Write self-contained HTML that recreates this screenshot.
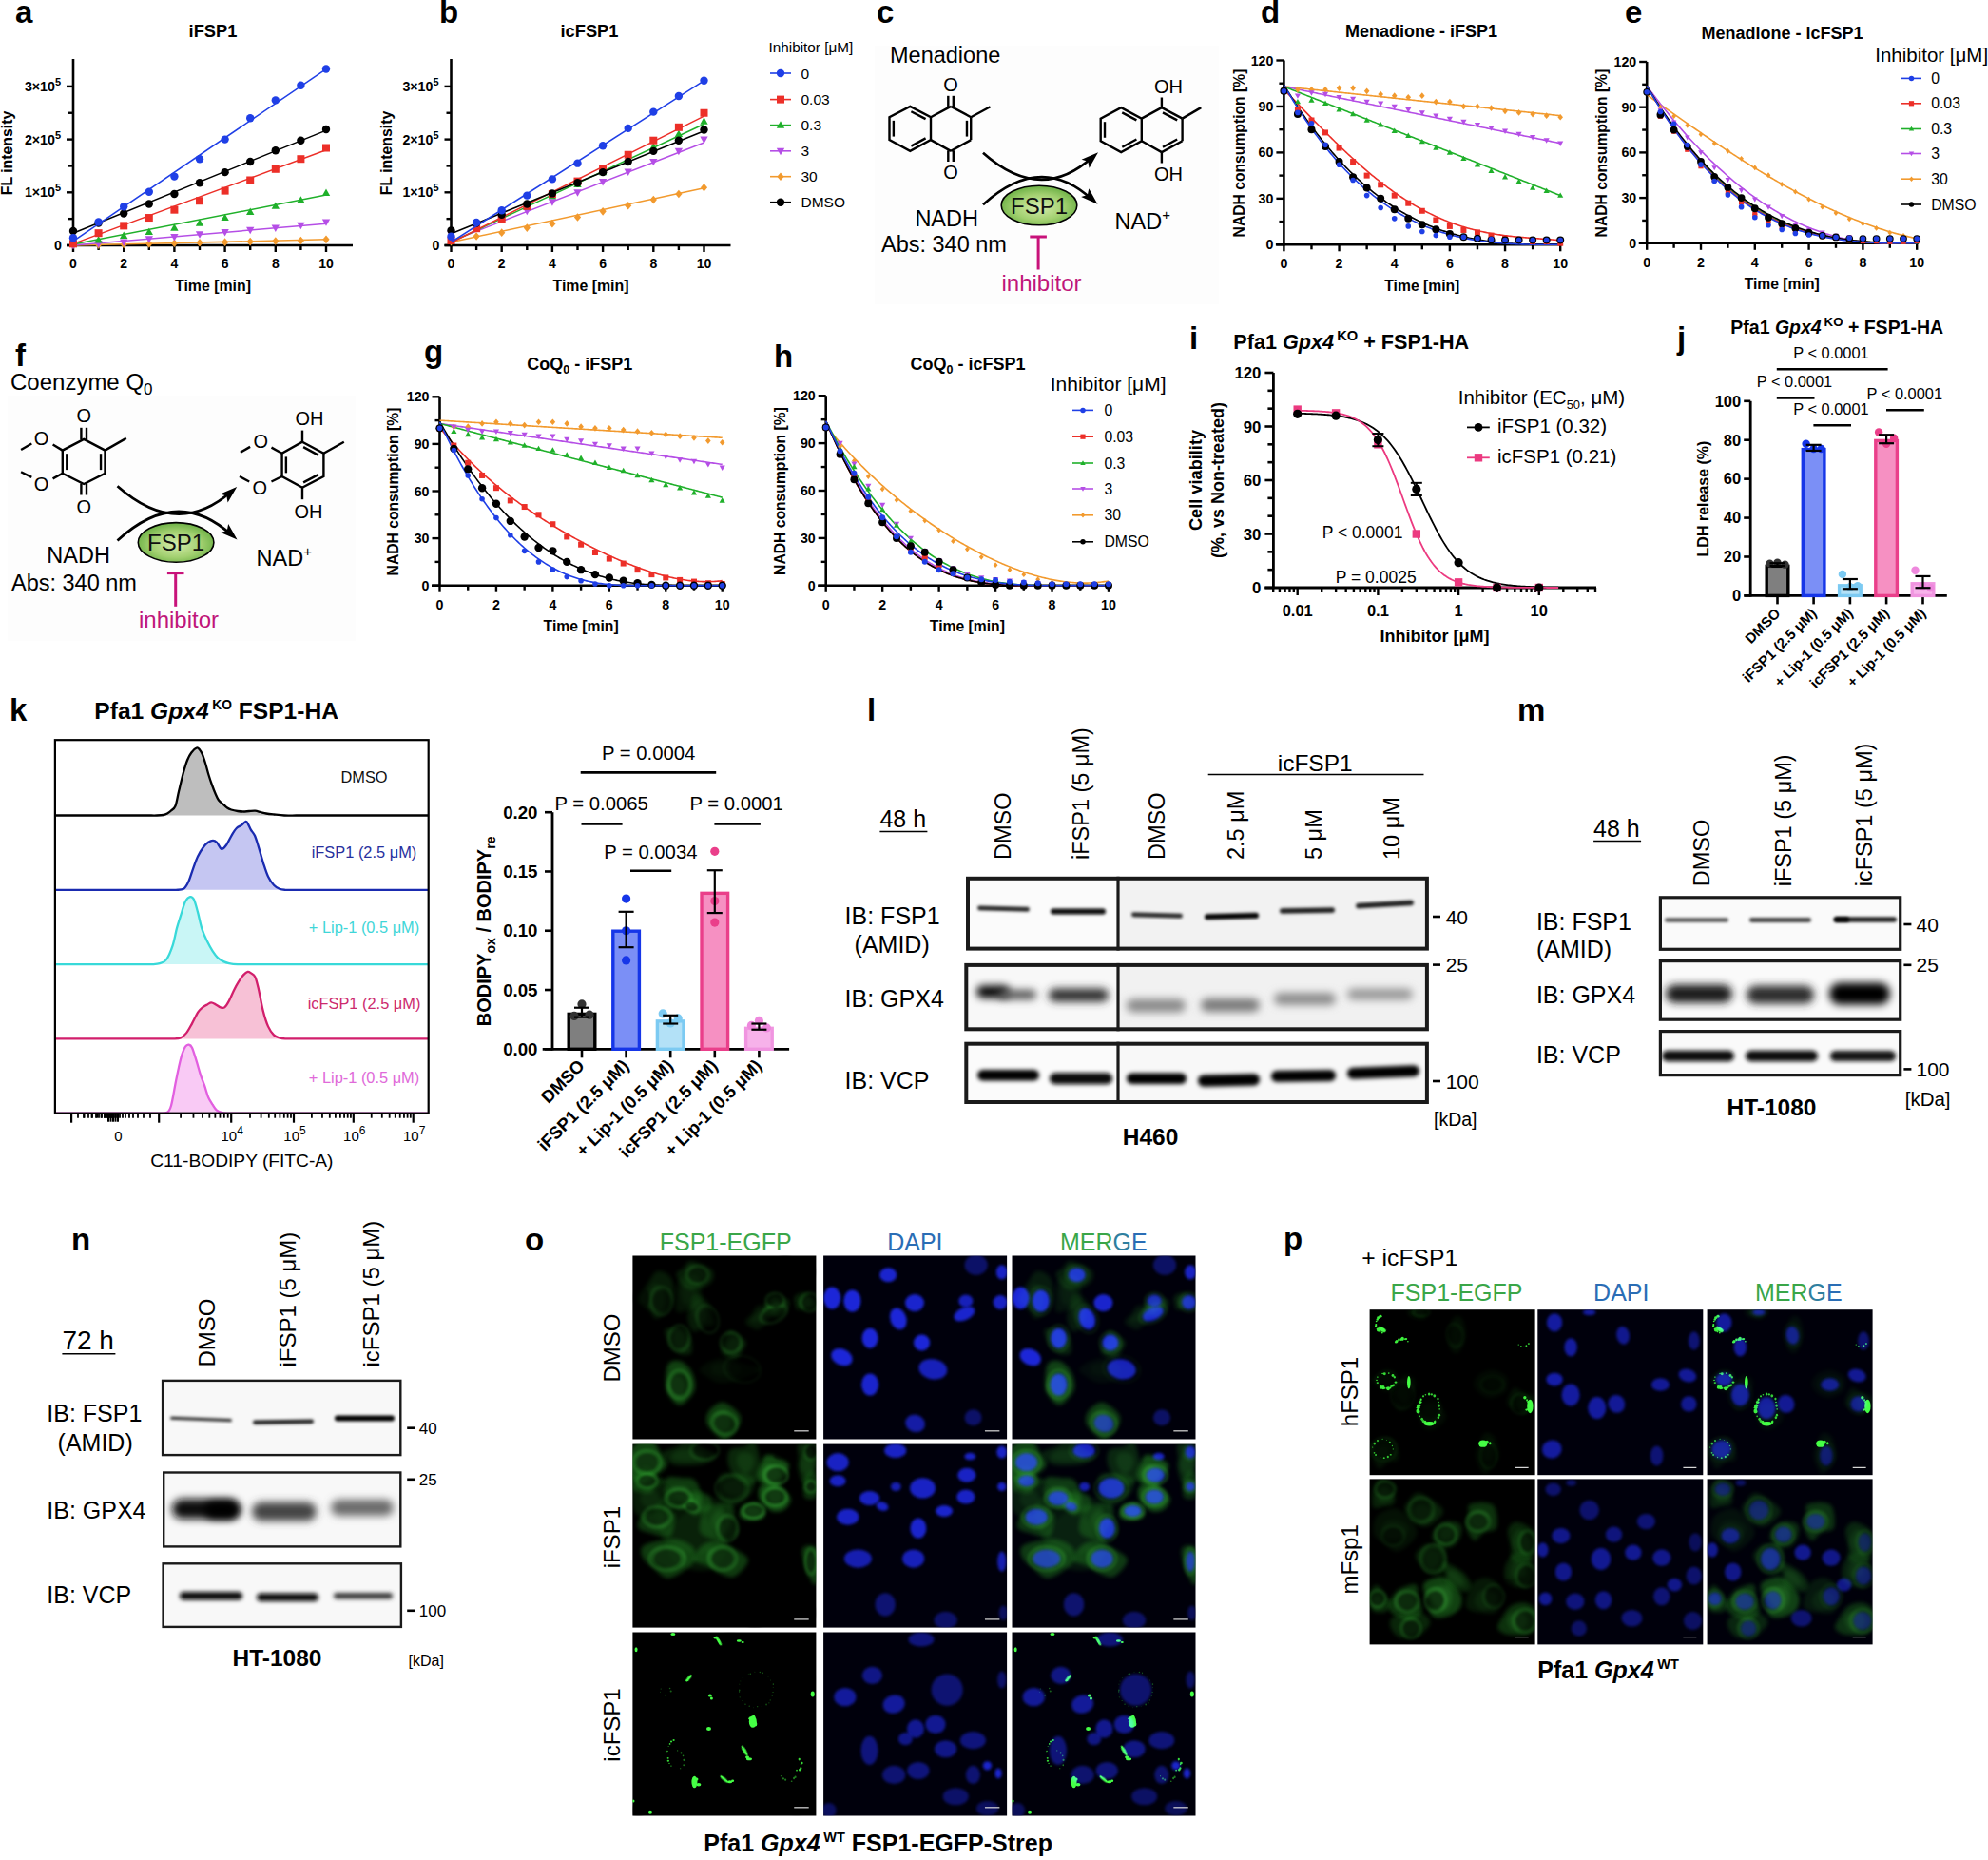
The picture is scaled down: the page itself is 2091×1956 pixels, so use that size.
<!DOCTYPE html>
<html lang="en"><head><meta charset="utf-8"><title>FSP1 inhibitor figure</title>
<style>
html,body{margin:0;padding:0;background:#fff;width:2091px;height:1956px;overflow:hidden;}
svg{display:block;}
svg text{font-family:"Liberation Sans", Arial, Helvetica, sans-serif;}
</style></head><body>
<svg width="2091" height="1956" viewBox="0 0 2091 1956">
<defs>
<radialGradient id="fspgrad" cx="0.5" cy="0.55" r="0.6"><stop offset="0" stop-color="#d6ecac"/><stop offset="0.55" stop-color="#a2d070"/><stop offset="1" stop-color="#5ea83a"/></radialGradient>
<filter id="b1" x="-20%" y="-200%" width="140%" height="500%"><feGaussianBlur stdDeviation="1.5"/></filter>
<filter id="b2" x="-20%" y="-100%" width="140%" height="300%"><feGaussianBlur stdDeviation="2.3"/></filter>
<filter id="b3" x="-30%" y="-100%" width="160%" height="300%"><feGaussianBlur stdDeviation="4.2"/></filter>
<filter id="gb4" x="-50%" y="-50%" width="200%" height="200%"><feGaussianBlur stdDeviation="4"/></filter>
<filter id="gb2" x="-50%" y="-50%" width="200%" height="200%"><feGaussianBlur stdDeviation="2.2"/></filter>
<filter id="gb1" x="-50%" y="-50%" width="200%" height="200%"><feGaussianBlur stdDeviation="1.2"/></filter>
<filter id="gb15" x="-50%" y="-50%" width="200%" height="200%"><feGaussianBlur stdDeviation="1.6"/></filter>
<filter id="gb3" x="-50%" y="-50%" width="200%" height="200%"><feGaussianBlur stdDeviation="3"/></filter>
<filter id="gb06" x="-100%" y="-100%" width="300%" height="300%"><feGaussianBlur stdDeviation="0.6"/></filter>
<clipPath id="clipL"><rect x="1016" y="921.8" width="487" height="78"/><rect x="1014.3" y="1012.9" width="488.6" height="71.4"/><rect x="1014.3" y="1095.7" width="488.6" height="65.3"/></clipPath>
<clipPath id="clipM"><rect x="1744.8" y="942.2" width="255.5" height="57.7"/><rect x="1744.8" y="1009" width="255.5" height="64.8"/><rect x="1744.8" y="1083" width="255.5" height="49.2"/></clipPath>
<clipPath id="clipN"><rect x="169.9" y="1450.7" width="252.6" height="80.6"/><rect x="171" y="1547.3" width="251.5" height="80.3"/><rect x="170.4" y="1643.1" width="252.7" height="69"/></clipPath>
<clipPath id="ct665_1320"><rect x="665.4" y="1320.5" width="193" height="193"/></clipPath><clipPath id="ct866_1320"><rect x="866.1" y="1320.5" width="193" height="193"/></clipPath><clipPath id="ct1064_1320"><rect x="1064.5" y="1320.5" width="193" height="193"/></clipPath><clipPath id="ct665_1518"><rect x="665.4" y="1518.6" width="193" height="193"/></clipPath><clipPath id="ct866_1518"><rect x="866.1" y="1518.6" width="193" height="193"/></clipPath><clipPath id="ct1064_1518"><rect x="1064.5" y="1518.6" width="193" height="193"/></clipPath><clipPath id="ct665_1716"><rect x="665.4" y="1716.5" width="193" height="193"/></clipPath><clipPath id="ct866_1716"><rect x="866.1" y="1716.5" width="193" height="193"/></clipPath><clipPath id="ct1064_1716"><rect x="1064.5" y="1716.5" width="193" height="193"/></clipPath><clipPath id="ct1440_1377"><rect x="1440.6" y="1377.2" width="174" height="174"/></clipPath><clipPath id="ct1617_1377"><rect x="1617.3" y="1377.2" width="174" height="174"/></clipPath><clipPath id="ct1795_1377"><rect x="1795.6" y="1377.2" width="174" height="174"/></clipPath><clipPath id="ct1440_1555"><rect x="1440.6" y="1555.4" width="174" height="174"/></clipPath><clipPath id="ct1617_1555"><rect x="1617.3" y="1555.4" width="174" height="174"/></clipPath><clipPath id="ct1795_1555"><rect x="1795.6" y="1555.4" width="174" height="174"/></clipPath>
</defs>
<rect width="2091" height="1956" fill="#fff"/>
<text x="16" y="24" font-size="33" text-anchor="start" fill="#000" font-weight="bold" >a</text>
<line x1="77" y1="62" x2="77" y2="259.2" stroke="#000" stroke-width="2.6" />
<line x1="70" y1="258" x2="371" y2="258" stroke="#000" stroke-width="2.6" />
<line x1="77" y1="258" x2="77" y2="265" stroke="#000" stroke-width="2.4" />
<line x1="103.6" y1="258" x2="103.6" y2="263" stroke="#000" stroke-width="2.4" />
<line x1="130.2" y1="258" x2="130.2" y2="265" stroke="#000" stroke-width="2.4" />
<line x1="156.8" y1="258" x2="156.8" y2="263" stroke="#000" stroke-width="2.4" />
<line x1="183.4" y1="258" x2="183.4" y2="265" stroke="#000" stroke-width="2.4" />
<line x1="210" y1="258" x2="210" y2="263" stroke="#000" stroke-width="2.4" />
<line x1="236.6" y1="258" x2="236.6" y2="265" stroke="#000" stroke-width="2.4" />
<line x1="263.2" y1="258" x2="263.2" y2="263" stroke="#000" stroke-width="2.4" />
<line x1="289.8" y1="258" x2="289.8" y2="265" stroke="#000" stroke-width="2.4" />
<line x1="316.4" y1="258" x2="316.4" y2="263" stroke="#000" stroke-width="2.4" />
<line x1="343" y1="258" x2="343" y2="265" stroke="#000" stroke-width="2.4" />
<text x="77" y="281.5" font-size="14" text-anchor="middle" fill="#000" font-weight="bold" >0</text>
<text x="130.2" y="281.5" font-size="14" text-anchor="middle" fill="#000" font-weight="bold" >2</text>
<text x="183.4" y="281.5" font-size="14" text-anchor="middle" fill="#000" font-weight="bold" >4</text>
<text x="236.6" y="281.5" font-size="14" text-anchor="middle" fill="#000" font-weight="bold" >6</text>
<text x="289.8" y="281.5" font-size="14" text-anchor="middle" fill="#000" font-weight="bold" >8</text>
<text x="343" y="281.5" font-size="14" text-anchor="middle" fill="#000" font-weight="bold" >10</text>
<line x1="70" y1="258" x2="77" y2="258" stroke="#000" stroke-width="2.4" />
<line x1="70" y1="202.3" x2="77" y2="202.3" stroke="#000" stroke-width="2.4" />
<line x1="70" y1="146.6" x2="77" y2="146.6" stroke="#000" stroke-width="2.4" />
<line x1="70" y1="90.9" x2="77" y2="90.9" stroke="#000" stroke-width="2.4" />
<line x1="72" y1="230.15" x2="77" y2="230.15" stroke="#000" stroke-width="2.4" />
<line x1="72" y1="174.45" x2="77" y2="174.45" stroke="#000" stroke-width="2.4" />
<line x1="72" y1="118.75" x2="77" y2="118.75" stroke="#000" stroke-width="2.4" />
<text x="65" y="263" font-size="14.2" text-anchor="end" font-weight="bold">0</text>
<text x="64" y="207.3" font-size="14.2" text-anchor="end" font-weight="bold">1×10<tspan dy="-6" font-size="11">5</tspan></text>
<text x="64" y="151.6" font-size="14.2" text-anchor="end" font-weight="bold">2×10<tspan dy="-6" font-size="11">5</tspan></text>
<text x="64" y="95.9" font-size="14.2" text-anchor="end" font-weight="bold">3×10<tspan dy="-6" font-size="11">5</tspan></text>
<polyline points="77,258 343,251.87" fill="none" stroke="#f29a2e" stroke-width="1.5" />
<polygon points="77,253.12 80.6,257.44 77,261.76 73.4,257.44" fill="#f29a2e"/>
<polygon points="103.6,253.12 107.2,257.44 103.6,261.76 100,257.44" fill="#f29a2e"/>
<polygon points="130.2,252.57 133.8,256.89 130.2,261.21 126.6,256.89" fill="#f29a2e"/>
<polygon points="156.8,252.01 160.4,256.33 156.8,260.65 153.2,256.33" fill="#f29a2e"/>
<polygon points="183.4,251.45 187,255.77 183.4,260.09 179.8,255.77" fill="#f29a2e"/>
<polygon points="210,250.9 213.6,255.22 210,259.54 206.4,255.22" fill="#f29a2e"/>
<polygon points="236.6,250.34 240.2,254.66 236.6,258.98 233,254.66" fill="#f29a2e"/>
<polygon points="263.2,249.78 266.8,254.1 263.2,258.42 259.6,254.1" fill="#f29a2e"/>
<polygon points="289.8,249.22 293.4,253.54 289.8,257.86 286.2,253.54" fill="#f29a2e"/>
<polygon points="316.4,248.67 320,252.99 316.4,257.31 312.8,252.99" fill="#f29a2e"/>
<polygon points="343,247.55 346.6,251.87 343,256.19 339.4,251.87" fill="#f29a2e"/>
<polyline points="77,258 343,235.16" fill="none" stroke="#b54ee6" stroke-width="1.5" />
<polygon points="77,262.37 81.18,254.96 72.82,254.96" fill="#b54ee6"/>
<polygon points="103.6,260.7 107.78,253.29 99.42,253.29" fill="#b54ee6"/>
<polygon points="130.2,259.03 134.38,251.62 126.02,251.62" fill="#b54ee6"/>
<polygon points="156.8,255.69 160.98,248.28 152.62,248.28" fill="#b54ee6"/>
<polygon points="183.4,253.46 187.58,246.05 179.22,246.05" fill="#b54ee6"/>
<polygon points="210,250.67 214.18,243.26 205.82,243.26" fill="#b54ee6"/>
<polygon points="236.6,248.44 240.78,241.03 232.42,241.03" fill="#b54ee6"/>
<polygon points="263.2,246.22 267.38,238.81 259.02,238.81" fill="#b54ee6"/>
<polygon points="289.8,243.99 293.98,236.58 285.62,236.58" fill="#b54ee6"/>
<polygon points="316.4,241.2 320.58,233.79 312.22,233.79" fill="#b54ee6"/>
<polygon points="343,237.86 347.18,230.45 338.82,230.45" fill="#b54ee6"/>
<polyline points="77,256.89 343,205.09" fill="none" stroke="#1fb02a" stroke-width="1.5" />
<polygon points="77,252.52 81.18,259.93 72.82,259.93" fill="#1fb02a"/>
<polygon points="103.6,248.06 107.78,255.47 99.42,255.47" fill="#1fb02a"/>
<polygon points="130.2,243.6 134.38,251.01 126.02,251.01" fill="#1fb02a"/>
<polygon points="156.8,239.7 160.98,247.11 152.62,247.11" fill="#1fb02a"/>
<polygon points="183.4,235.25 187.58,242.66 179.22,242.66" fill="#1fb02a"/>
<polygon points="210,230.24 214.18,237.65 205.82,237.65" fill="#1fb02a"/>
<polygon points="236.6,224.67 240.78,232.08 232.42,232.08" fill="#1fb02a"/>
<polygon points="263.2,218.54 267.38,225.95 259.02,225.95" fill="#1fb02a"/>
<polygon points="289.8,212.41 293.98,219.82 285.62,219.82" fill="#1fb02a"/>
<polygon points="316.4,206.28 320.58,213.69 312.22,213.69" fill="#1fb02a"/>
<polygon points="343,198.49 347.18,205.9 338.82,205.9" fill="#1fb02a"/>
<polyline points="77,256.33 343,157.74" fill="none" stroke="#ec2f28" stroke-width="1.5" />
<rect x="73" y="252.33" width="8" height="8" fill="#ec2f28"/>
<rect x="99.6" y="241.19" width="8" height="8" fill="#ec2f28"/>
<rect x="126.2" y="233.39" width="8" height="8" fill="#ec2f28"/>
<rect x="152.8" y="225.04" width="8" height="8" fill="#ec2f28"/>
<rect x="179.4" y="216.68" width="8" height="8" fill="#ec2f28"/>
<rect x="206" y="207.21" width="8" height="8" fill="#ec2f28"/>
<rect x="232.6" y="196.63" width="8" height="8" fill="#ec2f28"/>
<rect x="259.2" y="185.49" width="8" height="8" fill="#ec2f28"/>
<rect x="285.8" y="173.79" width="8" height="8" fill="#ec2f28"/>
<rect x="312.4" y="163.21" width="8" height="8" fill="#ec2f28"/>
<rect x="339" y="151.51" width="8" height="8" fill="#ec2f28"/>
<polyline points="77,245.19 343,137.13" fill="none" stroke="#000" stroke-width="1.5" />
<circle cx="77" cy="242.96" r="4.2" fill="#000"/>
<circle cx="103.6" cy="234.61" r="4.2" fill="#000"/>
<circle cx="130.2" cy="224.58" r="4.2" fill="#000"/>
<circle cx="156.8" cy="214.55" r="4.2" fill="#000"/>
<circle cx="183.4" cy="203.97" r="4.2" fill="#000"/>
<circle cx="210" cy="192.27" r="4.2" fill="#000"/>
<circle cx="236.6" cy="181.13" r="4.2" fill="#000"/>
<circle cx="263.2" cy="169.99" r="4.2" fill="#000"/>
<circle cx="289.8" cy="158.3" r="4.2" fill="#000"/>
<circle cx="316.4" cy="147.71" r="4.2" fill="#000"/>
<circle cx="343" cy="136.02" r="4.2" fill="#000"/>
<polyline points="77,253.54 343,72.52" fill="none" stroke="#1f3fe6" stroke-width="1.5" />
<circle cx="77" cy="250.2" r="4.2" fill="#1f3fe6"/>
<circle cx="103.6" cy="233.49" r="4.2" fill="#1f3fe6"/>
<circle cx="130.2" cy="217.34" r="4.2" fill="#1f3fe6"/>
<circle cx="156.8" cy="201.74" r="4.2" fill="#1f3fe6"/>
<circle cx="183.4" cy="185.59" r="4.2" fill="#1f3fe6"/>
<circle cx="210" cy="167.21" r="4.2" fill="#1f3fe6"/>
<circle cx="236.6" cy="146.6" r="4.2" fill="#1f3fe6"/>
<circle cx="263.2" cy="124.32" r="4.2" fill="#1f3fe6"/>
<circle cx="289.8" cy="105.38" r="4.2" fill="#1f3fe6"/>
<circle cx="316.4" cy="89.79" r="4.2" fill="#1f3fe6"/>
<circle cx="343" cy="72.52" r="4.2" fill="#1f3fe6"/>
<text x="224" y="38.5" font-size="18.3" text-anchor="middle" fill="#000" font-weight="bold" >iFSP1</text>
<text x="224" y="306" font-size="15.9" text-anchor="middle" fill="#000" font-weight="bold" >Time [min]</text>
<text transform="translate(13,161) rotate(-90)" font-size="15.8" text-anchor="middle" fill="#000" font-weight="bold">FL intensity</text>
<text x="462" y="24" font-size="33" text-anchor="start" fill="#000" font-weight="bold" >b</text>
<line x1="474.5" y1="62" x2="474.5" y2="259.2" stroke="#000" stroke-width="2.6" />
<line x1="467.5" y1="258" x2="768.5" y2="258" stroke="#000" stroke-width="2.6" />
<line x1="474.5" y1="258" x2="474.5" y2="265" stroke="#000" stroke-width="2.4" />
<line x1="501.1" y1="258" x2="501.1" y2="263" stroke="#000" stroke-width="2.4" />
<line x1="527.7" y1="258" x2="527.7" y2="265" stroke="#000" stroke-width="2.4" />
<line x1="554.3" y1="258" x2="554.3" y2="263" stroke="#000" stroke-width="2.4" />
<line x1="580.9" y1="258" x2="580.9" y2="265" stroke="#000" stroke-width="2.4" />
<line x1="607.5" y1="258" x2="607.5" y2="263" stroke="#000" stroke-width="2.4" />
<line x1="634.1" y1="258" x2="634.1" y2="265" stroke="#000" stroke-width="2.4" />
<line x1="660.7" y1="258" x2="660.7" y2="263" stroke="#000" stroke-width="2.4" />
<line x1="687.3" y1="258" x2="687.3" y2="265" stroke="#000" stroke-width="2.4" />
<line x1="713.9" y1="258" x2="713.9" y2="263" stroke="#000" stroke-width="2.4" />
<line x1="740.5" y1="258" x2="740.5" y2="265" stroke="#000" stroke-width="2.4" />
<text x="474.5" y="281.5" font-size="14" text-anchor="middle" fill="#000" font-weight="bold" >0</text>
<text x="527.7" y="281.5" font-size="14" text-anchor="middle" fill="#000" font-weight="bold" >2</text>
<text x="580.9" y="281.5" font-size="14" text-anchor="middle" fill="#000" font-weight="bold" >4</text>
<text x="634.1" y="281.5" font-size="14" text-anchor="middle" fill="#000" font-weight="bold" >6</text>
<text x="687.3" y="281.5" font-size="14" text-anchor="middle" fill="#000" font-weight="bold" >8</text>
<text x="740.5" y="281.5" font-size="14" text-anchor="middle" fill="#000" font-weight="bold" >10</text>
<line x1="467.5" y1="258" x2="474.5" y2="258" stroke="#000" stroke-width="2.4" />
<line x1="467.5" y1="202.3" x2="474.5" y2="202.3" stroke="#000" stroke-width="2.4" />
<line x1="467.5" y1="146.6" x2="474.5" y2="146.6" stroke="#000" stroke-width="2.4" />
<line x1="467.5" y1="90.9" x2="474.5" y2="90.9" stroke="#000" stroke-width="2.4" />
<line x1="469.5" y1="230.15" x2="474.5" y2="230.15" stroke="#000" stroke-width="2.4" />
<line x1="469.5" y1="174.45" x2="474.5" y2="174.45" stroke="#000" stroke-width="2.4" />
<line x1="469.5" y1="118.75" x2="474.5" y2="118.75" stroke="#000" stroke-width="2.4" />
<text x="462.5" y="263" font-size="14.2" text-anchor="end" font-weight="bold">0</text>
<text x="461.5" y="207.3" font-size="14.2" text-anchor="end" font-weight="bold">1×10<tspan dy="-6" font-size="11">5</tspan></text>
<text x="461.5" y="151.6" font-size="14.2" text-anchor="end" font-weight="bold">2×10<tspan dy="-6" font-size="11">5</tspan></text>
<text x="461.5" y="95.9" font-size="14.2" text-anchor="end" font-weight="bold">3×10<tspan dy="-6" font-size="11">5</tspan></text>
<polyline points="474.5,254.66 740.5,197.84" fill="none" stroke="#f29a2e" stroke-width="1.5" />
<polygon points="474.5,249.78 478.1,254.1 474.5,258.42 470.9,254.1" fill="#f29a2e"/>
<polygon points="501.1,244.21 504.7,248.53 501.1,252.85 497.5,248.53" fill="#f29a2e"/>
<polygon points="527.7,240.31 531.3,244.63 527.7,248.95 524.1,244.63" fill="#f29a2e"/>
<polygon points="554.3,235.3 557.9,239.62 554.3,243.94 550.7,239.62" fill="#f29a2e"/>
<polygon points="580.9,230.84 584.5,235.16 580.9,239.48 577.3,235.16" fill="#f29a2e"/>
<polygon points="607.5,224.16 611.1,228.48 607.5,232.8 603.9,228.48" fill="#f29a2e"/>
<polygon points="634.1,218.03 637.7,222.35 634.1,226.67 630.5,222.35" fill="#f29a2e"/>
<polygon points="660.7,211.91 664.3,216.22 660.7,220.54 657.1,216.22" fill="#f29a2e"/>
<polygon points="687.3,205.78 690.9,210.1 687.3,214.42 683.7,210.1" fill="#f29a2e"/>
<polygon points="713.9,199.65 717.5,203.97 713.9,208.29 710.3,203.97" fill="#f29a2e"/>
<polygon points="740.5,192.97 744.1,197.29 740.5,201.61 736.9,197.29" fill="#f29a2e"/>
<polyline points="474.5,253.54 740.5,149.94" fill="none" stroke="#b54ee6" stroke-width="1.5" />
<polygon points="474.5,250.67 478.68,243.26 470.32,243.26" fill="#b54ee6"/>
<polygon points="501.1,242.32 505.28,234.91 496.92,234.91" fill="#b54ee6"/>
<polygon points="527.7,235.08 531.88,227.67 523.52,227.67" fill="#b54ee6"/>
<polygon points="554.3,226.16 558.48,218.75 550.12,218.75" fill="#b54ee6"/>
<polygon points="580.9,216.7 585.08,209.29 576.72,209.29" fill="#b54ee6"/>
<polygon points="607.5,206.67 611.68,199.26 603.32,199.26" fill="#b54ee6"/>
<polygon points="634.1,195.53 638.28,188.12 629.92,188.12" fill="#b54ee6"/>
<polygon points="660.7,184.95 664.88,177.54 656.52,177.54" fill="#b54ee6"/>
<polygon points="687.3,174.36 691.48,166.95 683.12,166.95" fill="#b54ee6"/>
<polygon points="713.9,163.22 718.08,155.81 709.72,155.81" fill="#b54ee6"/>
<polygon points="740.5,150.97 744.68,143.56 736.32,143.56" fill="#b54ee6"/>
<polyline points="474.5,254.66 740.5,130.45" fill="none" stroke="#1fb02a" stroke-width="1.5" />
<polygon points="474.5,249.17 478.68,256.58 470.32,256.58" fill="#1fb02a"/>
<polygon points="501.1,235.25 505.28,242.66 496.92,242.66" fill="#1fb02a"/>
<polygon points="527.7,224.67 531.88,232.08 523.52,232.08" fill="#1fb02a"/>
<polygon points="554.3,212.97 558.48,220.38 550.12,220.38" fill="#1fb02a"/>
<polygon points="580.9,201.83 585.08,209.24 576.72,209.24" fill="#1fb02a"/>
<polygon points="607.5,189.57 611.68,196.98 603.32,196.98" fill="#1fb02a"/>
<polygon points="634.1,176.76 638.28,184.17 629.92,184.17" fill="#1fb02a"/>
<polygon points="660.7,162.84 664.88,170.25 656.52,170.25" fill="#1fb02a"/>
<polygon points="687.3,150.03 691.48,157.44 683.12,157.44" fill="#1fb02a"/>
<polygon points="713.9,136.66 718.08,144.07 709.72,144.07" fill="#1fb02a"/>
<polygon points="740.5,123.29 744.68,130.7 736.32,130.7" fill="#1fb02a"/>
<polyline points="474.5,255.22 740.5,122.09" fill="none" stroke="#ec2f28" stroke-width="1.5" />
<rect x="470.5" y="248.99" width="8" height="8" fill="#ec2f28"/>
<rect x="497.1" y="236.18" width="8" height="8" fill="#ec2f28"/>
<rect x="523.7" y="226.15" width="8" height="8" fill="#ec2f28"/>
<rect x="550.3" y="212.78" width="8" height="8" fill="#ec2f28"/>
<rect x="576.9" y="199.97" width="8" height="8" fill="#ec2f28"/>
<rect x="603.5" y="186.6" width="8" height="8" fill="#ec2f28"/>
<rect x="630.1" y="173.79" width="8" height="8" fill="#ec2f28"/>
<rect x="656.7" y="158.75" width="8" height="8" fill="#ec2f28"/>
<rect x="683.3" y="143.71" width="8" height="8" fill="#ec2f28"/>
<rect x="709.9" y="129.79" width="8" height="8" fill="#ec2f28"/>
<rect x="736.5" y="114.75" width="8" height="8" fill="#ec2f28"/>
<polyline points="474.5,245.75 740.5,137.69" fill="none" stroke="#000" stroke-width="1.5" />
<circle cx="474.5" cy="242.4" r="4.2" fill="#000"/>
<circle cx="501.1" cy="234.61" r="4.2" fill="#000"/>
<circle cx="527.7" cy="225.69" r="4.2" fill="#000"/>
<circle cx="554.3" cy="214.55" r="4.2" fill="#000"/>
<circle cx="580.9" cy="203.41" r="4.2" fill="#000"/>
<circle cx="607.5" cy="192.27" r="4.2" fill="#000"/>
<circle cx="634.1" cy="181.13" r="4.2" fill="#000"/>
<circle cx="660.7" cy="169.99" r="4.2" fill="#000"/>
<circle cx="687.3" cy="158.85" r="4.2" fill="#000"/>
<circle cx="713.9" cy="147.71" r="4.2" fill="#000"/>
<circle cx="740.5" cy="136.57" r="4.2" fill="#000"/>
<polyline points="474.5,254.66 740.5,84.77" fill="none" stroke="#1f3fe6" stroke-width="1.5" />
<circle cx="474.5" cy="248.81" r="4.2" fill="#1f3fe6"/>
<circle cx="501.1" cy="234.05" r="4.2" fill="#1f3fe6"/>
<circle cx="527.7" cy="221.24" r="4.2" fill="#1f3fe6"/>
<circle cx="554.3" cy="205.64" r="4.2" fill="#1f3fe6"/>
<circle cx="580.9" cy="188.38" r="4.2" fill="#1f3fe6"/>
<circle cx="607.5" cy="171.66" r="4.2" fill="#1f3fe6"/>
<circle cx="634.1" cy="153.28" r="4.2" fill="#1f3fe6"/>
<circle cx="660.7" cy="134.9" r="4.2" fill="#1f3fe6"/>
<circle cx="687.3" cy="117.64" r="4.2" fill="#1f3fe6"/>
<circle cx="713.9" cy="100.93" r="4.2" fill="#1f3fe6"/>
<circle cx="740.5" cy="84.77" r="4.2" fill="#1f3fe6"/>
<text x="620" y="38.5" font-size="18.3" text-anchor="middle" fill="#000" font-weight="bold" >icFSP1</text>
<text x="621.5" y="306" font-size="15.9" text-anchor="middle" fill="#000" font-weight="bold" >Time [min]</text>
<text transform="translate(412,161) rotate(-90)" font-size="15.8" text-anchor="middle" fill="#000" font-weight="bold">FL intensity</text>
<text x="808.5" y="55" font-size="15.3" text-anchor="start" fill="#000" >Inhibitor [μM]</text>
<line x1="810" y1="77" x2="832" y2="77" stroke="#1f3fe6" stroke-width="1.6" />
<circle cx="821" cy="77" r="4.2" fill="#1f3fe6"/>
<text x="842.5" y="82.58" font-size="15.5" text-anchor="start" fill="#000" >0</text>
<line x1="810" y1="104.6" x2="832" y2="104.6" stroke="#ec2f28" stroke-width="1.6" />
<rect x="817" y="100.6" width="8" height="8" fill="#ec2f28"/>
<text x="842.5" y="110.18" font-size="15.5" text-anchor="start" fill="#000" >0.03</text>
<line x1="810" y1="131.6" x2="832" y2="131.6" stroke="#1fb02a" stroke-width="1.6" />
<polygon points="821,127.23 825.18,134.64 816.82,134.64" fill="#1fb02a"/>
<text x="842.5" y="137.18" font-size="15.5" text-anchor="start" fill="#000" >0.3</text>
<line x1="810" y1="158.8" x2="832" y2="158.8" stroke="#b54ee6" stroke-width="1.6" />
<polygon points="821,163.17 825.18,155.76 816.82,155.76" fill="#b54ee6"/>
<text x="842.5" y="164.38" font-size="15.5" text-anchor="start" fill="#000" >3</text>
<line x1="810" y1="185.7" x2="832" y2="185.7" stroke="#f29a2e" stroke-width="1.6" />
<polygon points="821,181.38 824.6,185.7 821,190.02 817.4,185.7" fill="#f29a2e"/>
<text x="842.5" y="191.28" font-size="15.5" text-anchor="start" fill="#000" >30</text>
<line x1="810" y1="212.7" x2="832" y2="212.7" stroke="#000" stroke-width="1.6" />
<circle cx="821" cy="212.7" r="4.2" fill="#000"/>
<text x="842.5" y="218.28" font-size="15.5" text-anchor="start" fill="#000" >DMSO</text>
<rect x="920" y="48" width="362" height="272" fill="#fdfdfd"/>
<text x="922" y="24" font-size="33" text-anchor="start" fill="#000" font-weight="bold" >c</text>
<text x="936" y="66" font-size="23.5" text-anchor="start" fill="#000" >Menadione</text>
<path d="M957.3,111.9 L979,123.2 L979,147.1 L957.3,158.9 L935.5,147.1 L935.5,123.2 Z" fill="none" stroke="#000" stroke-width="2.4" stroke-linejoin="miter"/>
<line x1="939.86" y1="126.85" x2="939.86" y2="143.58" stroke="#000" stroke-width="2.4" stroke-linecap="butt"/>
<line x1="958.38" y1="117.19" x2="973.58" y2="125.1" stroke="#000" stroke-width="2.4" stroke-linecap="butt"/>
<line x1="958.38" y1="153.63" x2="973.58" y2="145.37" stroke="#000" stroke-width="2.4" stroke-linecap="butt"/>
<line x1="979" y1="123.2" x2="1000.1" y2="111.9" stroke="#000" stroke-width="2.4" stroke-linecap="butt"/>
<line x1="1000.1" y1="111.9" x2="1021.2" y2="123.2" stroke="#000" stroke-width="2.4" stroke-linecap="butt"/>
<line x1="1021.2" y1="123.2" x2="1021.2" y2="147.1" stroke="#000" stroke-width="2.4" stroke-linecap="butt"/>
<line x1="1021.2" y1="147.1" x2="1000.1" y2="158.9" stroke="#000" stroke-width="2.4" stroke-linecap="butt"/>
<line x1="1000.1" y1="158.9" x2="979" y2="147.1" stroke="#000" stroke-width="2.4" stroke-linecap="butt"/>
<line x1="1016.98" y1="126.85" x2="1016.98" y2="143.58" stroke="#000" stroke-width="2.4" stroke-linecap="butt"/>
<line x1="997.3" y1="100.8" x2="997.3" y2="112.5" stroke="#000" stroke-width="2.4" stroke-linecap="butt"/>
<line x1="1002.8" y1="100.8" x2="1002.8" y2="112.5" stroke="#000" stroke-width="2.4" stroke-linecap="butt"/>
<line x1="997.3" y1="158.3" x2="997.3" y2="170" stroke="#000" stroke-width="2.4" stroke-linecap="butt"/>
<line x1="1002.8" y1="158.3" x2="1002.8" y2="170" stroke="#000" stroke-width="2.4" stroke-linecap="butt"/>
<text x="1000" y="95.5" font-size="20" text-anchor="middle" fill="#000" >O</text>
<text x="1000" y="188.3" font-size="20" text-anchor="middle" fill="#000" >O</text>
<line x1="1021.2" y1="123.2" x2="1041.5" y2="112.3" stroke="#000" stroke-width="2.4" stroke-linecap="butt"/>
<path d="M1179.2,113.1 L1200.8,124.6 L1200.8,148.3 L1179.2,160.1 L1157.7,148.3 L1157.7,124.6 Z" fill="none" stroke="#000" stroke-width="2.4" stroke-linejoin="miter"/>
<line x1="1162" y1="128.19" x2="1162" y2="144.78" stroke="#000" stroke-width="2.4" stroke-linecap="butt"/>
<line x1="1180.28" y1="118.38" x2="1195.4" y2="126.42" stroke="#000" stroke-width="2.4" stroke-linecap="butt"/>
<line x1="1180.28" y1="154.81" x2="1195.4" y2="146.55" stroke="#000" stroke-width="2.4" stroke-linecap="butt"/>
<line x1="1200.8" y1="124.6" x2="1221.9" y2="113.1" stroke="#000" stroke-width="2.4" stroke-linecap="butt"/>
<line x1="1221.9" y1="113.1" x2="1243.6" y2="124.6" stroke="#000" stroke-width="2.4" stroke-linecap="butt"/>
<line x1="1243.6" y1="124.6" x2="1243.6" y2="148.3" stroke="#000" stroke-width="2.4" stroke-linecap="butt"/>
<line x1="1243.6" y1="148.3" x2="1221.9" y2="160.1" stroke="#000" stroke-width="2.4" stroke-linecap="butt"/>
<line x1="1221.9" y1="160.1" x2="1200.8" y2="148.3" stroke="#000" stroke-width="2.4" stroke-linecap="butt"/>
<line x1="1222.98" y1="118.38" x2="1238.17" y2="126.42" stroke="#000" stroke-width="2.4" stroke-linecap="butt"/>
<line x1="1222.98" y1="154.81" x2="1238.17" y2="146.55" stroke="#000" stroke-width="2.4" stroke-linecap="butt"/>
<line x1="1221.9" y1="113.1" x2="1221.9" y2="102.5" stroke="#000" stroke-width="2.4" stroke-linecap="butt"/>
<line x1="1221.9" y1="160.1" x2="1221.9" y2="171.5" stroke="#000" stroke-width="2.4" stroke-linecap="butt"/>
<text x="1229" y="97.5" font-size="20" text-anchor="middle" fill="#000" >OH</text>
<text x="1229" y="190" font-size="20" text-anchor="middle" fill="#000" >OH</text>
<line x1="1243.6" y1="124.6" x2="1263.3" y2="113.1" stroke="#000" stroke-width="2.4" stroke-linecap="butt"/>
<path d="M1034,160.7 Q1094.5,214.55 1149,165.2" fill="none" stroke="#000" stroke-width="2.7"/>
<polygon points="1155,160.2 1145.62,176.69 1144.29,169.82 1137.6,167.77" fill="#000"/>
<path d="M1034,215.3 Q1094.5,159.95 1148.5,209.8" fill="none" stroke="#000" stroke-width="2.7"/>
<polygon points="1154.5,214.8 1137.17,207.08 1143.87,205.08 1145.26,198.23" fill="#000"/>
<ellipse cx="1093" cy="216" rx="39.8" ry="20.8" fill="url(#fspgrad)" stroke="#000" stroke-width="1.6"/>
<text x="1093" y="224.6" font-size="24" text-anchor="middle" fill="#111" >FSP1</text>
<text x="962.4" y="237.6" font-size="23.5" text-anchor="start" fill="#000" >NADH</text>
<text x="927" y="264.8" font-size="23.5" text-anchor="start" fill="#000" >Abs: 340 nm</text>
<text x="1172.6" y="240.6" font-size="23.5">NAD<tspan dy="-10" font-size="15">+</tspan></text>
<line x1="1083.3" y1="249" x2="1100.9" y2="249" stroke="#c8127a" stroke-width="3" />
<line x1="1092.1" y1="249" x2="1092.1" y2="283.5" stroke="#c8127a" stroke-width="3" />
<text x="1095.5" y="305.7" font-size="24" text-anchor="middle" fill="#c0157a" >inhibitor</text>
<text x="1326" y="24" font-size="33" text-anchor="start" fill="#000" font-weight="bold" >d</text>
<line x1="1350.4" y1="63.5" x2="1350.4" y2="258.5" stroke="#000" stroke-width="2.6" />
<line x1="1341.9" y1="257.3" x2="1642.7" y2="257.3" stroke="#000" stroke-width="2.6" />
<line x1="1350.4" y1="257.3" x2="1350.4" y2="264.3" stroke="#000" stroke-width="2.4" />
<line x1="1379.48" y1="257.3" x2="1379.48" y2="262.3" stroke="#000" stroke-width="2.4" />
<line x1="1408.56" y1="257.3" x2="1408.56" y2="264.3" stroke="#000" stroke-width="2.4" />
<line x1="1437.64" y1="257.3" x2="1437.64" y2="262.3" stroke="#000" stroke-width="2.4" />
<line x1="1466.72" y1="257.3" x2="1466.72" y2="264.3" stroke="#000" stroke-width="2.4" />
<line x1="1495.8" y1="257.3" x2="1495.8" y2="262.3" stroke="#000" stroke-width="2.4" />
<line x1="1524.88" y1="257.3" x2="1524.88" y2="264.3" stroke="#000" stroke-width="2.4" />
<line x1="1553.96" y1="257.3" x2="1553.96" y2="262.3" stroke="#000" stroke-width="2.4" />
<line x1="1583.04" y1="257.3" x2="1583.04" y2="264.3" stroke="#000" stroke-width="2.4" />
<line x1="1612.12" y1="257.3" x2="1612.12" y2="262.3" stroke="#000" stroke-width="2.4" />
<line x1="1641.2" y1="257.3" x2="1641.2" y2="264.3" stroke="#000" stroke-width="2.4" />
<text x="1350.4" y="282.1" font-size="14.2" text-anchor="middle" fill="#000" font-weight="bold" >0</text>
<text x="1408.56" y="282.1" font-size="14.2" text-anchor="middle" fill="#000" font-weight="bold" >2</text>
<text x="1466.72" y="282.1" font-size="14.2" text-anchor="middle" fill="#000" font-weight="bold" >4</text>
<text x="1524.88" y="282.1" font-size="14.2" text-anchor="middle" fill="#000" font-weight="bold" >6</text>
<text x="1583.04" y="282.1" font-size="14.2" text-anchor="middle" fill="#000" font-weight="bold" >8</text>
<text x="1641.2" y="282.1" font-size="14.2" text-anchor="middle" fill="#000" font-weight="bold" >10</text>
<line x1="1342.4" y1="257.3" x2="1350.4" y2="257.3" stroke="#000" stroke-width="2.4" />
<text x="1339.4" y="262.3" font-size="14.2" text-anchor="end" fill="#000" font-weight="bold" >0</text>
<line x1="1342.4" y1="208.85" x2="1350.4" y2="208.85" stroke="#000" stroke-width="2.4" />
<text x="1339.4" y="213.85" font-size="14.2" text-anchor="end" fill="#000" font-weight="bold" >30</text>
<line x1="1342.4" y1="160.4" x2="1350.4" y2="160.4" stroke="#000" stroke-width="2.4" />
<text x="1339.4" y="165.4" font-size="14.2" text-anchor="end" fill="#000" font-weight="bold" >60</text>
<line x1="1342.4" y1="111.95" x2="1350.4" y2="111.95" stroke="#000" stroke-width="2.4" />
<text x="1339.4" y="116.95" font-size="14.2" text-anchor="end" fill="#000" font-weight="bold" >90</text>
<line x1="1342.4" y1="63.5" x2="1350.4" y2="63.5" stroke="#000" stroke-width="2.4" />
<text x="1339.4" y="68.5" font-size="14.2" text-anchor="end" fill="#000" font-weight="bold" >120</text>
<line x1="1345.4" y1="233.08" x2="1350.4" y2="233.08" stroke="#000" stroke-width="2.4" />
<line x1="1345.4" y1="184.62" x2="1350.4" y2="184.62" stroke="#000" stroke-width="2.4" />
<line x1="1345.4" y1="136.18" x2="1350.4" y2="136.18" stroke="#000" stroke-width="2.4" />
<line x1="1345.4" y1="87.73" x2="1350.4" y2="87.73" stroke="#000" stroke-width="2.4" />
<polyline points="1350.4,90.96 1351.85,91.11 1353.31,91.26 1354.76,91.42 1356.22,91.57 1357.67,91.72 1359.12,91.88 1360.58,92.03 1362.03,92.18 1363.49,92.34 1364.94,92.49 1366.39,92.64 1367.85,92.8 1369.3,92.95 1370.76,93.1 1372.21,93.26 1373.66,93.41 1375.12,93.56 1376.57,93.72 1378.03,93.87 1379.48,94.02 1380.93,94.18 1382.39,94.33 1383.84,94.48 1385.3,94.64 1386.75,94.79 1388.2,94.94 1389.66,95.1 1391.11,95.25 1392.57,95.4 1394.02,95.56 1395.47,95.71 1396.93,95.86 1398.38,96.02 1399.84,96.17 1401.29,96.32 1402.74,96.48 1404.2,96.63 1405.65,96.79 1407.11,96.94 1408.56,97.09 1410.01,97.25 1411.47,97.4 1412.92,97.55 1414.38,97.71 1415.83,97.86 1417.28,98.01 1418.74,98.17 1420.19,98.32 1421.65,98.47 1423.1,98.63 1424.55,98.78 1426.01,98.93 1427.46,99.09 1428.92,99.24 1430.37,99.39 1431.82,99.55 1433.28,99.7 1434.73,99.85 1436.19,100.01 1437.64,100.16 1439.09,100.31 1440.55,100.47 1442,100.62 1443.46,100.77 1444.91,100.93 1446.36,101.08 1447.82,101.23 1449.27,101.39 1450.73,101.54 1452.18,101.69 1453.63,101.85 1455.09,102 1456.54,102.16 1458,102.31 1459.45,102.46 1460.9,102.62 1462.36,102.77 1463.81,102.92 1465.27,103.08 1466.72,103.23 1468.17,103.38 1469.63,103.54 1471.08,103.69 1472.54,103.84 1473.99,104 1475.44,104.15 1476.9,104.3 1478.35,104.46 1479.81,104.61 1481.26,104.76 1482.71,104.92 1484.17,105.07 1485.62,105.22 1487.08,105.38 1488.53,105.53 1489.98,105.68 1491.44,105.84 1492.89,105.99 1494.35,106.14 1495.8,106.3 1497.25,106.45 1498.71,106.6 1500.16,106.76 1501.62,106.91 1503.07,107.06 1504.52,107.22 1505.98,107.37 1507.43,107.52 1508.89,107.68 1510.34,107.83 1511.79,107.99 1513.25,108.14 1514.7,108.29 1516.16,108.45 1517.61,108.6 1519.06,108.75 1520.52,108.91 1521.97,109.06 1523.43,109.21 1524.88,109.37 1526.33,109.52 1527.79,109.67 1529.24,109.83 1530.7,109.98 1532.15,110.13 1533.6,110.29 1535.06,110.44 1536.51,110.59 1537.97,110.75 1539.42,110.9 1540.87,111.05 1542.33,111.21 1543.78,111.36 1545.24,111.51 1546.69,111.67 1548.14,111.82 1549.6,111.97 1551.05,112.13 1552.51,112.28 1553.96,112.43 1555.41,112.59 1556.87,112.74 1558.32,112.89 1559.78,113.05 1561.23,113.2 1562.68,113.36 1564.14,113.51 1565.59,113.66 1567.05,113.82 1568.5,113.97 1569.95,114.12 1571.41,114.28 1572.86,114.43 1574.32,114.58 1575.77,114.74 1577.22,114.89 1578.68,115.04 1580.13,115.2 1581.59,115.35 1583.04,115.5 1584.49,115.66 1585.95,115.81 1587.4,115.96 1588.86,116.12 1590.31,116.27 1591.76,116.42 1593.22,116.58 1594.67,116.73 1596.13,116.88 1597.58,117.04 1599.03,117.19 1600.49,117.34 1601.94,117.5 1603.4,117.65 1604.85,117.8 1606.3,117.96 1607.76,118.11 1609.21,118.26 1610.67,118.42 1612.12,118.57 1613.57,118.72 1615.03,118.88 1616.48,119.03 1617.94,119.19 1619.39,119.34 1620.84,119.49 1622.3,119.65 1623.75,119.8 1625.21,119.95 1626.66,120.11 1628.11,120.26 1629.57,120.41 1631.02,120.57 1632.48,120.72 1633.93,120.87 1635.38,121.03 1636.84,121.18 1638.29,121.33 1639.75,121.49 1641.2,121.64" fill="none" stroke="#f29a2e" stroke-width="1.6" />
<polyline points="1350.4,90.96 1351.85,91.25 1353.31,91.55 1354.76,91.85 1356.22,92.15 1357.67,92.45 1359.12,92.75 1360.58,93.05 1362.03,93.35 1363.49,93.64 1364.94,93.94 1366.39,94.24 1367.85,94.54 1369.3,94.84 1370.76,95.14 1372.21,95.44 1373.66,95.74 1375.12,96.03 1376.57,96.33 1378.03,96.63 1379.48,96.93 1380.93,97.23 1382.39,97.53 1383.84,97.83 1385.3,98.13 1386.75,98.42 1388.2,98.72 1389.66,99.02 1391.11,99.32 1392.57,99.62 1394.02,99.92 1395.47,100.22 1396.93,100.52 1398.38,100.81 1399.84,101.11 1401.29,101.41 1402.74,101.71 1404.2,102.01 1405.65,102.31 1407.11,102.61 1408.56,102.91 1410.01,103.2 1411.47,103.5 1412.92,103.8 1414.38,104.1 1415.83,104.4 1417.28,104.7 1418.74,105 1420.19,105.3 1421.65,105.59 1423.1,105.89 1424.55,106.19 1426.01,106.49 1427.46,106.79 1428.92,107.09 1430.37,107.39 1431.82,107.69 1433.28,107.99 1434.73,108.28 1436.19,108.58 1437.64,108.88 1439.09,109.18 1440.55,109.48 1442,109.78 1443.46,110.08 1444.91,110.38 1446.36,110.67 1447.82,110.97 1449.27,111.27 1450.73,111.57 1452.18,111.87 1453.63,112.17 1455.09,112.47 1456.54,112.77 1458,113.06 1459.45,113.36 1460.9,113.66 1462.36,113.96 1463.81,114.26 1465.27,114.56 1466.72,114.86 1468.17,115.16 1469.63,115.45 1471.08,115.75 1472.54,116.05 1473.99,116.35 1475.44,116.65 1476.9,116.95 1478.35,117.25 1479.81,117.55 1481.26,117.84 1482.71,118.14 1484.17,118.44 1485.62,118.74 1487.08,119.04 1488.53,119.34 1489.98,119.64 1491.44,119.94 1492.89,120.23 1494.35,120.53 1495.8,120.83 1497.25,121.13 1498.71,121.43 1500.16,121.73 1501.62,122.03 1503.07,122.33 1504.52,122.63 1505.98,122.92 1507.43,123.22 1508.89,123.52 1510.34,123.82 1511.79,124.12 1513.25,124.42 1514.7,124.72 1516.16,125.02 1517.61,125.31 1519.06,125.61 1520.52,125.91 1521.97,126.21 1523.43,126.51 1524.88,126.81 1526.33,127.11 1527.79,127.41 1529.24,127.7 1530.7,128 1532.15,128.3 1533.6,128.6 1535.06,128.9 1536.51,129.2 1537.97,129.5 1539.42,129.8 1540.87,130.09 1542.33,130.39 1543.78,130.69 1545.24,130.99 1546.69,131.29 1548.14,131.59 1549.6,131.89 1551.05,132.19 1552.51,132.48 1553.96,132.78 1555.41,133.08 1556.87,133.38 1558.32,133.68 1559.78,133.98 1561.23,134.28 1562.68,134.58 1564.14,134.87 1565.59,135.17 1567.05,135.47 1568.5,135.77 1569.95,136.07 1571.41,136.37 1572.86,136.67 1574.32,136.97 1575.77,137.27 1577.22,137.56 1578.68,137.86 1580.13,138.16 1581.59,138.46 1583.04,138.76 1584.49,139.06 1585.95,139.36 1587.4,139.66 1588.86,139.95 1590.31,140.25 1591.76,140.55 1593.22,140.85 1594.67,141.15 1596.13,141.45 1597.58,141.75 1599.03,142.05 1600.49,142.34 1601.94,142.64 1603.4,142.94 1604.85,143.24 1606.3,143.54 1607.76,143.84 1609.21,144.14 1610.67,144.44 1612.12,144.73 1613.57,145.03 1615.03,145.33 1616.48,145.63 1617.94,145.93 1619.39,146.23 1620.84,146.53 1622.3,146.83 1623.75,147.12 1625.21,147.42 1626.66,147.72 1628.11,148.02 1629.57,148.32 1631.02,148.62 1632.48,148.92 1633.93,149.22 1635.38,149.51 1636.84,149.81 1638.29,150.11 1639.75,150.41 1641.2,150.71" fill="none" stroke="#b54ee6" stroke-width="1.6" />
<polyline points="1350.4,90.96 1351.85,91.53 1353.31,92.1 1354.76,92.67 1356.22,93.25 1357.67,93.82 1359.12,94.39 1360.58,94.97 1362.03,95.54 1363.49,96.11 1364.94,96.69 1366.39,97.26 1367.85,97.83 1369.3,98.41 1370.76,98.98 1372.21,99.55 1373.66,100.13 1375.12,100.7 1376.57,101.27 1378.03,101.85 1379.48,102.42 1380.93,102.99 1382.39,103.57 1383.84,104.14 1385.3,104.71 1386.75,105.29 1388.2,105.86 1389.66,106.43 1391.11,107.01 1392.57,107.58 1394.02,108.15 1395.47,108.73 1396.93,109.3 1398.38,109.87 1399.84,110.45 1401.29,111.02 1402.74,111.59 1404.2,112.17 1405.65,112.74 1407.11,113.31 1408.56,113.89 1410.01,114.46 1411.47,115.03 1412.92,115.61 1414.38,116.18 1415.83,116.75 1417.28,117.33 1418.74,117.9 1420.19,118.47 1421.65,119.05 1423.1,119.62 1424.55,120.19 1426.01,120.77 1427.46,121.34 1428.92,121.91 1430.37,122.49 1431.82,123.06 1433.28,123.63 1434.73,124.21 1436.19,124.78 1437.64,125.35 1439.09,125.93 1440.55,126.5 1442,127.07 1443.46,127.65 1444.91,128.22 1446.36,128.79 1447.82,129.37 1449.27,129.94 1450.73,130.51 1452.18,131.09 1453.63,131.66 1455.09,132.23 1456.54,132.81 1458,133.38 1459.45,133.95 1460.9,134.53 1462.36,135.1 1463.81,135.67 1465.27,136.25 1466.72,136.82 1468.17,137.39 1469.63,137.97 1471.08,138.54 1472.54,139.11 1473.99,139.69 1475.44,140.26 1476.9,140.83 1478.35,141.41 1479.81,141.98 1481.26,142.55 1482.71,143.13 1484.17,143.7 1485.62,144.27 1487.08,144.85 1488.53,145.42 1489.98,145.99 1491.44,146.57 1492.89,147.14 1494.35,147.71 1495.8,148.29 1497.25,148.86 1498.71,149.43 1500.16,150.01 1501.62,150.58 1503.07,151.15 1504.52,151.73 1505.98,152.3 1507.43,152.87 1508.89,153.45 1510.34,154.02 1511.79,154.59 1513.25,155.17 1514.7,155.74 1516.16,156.31 1517.61,156.89 1519.06,157.46 1520.52,158.03 1521.97,158.61 1523.43,159.18 1524.88,159.75 1526.33,160.33 1527.79,160.9 1529.24,161.47 1530.7,162.05 1532.15,162.62 1533.6,163.19 1535.06,163.77 1536.51,164.34 1537.97,164.91 1539.42,165.49 1540.87,166.06 1542.33,166.63 1543.78,167.21 1545.24,167.78 1546.69,168.35 1548.14,168.93 1549.6,169.5 1551.05,170.07 1552.51,170.65 1553.96,171.22 1555.41,171.79 1556.87,172.37 1558.32,172.94 1559.78,173.51 1561.23,174.09 1562.68,174.66 1564.14,175.23 1565.59,175.81 1567.05,176.38 1568.5,176.95 1569.95,177.53 1571.41,178.1 1572.86,178.67 1574.32,179.25 1575.77,179.82 1577.22,180.39 1578.68,180.97 1580.13,181.54 1581.59,182.11 1583.04,182.69 1584.49,183.26 1585.95,183.83 1587.4,184.41 1588.86,184.98 1590.31,185.55 1591.76,186.13 1593.22,186.7 1594.67,187.27 1596.13,187.85 1597.58,188.42 1599.03,188.99 1600.49,189.57 1601.94,190.14 1603.4,190.71 1604.85,191.29 1606.3,191.86 1607.76,192.43 1609.21,193.01 1610.67,193.58 1612.12,194.15 1613.57,194.73 1615.03,195.3 1616.48,195.87 1617.94,196.45 1619.39,197.02 1620.84,197.59 1622.3,198.17 1623.75,198.74 1625.21,199.31 1626.66,199.89 1628.11,200.46 1629.57,201.03 1631.02,201.61 1632.48,202.18 1633.93,202.75 1635.38,203.33 1636.84,203.9 1638.29,204.47 1639.75,205.05 1641.2,205.62" fill="none" stroke="#1fb02a" stroke-width="1.6" />
<polyline points="1350.4,94.19 1351.85,95.67 1353.31,97.15 1354.76,98.64 1356.22,100.14 1357.67,101.63 1359.12,103.13 1360.58,104.62 1362.03,106.12 1363.49,107.62 1364.94,109.12 1366.39,110.62 1367.85,112.12 1369.3,113.62 1370.76,115.13 1372.21,116.63 1373.66,118.12 1375.12,119.62 1376.57,121.12 1378.03,122.61 1379.48,124.11 1380.93,125.6 1382.39,127.08 1383.84,128.57 1385.3,130.05 1386.75,131.53 1388.2,133.01 1389.66,134.48 1391.11,135.95 1392.57,137.41 1394.02,138.87 1395.47,140.33 1396.93,141.78 1398.38,143.22 1399.84,144.66 1401.29,146.1 1402.74,147.53 1404.2,148.95 1405.65,150.37 1407.11,151.78 1408.56,153.18 1410.01,154.58 1411.47,155.97 1412.92,157.36 1414.38,158.73 1415.83,160.1 1417.28,161.46 1418.74,162.82 1420.19,164.17 1421.65,165.51 1423.1,166.84 1424.55,168.16 1426.01,169.47 1427.46,170.78 1428.92,172.07 1430.37,173.36 1431.82,174.64 1433.28,175.91 1434.73,177.17 1436.19,178.42 1437.64,179.66 1439.09,180.89 1440.55,182.11 1442,183.33 1443.46,184.53 1444.91,185.72 1446.36,186.9 1447.82,188.07 1449.27,189.23 1450.73,190.38 1452.18,191.52 1453.63,192.65 1455.09,193.77 1456.54,194.87 1458,195.97 1459.45,197.05 1460.9,198.13 1462.36,199.19 1463.81,200.24 1465.27,201.28 1466.72,202.31 1468.17,203.32 1469.63,204.33 1471.08,205.32 1472.54,206.3 1473.99,207.27 1475.44,208.23 1476.9,209.18 1478.35,210.11 1479.81,211.03 1481.26,211.94 1482.71,212.84 1484.17,213.73 1485.62,214.6 1487.08,215.47 1488.53,216.32 1489.98,217.16 1491.44,217.98 1492.89,218.8 1494.35,219.6 1495.8,220.39 1497.25,221.17 1498.71,221.94 1500.16,222.69 1501.62,223.43 1503.07,224.16 1504.52,224.88 1505.98,225.59 1507.43,226.28 1508.89,226.96 1510.34,227.63 1511.79,228.29 1513.25,228.94 1514.7,229.58 1516.16,230.2 1517.61,230.81 1519.06,231.41 1520.52,232 1521.97,232.58 1523.43,233.14 1524.88,233.7 1526.33,234.24 1527.79,234.77 1529.24,235.29 1530.7,235.8 1532.15,236.3 1533.6,236.79 1535.06,237.26 1536.51,237.73 1537.97,238.19 1539.42,238.63 1540.87,239.07 1542.33,239.49 1543.78,239.9 1545.24,240.31 1546.69,240.7 1548.14,241.08 1549.6,241.46 1551.05,241.82 1552.51,242.18 1553.96,242.52 1555.41,242.86 1556.87,243.18 1558.32,243.5 1559.78,243.81 1561.23,244.11 1562.68,244.4 1564.14,244.69 1565.59,244.96 1567.05,245.23 1568.5,245.49 1569.95,245.74 1571.41,245.98 1572.86,246.22 1574.32,246.44 1575.77,246.67 1577.22,246.88 1578.68,247.09 1580.13,247.29 1581.59,247.48 1583.04,247.67 1584.49,247.85 1585.95,248.03 1587.4,248.2 1588.86,248.37 1590.31,248.53 1591.76,248.69 1593.22,248.84 1594.67,248.98 1596.13,249.12 1597.58,249.26 1599.03,249.4 1600.49,249.53 1601.94,249.65 1603.4,249.78 1604.85,249.9 1606.3,250.02 1607.76,250.13 1609.21,250.25 1610.67,250.36 1612.12,250.47 1613.57,250.58 1615.03,250.69 1616.48,250.79 1617.94,250.9 1619.39,251 1620.84,251.11 1622.3,251.21 1623.75,251.32 1625.21,251.43 1626.66,251.54 1628.11,251.65 1629.57,251.76 1631.02,251.87 1632.48,251.99 1633.93,252.1 1635.38,252.22 1636.84,252.35 1638.29,252.48 1639.75,252.61 1641.2,252.74" fill="none" stroke="#ec2f28" stroke-width="1.6" />
<polyline points="1350.4,89.34 1351.85,91.72 1353.31,94.08 1354.76,96.42 1356.22,98.74 1357.67,101.03 1359.12,103.31 1360.58,105.56 1362.03,107.79 1363.49,110 1364.94,112.18 1366.39,114.35 1367.85,116.49 1369.3,118.62 1370.76,120.72 1372.21,122.8 1373.66,124.87 1375.12,126.91 1376.57,128.93 1378.03,130.93 1379.48,132.91 1380.93,134.87 1382.39,136.81 1383.84,138.72 1385.3,140.62 1386.75,142.5 1388.2,144.36 1389.66,146.2 1391.11,148.02 1392.57,149.82 1394.02,151.61 1395.47,153.37 1396.93,155.11 1398.38,156.84 1399.84,158.54 1401.29,160.23 1402.74,161.89 1404.2,163.54 1405.65,165.17 1407.11,166.78 1408.56,168.38 1410.01,169.95 1411.47,171.51 1412.92,173.05 1414.38,174.57 1415.83,176.07 1417.28,177.55 1418.74,179.02 1420.19,180.47 1421.65,181.9 1423.1,183.32 1424.55,184.71 1426.01,186.09 1427.46,187.46 1428.92,188.8 1430.37,190.13 1431.82,191.44 1433.28,192.74 1434.73,194.02 1436.19,195.28 1437.64,196.52 1439.09,197.75 1440.55,198.97 1442,200.16 1443.46,201.34 1444.91,202.51 1446.36,203.66 1447.82,204.79 1449.27,205.91 1450.73,207.01 1452.18,208.1 1453.63,209.17 1455.09,210.22 1456.54,211.26 1458,212.29 1459.45,213.3 1460.9,214.29 1462.36,215.28 1463.81,216.24 1465.27,217.19 1466.72,218.13 1468.17,219.05 1469.63,219.96 1471.08,220.86 1472.54,221.74 1473.99,222.61 1475.44,223.46 1476.9,224.3 1478.35,225.12 1479.81,225.94 1481.26,226.73 1482.71,227.52 1484.17,228.29 1485.62,229.05 1487.08,229.8 1488.53,230.53 1489.98,231.25 1491.44,231.96 1492.89,232.65 1494.35,233.33 1495.8,234 1497.25,234.66 1498.71,235.31 1500.16,235.94 1501.62,236.56 1503.07,237.17 1504.52,237.77 1505.98,238.36 1507.43,238.93 1508.89,239.5 1510.34,240.05 1511.79,240.59 1513.25,241.12 1514.7,241.64 1516.16,242.14 1517.61,242.64 1519.06,243.13 1520.52,243.6 1521.97,244.07 1523.43,244.52 1524.88,244.97 1526.33,245.4 1527.79,245.83 1529.24,246.24 1530.7,246.64 1532.15,247.04 1533.6,247.42 1535.06,247.8 1536.51,248.17 1537.97,248.52 1539.42,248.87 1540.87,249.21 1542.33,249.54 1543.78,249.86 1545.24,250.17 1546.69,250.48 1548.14,250.77 1549.6,251.06 1551.05,251.34 1552.51,251.61 1553.96,251.87 1555.41,252.12 1556.87,252.37 1558.32,252.61 1559.78,252.84 1561.23,253.06 1562.68,253.28 1564.14,253.49 1565.59,253.69 1567.05,253.88 1568.5,254.07 1569.95,254.25 1571.41,254.42 1572.86,254.59 1574.32,254.75 1575.77,254.91 1577.22,255.06 1578.68,255.2 1580.13,255.33 1581.59,255.46 1583.04,255.59 1584.49,255.71 1585.95,255.82 1587.4,255.93 1588.86,256.03 1590.31,256.13 1591.76,256.22 1593.22,256.31 1594.67,256.39 1596.13,256.47 1597.58,256.55 1599.03,256.62 1600.49,256.68 1601.94,256.74 1603.4,256.8 1604.85,256.85 1606.3,256.9 1607.76,256.95 1609.21,256.99 1610.67,257.03 1612.12,257.06 1613.57,257.1 1615.03,257.12 1616.48,257.15 1617.94,257.17 1619.39,257.2 1620.84,257.21 1622.3,257.23 1623.75,257.24 1625.21,257.26 1626.66,257.27 1628.11,257.28 1629.57,257.28 1631.02,257.29 1632.48,257.29 1633.93,257.3 1635.38,257.3 1636.84,257.3 1638.29,257.3 1639.75,257.3 1641.2,257.3" fill="none" stroke="#000" stroke-width="1.6" />
<polyline points="1350.4,89.34 1351.85,91.86 1353.31,94.36 1354.76,96.83 1356.22,99.28 1357.67,101.7 1359.12,104.1 1360.58,106.47 1362.03,108.82 1363.49,111.14 1364.94,113.44 1366.39,115.72 1367.85,117.97 1369.3,120.19 1370.76,122.4 1372.21,124.57 1373.66,126.73 1375.12,128.86 1376.57,130.97 1378.03,133.05 1379.48,135.11 1380.93,137.15 1382.39,139.17 1383.84,141.16 1385.3,143.13 1386.75,145.08 1388.2,147.01 1389.66,148.91 1391.11,150.79 1392.57,152.65 1394.02,154.49 1395.47,156.3 1396.93,158.1 1398.38,159.87 1399.84,161.62 1401.29,163.35 1402.74,165.06 1404.2,166.75 1405.65,168.41 1407.11,170.06 1408.56,171.69 1410.01,173.29 1411.47,174.88 1412.92,176.44 1414.38,177.99 1415.83,179.51 1417.28,181.02 1418.74,182.51 1420.19,183.97 1421.65,185.42 1423.1,186.85 1424.55,188.26 1426.01,189.65 1427.46,191.02 1428.92,192.37 1430.37,193.7 1431.82,195.02 1433.28,196.32 1434.73,197.6 1436.19,198.86 1437.64,200.1 1439.09,201.32 1440.55,202.53 1442,203.72 1443.46,204.89 1444.91,206.05 1446.36,207.19 1447.82,208.31 1449.27,209.41 1450.73,210.5 1452.18,211.57 1453.63,212.62 1455.09,213.66 1456.54,214.68 1458,215.69 1459.45,216.68 1460.9,217.65 1462.36,218.61 1463.81,219.55 1465.27,220.48 1466.72,221.39 1468.17,222.29 1469.63,223.17 1471.08,224.03 1472.54,224.88 1473.99,225.72 1475.44,226.54 1476.9,227.35 1478.35,228.14 1479.81,228.92 1481.26,229.69 1482.71,230.44 1484.17,231.18 1485.62,231.9 1487.08,232.61 1488.53,233.31 1489.98,233.99 1491.44,234.66 1492.89,235.32 1494.35,235.96 1495.8,236.59 1497.25,237.21 1498.71,237.82 1500.16,238.41 1501.62,239 1503.07,239.57 1504.52,240.12 1505.98,240.67 1507.43,241.2 1508.89,241.73 1510.34,242.24 1511.79,242.74 1513.25,243.23 1514.7,243.7 1516.16,244.17 1517.61,244.63 1519.06,245.07 1520.52,245.5 1521.97,245.93 1523.43,246.34 1524.88,246.75 1526.33,247.14 1527.79,247.52 1529.24,247.9 1530.7,248.26 1532.15,248.61 1533.6,248.96 1535.06,249.3 1536.51,249.62 1537.97,249.94 1539.42,250.25 1540.87,250.55 1542.33,250.84 1543.78,251.12 1545.24,251.4 1546.69,251.66 1548.14,251.92 1549.6,252.17 1551.05,252.41 1552.51,252.65 1553.96,252.87 1555.41,253.09 1556.87,253.3 1558.32,253.51 1559.78,253.71 1561.23,253.9 1562.68,254.08 1564.14,254.26 1565.59,254.43 1567.05,254.59 1568.5,254.75 1569.95,254.9 1571.41,255.04 1572.86,255.18 1574.32,255.32 1575.77,255.44 1577.22,255.56 1578.68,255.68 1580.13,255.79 1581.59,255.9 1583.04,256 1584.49,256.09 1585.95,256.19 1587.4,256.27 1588.86,256.35 1590.31,256.43 1591.76,256.5 1593.22,256.57 1594.67,256.64 1596.13,256.7 1597.58,256.75 1599.03,256.81 1600.49,256.86 1601.94,256.9 1603.4,256.95 1604.85,256.99 1606.3,257.02 1607.76,257.06 1609.21,257.09 1610.67,257.11 1612.12,257.14 1613.57,257.16 1615.03,257.18 1616.48,257.2 1617.94,257.22 1619.39,257.23 1620.84,257.25 1622.3,257.26 1623.75,257.27 1625.21,257.27 1626.66,257.28 1628.11,257.29 1629.57,257.29 1631.02,257.29 1632.48,257.3 1633.93,257.3 1635.38,257.3 1636.84,257.3 1638.29,257.3 1639.75,257.3 1641.2,257.3" fill="none" stroke="#1f3fe6" stroke-width="1.6" />
<polygon points="1350.4,92.44 1353.2,95.8 1350.4,99.16 1347.6,95.8" fill="#f29a2e"/>
<polygon points="1364.94,90.83 1367.74,94.19 1364.94,97.55 1362.14,94.19" fill="#f29a2e"/>
<polygon points="1379.48,90.83 1382.28,94.19 1379.48,97.55 1376.68,94.19" fill="#f29a2e"/>
<polygon points="1394.02,90.83 1396.82,94.19 1394.02,97.55 1391.22,94.19" fill="#f29a2e"/>
<polygon points="1408.56,89.21 1411.36,92.57 1408.56,95.93 1405.76,92.57" fill="#f29a2e"/>
<polygon points="1423.1,89.21 1425.9,92.57 1423.1,95.93 1420.3,92.57" fill="#f29a2e"/>
<polygon points="1437.64,92.44 1440.44,95.8 1437.64,99.16 1434.84,95.8" fill="#f29a2e"/>
<polygon points="1452.18,95.67 1454.98,99.03 1452.18,102.39 1449.38,99.03" fill="#f29a2e"/>
<polygon points="1466.72,97.29 1469.52,100.65 1466.72,104.01 1463.92,100.65" fill="#f29a2e"/>
<polygon points="1481.26,98.9 1484.06,102.26 1481.26,105.62 1478.46,102.26" fill="#f29a2e"/>
<polygon points="1495.8,97.29 1498.6,100.65 1495.8,104.01 1493,100.65" fill="#f29a2e"/>
<polygon points="1510.34,103.75 1513.14,107.11 1510.34,110.47 1507.54,107.11" fill="#f29a2e"/>
<polygon points="1524.88,103.75 1527.68,107.11 1524.88,110.47 1522.08,107.11" fill="#f29a2e"/>
<polygon points="1539.42,108.59 1542.22,111.95 1539.42,115.31 1536.62,111.95" fill="#f29a2e"/>
<polygon points="1553.96,108.59 1556.76,111.95 1553.96,115.31 1551.16,111.95" fill="#f29a2e"/>
<polygon points="1568.5,110.21 1571.3,113.57 1568.5,116.93 1565.7,113.57" fill="#f29a2e"/>
<polygon points="1583.04,113.44 1585.84,116.8 1583.04,120.16 1580.24,116.8" fill="#f29a2e"/>
<polygon points="1597.58,115.05 1600.38,118.41 1597.58,121.77 1594.78,118.41" fill="#f29a2e"/>
<polygon points="1612.12,116.67 1614.92,120.03 1612.12,123.39 1609.32,120.03" fill="#f29a2e"/>
<polygon points="1626.66,118.28 1629.46,121.64 1626.66,125 1623.86,121.64" fill="#f29a2e"/>
<polygon points="1641.2,119.9 1644,123.26 1641.2,126.62 1638.4,123.26" fill="#f29a2e"/>
<polygon points="1350.4,99.02 1353.48,93.56 1347.32,93.56" fill="#b54ee6"/>
<polygon points="1364.94,103.87 1368.02,98.41 1361.86,98.41" fill="#b54ee6"/>
<polygon points="1379.48,100.64 1382.56,95.18 1376.4,95.18" fill="#b54ee6"/>
<polygon points="1394.02,102.25 1397.1,96.79 1390.94,96.79" fill="#b54ee6"/>
<polygon points="1408.56,105.48 1411.64,100.02 1405.48,100.02" fill="#b54ee6"/>
<polygon points="1423.1,107.09 1426.18,101.64 1420.02,101.64" fill="#b54ee6"/>
<polygon points="1437.64,110.33 1440.72,104.87 1434.56,104.87" fill="#b54ee6"/>
<polygon points="1452.18,111.94 1455.26,106.48 1449.1,106.48" fill="#b54ee6"/>
<polygon points="1466.72,115.17 1469.8,109.71 1463.64,109.71" fill="#b54ee6"/>
<polygon points="1481.26,118.4 1484.34,112.94 1478.18,112.94" fill="#b54ee6"/>
<polygon points="1495.8,121.63 1498.88,116.17 1492.72,116.17" fill="#b54ee6"/>
<polygon points="1510.34,124.86 1513.42,119.4 1507.26,119.4" fill="#b54ee6"/>
<polygon points="1524.88,128.09 1527.96,122.63 1521.8,122.63" fill="#b54ee6"/>
<polygon points="1539.42,131.32 1542.5,125.86 1536.34,125.86" fill="#b54ee6"/>
<polygon points="1553.96,134.55 1557.04,129.09 1550.88,129.09" fill="#b54ee6"/>
<polygon points="1568.5,137.78 1571.58,132.32 1565.42,132.32" fill="#b54ee6"/>
<polygon points="1583.04,141.01 1586.12,135.55 1579.96,135.55" fill="#b54ee6"/>
<polygon points="1597.58,144.24 1600.66,138.78 1594.5,138.78" fill="#b54ee6"/>
<polygon points="1612.12,147.47 1615.2,142.01 1609.04,142.01" fill="#b54ee6"/>
<polygon points="1626.66,150.7 1629.74,145.24 1623.58,145.24" fill="#b54ee6"/>
<polygon points="1641.2,153.93 1644.28,148.47 1638.12,148.47" fill="#b54ee6"/>
<polygon points="1350.4,92.58 1353.48,98.04 1347.32,98.04" fill="#1fb02a"/>
<polygon points="1364.94,103.89 1368.02,109.35 1361.86,109.35" fill="#1fb02a"/>
<polygon points="1379.48,102.27 1382.56,107.73 1376.4,107.73" fill="#1fb02a"/>
<polygon points="1394.02,105.5 1397.1,110.96 1390.94,110.96" fill="#1fb02a"/>
<polygon points="1408.56,111.96 1411.64,117.42 1405.48,117.42" fill="#1fb02a"/>
<polygon points="1423.1,116.81 1426.18,122.27 1420.02,122.27" fill="#1fb02a"/>
<polygon points="1437.64,123.27 1440.72,128.73 1434.56,128.73" fill="#1fb02a"/>
<polygon points="1452.18,128.11 1455.26,133.57 1449.1,133.57" fill="#1fb02a"/>
<polygon points="1466.72,134.57 1469.8,140.03 1463.64,140.03" fill="#1fb02a"/>
<polygon points="1481.26,139.41 1484.34,144.88 1478.18,144.88" fill="#1fb02a"/>
<polygon points="1495.8,145.88 1498.88,151.34 1492.72,151.34" fill="#1fb02a"/>
<polygon points="1510.34,152.34 1513.42,157.8 1507.26,157.8" fill="#1fb02a"/>
<polygon points="1524.88,157.18 1527.96,162.64 1521.8,162.64" fill="#1fb02a"/>
<polygon points="1539.42,163.64 1542.5,169.1 1536.34,169.1" fill="#1fb02a"/>
<polygon points="1553.96,170.1 1557.04,175.56 1550.88,175.56" fill="#1fb02a"/>
<polygon points="1568.5,176.56 1571.58,182.02 1565.42,182.02" fill="#1fb02a"/>
<polygon points="1583.04,183.02 1586.12,188.48 1579.96,188.48" fill="#1fb02a"/>
<polygon points="1597.58,187.87 1600.66,193.33 1594.5,193.33" fill="#1fb02a"/>
<polygon points="1612.12,194.33 1615.2,199.79 1609.04,199.79" fill="#1fb02a"/>
<polygon points="1626.66,197.56 1629.74,203.02 1623.58,203.02" fill="#1fb02a"/>
<polygon points="1641.2,202.4 1644.28,207.86 1638.12,207.86" fill="#1fb02a"/>
<rect x="1347.4" y="92.8" width="6" height="6" fill="#ec2f28"/>
<rect x="1361.94" y="112.18" width="6" height="6" fill="#ec2f28"/>
<rect x="1376.48" y="123.49" width="6" height="6" fill="#ec2f28"/>
<rect x="1391.02" y="136.41" width="6" height="6" fill="#ec2f28"/>
<rect x="1405.56" y="152.56" width="6" height="6" fill="#ec2f28"/>
<rect x="1420.1" y="167.09" width="6" height="6" fill="#ec2f28"/>
<rect x="1434.64" y="181.62" width="6" height="6" fill="#ec2f28"/>
<rect x="1449.18" y="191.31" width="6" height="6" fill="#ec2f28"/>
<rect x="1463.72" y="202.62" width="6" height="6" fill="#ec2f28"/>
<rect x="1478.26" y="210.7" width="6" height="6" fill="#ec2f28"/>
<rect x="1492.8" y="218.77" width="6" height="6" fill="#ec2f28"/>
<rect x="1507.34" y="228.46" width="6" height="6" fill="#ec2f28"/>
<rect x="1521.88" y="234.92" width="6" height="6" fill="#ec2f28"/>
<rect x="1536.42" y="238.96" width="6" height="6" fill="#ec2f28"/>
<rect x="1550.96" y="241.38" width="6" height="6" fill="#ec2f28"/>
<rect x="1565.5" y="244.61" width="6" height="6" fill="#ec2f28"/>
<rect x="1580.04" y="247.84" width="6" height="6" fill="#ec2f28"/>
<rect x="1594.58" y="249.46" width="6" height="6" fill="#ec2f28"/>
<rect x="1609.12" y="251.07" width="6" height="6" fill="#ec2f28"/>
<rect x="1623.66" y="251.07" width="6" height="6" fill="#ec2f28"/>
<rect x="1638.2" y="252.69" width="6" height="6" fill="#ec2f28"/>
<circle cx="1350.4" cy="95.8" r="4" fill="#000"/>
<circle cx="1364.94" cy="120.03" r="4" fill="#000"/>
<circle cx="1379.48" cy="136.18" r="4" fill="#000"/>
<circle cx="1394.02" cy="153.94" r="4" fill="#000"/>
<circle cx="1408.56" cy="170.09" r="4" fill="#000"/>
<circle cx="1423.1" cy="186.24" r="4" fill="#000"/>
<circle cx="1437.64" cy="197.55" r="4" fill="#000"/>
<circle cx="1452.18" cy="208.85" r="4" fill="#000"/>
<circle cx="1466.72" cy="220.16" r="4" fill="#000"/>
<circle cx="1481.26" cy="229.85" r="4" fill="#000"/>
<circle cx="1495.8" cy="236.31" r="4" fill="#000"/>
<circle cx="1510.34" cy="241.15" r="4" fill="#000"/>
<circle cx="1524.88" cy="246" r="4" fill="#000"/>
<circle cx="1539.42" cy="249.23" r="4" fill="#000"/>
<circle cx="1553.96" cy="250.84" r="4" fill="#000"/>
<circle cx="1568.5" cy="252.46" r="4" fill="#000"/>
<circle cx="1583.04" cy="252.46" r="4" fill="#000"/>
<circle cx="1597.58" cy="252.46" r="4" fill="#000"/>
<circle cx="1612.12" cy="252.46" r="4" fill="#000"/>
<circle cx="1626.66" cy="252.46" r="4" fill="#000"/>
<circle cx="1641.2" cy="252.46" r="4" fill="#000"/>
<circle cx="1350.4" cy="95.8" r="2.8" fill="#1f3fe6"/>
<circle cx="1364.94" cy="118.41" r="2.8" fill="#1f3fe6"/>
<circle cx="1379.48" cy="129.72" r="2.8" fill="#1f3fe6"/>
<circle cx="1394.02" cy="152.33" r="2.8" fill="#1f3fe6"/>
<circle cx="1408.56" cy="173.32" r="2.8" fill="#1f3fe6"/>
<circle cx="1423.1" cy="189.47" r="2.8" fill="#1f3fe6"/>
<circle cx="1437.64" cy="205.62" r="2.8" fill="#1f3fe6"/>
<circle cx="1452.18" cy="218.54" r="2.8" fill="#1f3fe6"/>
<circle cx="1466.72" cy="229.85" r="2.8" fill="#1f3fe6"/>
<circle cx="1481.26" cy="237.92" r="2.8" fill="#1f3fe6"/>
<circle cx="1495.8" cy="243.57" r="2.8" fill="#1f3fe6"/>
<circle cx="1510.34" cy="247.61" r="2.8" fill="#1f3fe6"/>
<circle cx="1524.88" cy="249.23" r="2.8" fill="#1f3fe6"/>
<circle cx="1539.42" cy="249.23" r="2.8" fill="#1f3fe6"/>
<circle cx="1553.96" cy="250.84" r="2.8" fill="#1f3fe6"/>
<circle cx="1568.5" cy="251.65" r="2.8" fill="#1f3fe6"/>
<circle cx="1583.04" cy="252.46" r="2.8" fill="#1f3fe6"/>
<circle cx="1597.58" cy="252.46" r="2.8" fill="#1f3fe6"/>
<circle cx="1612.12" cy="252.46" r="2.8" fill="#1f3fe6"/>
<circle cx="1626.66" cy="252.46" r="2.8" fill="#1f3fe6"/>
<circle cx="1641.2" cy="252.46" r="2.8" fill="#1f3fe6"/>
<text x="1495" y="39" font-size="18" text-anchor="middle" fill="#000" font-weight="bold" >Menadione - iFSP1</text>
<text x="1495.8" y="305.8" font-size="15.7" text-anchor="middle" fill="#000" font-weight="bold" >Time [min]</text>
<text transform="translate(1309,161) rotate(-90)" font-size="15.7" text-anchor="middle" fill="#000" font-weight="bold">NADH consumption [%]</text>
<text x="1709" y="24" font-size="33" text-anchor="start" fill="#000" font-weight="bold" >e</text>
<line x1="1732.2" y1="65" x2="1732.2" y2="257" stroke="#000" stroke-width="2.6" />
<line x1="1723.7" y1="255.8" x2="2017.7" y2="255.8" stroke="#000" stroke-width="2.6" />
<line x1="1732.2" y1="255.8" x2="1732.2" y2="262.8" stroke="#000" stroke-width="2.4" />
<line x1="1760.6" y1="255.8" x2="1760.6" y2="260.8" stroke="#000" stroke-width="2.4" />
<line x1="1789" y1="255.8" x2="1789" y2="262.8" stroke="#000" stroke-width="2.4" />
<line x1="1817.4" y1="255.8" x2="1817.4" y2="260.8" stroke="#000" stroke-width="2.4" />
<line x1="1845.8" y1="255.8" x2="1845.8" y2="262.8" stroke="#000" stroke-width="2.4" />
<line x1="1874.2" y1="255.8" x2="1874.2" y2="260.8" stroke="#000" stroke-width="2.4" />
<line x1="1902.6" y1="255.8" x2="1902.6" y2="262.8" stroke="#000" stroke-width="2.4" />
<line x1="1931" y1="255.8" x2="1931" y2="260.8" stroke="#000" stroke-width="2.4" />
<line x1="1959.4" y1="255.8" x2="1959.4" y2="262.8" stroke="#000" stroke-width="2.4" />
<line x1="1987.8" y1="255.8" x2="1987.8" y2="260.8" stroke="#000" stroke-width="2.4" />
<line x1="2016.2" y1="255.8" x2="2016.2" y2="262.8" stroke="#000" stroke-width="2.4" />
<text x="1732.2" y="280.6" font-size="14.2" text-anchor="middle" fill="#000" font-weight="bold" >0</text>
<text x="1789" y="280.6" font-size="14.2" text-anchor="middle" fill="#000" font-weight="bold" >2</text>
<text x="1845.8" y="280.6" font-size="14.2" text-anchor="middle" fill="#000" font-weight="bold" >4</text>
<text x="1902.6" y="280.6" font-size="14.2" text-anchor="middle" fill="#000" font-weight="bold" >6</text>
<text x="1959.4" y="280.6" font-size="14.2" text-anchor="middle" fill="#000" font-weight="bold" >8</text>
<text x="2016.2" y="280.6" font-size="14.2" text-anchor="middle" fill="#000" font-weight="bold" >10</text>
<line x1="1724.2" y1="255.8" x2="1732.2" y2="255.8" stroke="#000" stroke-width="2.4" />
<text x="1721.2" y="260.8" font-size="14.2" text-anchor="end" fill="#000" font-weight="bold" >0</text>
<line x1="1724.2" y1="208.1" x2="1732.2" y2="208.1" stroke="#000" stroke-width="2.4" />
<text x="1721.2" y="213.1" font-size="14.2" text-anchor="end" fill="#000" font-weight="bold" >30</text>
<line x1="1724.2" y1="160.4" x2="1732.2" y2="160.4" stroke="#000" stroke-width="2.4" />
<text x="1721.2" y="165.4" font-size="14.2" text-anchor="end" fill="#000" font-weight="bold" >60</text>
<line x1="1724.2" y1="112.7" x2="1732.2" y2="112.7" stroke="#000" stroke-width="2.4" />
<text x="1721.2" y="117.7" font-size="14.2" text-anchor="end" fill="#000" font-weight="bold" >90</text>
<line x1="1724.2" y1="65" x2="1732.2" y2="65" stroke="#000" stroke-width="2.4" />
<text x="1721.2" y="70" font-size="14.2" text-anchor="end" fill="#000" font-weight="bold" >120</text>
<line x1="1727.2" y1="231.95" x2="1732.2" y2="231.95" stroke="#000" stroke-width="2.4" />
<line x1="1727.2" y1="184.25" x2="1732.2" y2="184.25" stroke="#000" stroke-width="2.4" />
<line x1="1727.2" y1="136.55" x2="1732.2" y2="136.55" stroke="#000" stroke-width="2.4" />
<line x1="1727.2" y1="88.85" x2="1732.2" y2="88.85" stroke="#000" stroke-width="2.4" />
<polyline points="1732.2,99.66 1733.62,100.68 1735.04,101.7 1736.46,102.72 1737.88,103.74 1739.3,104.75 1740.72,105.77 1742.14,106.79 1743.56,107.8 1744.98,108.82 1746.4,109.83 1747.82,110.84 1749.24,111.85 1750.66,112.86 1752.08,113.87 1753.5,114.88 1754.92,115.89 1756.34,116.89 1757.76,117.9 1759.18,118.9 1760.6,119.9 1762.02,120.9 1763.44,121.9 1764.86,122.9 1766.28,123.9 1767.7,124.89 1769.12,125.89 1770.54,126.88 1771.96,127.87 1773.38,128.86 1774.8,129.85 1776.22,130.84 1777.64,131.83 1779.06,132.81 1780.48,133.79 1781.9,134.77 1783.32,135.75 1784.74,136.73 1786.16,137.7 1787.58,138.68 1789,139.65 1790.42,140.62 1791.84,141.59 1793.26,142.55 1794.68,143.52 1796.1,144.48 1797.52,145.44 1798.94,146.4 1800.36,147.36 1801.78,148.31 1803.2,149.26 1804.62,150.21 1806.04,151.16 1807.46,152.11 1808.88,153.05 1810.3,153.99 1811.72,154.93 1813.14,155.87 1814.56,156.8 1815.98,157.73 1817.4,158.66 1818.82,159.59 1820.24,160.52 1821.66,161.44 1823.08,162.36 1824.5,163.27 1825.92,164.19 1827.34,165.1 1828.76,166.01 1830.18,166.92 1831.6,167.82 1833.02,168.72 1834.44,169.62 1835.86,170.52 1837.28,171.41 1838.7,172.3 1840.12,173.18 1841.54,174.07 1842.96,174.95 1844.38,175.83 1845.8,176.7 1847.22,177.57 1848.64,178.44 1850.06,179.31 1851.48,180.17 1852.9,181.03 1854.32,181.89 1855.74,182.74 1857.16,183.59 1858.58,184.44 1860,185.28 1861.42,186.12 1862.84,186.95 1864.26,187.79 1865.68,188.62 1867.1,189.44 1868.52,190.27 1869.94,191.08 1871.36,191.9 1872.78,192.71 1874.2,193.52 1875.62,194.32 1877.04,195.13 1878.46,195.92 1879.88,196.72 1881.3,197.51 1882.72,198.29 1884.14,199.07 1885.56,199.85 1886.98,200.63 1888.4,201.4 1889.82,202.16 1891.24,202.92 1892.66,203.68 1894.08,204.44 1895.5,205.19 1896.92,205.93 1898.34,206.68 1899.76,207.41 1901.18,208.15 1902.6,208.88 1904.02,209.6 1905.44,210.32 1906.86,211.04 1908.28,211.75 1909.7,212.46 1911.12,213.16 1912.54,213.86 1913.96,214.55 1915.38,215.24 1916.8,215.93 1918.22,216.61 1919.64,217.29 1921.06,217.96 1922.48,218.63 1923.9,219.29 1925.32,219.95 1926.74,220.6 1928.16,221.25 1929.58,221.89 1931,222.53 1932.42,223.16 1933.84,223.79 1935.26,224.41 1936.68,225.03 1938.1,225.65 1939.52,226.25 1940.94,226.86 1942.36,227.46 1943.78,228.05 1945.2,228.64 1946.62,229.22 1948.04,229.8 1949.46,230.37 1950.88,230.94 1952.3,231.5 1953.72,232.06 1955.14,232.61 1956.56,233.16 1957.98,233.7 1959.4,234.23 1960.82,234.76 1962.24,235.28 1963.66,235.8 1965.08,236.32 1966.5,236.82 1967.92,237.33 1969.34,237.82 1970.76,238.31 1972.18,238.8 1973.6,239.28 1975.02,239.75 1976.44,240.22 1977.86,240.68 1979.28,241.13 1980.7,241.58 1982.12,242.03 1983.54,242.47 1984.96,242.9 1986.38,243.32 1987.8,243.74 1989.22,244.16 1990.64,244.57 1992.06,244.97 1993.48,245.36 1994.9,245.75 1996.32,246.14 1997.74,246.51 1999.16,246.88 2000.58,247.25 2002,247.6 2003.42,247.96 2004.84,248.3 2006.26,248.64 2007.68,248.97 2009.1,249.3 2010.52,249.62 2011.94,249.93 2013.36,250.23 2014.78,250.53 2016.2,250.82" fill="none" stroke="#f29a2e" stroke-width="1.6" />
<polyline points="1732.2,90.44 1733.62,92.36 1735.04,94.27 1736.46,96.17 1737.88,98.06 1739.3,99.94 1740.72,101.8 1742.14,103.66 1743.56,105.5 1744.98,107.33 1746.4,109.14 1747.82,110.95 1749.24,112.74 1750.66,114.53 1752.08,116.3 1753.5,118.06 1754.92,119.8 1756.34,121.54 1757.76,123.26 1759.18,124.97 1760.6,126.68 1762.02,128.36 1763.44,130.04 1764.86,131.71 1766.28,133.36 1767.7,135 1769.12,136.63 1770.54,138.25 1771.96,139.86 1773.38,141.46 1774.8,143.04 1776.22,144.61 1777.64,146.18 1779.06,147.73 1780.48,149.26 1781.9,150.79 1783.32,152.3 1784.74,153.81 1786.16,155.3 1787.58,156.78 1789,158.25 1790.42,159.71 1791.84,161.15 1793.26,162.59 1794.68,164.01 1796.1,165.42 1797.52,166.82 1798.94,168.21 1800.36,169.59 1801.78,170.95 1803.2,172.31 1804.62,173.65 1806.04,174.98 1807.46,176.3 1808.88,177.61 1810.3,178.91 1811.72,180.2 1813.14,181.47 1814.56,182.73 1815.98,183.99 1817.4,185.23 1818.82,186.46 1820.24,187.67 1821.66,188.88 1823.08,190.08 1824.5,191.26 1825.92,192.43 1827.34,193.6 1828.76,194.75 1830.18,195.88 1831.6,197.01 1833.02,198.13 1834.44,199.23 1835.86,200.33 1837.28,201.41 1838.7,202.48 1840.12,203.54 1841.54,204.59 1842.96,205.63 1844.38,206.66 1845.8,207.68 1847.22,208.68 1848.64,209.68 1850.06,210.66 1851.48,211.63 1852.9,212.59 1854.32,213.54 1855.74,214.48 1857.16,215.41 1858.58,216.32 1860,217.23 1861.42,218.12 1862.84,219.01 1864.26,219.88 1865.68,220.74 1867.1,221.59 1868.52,222.43 1869.94,223.26 1871.36,224.08 1872.78,224.88 1874.2,225.68 1875.62,226.47 1877.04,227.24 1878.46,228 1879.88,228.76 1881.3,229.5 1882.72,230.23 1884.14,230.95 1885.56,231.66 1886.98,232.36 1888.4,233.05 1889.82,233.72 1891.24,234.39 1892.66,235.05 1894.08,235.69 1895.5,236.33 1896.92,236.95 1898.34,237.56 1899.76,238.16 1901.18,238.76 1902.6,239.34 1904.02,239.91 1905.44,240.47 1906.86,241.02 1908.28,241.56 1909.7,242.09 1911.12,242.61 1912.54,243.11 1913.96,243.61 1915.38,244.1 1916.8,244.57 1918.22,245.04 1919.64,245.5 1921.06,245.94 1922.48,246.38 1923.9,246.8 1925.32,247.22 1926.74,247.62 1928.16,248.02 1929.58,248.4 1931,248.77 1932.42,249.14 1933.84,249.49 1935.26,249.84 1936.68,250.17 1938.1,250.49 1939.52,250.81 1940.94,251.11 1942.36,251.4 1943.78,251.69 1945.2,251.96 1946.62,252.22 1948.04,252.48 1949.46,252.72 1950.88,252.96 1952.3,253.18 1953.72,253.4 1955.14,253.6 1956.56,253.8 1957.98,253.98 1959.4,254.16 1960.82,254.33 1962.24,254.49 1963.66,254.64 1965.08,254.77 1966.5,254.9 1967.92,255.03 1969.34,255.14 1970.76,255.24 1972.18,255.33 1973.6,255.42 1975.02,255.49 1976.44,255.56 1977.86,255.62 1979.28,255.67 1980.7,255.71 1982.12,255.74 1983.54,255.77 1984.96,255.79 1986.38,255.8 1987.8,255.8 1989.22,255.8 1990.64,255.8 1992.06,255.8 1993.48,255.8 1994.9,255.8 1996.32,255.8 1997.74,255.8 1999.16,255.8 2000.58,255.8 2002,255.8 2003.42,255.8 2004.84,255.8 2006.26,255.8 2007.68,255.8 2009.1,255.8 2010.52,255.8 2011.94,255.8 2013.36,255.8 2014.78,255.8 2016.2,255.8" fill="none" stroke="#b54ee6" stroke-width="1.6" />
<polyline points="1732.2,90.44 1733.62,92.86 1735.04,95.26 1736.46,97.63 1737.88,99.98 1739.3,102.3 1740.72,104.61 1742.14,106.88 1743.56,109.14 1744.98,111.37 1746.4,113.59 1747.82,115.77 1749.24,117.94 1750.66,120.08 1752.08,122.2 1753.5,124.3 1754.92,126.38 1756.34,128.43 1757.76,130.46 1759.18,132.47 1760.6,134.46 1762.02,136.43 1763.44,138.38 1764.86,140.3 1766.28,142.21 1767.7,144.09 1769.12,145.95 1770.54,147.79 1771.96,149.61 1773.38,151.41 1774.8,153.19 1776.22,154.95 1777.64,156.69 1779.06,158.41 1780.48,160.11 1781.9,161.78 1783.32,163.44 1784.74,165.08 1786.16,166.7 1787.58,168.3 1789,169.88 1790.42,171.45 1791.84,172.99 1793.26,174.51 1794.68,176.02 1796.1,177.51 1797.52,178.97 1798.94,180.42 1800.36,181.85 1801.78,183.27 1803.2,184.66 1804.62,186.04 1806.04,187.4 1807.46,188.74 1808.88,190.06 1810.3,191.37 1811.72,192.66 1813.14,193.93 1814.56,195.18 1815.98,196.42 1817.4,197.64 1818.82,198.84 1820.24,200.03 1821.66,201.2 1823.08,202.35 1824.5,203.49 1825.92,204.61 1827.34,205.72 1828.76,206.8 1830.18,207.88 1831.6,208.93 1833.02,209.98 1834.44,211 1835.86,212.01 1837.28,213.01 1838.7,213.99 1840.12,214.95 1841.54,215.9 1842.96,216.84 1844.38,217.76 1845.8,218.66 1847.22,219.55 1848.64,220.43 1850.06,221.29 1851.48,222.14 1852.9,222.98 1854.32,223.8 1855.74,224.6 1857.16,225.4 1858.58,226.18 1860,226.94 1861.42,227.7 1862.84,228.44 1864.26,229.16 1865.68,229.88 1867.1,230.58 1868.52,231.26 1869.94,231.94 1871.36,232.6 1872.78,233.25 1874.2,233.89 1875.62,234.52 1877.04,235.13 1878.46,235.73 1879.88,236.32 1881.3,236.9 1882.72,237.47 1884.14,238.02 1885.56,238.57 1886.98,239.1 1888.4,239.62 1889.82,240.13 1891.24,240.63 1892.66,241.12 1894.08,241.6 1895.5,242.07 1896.92,242.53 1898.34,242.97 1899.76,243.41 1901.18,243.84 1902.6,244.26 1904.02,244.66 1905.44,245.06 1906.86,245.45 1908.28,245.83 1909.7,246.2 1911.12,246.56 1912.54,246.91 1913.96,247.25 1915.38,247.58 1916.8,247.91 1918.22,248.22 1919.64,248.53 1921.06,248.83 1922.48,249.12 1923.9,249.4 1925.32,249.68 1926.74,249.94 1928.16,250.2 1929.58,250.45 1931,250.69 1932.42,250.93 1933.84,251.16 1935.26,251.38 1936.68,251.59 1938.1,251.8 1939.52,252 1940.94,252.19 1942.36,252.38 1943.78,252.56 1945.2,252.73 1946.62,252.9 1948.04,253.06 1949.46,253.22 1950.88,253.37 1952.3,253.51 1953.72,253.65 1955.14,253.78 1956.56,253.9 1957.98,254.03 1959.4,254.14 1960.82,254.25 1962.24,254.36 1963.66,254.46 1965.08,254.55 1966.5,254.64 1967.92,254.73 1969.34,254.81 1970.76,254.89 1972.18,254.96 1973.6,255.03 1975.02,255.1 1976.44,255.16 1977.86,255.22 1979.28,255.27 1980.7,255.32 1982.12,255.37 1983.54,255.42 1984.96,255.46 1986.38,255.5 1987.8,255.53 1989.22,255.56 1990.64,255.59 1992.06,255.62 1993.48,255.64 1994.9,255.67 1996.32,255.69 1997.74,255.7 1999.16,255.72 2000.58,255.73 2002,255.75 2003.42,255.76 2004.84,255.77 2006.26,255.77 2007.68,255.78 2009.1,255.79 2010.52,255.79 2011.94,255.79 2013.36,255.8 2014.78,255.8 2016.2,255.8" fill="none" stroke="#1fb02a" stroke-width="1.6" />
<polyline points="1732.2,90.44 1733.62,92.9 1735.04,95.34 1736.46,97.75 1737.88,100.13 1739.3,102.49 1740.72,104.83 1742.14,107.14 1743.56,109.43 1744.98,111.7 1746.4,113.94 1747.82,116.16 1749.24,118.36 1750.66,120.53 1752.08,122.68 1753.5,124.8 1754.92,126.9 1756.34,128.98 1757.76,131.04 1759.18,133.08 1760.6,135.09 1762.02,137.08 1763.44,139.04 1764.86,140.99 1766.28,142.91 1767.7,144.82 1769.12,146.7 1770.54,148.56 1771.96,150.39 1773.38,152.21 1774.8,154 1776.22,155.78 1777.64,157.53 1779.06,159.26 1780.48,160.97 1781.9,162.67 1783.32,164.34 1784.74,165.99 1786.16,167.62 1787.58,169.23 1789,170.82 1790.42,172.39 1791.84,173.94 1793.26,175.47 1794.68,176.98 1796.1,178.48 1797.52,179.95 1798.94,181.4 1800.36,182.84 1801.78,184.26 1803.2,185.66 1804.62,187.04 1806.04,188.4 1807.46,189.74 1808.88,191.07 1810.3,192.37 1811.72,193.66 1813.14,194.93 1814.56,196.19 1815.98,197.42 1817.4,198.64 1818.82,199.85 1820.24,201.03 1821.66,202.2 1823.08,203.35 1824.5,204.48 1825.92,205.6 1827.34,206.7 1828.76,207.79 1830.18,208.86 1831.6,209.91 1833.02,210.95 1834.44,211.97 1835.86,212.97 1837.28,213.96 1838.7,214.93 1840.12,215.89 1841.54,216.84 1842.96,217.76 1844.38,218.68 1845.8,219.58 1847.22,220.46 1848.64,221.33 1850.06,222.18 1851.48,223.02 1852.9,223.85 1854.32,224.66 1855.74,225.46 1857.16,226.24 1858.58,227.01 1860,227.77 1861.42,228.51 1862.84,229.24 1864.26,229.96 1865.68,230.66 1867.1,231.35 1868.52,232.03 1869.94,232.7 1871.36,233.35 1872.78,233.99 1874.2,234.62 1875.62,235.23 1877.04,235.83 1878.46,236.43 1879.88,237 1881.3,237.57 1882.72,238.13 1884.14,238.67 1885.56,239.2 1886.98,239.73 1888.4,240.24 1889.82,240.74 1891.24,241.22 1892.66,241.7 1894.08,242.17 1895.5,242.63 1896.92,243.07 1898.34,243.51 1899.76,243.93 1901.18,244.35 1902.6,244.76 1904.02,245.15 1905.44,245.54 1906.86,245.92 1908.28,246.28 1909.7,246.64 1911.12,246.99 1912.54,247.33 1913.96,247.66 1915.38,247.98 1916.8,248.3 1918.22,248.6 1919.64,248.9 1921.06,249.19 1922.48,249.47 1923.9,249.74 1925.32,250 1926.74,250.26 1928.16,250.51 1929.58,250.75 1931,250.98 1932.42,251.21 1933.84,251.43 1935.26,251.64 1936.68,251.84 1938.1,252.04 1939.52,252.23 1940.94,252.42 1942.36,252.59 1943.78,252.76 1945.2,252.93 1946.62,253.09 1948.04,253.24 1949.46,253.39 1950.88,253.53 1952.3,253.67 1953.72,253.8 1955.14,253.92 1956.56,254.04 1957.98,254.15 1959.4,254.26 1960.82,254.37 1962.24,254.47 1963.66,254.56 1965.08,254.65 1966.5,254.74 1967.92,254.82 1969.34,254.89 1970.76,254.97 1972.18,255.04 1973.6,255.1 1975.02,255.16 1976.44,255.22 1977.86,255.27 1979.28,255.32 1980.7,255.37 1982.12,255.41 1983.54,255.45 1984.96,255.49 1986.38,255.53 1987.8,255.56 1989.22,255.59 1990.64,255.61 1992.06,255.64 1993.48,255.66 1994.9,255.68 1996.32,255.7 1997.74,255.72 1999.16,255.73 2000.58,255.74 2002,255.75 2003.42,255.76 2004.84,255.77 2006.26,255.78 2007.68,255.78 2009.1,255.79 2010.52,255.79 2011.94,255.79 2013.36,255.8 2014.78,255.8 2016.2,255.8" fill="none" stroke="#ec2f28" stroke-width="1.6" />
<polyline points="1732.2,90.44 1733.62,92.8 1735.04,95.13 1736.46,97.44 1737.88,99.73 1739.3,102 1740.72,104.25 1742.14,106.47 1743.56,108.68 1744.98,110.86 1746.4,113.02 1747.82,115.16 1749.24,117.27 1750.66,119.37 1752.08,121.44 1753.5,123.5 1754.92,125.53 1756.34,127.54 1757.76,129.53 1759.18,131.5 1760.6,133.46 1762.02,135.39 1763.44,137.3 1764.86,139.19 1766.28,141.06 1767.7,142.91 1769.12,144.74 1770.54,146.55 1771.96,148.34 1773.38,150.11 1774.8,151.86 1776.22,153.59 1777.64,155.31 1779.06,157 1780.48,158.67 1781.9,160.33 1783.32,161.97 1784.74,163.59 1786.16,165.19 1787.58,166.77 1789,168.33 1790.42,169.88 1791.84,171.41 1793.26,172.92 1794.68,174.41 1796.1,175.88 1797.52,177.33 1798.94,178.77 1800.36,180.19 1801.78,181.6 1803.2,182.98 1804.62,184.35 1806.04,185.7 1807.46,187.04 1808.88,188.35 1810.3,189.65 1811.72,190.94 1813.14,192.21 1814.56,193.46 1815.98,194.69 1817.4,195.91 1818.82,197.11 1820.24,198.3 1821.66,199.47 1823.08,200.62 1824.5,201.76 1825.92,202.88 1827.34,203.99 1828.76,205.08 1830.18,206.16 1831.6,207.22 1833.02,208.27 1834.44,209.3 1835.86,210.31 1837.28,211.31 1838.7,212.3 1840.12,213.27 1841.54,214.23 1842.96,215.18 1844.38,216.1 1845.8,217.02 1847.22,217.92 1848.64,218.81 1850.06,219.68 1851.48,220.54 1852.9,221.39 1854.32,222.22 1855.74,223.04 1857.16,223.84 1858.58,224.63 1860,225.41 1861.42,226.18 1862.84,226.93 1864.26,227.67 1865.68,228.4 1867.1,229.12 1868.52,229.82 1869.94,230.51 1871.36,231.19 1872.78,231.86 1874.2,232.51 1875.62,233.15 1877.04,233.78 1878.46,234.4 1879.88,235.01 1881.3,235.6 1882.72,236.19 1884.14,236.76 1885.56,237.32 1886.98,237.87 1888.4,238.41 1889.82,238.94 1891.24,239.46 1892.66,239.97 1894.08,240.46 1895.5,240.95 1896.92,241.43 1898.34,241.89 1899.76,242.35 1901.18,242.8 1902.6,243.23 1904.02,243.66 1905.44,244.07 1906.86,244.48 1908.28,244.88 1909.7,245.27 1911.12,245.65 1912.54,246.02 1913.96,246.38 1915.38,246.73 1916.8,247.07 1918.22,247.41 1919.64,247.73 1921.06,248.05 1922.48,248.36 1923.9,248.66 1925.32,248.95 1926.74,249.24 1928.16,249.51 1929.58,249.78 1931,250.04 1932.42,250.3 1933.84,250.54 1935.26,250.78 1936.68,251.01 1938.1,251.24 1939.52,251.45 1940.94,251.66 1942.36,251.87 1943.78,252.06 1945.2,252.25 1946.62,252.44 1948.04,252.62 1949.46,252.79 1950.88,252.95 1952.3,253.11 1953.72,253.26 1955.14,253.41 1956.56,253.55 1957.98,253.69 1959.4,253.82 1960.82,253.94 1962.24,254.06 1963.66,254.17 1965.08,254.28 1966.5,254.39 1967.92,254.49 1969.34,254.58 1970.76,254.67 1972.18,254.76 1973.6,254.84 1975.02,254.91 1976.44,254.99 1977.86,255.06 1979.28,255.12 1980.7,255.18 1982.12,255.24 1983.54,255.29 1984.96,255.34 1986.38,255.39 1987.8,255.43 1989.22,255.47 1990.64,255.51 1992.06,255.54 1993.48,255.57 1994.9,255.6 1996.32,255.63 1997.74,255.65 1999.16,255.68 2000.58,255.69 2002,255.71 2003.42,255.73 2004.84,255.74 2006.26,255.75 2007.68,255.76 2009.1,255.77 2010.52,255.78 2011.94,255.78 2013.36,255.79 2014.78,255.79 2016.2,255.8" fill="none" stroke="#000" stroke-width="1.6" />
<polyline points="1732.2,90.44 1733.62,92.92 1735.04,95.38 1736.46,97.82 1737.88,100.23 1739.3,102.61 1740.72,104.97 1742.14,107.31 1743.56,109.62 1744.98,111.91 1746.4,114.17 1747.82,116.41 1749.24,118.62 1750.66,120.82 1752.08,122.98 1753.5,125.13 1754.92,127.25 1756.34,129.35 1757.76,131.42 1759.18,133.48 1760.6,135.51 1762.02,137.51 1763.44,139.5 1764.86,141.46 1766.28,143.4 1767.7,145.32 1769.12,147.21 1770.54,149.09 1771.96,150.94 1773.38,152.77 1774.8,154.58 1776.22,156.37 1777.64,158.13 1779.06,159.88 1780.48,161.6 1781.9,163.3 1783.32,164.99 1784.74,166.65 1786.16,168.29 1787.58,169.91 1789,171.51 1790.42,173.09 1791.84,174.65 1793.26,176.2 1794.68,177.72 1796.1,179.22 1797.52,180.7 1798.94,182.16 1800.36,183.61 1801.78,185.03 1803.2,186.44 1804.62,187.83 1806.04,189.19 1807.46,190.54 1808.88,191.88 1810.3,193.19 1811.72,194.48 1813.14,195.76 1814.56,197.02 1815.98,198.26 1817.4,199.48 1818.82,200.69 1820.24,201.88 1821.66,203.05 1823.08,204.21 1824.5,205.34 1825.92,206.46 1827.34,207.57 1828.76,208.65 1830.18,209.72 1831.6,210.78 1833.02,211.82 1834.44,212.84 1835.86,213.84 1837.28,214.83 1838.7,215.81 1840.12,216.77 1841.54,217.71 1842.96,218.64 1844.38,219.55 1845.8,220.45 1847.22,221.33 1848.64,222.2 1850.06,223.05 1851.48,223.89 1852.9,224.71 1854.32,225.52 1855.74,226.31 1857.16,227.09 1858.58,227.86 1860,228.62 1861.42,229.35 1862.84,230.08 1864.26,230.79 1865.68,231.49 1867.1,232.18 1868.52,232.85 1869.94,233.51 1871.36,234.16 1872.78,234.79 1874.2,235.41 1875.62,236.02 1877.04,236.62 1878.46,237.21 1879.88,237.78 1881.3,238.34 1882.72,238.89 1884.14,239.43 1885.56,239.95 1886.98,240.47 1888.4,240.97 1889.82,241.46 1891.24,241.94 1892.66,242.41 1894.08,242.87 1895.5,243.32 1896.92,243.76 1898.34,244.19 1899.76,244.6 1901.18,245.01 1902.6,245.41 1904.02,245.8 1905.44,246.17 1906.86,246.54 1908.28,246.9 1909.7,247.25 1911.12,247.59 1912.54,247.92 1913.96,248.24 1915.38,248.55 1916.8,248.86 1918.22,249.15 1919.64,249.44 1921.06,249.72 1922.48,249.99 1923.9,250.25 1925.32,250.5 1926.74,250.75 1928.16,250.99 1929.58,251.22 1931,251.44 1932.42,251.66 1933.84,251.87 1935.26,252.07 1936.68,252.26 1938.1,252.45 1939.52,252.63 1940.94,252.8 1942.36,252.97 1943.78,253.13 1945.2,253.29 1946.62,253.44 1948.04,253.58 1949.46,253.72 1950.88,253.85 1952.3,253.97 1953.72,254.09 1955.14,254.21 1956.56,254.32 1957.98,254.42 1959.4,254.52 1960.82,254.61 1962.24,254.7 1963.66,254.79 1965.08,254.87 1966.5,254.94 1967.92,255.02 1969.34,255.08 1970.76,255.15 1972.18,255.21 1973.6,255.26 1975.02,255.31 1976.44,255.36 1977.86,255.41 1979.28,255.45 1980.7,255.49 1982.12,255.53 1983.54,255.56 1984.96,255.59 1986.38,255.62 1987.8,255.64 1989.22,255.66 1990.64,255.69 1992.06,255.7 1993.48,255.72 1994.9,255.73 1996.32,255.75 1997.74,255.76 1999.16,255.77 2000.58,255.77 2002,255.78 2003.42,255.79 2004.84,255.79 2006.26,255.79 2007.68,255.8 2009.1,255.8 2010.52,255.8 2011.94,255.8 2013.36,255.8 2014.78,255.8 2016.2,255.8" fill="none" stroke="#1f3fe6" stroke-width="1.6" />
<polygon points="1732.2,93.92 1734.6,96.8 1732.2,99.68 1729.8,96.8" fill="#f29a2e"/>
<polygon points="1746.4,109.82 1748.8,112.7 1746.4,115.58 1744,112.7" fill="#f29a2e"/>
<polygon points="1760.6,119.36 1763,122.24 1760.6,125.12 1758.2,122.24" fill="#f29a2e"/>
<polygon points="1774.8,128.9 1777.2,131.78 1774.8,134.66 1772.4,131.78" fill="#f29a2e"/>
<polygon points="1789,138.44 1791.4,141.32 1789,144.2 1786.6,141.32" fill="#f29a2e"/>
<polygon points="1803.2,147.98 1805.6,150.86 1803.2,153.74 1800.8,150.86" fill="#f29a2e"/>
<polygon points="1817.4,155.93 1819.8,158.81 1817.4,161.69 1815,158.81" fill="#f29a2e"/>
<polygon points="1831.6,163.88 1834,166.76 1831.6,169.64 1829.2,166.76" fill="#f29a2e"/>
<polygon points="1845.8,173.42 1848.2,176.3 1845.8,179.18 1843.4,176.3" fill="#f29a2e"/>
<polygon points="1860,181.37 1862.4,184.25 1860,187.13 1857.6,184.25" fill="#f29a2e"/>
<polygon points="1874.2,190.91 1876.6,193.79 1874.2,196.67 1871.8,193.79" fill="#f29a2e"/>
<polygon points="1888.4,198.86 1890.8,201.74 1888.4,204.62 1886,201.74" fill="#f29a2e"/>
<polygon points="1902.6,206.81 1905,209.69 1902.6,212.57 1900.2,209.69" fill="#f29a2e"/>
<polygon points="1916.8,214.76 1919.2,217.64 1916.8,220.52 1914.4,217.64" fill="#f29a2e"/>
<polygon points="1931,221.12 1933.4,224 1931,226.88 1928.6,224" fill="#f29a2e"/>
<polygon points="1945.2,227.48 1947.6,230.36 1945.2,233.24 1942.8,230.36" fill="#f29a2e"/>
<polygon points="1959.4,232.25 1961.8,235.13 1959.4,238.01 1957,235.13" fill="#f29a2e"/>
<polygon points="1973.6,237.02 1976,239.9 1973.6,242.78 1971.2,239.9" fill="#f29a2e"/>
<polygon points="1987.8,241.79 1990.2,244.67 1987.8,247.55 1985.4,244.67" fill="#f29a2e"/>
<polygon points="2002,244.97 2004.4,247.85 2002,250.73 1999.6,247.85" fill="#f29a2e"/>
<polygon points="2016.2,248.15 2018.6,251.03 2016.2,253.91 2013.8,251.03" fill="#f29a2e"/>
<polygon points="1732.2,99.79 1735.06,94.72 1729.34,94.72" fill="#b54ee6"/>
<polygon points="1746.4,118.87 1749.26,113.8 1743.54,113.8" fill="#b54ee6"/>
<polygon points="1760.6,131.59 1763.46,126.52 1757.74,126.52" fill="#b54ee6"/>
<polygon points="1774.8,147.49 1777.66,142.42 1771.94,142.42" fill="#b54ee6"/>
<polygon points="1789,163.39 1791.86,158.32 1786.14,158.32" fill="#b54ee6"/>
<polygon points="1803.2,179.29 1806.06,174.22 1800.34,174.22" fill="#b54ee6"/>
<polygon points="1817.4,192.01 1820.26,186.94 1814.54,186.94" fill="#b54ee6"/>
<polygon points="1831.6,203.14 1834.46,198.07 1828.74,198.07" fill="#b54ee6"/>
<polygon points="1845.8,212.68 1848.66,207.61 1842.94,207.61" fill="#b54ee6"/>
<polygon points="1860,220.63 1862.86,215.56 1857.14,215.56" fill="#b54ee6"/>
<polygon points="1874.2,230.17 1877.06,225.1 1871.34,225.1" fill="#b54ee6"/>
<polygon points="1888.4,239.71 1891.26,234.64 1885.54,234.64" fill="#b54ee6"/>
<polygon points="1902.6,244.48 1905.46,239.41 1899.74,239.41" fill="#b54ee6"/>
<polygon points="1916.8,247.66 1919.66,242.59 1913.94,242.59" fill="#b54ee6"/>
<polygon points="1931,250.84 1933.86,245.77 1928.14,245.77" fill="#b54ee6"/>
<polygon points="1945.2,252.43 1948.06,247.36 1942.34,247.36" fill="#b54ee6"/>
<polygon points="1959.4,254.02 1962.26,248.95 1956.54,248.95" fill="#b54ee6"/>
<polygon points="1973.6,254.02 1976.46,248.95 1970.74,248.95" fill="#b54ee6"/>
<polygon points="1987.8,254.02 1990.66,248.95 1984.94,248.95" fill="#b54ee6"/>
<polygon points="2002,254.82 2004.86,249.75 1999.14,249.75" fill="#b54ee6"/>
<polygon points="2016.2,255.61 2019.06,250.54 2013.34,250.54" fill="#b54ee6"/>
<polygon points="1732.2,94.04 1734.84,98.72 1729.56,98.72" fill="#1fb02a"/>
<polygon points="1746.4,116.3 1749.04,120.98 1743.76,120.98" fill="#1fb02a"/>
<polygon points="1760.6,133.79 1763.24,138.47 1757.96,138.47" fill="#1fb02a"/>
<polygon points="1774.8,152.87 1777.44,157.55 1772.16,157.55" fill="#1fb02a"/>
<polygon points="1789,170.36 1791.64,175.04 1786.36,175.04" fill="#1fb02a"/>
<polygon points="1803.2,186.26 1805.84,190.94 1800.56,190.94" fill="#1fb02a"/>
<polygon points="1817.4,198.98 1820.04,203.66 1814.76,203.66" fill="#1fb02a"/>
<polygon points="1831.6,210.11 1834.24,214.79 1828.96,214.79" fill="#1fb02a"/>
<polygon points="1845.8,221.24 1848.44,225.92 1843.16,225.92" fill="#1fb02a"/>
<polygon points="1860,229.19 1862.64,233.87 1857.36,233.87" fill="#1fb02a"/>
<polygon points="1874.2,235.55 1876.84,240.23 1871.56,240.23" fill="#1fb02a"/>
<polygon points="1888.4,240.32 1891.04,245 1885.76,245" fill="#1fb02a"/>
<polygon points="1902.6,243.5 1905.24,248.18 1899.96,248.18" fill="#1fb02a"/>
<polygon points="1916.8,245.89 1919.44,250.56 1914.16,250.56" fill="#1fb02a"/>
<polygon points="1931,247.48 1933.64,252.16 1928.36,252.16" fill="#1fb02a"/>
<polygon points="1945.2,248.27 1947.84,252.95 1942.56,252.95" fill="#1fb02a"/>
<polygon points="1959.4,249.86 1962.04,254.54 1956.76,254.54" fill="#1fb02a"/>
<polygon points="1973.6,249.86 1976.24,254.54 1970.96,254.54" fill="#1fb02a"/>
<polygon points="1987.8,250.66 1990.44,255.34 1985.16,255.34" fill="#1fb02a"/>
<polygon points="2002,251.45 2004.64,256.13 1999.36,256.13" fill="#1fb02a"/>
<polygon points="2016.2,251.45 2018.84,256.13 2013.56,256.13" fill="#1fb02a"/>
<rect x="1729.6" y="94.2" width="5.2" height="5.2" fill="#ec2f28"/>
<rect x="1743.8" y="119.64" width="5.2" height="5.2" fill="#ec2f28"/>
<rect x="1758" y="135.54" width="5.2" height="5.2" fill="#ec2f28"/>
<rect x="1772.2" y="154.62" width="5.2" height="5.2" fill="#ec2f28"/>
<rect x="1786.4" y="172.11" width="5.2" height="5.2" fill="#ec2f28"/>
<rect x="1800.6" y="186.42" width="5.2" height="5.2" fill="#ec2f28"/>
<rect x="1814.8" y="199.14" width="5.2" height="5.2" fill="#ec2f28"/>
<rect x="1829" y="210.27" width="5.2" height="5.2" fill="#ec2f28"/>
<rect x="1843.2" y="222.99" width="5.2" height="5.2" fill="#ec2f28"/>
<rect x="1857.4" y="229.35" width="5.2" height="5.2" fill="#ec2f28"/>
<rect x="1871.6" y="235.71" width="5.2" height="5.2" fill="#ec2f28"/>
<rect x="1885.8" y="240.48" width="5.2" height="5.2" fill="#ec2f28"/>
<rect x="1900" y="243.66" width="5.2" height="5.2" fill="#ec2f28"/>
<rect x="1914.2" y="246.05" width="5.2" height="5.2" fill="#ec2f28"/>
<rect x="1928.4" y="247.64" width="5.2" height="5.2" fill="#ec2f28"/>
<rect x="1942.6" y="250.02" width="5.2" height="5.2" fill="#ec2f28"/>
<rect x="1956.8" y="250.82" width="5.2" height="5.2" fill="#ec2f28"/>
<rect x="1971" y="250.82" width="5.2" height="5.2" fill="#ec2f28"/>
<rect x="1985.2" y="251.61" width="5.2" height="5.2" fill="#ec2f28"/>
<rect x="1999.4" y="251.61" width="5.2" height="5.2" fill="#ec2f28"/>
<rect x="2013.6" y="250.82" width="5.2" height="5.2" fill="#ec2f28"/>
<circle cx="1732.2" cy="96.8" r="3.9" fill="#000"/>
<circle cx="1746.4" cy="120.65" r="3.9" fill="#000"/>
<circle cx="1760.6" cy="136.55" r="3.9" fill="#000"/>
<circle cx="1774.8" cy="154.04" r="3.9" fill="#000"/>
<circle cx="1789" cy="169.94" r="3.9" fill="#000"/>
<circle cx="1803.2" cy="185.84" r="3.9" fill="#000"/>
<circle cx="1817.4" cy="196.97" r="3.9" fill="#000"/>
<circle cx="1831.6" cy="208.1" r="3.9" fill="#000"/>
<circle cx="1845.8" cy="219.23" r="3.9" fill="#000"/>
<circle cx="1860" cy="228.77" r="3.9" fill="#000"/>
<circle cx="1874.2" cy="235.13" r="3.9" fill="#000"/>
<circle cx="1888.4" cy="239.9" r="3.9" fill="#000"/>
<circle cx="1902.6" cy="244.67" r="3.9" fill="#000"/>
<circle cx="1916.8" cy="247.85" r="3.9" fill="#000"/>
<circle cx="1931" cy="249.44" r="3.9" fill="#000"/>
<circle cx="1945.2" cy="251.03" r="3.9" fill="#000"/>
<circle cx="1959.4" cy="251.03" r="3.9" fill="#000"/>
<circle cx="1973.6" cy="251.03" r="3.9" fill="#000"/>
<circle cx="1987.8" cy="251.03" r="3.9" fill="#000"/>
<circle cx="2002" cy="251.03" r="3.9" fill="#000"/>
<circle cx="2016.2" cy="251.03" r="3.9" fill="#000"/>
<circle cx="1732.2" cy="96.8" r="2.8" fill="#1f3fe6"/>
<circle cx="1746.4" cy="117.47" r="2.8" fill="#1f3fe6"/>
<circle cx="1760.6" cy="130.19" r="2.8" fill="#1f3fe6"/>
<circle cx="1774.8" cy="152.45" r="2.8" fill="#1f3fe6"/>
<circle cx="1789" cy="173.12" r="2.8" fill="#1f3fe6"/>
<circle cx="1803.2" cy="190.61" r="2.8" fill="#1f3fe6"/>
<circle cx="1817.4" cy="204.92" r="2.8" fill="#1f3fe6"/>
<circle cx="1831.6" cy="217.64" r="2.8" fill="#1f3fe6"/>
<circle cx="1845.8" cy="228.77" r="2.8" fill="#1f3fe6"/>
<circle cx="1860" cy="236.72" r="2.8" fill="#1f3fe6"/>
<circle cx="1874.2" cy="241.49" r="2.8" fill="#1f3fe6"/>
<circle cx="1888.4" cy="245.47" r="2.8" fill="#1f3fe6"/>
<circle cx="1902.6" cy="247.06" r="2.8" fill="#1f3fe6"/>
<circle cx="1916.8" cy="247.85" r="2.8" fill="#1f3fe6"/>
<circle cx="1931" cy="249.44" r="2.8" fill="#1f3fe6"/>
<circle cx="1945.2" cy="250.24" r="2.8" fill="#1f3fe6"/>
<circle cx="1959.4" cy="251.03" r="2.8" fill="#1f3fe6"/>
<circle cx="1973.6" cy="251.03" r="2.8" fill="#1f3fe6"/>
<circle cx="1987.8" cy="251.03" r="2.8" fill="#1f3fe6"/>
<circle cx="2002" cy="251.03" r="2.8" fill="#1f3fe6"/>
<circle cx="2016.2" cy="251.03" r="2.8" fill="#1f3fe6"/>
<text x="1874.6" y="41" font-size="18" text-anchor="middle" fill="#000" font-weight="bold" >Menadione - icFSP1</text>
<text x="1874.2" y="304.3" font-size="15.7" text-anchor="middle" fill="#000" font-weight="bold" >Time [min]</text>
<text transform="translate(1690,161) rotate(-90)" font-size="15.7" text-anchor="middle" fill="#000" font-weight="bold">NADH consumption [%]</text>
<text x="1972.2" y="65" font-size="20.5" text-anchor="start" fill="#000" >Inhibitor [μM]</text>
<line x1="2000" y1="82.4" x2="2021" y2="82.4" stroke="#1f3fe6" stroke-width="1.6" />
<circle cx="2010.5" cy="82.4" r="2.73" fill="#1f3fe6"/>
<text x="2031.2" y="88.09" font-size="15.8" text-anchor="start" fill="#000" >0</text>
<line x1="2000" y1="108.8" x2="2021" y2="108.8" stroke="#ec2f28" stroke-width="1.6" />
<rect x="2007.9" y="106.2" width="5.2" height="5.2" fill="#ec2f28"/>
<text x="2031.2" y="114.49" font-size="15.8" text-anchor="start" fill="#000" >0.03</text>
<line x1="2000" y1="135.5" x2="2021" y2="135.5" stroke="#1fb02a" stroke-width="1.6" />
<polygon points="2010.5,132.66 2013.22,137.48 2007.78,137.48" fill="#1fb02a"/>
<text x="2031.2" y="141.19" font-size="15.8" text-anchor="start" fill="#000" >0.3</text>
<line x1="2000" y1="161.5" x2="2021" y2="161.5" stroke="#b54ee6" stroke-width="1.6" />
<polygon points="2010.5,164.34 2013.22,159.52 2007.78,159.52" fill="#b54ee6"/>
<text x="2031.2" y="167.19" font-size="15.8" text-anchor="start" fill="#000" >3</text>
<line x1="2000" y1="188.2" x2="2021" y2="188.2" stroke="#f29a2e" stroke-width="1.6" />
<polygon points="2010.5,185.39 2012.84,188.2 2010.5,191.01 2008.16,188.2" fill="#f29a2e"/>
<text x="2031.2" y="193.89" font-size="15.8" text-anchor="start" fill="#000" >30</text>
<line x1="2000" y1="215" x2="2021" y2="215" stroke="#000" stroke-width="1.6" />
<circle cx="2010.5" cy="215" r="2.73" fill="#000"/>
<text x="2031.2" y="220.69" font-size="15.8" text-anchor="start" fill="#000" >DMSO</text>
<text x="446" y="381" font-size="33" text-anchor="start" fill="#000" font-weight="bold" >g</text>
<line x1="462.5" y1="417.3" x2="462.5" y2="616.9" stroke="#000" stroke-width="2.6" />
<line x1="454" y1="615.7" x2="761.2" y2="615.7" stroke="#000" stroke-width="2.6" />
<line x1="462.5" y1="615.7" x2="462.5" y2="622.7" stroke="#000" stroke-width="2.4" />
<line x1="492.22" y1="615.7" x2="492.22" y2="620.7" stroke="#000" stroke-width="2.4" />
<line x1="521.94" y1="615.7" x2="521.94" y2="622.7" stroke="#000" stroke-width="2.4" />
<line x1="551.66" y1="615.7" x2="551.66" y2="620.7" stroke="#000" stroke-width="2.4" />
<line x1="581.38" y1="615.7" x2="581.38" y2="622.7" stroke="#000" stroke-width="2.4" />
<line x1="611.1" y1="615.7" x2="611.1" y2="620.7" stroke="#000" stroke-width="2.4" />
<line x1="640.82" y1="615.7" x2="640.82" y2="622.7" stroke="#000" stroke-width="2.4" />
<line x1="670.54" y1="615.7" x2="670.54" y2="620.7" stroke="#000" stroke-width="2.4" />
<line x1="700.26" y1="615.7" x2="700.26" y2="622.7" stroke="#000" stroke-width="2.4" />
<line x1="729.98" y1="615.7" x2="729.98" y2="620.7" stroke="#000" stroke-width="2.4" />
<line x1="759.7" y1="615.7" x2="759.7" y2="622.7" stroke="#000" stroke-width="2.4" />
<text x="462.5" y="640.5" font-size="14.2" text-anchor="middle" fill="#000" font-weight="bold" >0</text>
<text x="521.94" y="640.5" font-size="14.2" text-anchor="middle" fill="#000" font-weight="bold" >2</text>
<text x="581.38" y="640.5" font-size="14.2" text-anchor="middle" fill="#000" font-weight="bold" >4</text>
<text x="640.82" y="640.5" font-size="14.2" text-anchor="middle" fill="#000" font-weight="bold" >6</text>
<text x="700.26" y="640.5" font-size="14.2" text-anchor="middle" fill="#000" font-weight="bold" >8</text>
<text x="759.7" y="640.5" font-size="14.2" text-anchor="middle" fill="#000" font-weight="bold" >10</text>
<line x1="454.5" y1="615.7" x2="462.5" y2="615.7" stroke="#000" stroke-width="2.4" />
<text x="451.5" y="620.7" font-size="14.2" text-anchor="end" fill="#000" font-weight="bold" >0</text>
<line x1="454.5" y1="566.1" x2="462.5" y2="566.1" stroke="#000" stroke-width="2.4" />
<text x="451.5" y="571.1" font-size="14.2" text-anchor="end" fill="#000" font-weight="bold" >30</text>
<line x1="454.5" y1="516.5" x2="462.5" y2="516.5" stroke="#000" stroke-width="2.4" />
<text x="451.5" y="521.5" font-size="14.2" text-anchor="end" fill="#000" font-weight="bold" >60</text>
<line x1="454.5" y1="466.9" x2="462.5" y2="466.9" stroke="#000" stroke-width="2.4" />
<text x="451.5" y="471.9" font-size="14.2" text-anchor="end" fill="#000" font-weight="bold" >90</text>
<line x1="454.5" y1="417.3" x2="462.5" y2="417.3" stroke="#000" stroke-width="2.4" />
<text x="451.5" y="422.3" font-size="14.2" text-anchor="end" fill="#000" font-weight="bold" >120</text>
<line x1="457.5" y1="590.9" x2="462.5" y2="590.9" stroke="#000" stroke-width="2.4" />
<line x1="457.5" y1="541.3" x2="462.5" y2="541.3" stroke="#000" stroke-width="2.4" />
<line x1="457.5" y1="491.7" x2="462.5" y2="491.7" stroke="#000" stroke-width="2.4" />
<line x1="457.5" y1="442.1" x2="462.5" y2="442.1" stroke="#000" stroke-width="2.4" />
<polyline points="462.5,442.1 463.99,442.19 465.47,442.28 466.96,442.37 468.44,442.46 469.93,442.55 471.42,442.65 472.9,442.74 474.39,442.83 475.87,442.92 477.36,443.01 478.85,443.1 480.33,443.19 481.82,443.28 483.3,443.37 484.79,443.46 486.28,443.55 487.76,443.65 489.25,443.74 490.73,443.83 492.22,443.92 493.71,444.01 495.19,444.1 496.68,444.19 498.16,444.28 499.65,444.37 501.14,444.46 502.62,444.56 504.11,444.65 505.59,444.74 507.08,444.83 508.57,444.92 510.05,445.01 511.54,445.1 513.02,445.19 514.51,445.28 516,445.37 517.48,445.46 518.97,445.56 520.45,445.65 521.94,445.74 523.43,445.83 524.91,445.92 526.4,446.01 527.88,446.1 529.37,446.19 530.86,446.28 532.34,446.37 533.83,446.46 535.31,446.56 536.8,446.65 538.29,446.74 539.77,446.83 541.26,446.92 542.74,447.01 544.23,447.1 545.72,447.19 547.2,447.28 548.69,447.37 550.17,447.47 551.66,447.56 553.15,447.65 554.63,447.74 556.12,447.83 557.6,447.92 559.09,448.01 560.58,448.1 562.06,448.19 563.55,448.28 565.03,448.37 566.52,448.47 568.01,448.56 569.49,448.65 570.98,448.74 572.46,448.83 573.95,448.92 575.44,449.01 576.92,449.1 578.41,449.19 579.89,449.28 581.38,449.37 582.87,449.47 584.35,449.56 585.84,449.65 587.32,449.74 588.81,449.83 590.3,449.92 591.78,450.01 593.27,450.1 594.75,450.19 596.24,450.28 597.73,450.37 599.21,450.47 600.7,450.56 602.18,450.65 603.67,450.74 605.16,450.83 606.64,450.92 608.13,451.01 609.61,451.1 611.1,451.19 612.59,451.28 614.07,451.38 615.56,451.47 617.04,451.56 618.53,451.65 620.02,451.74 621.5,451.83 622.99,451.92 624.47,452.01 625.96,452.1 627.45,452.19 628.93,452.28 630.42,452.38 631.9,452.47 633.39,452.56 634.88,452.65 636.36,452.74 637.85,452.83 639.33,452.92 640.82,453.01 642.31,453.1 643.79,453.19 645.28,453.28 646.76,453.38 648.25,453.47 649.74,453.56 651.22,453.65 652.71,453.74 654.19,453.83 655.68,453.92 657.17,454.01 658.65,454.1 660.14,454.19 661.62,454.29 663.11,454.38 664.6,454.47 666.08,454.56 667.57,454.65 669.05,454.74 670.54,454.83 672.03,454.92 673.51,455.01 675,455.1 676.48,455.19 677.97,455.29 679.46,455.38 680.94,455.47 682.43,455.56 683.91,455.65 685.4,455.74 686.89,455.83 688.37,455.92 689.86,456.01 691.34,456.1 692.83,456.19 694.32,456.29 695.8,456.38 697.29,456.47 698.77,456.56 700.26,456.65 701.75,456.74 703.23,456.83 704.72,456.92 706.2,457.01 707.69,457.1 709.18,457.19 710.66,457.29 712.15,457.38 713.63,457.47 715.12,457.56 716.61,457.65 718.09,457.74 719.58,457.83 721.06,457.92 722.55,458.01 724.04,458.1 725.52,458.2 727.01,458.29 728.49,458.38 729.98,458.47 731.47,458.56 732.95,458.65 734.44,458.74 735.92,458.83 737.41,458.92 738.9,459.01 740.38,459.1 741.87,459.2 743.35,459.29 744.84,459.38 746.33,459.47 747.81,459.56 749.3,459.65 750.78,459.74 752.27,459.83 753.76,459.92 755.24,460.01 756.73,460.1 758.21,460.2 759.7,460.29" fill="none" stroke="#f29a2e" stroke-width="1.6" />
<polyline points="462.5,445.41 463.99,445.62 465.47,445.84 466.96,446.05 468.44,446.27 469.93,446.48 471.42,446.7 472.9,446.91 474.39,447.13 475.87,447.34 477.36,447.56 478.85,447.77 480.33,447.99 481.82,448.2 483.3,448.42 484.79,448.63 486.28,448.85 487.76,449.06 489.25,449.28 490.73,449.49 492.22,449.71 493.71,449.92 495.19,450.14 496.68,450.35 498.16,450.57 499.65,450.78 501.14,450.99 502.62,451.21 504.11,451.42 505.59,451.64 507.08,451.85 508.57,452.07 510.05,452.28 511.54,452.5 513.02,452.71 514.51,452.93 516,453.14 517.48,453.36 518.97,453.57 520.45,453.79 521.94,454 523.43,454.22 524.91,454.43 526.4,454.65 527.88,454.86 529.37,455.08 530.86,455.29 532.34,455.51 533.83,455.72 535.31,455.94 536.8,456.15 538.29,456.37 539.77,456.58 541.26,456.8 542.74,457.01 544.23,457.23 545.72,457.44 547.2,457.66 548.69,457.87 550.17,458.09 551.66,458.3 553.15,458.52 554.63,458.73 556.12,458.95 557.6,459.16 559.09,459.38 560.58,459.59 562.06,459.81 563.55,460.02 565.03,460.24 566.52,460.45 568.01,460.67 569.49,460.88 570.98,461.1 572.46,461.31 573.95,461.53 575.44,461.74 576.92,461.96 578.41,462.17 579.89,462.39 581.38,462.6 582.87,462.82 584.35,463.03 585.84,463.25 587.32,463.46 588.81,463.68 590.3,463.89 591.78,464.11 593.27,464.32 594.75,464.54 596.24,464.75 597.73,464.97 599.21,465.18 600.7,465.4 602.18,465.61 603.67,465.83 605.16,466.04 606.64,466.26 608.13,466.47 609.61,466.69 611.1,466.9 612.59,467.11 614.07,467.33 615.56,467.54 617.04,467.76 618.53,467.97 620.02,468.19 621.5,468.4 622.99,468.62 624.47,468.83 625.96,469.05 627.45,469.26 628.93,469.48 630.42,469.69 631.9,469.91 633.39,470.12 634.88,470.34 636.36,470.55 637.85,470.77 639.33,470.98 640.82,471.2 642.31,471.41 643.79,471.63 645.28,471.84 646.76,472.06 648.25,472.27 649.74,472.49 651.22,472.7 652.71,472.92 654.19,473.13 655.68,473.35 657.17,473.56 658.65,473.78 660.14,473.99 661.62,474.21 663.11,474.42 664.6,474.64 666.08,474.85 667.57,475.07 669.05,475.28 670.54,475.5 672.03,475.71 673.51,475.93 675,476.14 676.48,476.36 677.97,476.57 679.46,476.79 680.94,477 682.43,477.22 683.91,477.43 685.4,477.65 686.89,477.86 688.37,478.08 689.86,478.29 691.34,478.51 692.83,478.72 694.32,478.94 695.8,479.15 697.29,479.37 698.77,479.58 700.26,479.8 701.75,480.01 703.23,480.23 704.72,480.44 706.2,480.66 707.69,480.87 709.18,481.09 710.66,481.3 712.15,481.52 713.63,481.73 715.12,481.95 716.61,482.16 718.09,482.38 719.58,482.59 721.06,482.81 722.55,483.02 724.04,483.23 725.52,483.45 727.01,483.66 728.49,483.88 729.98,484.09 731.47,484.31 732.95,484.52 734.44,484.74 735.92,484.95 737.41,485.17 738.9,485.38 740.38,485.6 741.87,485.81 743.35,486.03 744.84,486.24 746.33,486.46 747.81,486.67 749.3,486.89 750.78,487.1 752.27,487.32 753.76,487.53 755.24,487.75 756.73,487.96 758.21,488.18 759.7,488.39" fill="none" stroke="#b54ee6" stroke-width="1.6" />
<polyline points="462.5,445.41 463.99,445.8 465.47,446.18 466.96,446.57 468.44,446.96 469.93,447.35 471.42,447.74 472.9,448.13 474.39,448.51 475.87,448.9 477.36,449.29 478.85,449.68 480.33,450.07 481.82,450.46 483.3,450.85 484.79,451.23 486.28,451.62 487.76,452.01 489.25,452.4 490.73,452.79 492.22,453.18 493.71,453.57 495.19,453.95 496.68,454.34 498.16,454.73 499.65,455.12 501.14,455.51 502.62,455.9 504.11,456.29 505.59,456.67 507.08,457.06 508.57,457.45 510.05,457.84 511.54,458.23 513.02,458.62 514.51,459.01 516,459.39 517.48,459.78 518.97,460.17 520.45,460.56 521.94,460.95 523.43,461.34 524.91,461.73 526.4,462.11 527.88,462.5 529.37,462.89 530.86,463.28 532.34,463.67 533.83,464.06 535.31,464.44 536.8,464.83 538.29,465.22 539.77,465.61 541.26,466 542.74,466.39 544.23,466.78 545.72,467.16 547.2,467.55 548.69,467.94 550.17,468.33 551.66,468.72 553.15,469.11 554.63,469.5 556.12,469.88 557.6,470.27 559.09,470.66 560.58,471.05 562.06,471.44 563.55,471.83 565.03,472.22 566.52,472.6 568.01,472.99 569.49,473.38 570.98,473.77 572.46,474.16 573.95,474.55 575.44,474.94 576.92,475.32 578.41,475.71 579.89,476.1 581.38,476.49 582.87,476.88 584.35,477.27 585.84,477.65 587.32,478.04 588.81,478.43 590.3,478.82 591.78,479.21 593.27,479.6 594.75,479.99 596.24,480.37 597.73,480.76 599.21,481.15 600.7,481.54 602.18,481.93 603.67,482.32 605.16,482.71 606.64,483.09 608.13,483.48 609.61,483.87 611.1,484.26 612.59,484.65 614.07,485.04 615.56,485.43 617.04,485.81 618.53,486.2 620.02,486.59 621.5,486.98 622.99,487.37 624.47,487.76 625.96,488.15 627.45,488.53 628.93,488.92 630.42,489.31 631.9,489.7 633.39,490.09 634.88,490.48 636.36,490.87 637.85,491.25 639.33,491.64 640.82,492.03 642.31,492.42 643.79,492.81 645.28,493.2 646.76,493.58 648.25,493.97 649.74,494.36 651.22,494.75 652.71,495.14 654.19,495.53 655.68,495.92 657.17,496.3 658.65,496.69 660.14,497.08 661.62,497.47 663.11,497.86 664.6,498.25 666.08,498.64 667.57,499.02 669.05,499.41 670.54,499.8 672.03,500.19 673.51,500.58 675,500.97 676.48,501.36 677.97,501.74 679.46,502.13 680.94,502.52 682.43,502.91 683.91,503.3 685.4,503.69 686.89,504.08 688.37,504.46 689.86,504.85 691.34,505.24 692.83,505.63 694.32,506.02 695.8,506.41 697.29,506.79 698.77,507.18 700.26,507.57 701.75,507.96 703.23,508.35 704.72,508.74 706.2,509.13 707.69,509.51 709.18,509.9 710.66,510.29 712.15,510.68 713.63,511.07 715.12,511.46 716.61,511.85 718.09,512.23 719.58,512.62 721.06,513.01 722.55,513.4 724.04,513.79 725.52,514.18 727.01,514.57 728.49,514.95 729.98,515.34 731.47,515.73 732.95,516.12 734.44,516.51 735.92,516.9 737.41,517.29 738.9,517.67 740.38,518.06 741.87,518.45 743.35,518.84 744.84,519.23 746.33,519.62 747.81,520.01 749.3,520.39 750.78,520.78 752.27,521.17 753.76,521.56 755.24,521.95 756.73,522.34 758.21,522.72 759.7,523.11" fill="none" stroke="#1fb02a" stroke-width="1.6" />
<polyline points="462.5,449.54 463.99,451.39 465.47,453.22 466.96,455.02 468.44,456.81 469.93,458.58 471.42,460.33 472.9,462.06 474.39,463.78 475.87,465.47 477.36,467.15 478.85,468.81 480.33,470.45 481.82,472.07 483.3,473.68 484.79,475.27 486.28,476.84 487.76,478.4 489.25,479.94 490.73,481.47 492.22,482.98 493.71,484.47 495.19,485.95 496.68,487.42 498.16,488.87 499.65,490.3 501.14,491.73 502.62,493.14 504.11,494.53 505.59,495.91 507.08,497.28 508.57,498.63 510.05,499.98 511.54,501.31 513.02,502.62 514.51,503.93 516,505.22 517.48,506.5 518.97,507.77 520.45,509.03 521.94,510.27 523.43,511.51 524.91,512.73 526.4,513.95 527.88,515.15 529.37,516.34 530.86,517.52 532.34,518.7 533.83,519.86 535.31,521.01 536.8,522.15 538.29,523.29 539.77,524.41 541.26,525.52 542.74,526.63 544.23,527.73 545.72,528.81 547.2,529.89 548.69,530.96 550.17,532.03 551.66,533.08 553.15,534.13 554.63,535.17 556.12,536.2 557.6,537.22 559.09,538.23 560.58,539.24 562.06,540.24 563.55,541.23 565.03,542.22 566.52,543.19 568.01,544.16 569.49,545.13 570.98,546.09 572.46,547.04 573.95,547.98 575.44,548.92 576.92,549.85 578.41,550.77 579.89,551.69 581.38,552.6 582.87,553.5 584.35,554.4 585.84,555.3 587.32,556.18 588.81,557.06 590.3,557.94 591.78,558.8 593.27,559.67 594.75,560.52 596.24,561.38 597.73,562.22 599.21,563.06 600.7,563.89 602.18,564.72 603.67,565.54 605.16,566.36 606.64,567.17 608.13,567.98 609.61,568.78 611.1,569.57 612.59,570.36 614.07,571.15 615.56,571.92 617.04,572.7 618.53,573.46 620.02,574.22 621.5,574.98 622.99,575.73 624.47,576.48 625.96,577.21 627.45,577.95 628.93,578.68 630.42,579.4 631.9,580.12 633.39,580.83 634.88,581.53 636.36,582.23 637.85,582.93 639.33,583.61 640.82,584.3 642.31,584.97 643.79,585.64 645.28,586.31 646.76,586.96 648.25,587.61 649.74,588.26 651.22,588.9 652.71,589.53 654.19,590.16 655.68,590.78 657.17,591.39 658.65,592 660.14,592.6 661.62,593.19 663.11,593.78 664.6,594.36 666.08,594.93 667.57,595.5 669.05,596.05 670.54,596.61 672.03,597.15 673.51,597.68 675,598.21 676.48,598.73 677.97,599.24 679.46,599.75 680.94,600.24 682.43,600.73 683.91,601.21 685.4,601.68 686.89,602.14 688.37,602.6 689.86,603.04 691.34,603.48 692.83,603.9 694.32,604.32 695.8,604.73 697.29,605.12 698.77,605.51 700.26,605.89 701.75,606.26 703.23,606.61 704.72,606.96 706.2,607.3 707.69,607.62 709.18,607.94 710.66,608.24 712.15,608.53 713.63,608.81 715.12,609.08 716.61,609.34 718.09,609.58 719.58,609.81 721.06,610.03 722.55,610.24 724.04,610.44 725.52,610.62 727.01,610.79 728.49,610.94 729.98,611.08 731.47,611.21 732.95,611.32 734.44,611.42 735.92,611.5 737.41,611.57 738.9,611.62 740.38,611.66 741.87,611.69 743.35,611.69 744.84,611.68 746.33,611.66 747.81,611.62 749.3,611.56 750.78,611.48 752.27,611.39 753.76,611.28 755.24,611.15 756.73,611.01 758.21,610.84 759.7,610.66" fill="none" stroke="#ec2f28" stroke-width="1.6" />
<polyline points="462.5,443.75 463.99,446.35 465.47,448.92 466.96,451.47 468.44,454 469.93,456.5 471.42,458.98 472.9,461.43 474.39,463.86 475.87,466.27 477.36,468.65 478.85,471.01 480.33,473.35 481.82,475.66 483.3,477.95 484.79,480.21 486.28,482.46 487.76,484.68 489.25,486.88 490.73,489.05 492.22,491.21 493.71,493.34 495.19,495.44 496.68,497.53 498.16,499.59 499.65,501.63 501.14,503.65 502.62,505.65 504.11,507.62 505.59,509.57 507.08,511.51 508.57,513.41 510.05,515.3 511.54,517.17 513.02,519.01 514.51,520.84 516,522.64 517.48,524.42 518.97,526.18 520.45,527.92 521.94,529.64 523.43,531.34 524.91,533.01 526.4,534.67 527.88,536.31 529.37,537.92 530.86,539.52 532.34,541.09 533.83,542.65 535.31,544.18 536.8,545.7 538.29,547.19 539.77,548.67 541.26,550.12 542.74,551.56 544.23,552.98 545.72,554.37 547.2,555.75 548.69,557.11 550.17,558.45 551.66,559.77 553.15,561.07 554.63,562.36 556.12,563.62 557.6,564.87 559.09,566.1 560.58,567.31 562.06,568.5 563.55,569.67 565.03,570.83 566.52,571.96 568.01,573.08 569.49,574.19 570.98,575.27 572.46,576.34 573.95,577.39 575.44,578.42 576.92,579.43 578.41,580.43 579.89,581.41 581.38,582.37 582.87,583.32 584.35,584.25 585.84,585.17 587.32,586.06 588.81,586.94 590.3,587.81 591.78,588.66 593.27,589.49 594.75,590.31 596.24,591.11 597.73,591.89 599.21,592.66 600.7,593.42 602.18,594.16 603.67,594.88 605.16,595.59 606.64,596.28 608.13,596.96 609.61,597.62 611.1,598.27 612.59,598.91 614.07,599.53 615.56,600.14 617.04,600.73 618.53,601.31 620.02,601.87 621.5,602.42 622.99,602.96 624.47,603.48 625.96,603.99 627.45,604.49 628.93,604.97 630.42,605.44 631.9,605.9 633.39,606.35 634.88,606.78 636.36,607.2 637.85,607.61 639.33,608 640.82,608.39 642.31,608.76 643.79,609.12 645.28,609.46 646.76,609.8 648.25,610.13 649.74,610.44 651.22,610.74 652.71,611.04 654.19,611.32 655.68,611.59 657.17,611.85 658.65,612.1 660.14,612.34 661.62,612.57 663.11,612.79 664.6,613 666.08,613.2 667.57,613.39 669.05,613.57 670.54,613.74 672.03,613.91 673.51,614.06 675,614.21 676.48,614.35 677.97,614.48 679.46,614.6 680.94,614.71 682.43,614.82 683.91,614.92 685.4,615.01 686.89,615.1 688.37,615.18 689.86,615.25 691.34,615.31 692.83,615.37 694.32,615.43 695.8,615.47 697.29,615.52 698.77,615.55 700.26,615.58 701.75,615.61 703.23,615.64 704.72,615.65 706.2,615.67 707.69,615.68 709.18,615.69 710.66,615.69 712.15,615.7 713.63,615.7 715.12,615.7 716.61,615.7 718.09,615.7 719.58,615.7 721.06,615.7 722.55,615.7 724.04,615.7 725.52,615.7 727.01,615.7 728.49,615.7 729.98,615.7 731.47,615.7 732.95,615.7 734.44,615.7 735.92,615.7 737.41,615.7 738.9,615.7 740.38,615.7 741.87,615.7 743.35,615.7 744.84,615.7 746.33,615.7 747.81,615.7 749.3,615.7 750.78,615.7 752.27,615.7 753.76,615.7 755.24,615.7 756.73,615.7 758.21,615.7 759.7,615.7" fill="none" stroke="#000" stroke-width="1.6" />
<polyline points="462.5,443.75 463.99,446.96 465.47,450.14 466.96,453.28 468.44,456.37 469.93,459.44 471.42,462.46 472.9,465.45 474.39,468.41 475.87,471.32 477.36,474.2 478.85,477.05 480.33,479.86 481.82,482.63 483.3,485.37 484.79,488.07 486.28,490.74 487.76,493.37 489.25,495.97 490.73,498.53 492.22,501.06 493.71,503.56 495.19,506.02 496.68,508.45 498.16,510.84 499.65,513.2 501.14,515.53 502.62,517.82 504.11,520.09 505.59,522.32 507.08,524.51 508.57,526.68 510.05,528.81 511.54,530.91 513.02,532.98 514.51,535.01 516,537.02 517.48,538.99 518.97,540.94 520.45,542.85 521.94,544.73 523.43,546.58 524.91,548.4 526.4,550.19 527.88,551.95 529.37,553.69 530.86,555.39 532.34,557.06 533.83,558.7 535.31,560.32 536.8,561.91 538.29,563.46 539.77,564.99 541.26,566.49 542.74,567.97 544.23,569.41 545.72,570.83 547.2,572.22 548.69,573.59 550.17,574.93 551.66,576.24 553.15,577.52 554.63,578.78 556.12,580.01 557.6,581.22 559.09,582.4 560.58,583.55 562.06,584.68 563.55,585.79 565.03,586.87 566.52,587.92 568.01,588.95 569.49,589.96 570.98,590.95 572.46,591.91 573.95,592.84 575.44,593.76 576.92,594.65 578.41,595.51 579.89,596.36 581.38,597.18 582.87,597.98 584.35,598.76 585.84,599.52 587.32,600.25 588.81,600.97 590.3,601.66 591.78,602.34 593.27,602.99 594.75,603.62 596.24,604.24 597.73,604.83 599.21,605.4 600.7,605.96 602.18,606.49 603.67,607.01 605.16,607.51 606.64,607.99 608.13,608.45 609.61,608.9 611.1,609.32 612.59,609.74 614.07,610.13 615.56,610.51 617.04,610.87 618.53,611.21 620.02,611.54 621.5,611.86 622.99,612.15 624.47,612.44 625.96,612.71 627.45,612.96 628.93,613.2 630.42,613.43 631.9,613.65 633.39,613.85 634.88,614.04 636.36,614.21 637.85,614.38 639.33,614.53 640.82,614.67 642.31,614.8 643.79,614.92 645.28,615.03 646.76,615.13 648.25,615.22 649.74,615.3 651.22,615.37 652.71,615.43 654.19,615.49 655.68,615.53 657.17,615.57 658.65,615.61 660.14,615.63 661.62,615.66 663.11,615.67 664.6,615.69 666.08,615.69 667.57,615.7 669.05,615.7 670.54,615.7 672.03,615.7 673.51,615.7 675,615.7 676.48,615.7 677.97,615.7 679.46,615.7 680.94,615.7 682.43,615.7 683.91,615.7 685.4,615.7 686.89,615.7 688.37,615.7 689.86,615.7 691.34,615.7 692.83,615.7 694.32,615.7 695.8,615.7 697.29,615.7 698.77,615.7 700.26,615.7 701.75,615.7 703.23,615.7 704.72,615.7 706.2,615.7 707.69,615.7 709.18,615.7 710.66,615.7 712.15,615.7 713.63,615.7 715.12,615.7 716.61,615.7 718.09,615.7 719.58,615.7 721.06,615.7 722.55,615.7 724.04,615.7 725.52,615.7 727.01,615.7 728.49,615.7 729.98,615.7 731.47,615.7 732.95,615.7 734.44,615.7 735.92,615.7 737.41,615.7 738.9,615.7 740.38,615.7 741.87,615.7 743.35,615.7 744.84,615.7 746.33,615.7 747.81,615.7 749.3,615.7 750.78,615.7 752.27,615.7 753.76,615.7 755.24,615.7 756.73,615.7 758.21,615.7 759.7,615.7" fill="none" stroke="#1f3fe6" stroke-width="1.6" />
<polygon points="462.5,447.01 465.3,450.37 462.5,453.73 459.7,450.37" fill="#f29a2e"/>
<polygon points="477.36,445.35 480.16,448.71 477.36,452.07 474.56,448.71" fill="#f29a2e"/>
<polygon points="492.22,445.35 495.02,448.71 492.22,452.07 489.42,448.71" fill="#f29a2e"/>
<polygon points="507.08,442.05 509.88,445.41 507.08,448.77 504.28,445.41" fill="#f29a2e"/>
<polygon points="521.94,440.39 524.74,443.75 521.94,447.11 519.14,443.75" fill="#f29a2e"/>
<polygon points="536.8,442.05 539.6,445.41 536.8,448.77 534,445.41" fill="#f29a2e"/>
<polygon points="551.66,443.7 554.46,447.06 551.66,450.42 548.86,447.06" fill="#f29a2e"/>
<polygon points="566.52,440.39 569.32,443.75 566.52,447.11 563.72,443.75" fill="#f29a2e"/>
<polygon points="581.38,440.39 584.18,443.75 581.38,447.11 578.58,443.75" fill="#f29a2e"/>
<polygon points="596.24,442.05 599.04,445.41 596.24,448.77 593.44,445.41" fill="#f29a2e"/>
<polygon points="611.1,445.35 613.9,448.71 611.1,452.07 608.3,448.71" fill="#f29a2e"/>
<polygon points="625.96,447.01 628.76,450.37 625.96,453.73 623.16,450.37" fill="#f29a2e"/>
<polygon points="640.82,447.01 643.62,450.37 640.82,453.73 638.02,450.37" fill="#f29a2e"/>
<polygon points="655.68,448.66 658.48,452.02 655.68,455.38 652.88,452.02" fill="#f29a2e"/>
<polygon points="670.54,450.31 673.34,453.67 670.54,457.03 667.74,453.67" fill="#f29a2e"/>
<polygon points="685.4,451.97 688.2,455.33 685.4,458.69 682.6,455.33" fill="#f29a2e"/>
<polygon points="700.26,453.62 703.06,456.98 700.26,460.34 697.46,456.98" fill="#f29a2e"/>
<polygon points="715.12,455.27 717.92,458.63 715.12,461.99 712.32,458.63" fill="#f29a2e"/>
<polygon points="729.98,456.93 732.78,460.29 729.98,463.65 727.18,460.29" fill="#f29a2e"/>
<polygon points="744.84,460.23 747.64,463.59 744.84,466.95 742.04,463.59" fill="#f29a2e"/>
<polygon points="759.7,461.89 762.5,465.25 759.7,468.61 756.9,465.25" fill="#f29a2e"/>
<polygon points="462.5,453.59 465.58,448.13 459.42,448.13" fill="#b54ee6"/>
<polygon points="477.36,451.93 480.44,446.47 474.28,446.47" fill="#b54ee6"/>
<polygon points="492.22,455.24 495.3,449.78 489.14,449.78" fill="#b54ee6"/>
<polygon points="507.08,456.89 510.16,451.43 504,451.43" fill="#b54ee6"/>
<polygon points="521.94,456.89 525.02,451.43 518.86,451.43" fill="#b54ee6"/>
<polygon points="536.8,458.55 539.88,453.09 533.72,453.09" fill="#b54ee6"/>
<polygon points="551.66,460.2 554.74,454.74 548.58,454.74" fill="#b54ee6"/>
<polygon points="566.52,461.85 569.6,456.39 563.44,456.39" fill="#b54ee6"/>
<polygon points="581.38,461.85 584.46,456.39 578.3,456.39" fill="#b54ee6"/>
<polygon points="596.24,465.16 599.32,459.7 593.16,459.7" fill="#b54ee6"/>
<polygon points="611.1,466.81 614.18,461.35 608.02,461.35" fill="#b54ee6"/>
<polygon points="625.96,470.12 629.04,464.66 622.88,464.66" fill="#b54ee6"/>
<polygon points="640.82,471.77 643.9,466.31 637.74,466.31" fill="#b54ee6"/>
<polygon points="655.68,475.08 658.76,469.62 652.6,469.62" fill="#b54ee6"/>
<polygon points="670.54,475.08 673.62,469.62 667.46,469.62" fill="#b54ee6"/>
<polygon points="685.4,480.04 688.48,474.58 682.32,474.58" fill="#b54ee6"/>
<polygon points="700.26,483.35 703.34,477.89 697.18,477.89" fill="#b54ee6"/>
<polygon points="715.12,486.65 718.2,481.19 712.04,481.19" fill="#b54ee6"/>
<polygon points="729.98,488.31 733.06,482.85 726.9,482.85" fill="#b54ee6"/>
<polygon points="744.84,491.61 747.92,486.15 741.76,486.15" fill="#b54ee6"/>
<polygon points="759.7,494.92 762.78,489.46 756.62,489.46" fill="#b54ee6"/>
<polygon points="462.5,447.15 465.58,452.61 459.42,452.61" fill="#1fb02a"/>
<polygon points="477.36,450.45 480.44,455.91 474.28,455.91" fill="#1fb02a"/>
<polygon points="492.22,453.76 495.3,459.22 489.14,459.22" fill="#1fb02a"/>
<polygon points="507.08,457.07 510.16,462.53 504,462.53" fill="#1fb02a"/>
<polygon points="521.94,458.72 525.02,464.18 518.86,464.18" fill="#1fb02a"/>
<polygon points="536.8,462.03 539.88,467.49 533.72,467.49" fill="#1fb02a"/>
<polygon points="551.66,465.33 554.74,470.79 548.58,470.79" fill="#1fb02a"/>
<polygon points="566.52,468.64 569.6,474.1 563.44,474.1" fill="#1fb02a"/>
<polygon points="581.38,470.29 584.46,475.75 578.3,475.75" fill="#1fb02a"/>
<polygon points="596.24,475.25 599.32,480.71 593.16,480.71" fill="#1fb02a"/>
<polygon points="611.1,478.56 614.18,484.02 608.02,484.02" fill="#1fb02a"/>
<polygon points="625.96,483.52 629.04,488.98 622.88,488.98" fill="#1fb02a"/>
<polygon points="640.82,488.48 643.9,493.94 637.74,493.94" fill="#1fb02a"/>
<polygon points="655.68,491.79 658.76,497.25 652.6,497.25" fill="#1fb02a"/>
<polygon points="670.54,496.75 673.62,502.21 667.46,502.21" fill="#1fb02a"/>
<polygon points="685.4,501.71 688.48,507.17 682.32,507.17" fill="#1fb02a"/>
<polygon points="700.26,506.67 703.34,512.13 697.18,512.13" fill="#1fb02a"/>
<polygon points="715.12,509.97 718.2,515.43 712.04,515.43" fill="#1fb02a"/>
<polygon points="729.98,514.93 733.06,520.39 726.9,520.39" fill="#1fb02a"/>
<polygon points="744.84,518.24 747.92,523.7 741.76,523.7" fill="#1fb02a"/>
<polygon points="759.7,523.2 762.78,528.66 756.62,528.66" fill="#1fb02a"/>
<rect x="459.5" y="447.37" width="6" height="6" fill="#ec2f28"/>
<rect x="474.36" y="465.55" width="6" height="6" fill="#ec2f28"/>
<rect x="489.22" y="483.74" width="6" height="6" fill="#ec2f28"/>
<rect x="504.08" y="496.97" width="6" height="6" fill="#ec2f28"/>
<rect x="518.94" y="510.19" width="6" height="6" fill="#ec2f28"/>
<rect x="533.8" y="523.42" width="6" height="6" fill="#ec2f28"/>
<rect x="548.66" y="530.03" width="6" height="6" fill="#ec2f28"/>
<rect x="563.52" y="538.3" width="6" height="6" fill="#ec2f28"/>
<rect x="578.38" y="548.22" width="6" height="6" fill="#ec2f28"/>
<rect x="593.24" y="561.45" width="6" height="6" fill="#ec2f28"/>
<rect x="608.1" y="569.71" width="6" height="6" fill="#ec2f28"/>
<rect x="622.96" y="577.98" width="6" height="6" fill="#ec2f28"/>
<rect x="637.82" y="584.59" width="6" height="6" fill="#ec2f28"/>
<rect x="652.68" y="589.55" width="6" height="6" fill="#ec2f28"/>
<rect x="667.54" y="596.17" width="6" height="6" fill="#ec2f28"/>
<rect x="682.4" y="601.13" width="6" height="6" fill="#ec2f28"/>
<rect x="697.26" y="604.43" width="6" height="6" fill="#ec2f28"/>
<rect x="712.12" y="606.91" width="6" height="6" fill="#ec2f28"/>
<rect x="726.98" y="608.57" width="6" height="6" fill="#ec2f28"/>
<rect x="741.84" y="610.22" width="6" height="6" fill="#ec2f28"/>
<rect x="756.7" y="611.05" width="6" height="6" fill="#ec2f28"/>
<circle cx="462.5" cy="450.37" r="4.2" fill="#000"/>
<circle cx="477.36" cy="471.86" r="4.2" fill="#000"/>
<circle cx="492.22" cy="493.35" r="4.2" fill="#000"/>
<circle cx="507.08" cy="513.19" r="4.2" fill="#000"/>
<circle cx="521.94" cy="529.73" r="4.2" fill="#000"/>
<circle cx="536.8" cy="547.91" r="4.2" fill="#000"/>
<circle cx="551.66" cy="564.45" r="4.2" fill="#000"/>
<circle cx="566.52" cy="576.02" r="4.2" fill="#000"/>
<circle cx="581.38" cy="579.33" r="4.2" fill="#000"/>
<circle cx="596.24" cy="590.9" r="4.2" fill="#000"/>
<circle cx="611.1" cy="599.17" r="4.2" fill="#000"/>
<circle cx="625.96" cy="604.13" r="4.2" fill="#000"/>
<circle cx="640.82" cy="607.43" r="4.2" fill="#000"/>
<circle cx="655.68" cy="610.74" r="4.2" fill="#000"/>
<circle cx="670.54" cy="613.22" r="4.2" fill="#000"/>
<circle cx="685.4" cy="614.87" r="4.2" fill="#000"/>
<circle cx="700.26" cy="615.7" r="4.2" fill="#000"/>
<circle cx="715.12" cy="615.7" r="4.2" fill="#000"/>
<circle cx="729.98" cy="615.7" r="4.2" fill="#000"/>
<circle cx="744.84" cy="615.7" r="4.2" fill="#000"/>
<circle cx="759.7" cy="615.7" r="4.2" fill="#000"/>
<circle cx="462.5" cy="450.37" r="2.8" fill="#1f3fe6"/>
<circle cx="477.36" cy="473.51" r="2.8" fill="#1f3fe6"/>
<circle cx="492.22" cy="499.97" r="2.8" fill="#1f3fe6"/>
<circle cx="507.08" cy="524.77" r="2.8" fill="#1f3fe6"/>
<circle cx="521.94" cy="544.61" r="2.8" fill="#1f3fe6"/>
<circle cx="536.8" cy="562.79" r="2.8" fill="#1f3fe6"/>
<circle cx="551.66" cy="579.33" r="2.8" fill="#1f3fe6"/>
<circle cx="566.52" cy="590.9" r="2.8" fill="#1f3fe6"/>
<circle cx="581.38" cy="599.17" r="2.8" fill="#1f3fe6"/>
<circle cx="596.24" cy="606.61" r="2.8" fill="#1f3fe6"/>
<circle cx="611.1" cy="610.74" r="2.8" fill="#1f3fe6"/>
<circle cx="625.96" cy="614.05" r="2.8" fill="#1f3fe6"/>
<circle cx="640.82" cy="615.7" r="2.8" fill="#1f3fe6"/>
<circle cx="655.68" cy="615.7" r="2.8" fill="#1f3fe6"/>
<circle cx="670.54" cy="615.7" r="2.8" fill="#1f3fe6"/>
<circle cx="685.4" cy="615.7" r="2.8" fill="#1f3fe6"/>
<circle cx="700.26" cy="615.7" r="2.8" fill="#1f3fe6"/>
<circle cx="715.12" cy="615.7" r="2.8" fill="#1f3fe6"/>
<circle cx="729.98" cy="615.7" r="2.8" fill="#1f3fe6"/>
<circle cx="744.84" cy="615.7" r="2.8" fill="#1f3fe6"/>
<circle cx="759.7" cy="615.7" r="2.8" fill="#1f3fe6"/>
<text x="611.1" y="664.2" font-size="15.7" text-anchor="middle" fill="#000" font-weight="bold" >Time [min]</text>
<text transform="translate(419,517) rotate(-90)" font-size="15.7" text-anchor="middle" fill="#000" font-weight="bold">NADH consumption [%]</text>
<text x="609.7" y="388.6" font-size="18" text-anchor="middle" font-weight="bold">CoQ<tspan dy="4.5" font-size="12.5">0</tspan><tspan dy="-4.5"> - iFSP1</tspan></text>
<text x="814" y="386" font-size="33" text-anchor="start" fill="#000" font-weight="bold" >h</text>
<line x1="868.7" y1="416.2" x2="868.7" y2="617" stroke="#000" stroke-width="2.6" />
<line x1="860.2" y1="615.8" x2="1167.5" y2="615.8" stroke="#000" stroke-width="2.6" />
<line x1="868.7" y1="615.8" x2="868.7" y2="622.8" stroke="#000" stroke-width="2.4" />
<line x1="898.43" y1="615.8" x2="898.43" y2="620.8" stroke="#000" stroke-width="2.4" />
<line x1="928.16" y1="615.8" x2="928.16" y2="622.8" stroke="#000" stroke-width="2.4" />
<line x1="957.89" y1="615.8" x2="957.89" y2="620.8" stroke="#000" stroke-width="2.4" />
<line x1="987.62" y1="615.8" x2="987.62" y2="622.8" stroke="#000" stroke-width="2.4" />
<line x1="1017.35" y1="615.8" x2="1017.35" y2="620.8" stroke="#000" stroke-width="2.4" />
<line x1="1047.08" y1="615.8" x2="1047.08" y2="622.8" stroke="#000" stroke-width="2.4" />
<line x1="1076.81" y1="615.8" x2="1076.81" y2="620.8" stroke="#000" stroke-width="2.4" />
<line x1="1106.54" y1="615.8" x2="1106.54" y2="622.8" stroke="#000" stroke-width="2.4" />
<line x1="1136.27" y1="615.8" x2="1136.27" y2="620.8" stroke="#000" stroke-width="2.4" />
<line x1="1166" y1="615.8" x2="1166" y2="622.8" stroke="#000" stroke-width="2.4" />
<text x="868.7" y="640.6" font-size="14.2" text-anchor="middle" fill="#000" font-weight="bold" >0</text>
<text x="928.16" y="640.6" font-size="14.2" text-anchor="middle" fill="#000" font-weight="bold" >2</text>
<text x="987.62" y="640.6" font-size="14.2" text-anchor="middle" fill="#000" font-weight="bold" >4</text>
<text x="1047.08" y="640.6" font-size="14.2" text-anchor="middle" fill="#000" font-weight="bold" >6</text>
<text x="1106.54" y="640.6" font-size="14.2" text-anchor="middle" fill="#000" font-weight="bold" >8</text>
<text x="1166" y="640.6" font-size="14.2" text-anchor="middle" fill="#000" font-weight="bold" >10</text>
<line x1="860.7" y1="615.8" x2="868.7" y2="615.8" stroke="#000" stroke-width="2.4" />
<text x="857.7" y="620.8" font-size="14.2" text-anchor="end" fill="#000" font-weight="bold" >0</text>
<line x1="860.7" y1="565.9" x2="868.7" y2="565.9" stroke="#000" stroke-width="2.4" />
<text x="857.7" y="570.9" font-size="14.2" text-anchor="end" fill="#000" font-weight="bold" >30</text>
<line x1="860.7" y1="516" x2="868.7" y2="516" stroke="#000" stroke-width="2.4" />
<text x="857.7" y="521" font-size="14.2" text-anchor="end" fill="#000" font-weight="bold" >60</text>
<line x1="860.7" y1="466.1" x2="868.7" y2="466.1" stroke="#000" stroke-width="2.4" />
<text x="857.7" y="471.1" font-size="14.2" text-anchor="end" fill="#000" font-weight="bold" >90</text>
<line x1="860.7" y1="416.2" x2="868.7" y2="416.2" stroke="#000" stroke-width="2.4" />
<text x="857.7" y="421.2" font-size="14.2" text-anchor="end" fill="#000" font-weight="bold" >120</text>
<line x1="863.7" y1="590.85" x2="868.7" y2="590.85" stroke="#000" stroke-width="2.4" />
<line x1="863.7" y1="540.95" x2="868.7" y2="540.95" stroke="#000" stroke-width="2.4" />
<line x1="863.7" y1="491.05" x2="868.7" y2="491.05" stroke="#000" stroke-width="2.4" />
<line x1="863.7" y1="441.15" x2="868.7" y2="441.15" stroke="#000" stroke-width="2.4" />
<polyline points="868.7,447.8 870.19,449.64 871.67,451.47 873.16,453.28 874.65,455.07 876.13,456.85 877.62,458.61 879.11,460.36 880.59,462.09 882.08,463.81 883.57,465.51 885.05,467.2 886.54,468.88 888.02,470.54 889.51,472.18 891,473.82 892.48,475.44 893.97,477.05 895.46,478.64 896.94,480.22 898.43,481.79 899.92,483.34 901.4,484.88 902.89,486.41 904.38,487.93 905.86,489.44 907.35,490.93 908.84,492.41 910.32,493.88 911.81,495.34 913.3,496.78 914.78,498.22 916.27,499.64 917.75,501.05 919.24,502.45 920.73,503.84 922.21,505.22 923.7,506.59 925.19,507.95 926.67,509.29 928.16,510.63 929.65,511.96 931.13,513.27 932.62,514.58 934.11,515.87 935.59,517.16 937.08,518.43 938.57,519.7 940.05,520.95 941.54,522.2 943.03,523.44 944.51,524.67 946,525.88 947.48,527.09 948.97,528.29 950.46,529.48 951.94,530.67 953.43,531.84 954.92,533 956.4,534.16 957.89,535.3 959.38,536.44 960.86,537.57 962.35,538.69 963.84,539.8 965.32,540.91 966.81,542 968.3,543.09 969.78,544.17 971.27,545.24 972.76,546.3 974.24,547.36 975.73,548.4 977.21,549.44 978.7,550.47 980.19,551.49 981.67,552.51 983.16,553.52 984.65,554.52 986.13,555.51 987.62,556.49 989.11,557.47 990.59,558.43 992.08,559.39 993.57,560.35 995.05,561.29 996.54,562.23 998.03,563.16 999.51,564.08 1001,565 1002.49,565.91 1003.97,566.81 1005.46,567.7 1006.94,568.58 1008.43,569.46 1009.92,570.33 1011.4,571.19 1012.89,572.05 1014.38,572.9 1015.86,573.74 1017.35,574.57 1018.84,575.39 1020.32,576.21 1021.81,577.02 1023.3,577.82 1024.78,578.62 1026.27,579.41 1027.76,580.19 1029.24,580.96 1030.73,581.72 1032.22,582.48 1033.7,583.23 1035.19,583.97 1036.67,584.71 1038.16,585.43 1039.65,586.15 1041.13,586.86 1042.62,587.57 1044.11,588.26 1045.59,588.95 1047.08,589.63 1048.57,590.3 1050.05,590.96 1051.54,591.61 1053.03,592.26 1054.51,592.9 1056,593.53 1057.49,594.15 1058.97,594.77 1060.46,595.37 1061.95,595.97 1063.43,596.55 1064.92,597.13 1066.4,597.7 1067.89,598.27 1069.38,598.82 1070.86,599.36 1072.35,599.9 1073.84,600.42 1075.32,600.94 1076.81,601.45 1078.3,601.95 1079.78,602.44 1081.27,602.92 1082.76,603.39 1084.24,603.85 1085.73,604.3 1087.22,604.74 1088.7,605.17 1090.19,605.59 1091.67,606 1093.16,606.4 1094.65,606.79 1096.13,607.17 1097.62,607.54 1099.11,607.9 1100.59,608.25 1102.08,608.58 1103.57,608.91 1105.05,609.22 1106.54,609.53 1108.03,609.82 1109.51,610.1 1111,610.37 1112.49,610.63 1113.97,610.87 1115.46,611.11 1116.95,611.33 1118.43,611.54 1119.92,611.74 1121.4,611.92 1122.89,612.09 1124.38,612.25 1125.86,612.4 1127.35,612.54 1128.84,612.66 1130.32,612.76 1131.81,612.86 1133.3,612.94 1134.78,613 1136.27,613.06 1137.76,613.09 1139.24,613.12 1140.73,613.13 1142.22,613.12 1143.7,613.1 1145.19,613.07 1146.68,613.02 1148.16,612.96 1149.65,612.88 1151.13,612.78 1152.62,612.67 1154.11,612.54 1155.59,612.4 1157.08,612.24 1158.57,612.06 1160.05,611.87 1161.54,611.66 1163.03,611.43 1164.51,611.19 1166,610.93" fill="none" stroke="#f29a2e" stroke-width="1.6" />
<polyline points="868.7,442.81 870.19,446.21 871.67,449.55 873.16,452.86 874.65,456.11 876.13,459.33 877.62,462.5 879.11,465.63 880.59,468.71 882.08,471.76 883.57,474.76 885.05,477.72 886.54,480.63 888.02,483.51 889.51,486.34 891,489.14 892.48,491.89 893.97,494.61 895.46,497.28 896.94,499.91 898.43,502.51 899.92,505.06 901.4,507.58 902.89,510.06 904.38,512.5 905.86,514.9 907.35,517.26 908.84,519.59 910.32,521.88 911.81,524.14 913.3,526.35 914.78,528.54 916.27,530.68 917.75,532.79 919.24,534.87 920.73,536.91 922.21,538.91 923.7,540.88 925.19,542.82 926.67,544.72 928.16,546.6 929.65,548.43 931.13,550.24 932.62,552.01 934.11,553.75 935.59,555.46 937.08,557.13 938.57,558.78 940.05,560.39 941.54,561.97 943.03,563.53 944.51,565.05 946,566.54 947.48,568 948.97,569.44 950.46,570.84 951.94,572.22 953.43,573.57 954.92,574.89 956.4,576.18 957.89,577.44 959.38,578.68 960.86,579.89 962.35,581.07 963.84,582.23 965.32,583.36 966.81,584.47 968.3,585.55 969.78,586.6 971.27,587.63 972.76,588.64 974.24,589.62 975.73,590.58 977.21,591.51 978.7,592.42 980.19,593.31 981.67,594.18 983.16,595.02 984.65,595.84 986.13,596.64 987.62,597.41 989.11,598.17 990.59,598.9 992.08,599.62 993.57,600.31 995.05,600.98 996.54,601.64 998.03,602.27 999.51,602.89 1001,603.48 1002.49,604.06 1003.97,604.62 1005.46,605.16 1006.94,605.68 1008.43,606.19 1009.92,606.68 1011.4,607.15 1012.89,607.6 1014.38,608.04 1015.86,608.47 1017.35,608.87 1018.84,609.27 1020.32,609.64 1021.81,610 1023.3,610.35 1024.78,610.69 1026.27,611.01 1027.76,611.31 1029.24,611.6 1030.73,611.88 1032.22,612.15 1033.7,612.41 1035.19,612.65 1036.67,612.88 1038.16,613.1 1039.65,613.3 1041.13,613.5 1042.62,613.69 1044.11,613.86 1045.59,614.03 1047.08,614.19 1048.57,614.33 1050.05,614.47 1051.54,614.6 1053.03,614.72 1054.51,614.83 1056,614.93 1057.49,615.03 1058.97,615.12 1060.46,615.2 1061.95,615.28 1063.43,615.34 1064.92,615.41 1066.4,615.46 1067.89,615.51 1069.38,615.56 1070.86,615.6 1072.35,615.63 1073.84,615.66 1075.32,615.69 1076.81,615.71 1078.3,615.73 1079.78,615.75 1081.27,615.76 1082.76,615.77 1084.24,615.78 1085.73,615.79 1087.22,615.79 1088.7,615.8 1090.19,615.8 1091.67,615.8 1093.16,615.8 1094.65,615.8 1096.13,615.8 1097.62,615.8 1099.11,615.8 1100.59,615.8 1102.08,615.8 1103.57,615.8 1105.05,615.8 1106.54,615.8 1108.03,615.8 1109.51,615.8 1111,615.8 1112.49,615.8 1113.97,615.8 1115.46,615.8 1116.95,615.8 1118.43,615.8 1119.92,615.8 1121.4,615.8 1122.89,615.8 1124.38,615.8 1125.86,615.8 1127.35,615.8 1128.84,615.8 1130.32,615.8 1131.81,615.8 1133.3,615.8 1134.78,615.8 1136.27,615.8 1137.76,615.8 1139.24,615.8 1140.73,615.8 1142.22,615.8 1143.7,615.8 1145.19,615.8 1146.68,615.8 1148.16,615.8 1149.65,615.8 1151.13,615.8 1152.62,615.8 1154.11,615.8 1155.59,615.8 1157.08,615.8 1158.57,615.8 1160.05,615.8 1161.54,615.8 1163.03,615.8 1164.51,615.8 1166,615.8" fill="none" stroke="#b54ee6" stroke-width="1.6" />
<polyline points="868.7,442.81 870.19,445.71 871.67,448.57 873.16,451.4 874.65,454.2 876.13,456.97 877.62,459.72 879.11,462.43 880.59,465.11 882.08,467.76 883.57,470.38 885.05,472.98 886.54,475.54 888.02,478.07 889.51,480.58 891,483.06 892.48,485.51 893.97,487.93 895.46,490.32 896.94,492.68 898.43,495.01 899.92,497.32 901.4,499.6 902.89,501.85 904.38,504.08 905.86,506.27 907.35,508.44 908.84,510.58 910.32,512.7 911.81,514.78 913.3,516.85 914.78,518.88 916.27,520.89 917.75,522.87 919.24,524.82 920.73,526.75 922.21,528.66 923.7,530.53 925.19,532.39 926.67,534.21 928.16,536.01 929.65,537.79 931.13,539.54 932.62,541.27 934.11,542.97 935.59,544.64 937.08,546.3 938.57,547.92 940.05,549.53 941.54,551.11 943.03,552.66 944.51,554.2 946,555.7 947.48,557.19 948.97,558.65 950.46,560.09 951.94,561.51 953.43,562.9 954.92,564.27 956.4,565.62 957.89,566.94 959.38,568.25 960.86,569.53 962.35,570.79 963.84,572.02 965.32,573.24 966.81,574.43 968.3,575.61 969.78,576.76 971.27,577.89 972.76,579 974.24,580.09 975.73,581.16 977.21,582.21 978.7,583.24 980.19,584.25 981.67,585.23 983.16,586.2 984.65,587.15 986.13,588.08 987.62,588.99 989.11,589.89 990.59,590.76 992.08,591.61 993.57,592.45 995.05,593.27 996.54,594.06 998.03,594.85 999.51,595.61 1001,596.35 1002.49,597.08 1003.97,597.79 1005.46,598.49 1006.94,599.16 1008.43,599.82 1009.92,600.47 1011.4,601.09 1012.89,601.7 1014.38,602.3 1015.86,602.87 1017.35,603.44 1018.84,603.98 1020.32,604.51 1021.81,605.03 1023.3,605.53 1024.78,606.02 1026.27,606.49 1027.76,606.94 1029.24,607.39 1030.73,607.81 1032.22,608.23 1033.7,608.63 1035.19,609.02 1036.67,609.39 1038.16,609.75 1039.65,610.1 1041.13,610.43 1042.62,610.75 1044.11,611.06 1045.59,611.36 1047.08,611.65 1048.57,611.92 1050.05,612.18 1051.54,612.43 1053.03,612.67 1054.51,612.9 1056,613.12 1057.49,613.32 1058.97,613.52 1060.46,613.71 1061.95,613.88 1063.43,614.05 1064.92,614.21 1066.4,614.36 1067.89,614.5 1069.38,614.63 1070.86,614.75 1072.35,614.86 1073.84,614.97 1075.32,615.07 1076.81,615.16 1078.3,615.24 1079.78,615.32 1081.27,615.38 1082.76,615.45 1084.24,615.5 1085.73,615.55 1087.22,615.6 1088.7,615.64 1090.19,615.67 1091.67,615.7 1093.16,615.72 1094.65,615.75 1096.13,615.76 1097.62,615.77 1099.11,615.78 1100.59,615.79 1102.08,615.8 1103.57,615.8 1105.05,615.8 1106.54,615.8 1108.03,615.8 1109.51,615.8 1111,615.8 1112.49,615.8 1113.97,615.8 1115.46,615.8 1116.95,615.8 1118.43,615.8 1119.92,615.8 1121.4,615.8 1122.89,615.8 1124.38,615.8 1125.86,615.8 1127.35,615.8 1128.84,615.8 1130.32,615.8 1131.81,615.8 1133.3,615.8 1134.78,615.8 1136.27,615.8 1137.76,615.8 1139.24,615.8 1140.73,615.8 1142.22,615.8 1143.7,615.8 1145.19,615.8 1146.68,615.8 1148.16,615.8 1149.65,615.8 1151.13,615.8 1152.62,615.8 1154.11,615.8 1155.59,615.8 1157.08,615.8 1158.57,615.8 1160.05,615.8 1161.54,615.8 1163.03,615.8 1164.51,615.8 1166,615.8" fill="none" stroke="#1fb02a" stroke-width="1.6" />
<polyline points="868.7,442.81 870.19,446.33 871.67,449.8 873.16,453.22 874.65,456.59 876.13,459.91 877.62,463.19 879.11,466.42 880.59,469.6 882.08,472.74 883.57,475.83 885.05,478.88 886.54,481.88 888.02,484.84 889.51,487.75 891,490.62 892.48,493.44 893.97,496.23 895.46,498.96 896.94,501.66 898.43,504.31 899.92,506.93 901.4,509.5 902.89,512.03 904.38,514.51 905.86,516.96 907.35,519.37 908.84,521.74 910.32,524.06 911.81,526.35 913.3,528.6 914.78,530.82 916.27,532.99 917.75,535.12 919.24,537.22 920.73,539.28 922.21,541.31 923.7,543.3 925.19,545.25 926.67,547.16 928.16,549.04 929.65,550.89 931.13,552.7 932.62,554.48 934.11,556.22 935.59,557.93 937.08,559.6 938.57,561.25 940.05,562.86 941.54,564.43 943.03,565.98 944.51,567.49 946,568.98 947.48,570.43 948.97,571.85 950.46,573.24 951.94,574.6 953.43,575.93 954.92,577.23 956.4,578.5 957.89,579.75 959.38,580.96 960.86,582.15 962.35,583.31 963.84,584.44 965.32,585.55 966.81,586.63 968.3,587.68 969.78,588.71 971.27,589.71 972.76,590.69 974.24,591.64 975.73,592.56 977.21,593.47 978.7,594.35 980.19,595.2 981.67,596.03 983.16,596.84 984.65,597.63 986.13,598.39 987.62,599.13 989.11,599.85 990.59,600.55 992.08,601.23 993.57,601.89 995.05,602.52 996.54,603.14 998.03,603.74 999.51,604.32 1001,604.88 1002.49,605.42 1003.97,605.94 1005.46,606.44 1006.94,606.93 1008.43,607.4 1009.92,607.85 1011.4,608.29 1012.89,608.71 1014.38,609.11 1015.86,609.5 1017.35,609.87 1018.84,610.22 1020.32,610.57 1021.81,610.89 1023.3,611.21 1024.78,611.51 1026.27,611.79 1027.76,612.07 1029.24,612.33 1030.73,612.57 1032.22,612.81 1033.7,613.03 1035.19,613.25 1036.67,613.45 1038.16,613.64 1039.65,613.82 1041.13,613.98 1042.62,614.14 1044.11,614.29 1045.59,614.43 1047.08,614.56 1048.57,614.69 1050.05,614.8 1051.54,614.91 1053.03,615 1054.51,615.09 1056,615.18 1057.49,615.25 1058.97,615.32 1060.46,615.39 1061.95,615.44 1063.43,615.5 1064.92,615.54 1066.4,615.58 1067.89,615.62 1069.38,615.65 1070.86,615.68 1072.35,615.71 1073.84,615.73 1075.32,615.74 1076.81,615.76 1078.3,615.77 1079.78,615.78 1081.27,615.79 1082.76,615.79 1084.24,615.79 1085.73,615.8 1087.22,615.8 1088.7,615.8 1090.19,615.8 1091.67,615.8 1093.16,615.8 1094.65,615.8 1096.13,615.8 1097.62,615.8 1099.11,615.8 1100.59,615.8 1102.08,615.8 1103.57,615.8 1105.05,615.8 1106.54,615.8 1108.03,615.8 1109.51,615.8 1111,615.8 1112.49,615.8 1113.97,615.8 1115.46,615.8 1116.95,615.8 1118.43,615.8 1119.92,615.8 1121.4,615.8 1122.89,615.8 1124.38,615.8 1125.86,615.8 1127.35,615.8 1128.84,615.8 1130.32,615.8 1131.81,615.8 1133.3,615.8 1134.78,615.8 1136.27,615.8 1137.76,615.8 1139.24,615.8 1140.73,615.8 1142.22,615.8 1143.7,615.8 1145.19,615.8 1146.68,615.8 1148.16,615.8 1149.65,615.8 1151.13,615.8 1152.62,615.8 1154.11,615.8 1155.59,615.8 1157.08,615.8 1158.57,615.8 1160.05,615.8 1161.54,615.8 1163.03,615.8 1164.51,615.8 1166,615.8" fill="none" stroke="#ec2f28" stroke-width="1.6" />
<polyline points="868.7,442.81 870.19,446.33 871.67,449.8 873.16,453.22 874.65,456.59 876.13,459.91 877.62,463.19 879.11,466.42 880.59,469.6 882.08,472.74 883.57,475.83 885.05,478.88 886.54,481.88 888.02,484.84 889.51,487.75 891,490.62 892.48,493.44 893.97,496.23 895.46,498.96 896.94,501.66 898.43,504.31 899.92,506.93 901.4,509.5 902.89,512.03 904.38,514.51 905.86,516.96 907.35,519.37 908.84,521.74 910.32,524.06 911.81,526.35 913.3,528.6 914.78,530.82 916.27,532.99 917.75,535.12 919.24,537.22 920.73,539.28 922.21,541.31 923.7,543.3 925.19,545.25 926.67,547.16 928.16,549.04 929.65,550.89 931.13,552.7 932.62,554.48 934.11,556.22 935.59,557.93 937.08,559.6 938.57,561.25 940.05,562.86 941.54,564.43 943.03,565.98 944.51,567.49 946,568.98 947.48,570.43 948.97,571.85 950.46,573.24 951.94,574.6 953.43,575.93 954.92,577.23 956.4,578.5 957.89,579.75 959.38,580.96 960.86,582.15 962.35,583.31 963.84,584.44 965.32,585.55 966.81,586.63 968.3,587.68 969.78,588.71 971.27,589.71 972.76,590.69 974.24,591.64 975.73,592.56 977.21,593.47 978.7,594.35 980.19,595.2 981.67,596.03 983.16,596.84 984.65,597.63 986.13,598.39 987.62,599.13 989.11,599.85 990.59,600.55 992.08,601.23 993.57,601.89 995.05,602.52 996.54,603.14 998.03,603.74 999.51,604.32 1001,604.88 1002.49,605.42 1003.97,605.94 1005.46,606.44 1006.94,606.93 1008.43,607.4 1009.92,607.85 1011.4,608.29 1012.89,608.71 1014.38,609.11 1015.86,609.5 1017.35,609.87 1018.84,610.22 1020.32,610.57 1021.81,610.89 1023.3,611.21 1024.78,611.51 1026.27,611.79 1027.76,612.07 1029.24,612.33 1030.73,612.57 1032.22,612.81 1033.7,613.03 1035.19,613.25 1036.67,613.45 1038.16,613.64 1039.65,613.82 1041.13,613.98 1042.62,614.14 1044.11,614.29 1045.59,614.43 1047.08,614.56 1048.57,614.69 1050.05,614.8 1051.54,614.91 1053.03,615 1054.51,615.09 1056,615.18 1057.49,615.25 1058.97,615.32 1060.46,615.39 1061.95,615.44 1063.43,615.5 1064.92,615.54 1066.4,615.58 1067.89,615.62 1069.38,615.65 1070.86,615.68 1072.35,615.71 1073.84,615.73 1075.32,615.74 1076.81,615.76 1078.3,615.77 1079.78,615.78 1081.27,615.79 1082.76,615.79 1084.24,615.79 1085.73,615.8 1087.22,615.8 1088.7,615.8 1090.19,615.8 1091.67,615.8 1093.16,615.8 1094.65,615.8 1096.13,615.8 1097.62,615.8 1099.11,615.8 1100.59,615.8 1102.08,615.8 1103.57,615.8 1105.05,615.8 1106.54,615.8 1108.03,615.8 1109.51,615.8 1111,615.8 1112.49,615.8 1113.97,615.8 1115.46,615.8 1116.95,615.8 1118.43,615.8 1119.92,615.8 1121.4,615.8 1122.89,615.8 1124.38,615.8 1125.86,615.8 1127.35,615.8 1128.84,615.8 1130.32,615.8 1131.81,615.8 1133.3,615.8 1134.78,615.8 1136.27,615.8 1137.76,615.8 1139.24,615.8 1140.73,615.8 1142.22,615.8 1143.7,615.8 1145.19,615.8 1146.68,615.8 1148.16,615.8 1149.65,615.8 1151.13,615.8 1152.62,615.8 1154.11,615.8 1155.59,615.8 1157.08,615.8 1158.57,615.8 1160.05,615.8 1161.54,615.8 1163.03,615.8 1164.51,615.8 1166,615.8" fill="none" stroke="#000" stroke-width="1.6" />
<polyline points="868.7,442.81 870.19,446.05 871.67,449.24 873.16,452.39 874.65,455.5 876.13,458.57 877.62,461.6 879.11,464.59 880.59,467.54 882.08,470.45 883.57,473.32 885.05,476.15 886.54,478.94 888.02,481.69 889.51,484.41 891,487.08 892.48,489.72 893.97,492.32 895.46,494.89 896.94,497.41 898.43,499.9 899.92,502.36 901.4,504.78 902.89,507.16 904.38,509.51 905.86,511.82 907.35,514.1 908.84,516.34 910.32,518.55 911.81,520.72 913.3,522.86 914.78,524.97 916.27,527.05 917.75,529.09 919.24,531.1 920.73,533.07 922.21,535.02 923.7,536.93 925.19,538.81 926.67,540.66 928.16,542.48 929.65,544.27 931.13,546.03 932.62,547.76 934.11,549.46 935.59,551.13 937.08,552.77 938.57,554.39 940.05,555.97 941.54,557.52 943.03,559.05 944.51,560.55 946,562.02 947.48,563.47 948.97,564.89 950.46,566.28 951.94,567.64 953.43,568.98 954.92,570.29 956.4,571.58 957.89,572.84 959.38,574.08 960.86,575.29 962.35,576.48 963.84,577.64 965.32,578.78 966.81,579.9 968.3,580.99 969.78,582.06 971.27,583.11 972.76,584.14 974.24,585.14 975.73,586.12 977.21,587.08 978.7,588.01 980.19,588.93 981.67,589.82 983.16,590.7 984.65,591.55 986.13,592.38 987.62,593.2 989.11,593.99 990.59,594.77 992.08,595.52 993.57,596.26 995.05,596.98 996.54,597.68 998.03,598.36 999.51,599.02 1001,599.67 1002.49,600.3 1003.97,600.91 1005.46,601.5 1006.94,602.08 1008.43,602.64 1009.92,603.19 1011.4,603.72 1012.89,604.23 1014.38,604.73 1015.86,605.22 1017.35,605.69 1018.84,606.14 1020.32,606.58 1021.81,607.01 1023.3,607.42 1024.78,607.82 1026.27,608.21 1027.76,608.58 1029.24,608.94 1030.73,609.29 1032.22,609.62 1033.7,609.95 1035.19,610.26 1036.67,610.56 1038.16,610.85 1039.65,611.13 1041.13,611.39 1042.62,611.65 1044.11,611.89 1045.59,612.13 1047.08,612.35 1048.57,612.57 1050.05,612.78 1051.54,612.97 1053.03,613.16 1054.51,613.34 1056,613.51 1057.49,613.67 1058.97,613.83 1060.46,613.97 1061.95,614.11 1063.43,614.24 1064.92,614.37 1066.4,614.49 1067.89,614.6 1069.38,614.7 1070.86,614.8 1072.35,614.89 1073.84,614.97 1075.32,615.05 1076.81,615.13 1078.3,615.2 1079.78,615.26 1081.27,615.32 1082.76,615.37 1084.24,615.43 1085.73,615.47 1087.22,615.51 1088.7,615.55 1090.19,615.59 1091.67,615.62 1093.16,615.64 1094.65,615.67 1096.13,615.69 1097.62,615.71 1099.11,615.73 1100.59,615.74 1102.08,615.75 1103.57,615.76 1105.05,615.77 1106.54,615.78 1108.03,615.79 1109.51,615.79 1111,615.79 1112.49,615.8 1113.97,615.8 1115.46,615.8 1116.95,615.8 1118.43,615.8 1119.92,615.8 1121.4,615.8 1122.89,615.8 1124.38,615.8 1125.86,615.8 1127.35,615.8 1128.84,615.8 1130.32,615.8 1131.81,615.8 1133.3,615.8 1134.78,615.8 1136.27,615.8 1137.76,615.8 1139.24,615.8 1140.73,615.8 1142.22,615.8 1143.7,615.8 1145.19,615.8 1146.68,615.8 1148.16,615.8 1149.65,615.8 1151.13,615.8 1152.62,615.8 1154.11,615.8 1155.59,615.8 1157.08,615.8 1158.57,615.8 1160.05,615.8 1161.54,615.8 1163.03,615.8 1164.51,615.8 1166,615.8" fill="none" stroke="#1f3fe6" stroke-width="1.6" />
<polygon points="868.7,446.59 871.1,449.47 868.7,452.35 866.3,449.47" fill="#f29a2e"/>
<polygon points="883.57,466.55 885.97,469.43 883.57,472.31 881.17,469.43" fill="#f29a2e"/>
<polygon points="898.43,481.52 900.83,484.4 898.43,487.28 896.03,484.4" fill="#f29a2e"/>
<polygon points="913.3,498.15 915.7,501.03 913.3,503.91 910.9,501.03" fill="#f29a2e"/>
<polygon points="928.16,511.46 930.56,514.34 928.16,517.22 925.76,514.34" fill="#f29a2e"/>
<polygon points="943.03,523.1 945.43,525.98 943.03,528.86 940.63,525.98" fill="#f29a2e"/>
<polygon points="957.89,534.74 960.29,537.62 957.89,540.5 955.49,537.62" fill="#f29a2e"/>
<polygon points="972.76,544.72 975.16,547.6 972.76,550.48 970.36,547.6" fill="#f29a2e"/>
<polygon points="987.62,554.7 990.02,557.58 987.62,560.46 985.22,557.58" fill="#f29a2e"/>
<polygon points="1002.49,566.35 1004.88,569.23 1002.49,572.11 1000.09,569.23" fill="#f29a2e"/>
<polygon points="1017.35,574.66 1019.75,577.54 1017.35,580.42 1014.95,577.54" fill="#f29a2e"/>
<polygon points="1032.22,582.98 1034.62,585.86 1032.22,588.74 1029.82,585.86" fill="#f29a2e"/>
<polygon points="1047.08,591.3 1049.48,594.18 1047.08,597.06 1044.68,594.18" fill="#f29a2e"/>
<polygon points="1061.95,596.29 1064.35,599.17 1061.95,602.05 1059.55,599.17" fill="#f29a2e"/>
<polygon points="1076.81,601.28 1079.21,604.16 1076.81,607.04 1074.41,604.16" fill="#f29a2e"/>
<polygon points="1091.67,606.27 1094.08,609.15 1091.67,612.03 1089.27,609.15" fill="#f29a2e"/>
<polygon points="1106.54,609.59 1108.94,612.47 1106.54,615.35 1104.14,612.47" fill="#f29a2e"/>
<polygon points="1121.4,611.26 1123.81,614.14 1121.4,617.02 1119,614.14" fill="#f29a2e"/>
<polygon points="1136.27,612.09 1138.67,614.97 1136.27,617.85 1133.87,614.97" fill="#f29a2e"/>
<polygon points="1151.13,612.09 1153.54,614.97 1151.13,617.85 1148.73,614.97" fill="#f29a2e"/>
<polygon points="1166,612.09 1168.4,614.97 1166,617.85 1163.6,614.97" fill="#f29a2e"/>
<polygon points="868.7,452.69 871.78,447.23 865.62,447.23" fill="#b54ee6"/>
<polygon points="883.57,469.32 886.65,463.86 880.49,463.86" fill="#b54ee6"/>
<polygon points="898.43,490.94 901.51,485.48 895.35,485.48" fill="#b54ee6"/>
<polygon points="913.3,514.23 916.38,508.77 910.22,508.77" fill="#b54ee6"/>
<polygon points="928.16,534.19 931.24,528.73 925.08,528.73" fill="#b54ee6"/>
<polygon points="943.03,554.15 946.11,548.69 939.95,548.69" fill="#b54ee6"/>
<polygon points="957.89,569.12 960.97,563.66 954.81,563.66" fill="#b54ee6"/>
<polygon points="972.76,582.43 975.84,576.97 969.68,576.97" fill="#b54ee6"/>
<polygon points="987.62,592.41 990.7,586.95 984.54,586.95" fill="#b54ee6"/>
<polygon points="1002.49,600.72 1005.57,595.26 999.4,595.26" fill="#b54ee6"/>
<polygon points="1017.35,607.38 1020.43,601.92 1014.27,601.92" fill="#b54ee6"/>
<polygon points="1032.22,610.7 1035.3,605.24 1029.14,605.24" fill="#b54ee6"/>
<polygon points="1047.08,612.37 1050.16,606.91 1044,606.91" fill="#b54ee6"/>
<polygon points="1061.95,614.03 1065.03,608.57 1058.87,608.57" fill="#b54ee6"/>
<polygon points="1076.81,615.69 1079.89,610.23 1073.73,610.23" fill="#b54ee6"/>
<polygon points="1091.67,616.52 1094.75,611.06 1088.6,611.06" fill="#b54ee6"/>
<polygon points="1106.54,617.36 1109.62,611.9 1103.46,611.9" fill="#b54ee6"/>
<polygon points="1121.4,617.36 1124.48,611.9 1118.33,611.9" fill="#b54ee6"/>
<polygon points="1136.27,618.19 1139.35,612.73 1133.19,612.73" fill="#b54ee6"/>
<polygon points="1151.13,618.19 1154.21,612.73 1148.06,612.73" fill="#b54ee6"/>
<polygon points="1166,618.19 1169.08,612.73 1162.92,612.73" fill="#b54ee6"/>
<polygon points="868.7,446.25 871.78,451.71 865.62,451.71" fill="#1fb02a"/>
<polygon points="883.57,469.53 886.65,474.99 880.49,474.99" fill="#1fb02a"/>
<polygon points="898.43,487.83 901.51,493.29 895.35,493.29" fill="#1fb02a"/>
<polygon points="913.3,511.12 916.38,516.58 910.22,516.58" fill="#1fb02a"/>
<polygon points="928.16,532.74 931.24,538.2 925.08,538.2" fill="#1fb02a"/>
<polygon points="943.03,549.37 946.11,554.83 939.95,554.83" fill="#1fb02a"/>
<polygon points="957.89,566.01 960.97,571.47 954.81,571.47" fill="#1fb02a"/>
<polygon points="972.76,577.65 975.84,583.11 969.68,583.11" fill="#1fb02a"/>
<polygon points="987.62,587.63 990.7,593.09 984.54,593.09" fill="#1fb02a"/>
<polygon points="1002.49,595.95 1005.57,601.41 999.4,601.41" fill="#1fb02a"/>
<polygon points="1017.35,602.6 1020.43,608.06 1014.27,608.06" fill="#1fb02a"/>
<polygon points="1032.22,605.93 1035.3,611.39 1029.14,611.39" fill="#1fb02a"/>
<polygon points="1047.08,607.59 1050.16,613.05 1044,613.05" fill="#1fb02a"/>
<polygon points="1061.95,609.25 1065.03,614.71 1058.87,614.71" fill="#1fb02a"/>
<polygon points="1076.81,610.08 1079.89,615.54 1073.73,615.54" fill="#1fb02a"/>
<polygon points="1091.67,610.92 1094.75,616.38 1088.6,616.38" fill="#1fb02a"/>
<polygon points="1106.54,610.92 1109.62,616.38 1103.46,616.38" fill="#1fb02a"/>
<polygon points="1121.4,611.75 1124.48,617.21 1118.33,617.21" fill="#1fb02a"/>
<polygon points="1136.27,611.75 1139.35,617.21 1133.19,617.21" fill="#1fb02a"/>
<polygon points="1151.13,611.75 1154.21,617.21 1148.06,617.21" fill="#1fb02a"/>
<polygon points="1166,611.75 1169.08,617.21 1162.92,617.21" fill="#1fb02a"/>
<rect x="865.7" y="446.47" width="6" height="6" fill="#ec2f28"/>
<rect x="880.57" y="474.74" width="6" height="6" fill="#ec2f28"/>
<rect x="895.43" y="499.69" width="6" height="6" fill="#ec2f28"/>
<rect x="910.3" y="524.64" width="6" height="6" fill="#ec2f28"/>
<rect x="925.16" y="546.27" width="6" height="6" fill="#ec2f28"/>
<rect x="940.03" y="562.9" width="6" height="6" fill="#ec2f28"/>
<rect x="954.89" y="572.88" width="6" height="6" fill="#ec2f28"/>
<rect x="969.76" y="582.86" width="6" height="6" fill="#ec2f28"/>
<rect x="984.62" y="591.18" width="6" height="6" fill="#ec2f28"/>
<rect x="999.49" y="597.83" width="6" height="6" fill="#ec2f28"/>
<rect x="1014.35" y="604.48" width="6" height="6" fill="#ec2f28"/>
<rect x="1029.22" y="609.47" width="6" height="6" fill="#ec2f28"/>
<rect x="1044.08" y="611.97" width="6" height="6" fill="#ec2f28"/>
<rect x="1058.95" y="612.8" width="6" height="6" fill="#ec2f28"/>
<rect x="1073.81" y="612.8" width="6" height="6" fill="#ec2f28"/>
<rect x="1088.67" y="612.8" width="6" height="6" fill="#ec2f28"/>
<rect x="1103.54" y="612.8" width="6" height="6" fill="#ec2f28"/>
<rect x="1118.4" y="612.8" width="6" height="6" fill="#ec2f28"/>
<rect x="1133.27" y="612.8" width="6" height="6" fill="#ec2f28"/>
<rect x="1148.13" y="612.8" width="6" height="6" fill="#ec2f28"/>
<rect x="1163" y="612.8" width="6" height="6" fill="#ec2f28"/>
<circle cx="868.7" cy="449.47" r="4" fill="#000"/>
<circle cx="883.57" cy="477.74" r="4" fill="#000"/>
<circle cx="898.43" cy="504.36" r="4" fill="#000"/>
<circle cx="913.3" cy="529.31" r="4" fill="#000"/>
<circle cx="928.16" cy="549.27" r="4" fill="#000"/>
<circle cx="943.03" cy="565.9" r="4" fill="#000"/>
<circle cx="957.89" cy="574.22" r="4" fill="#000"/>
<circle cx="972.76" cy="580.87" r="4" fill="#000"/>
<circle cx="987.62" cy="590.85" r="4" fill="#000"/>
<circle cx="1002.49" cy="599.17" r="4" fill="#000"/>
<circle cx="1017.35" cy="607.48" r="4" fill="#000"/>
<circle cx="1032.22" cy="612.47" r="4" fill="#000"/>
<circle cx="1047.08" cy="614.97" r="4" fill="#000"/>
<circle cx="1061.95" cy="615.8" r="4" fill="#000"/>
<circle cx="1076.81" cy="615.8" r="4" fill="#000"/>
<circle cx="1091.67" cy="615.8" r="4" fill="#000"/>
<circle cx="1106.54" cy="615.8" r="4" fill="#000"/>
<circle cx="1121.4" cy="615.8" r="4" fill="#000"/>
<circle cx="1136.27" cy="615.8" r="4" fill="#000"/>
<circle cx="1151.13" cy="615.8" r="4" fill="#000"/>
<circle cx="1166" cy="615.8" r="4" fill="#000"/>
<circle cx="868.7" cy="449.47" r="3" fill="#1f3fe6"/>
<circle cx="883.57" cy="474.42" r="3" fill="#1f3fe6"/>
<circle cx="898.43" cy="497.7" r="3" fill="#1f3fe6"/>
<circle cx="913.3" cy="522.65" r="3" fill="#1f3fe6"/>
<circle cx="928.16" cy="544.28" r="3" fill="#1f3fe6"/>
<circle cx="943.03" cy="564.24" r="3" fill="#1f3fe6"/>
<circle cx="957.89" cy="580.87" r="3" fill="#1f3fe6"/>
<circle cx="972.76" cy="590.85" r="3" fill="#1f3fe6"/>
<circle cx="987.62" cy="599.17" r="3" fill="#1f3fe6"/>
<circle cx="1002.49" cy="603.32" r="3" fill="#1f3fe6"/>
<circle cx="1017.35" cy="607.48" r="3" fill="#1f3fe6"/>
<circle cx="1032.22" cy="609.15" r="3" fill="#1f3fe6"/>
<circle cx="1047.08" cy="609.98" r="3" fill="#1f3fe6"/>
<circle cx="1061.95" cy="611.64" r="3" fill="#1f3fe6"/>
<circle cx="1076.81" cy="612.47" r="3" fill="#1f3fe6"/>
<circle cx="1091.67" cy="613.3" r="3" fill="#1f3fe6"/>
<circle cx="1106.54" cy="614.14" r="3" fill="#1f3fe6"/>
<circle cx="1121.4" cy="614.14" r="3" fill="#1f3fe6"/>
<circle cx="1136.27" cy="614.14" r="3" fill="#1f3fe6"/>
<circle cx="1151.13" cy="614.14" r="3" fill="#1f3fe6"/>
<circle cx="1166" cy="614.14" r="3" fill="#1f3fe6"/>
<text x="1017.35" y="664.3" font-size="15.7" text-anchor="middle" fill="#000" font-weight="bold" >Time [min]</text>
<text transform="translate(826,516.5) rotate(-90)" font-size="15.7" text-anchor="middle" fill="#000" font-weight="bold">NADH consumption [%]</text>
<text x="1018" y="388.6" font-size="18" text-anchor="middle" font-weight="bold">CoQ<tspan dy="4.5" font-size="12.5">0</tspan><tspan dy="-4.5"> - icFSP1</tspan></text>
<text x="1104.7" y="410.6" font-size="21" text-anchor="start" fill="#000" >Inhibitor [μM]</text>
<line x1="1128" y1="431.4" x2="1150" y2="431.4" stroke="#1f3fe6" stroke-width="1.6" />
<circle cx="1139" cy="431.4" r="2.73" fill="#1f3fe6"/>
<text x="1161.4" y="437.09" font-size="15.8" text-anchor="start" fill="#000" >0</text>
<line x1="1128" y1="459.2" x2="1150" y2="459.2" stroke="#ec2f28" stroke-width="1.6" />
<rect x="1136.4" y="456.6" width="5.2" height="5.2" fill="#ec2f28"/>
<text x="1161.4" y="464.89" font-size="15.8" text-anchor="start" fill="#000" >0.03</text>
<line x1="1128" y1="487" x2="1150" y2="487" stroke="#1fb02a" stroke-width="1.6" />
<polygon points="1139,484.16 1141.72,488.98 1136.28,488.98" fill="#1fb02a"/>
<text x="1161.4" y="492.69" font-size="15.8" text-anchor="start" fill="#000" >0.3</text>
<line x1="1128" y1="514" x2="1150" y2="514" stroke="#b54ee6" stroke-width="1.6" />
<polygon points="1139,516.84 1141.72,512.02 1136.28,512.02" fill="#b54ee6"/>
<text x="1161.4" y="519.69" font-size="15.8" text-anchor="start" fill="#000" >3</text>
<line x1="1128" y1="541.8" x2="1150" y2="541.8" stroke="#f29a2e" stroke-width="1.6" />
<polygon points="1139,538.99 1141.34,541.8 1139,544.61 1136.66,541.8" fill="#f29a2e"/>
<text x="1161.4" y="547.49" font-size="15.8" text-anchor="start" fill="#000" >30</text>
<line x1="1128" y1="569.8" x2="1150" y2="569.8" stroke="#000" stroke-width="1.6" />
<circle cx="1139" cy="569.8" r="2.73" fill="#000"/>
<text x="1161.4" y="575.49" font-size="15.8" text-anchor="start" fill="#000" >DMSO</text>
<rect x="8" y="416" width="366" height="258" fill="#fdfdfd"/>
<text x="16" y="385" font-size="33" text-anchor="start" fill="#000" font-weight="bold" >f</text>
<text x="11" y="409.5" font-size="24">Coenzyme Q<tspan dy="5" font-size="17">0</tspan></text>
<path d="M88.2,461.9 L110.5,473.6 L110.5,497.8 L88.2,509 L65.8,497.8 L65.8,473.6 Z" fill="none" stroke="#000" stroke-width="2.4" stroke-linejoin="miter"/>
<line x1="70.28" y1="477.19" x2="70.28" y2="494.13" stroke="#000" stroke-width="2.4" stroke-linecap="butt"/>
<line x1="106.04" y1="477.19" x2="106.04" y2="494.13" stroke="#000" stroke-width="2.4" stroke-linecap="butt"/>
<line x1="85.4" y1="449.8" x2="85.4" y2="462.5" stroke="#000" stroke-width="2.4" stroke-linecap="butt"/>
<line x1="91" y1="449.8" x2="91" y2="462.5" stroke="#000" stroke-width="2.4" stroke-linecap="butt"/>
<line x1="85.4" y1="508.5" x2="85.4" y2="520.5" stroke="#000" stroke-width="2.4" stroke-linecap="butt"/>
<line x1="91" y1="508.5" x2="91" y2="520.5" stroke="#000" stroke-width="2.4" stroke-linecap="butt"/>
<text x="88.2" y="444.2" font-size="20" text-anchor="middle" fill="#000" >O</text>
<text x="88.2" y="540.2" font-size="20" text-anchor="middle" fill="#000" >O</text>
<line x1="110.5" y1="473.6" x2="132.8" y2="460.9" stroke="#000" stroke-width="2.4" stroke-linecap="butt"/>
<line x1="65.8" y1="473.6" x2="55.6" y2="467.5" stroke="#000" stroke-width="2.4" stroke-linecap="butt"/>
<text x="43.5" y="468.4" font-size="20" text-anchor="middle" fill="#000" >O</text>
<line x1="33.3" y1="466.5" x2="22.1" y2="473" stroke="#000" stroke-width="2.4" stroke-linecap="butt"/>
<line x1="65.8" y1="497.8" x2="55.6" y2="503.4" stroke="#000" stroke-width="2.4" stroke-linecap="butt"/>
<text x="43.5" y="515.8" font-size="20" text-anchor="middle" fill="#000" >O</text>
<line x1="33.3" y1="501.9" x2="22.1" y2="496.3" stroke="#000" stroke-width="2.4" stroke-linecap="butt"/>
<path d="M318,464.7 L340.4,476.8 L340.4,501 L318,512.7 L296.6,501 L296.6,476.8 Z" fill="none" stroke="#000" stroke-width="2.4" stroke-linejoin="miter"/>
<line x1="300.88" y1="480.41" x2="300.88" y2="497.35" stroke="#000" stroke-width="2.4" stroke-linecap="butt"/>
<line x1="319.12" y1="470.12" x2="334.8" y2="478.6" stroke="#000" stroke-width="2.4" stroke-linecap="butt"/>
<line x1="319.12" y1="507.34" x2="334.8" y2="499.14" stroke="#000" stroke-width="2.4" stroke-linecap="butt"/>
<line x1="318" y1="464.7" x2="318" y2="452.6" stroke="#000" stroke-width="2.4" stroke-linecap="butt"/>
<line x1="318" y1="512.7" x2="318" y2="525.2" stroke="#000" stroke-width="2.4" stroke-linecap="butt"/>
<text x="325.5" y="447" font-size="20" text-anchor="middle" fill="#000" >OH</text>
<text x="324.5" y="544.7" font-size="20" text-anchor="middle" fill="#000" >OH</text>
<line x1="340.4" y1="476.8" x2="361.8" y2="464.7" stroke="#000" stroke-width="2.4" stroke-linecap="butt"/>
<line x1="296.6" y1="476.8" x2="285.5" y2="470.6" stroke="#000" stroke-width="2.4" stroke-linecap="butt"/>
<text x="274.4" y="471.2" font-size="20" text-anchor="middle" fill="#000" >O</text>
<line x1="263.1" y1="469.9" x2="252.9" y2="475.8" stroke="#000" stroke-width="2.4" stroke-linecap="butt"/>
<line x1="296.6" y1="501" x2="285.5" y2="506.5" stroke="#000" stroke-width="2.4" stroke-linecap="butt"/>
<text x="273.4" y="519.6" font-size="20" text-anchor="middle" fill="#000" >O</text>
<line x1="262.2" y1="506.5" x2="252" y2="501" stroke="#000" stroke-width="2.4" stroke-linecap="butt"/>
<path d="M123.5,511.2 Q186.35,566.95 243.2,517.1" fill="none" stroke="#000" stroke-width="2.7"/>
<polygon points="249.2,512.1 239.58,528.46 238.35,521.57 231.69,519.41" fill="#000"/>
<path d="M123.5,568.4 Q186.35,510.6 243.5,562.6" fill="none" stroke="#000" stroke-width="2.7"/>
<polygon points="249.5,567.6 232.12,559.99 238.81,557.95 240.16,551.09" fill="#000"/>
<ellipse cx="185.1" cy="570.4" rx="39.8" ry="20.8" fill="url(#fspgrad)" stroke="#000" stroke-width="1.6"/>
<text x="185.1" y="579" font-size="24" text-anchor="middle" fill="#111" >FSP1</text>
<text x="49.3" y="591.8" font-size="23.5" text-anchor="start" fill="#000" >NADH</text>
<text x="12" y="620.8" font-size="23.5" text-anchor="start" fill="#000" >Abs: 340 nm</text>
<text x="269.6" y="594.8" font-size="23.5">NAD<tspan dy="-10" font-size="15">+</tspan></text>
<line x1="175.9" y1="602.6" x2="193.5" y2="602.6" stroke="#c8127a" stroke-width="3" />
<line x1="184.7" y1="602.6" x2="184.7" y2="637.8" stroke="#c8127a" stroke-width="3" />
<text x="188" y="660" font-size="24" text-anchor="middle" fill="#c0157a" >inhibitor</text>
<text x="1251" y="366.6" font-size="33" text-anchor="start" fill="#000" font-weight="bold" >i</text>
<text x="1297.3" y="366.6" font-size="21.6" font-weight="bold" text-anchor="start">Pfa1 <tspan font-style="italic">Gpx4</tspan><tspan dx="3.24" dy="-8.64" font-size="14.69">KO</tspan><tspan dy="8.64"> + FSP1-HA</tspan></text>
<line x1="1339.4" y1="392" x2="1339.4" y2="619.2" stroke="#000" stroke-width="2.8" />
<line x1="1330.4" y1="618" x2="1679" y2="618" stroke="#000" stroke-width="2.8" />
<line x1="1330.4" y1="618" x2="1339.4" y2="618" stroke="#000" stroke-width="2.6" />
<text x="1326.4" y="624" font-size="16.8" text-anchor="end" fill="#000" font-weight="bold" >0</text>
<line x1="1330.4" y1="561.5" x2="1339.4" y2="561.5" stroke="#000" stroke-width="2.6" />
<text x="1326.4" y="567.5" font-size="16.8" text-anchor="end" fill="#000" font-weight="bold" >30</text>
<line x1="1330.4" y1="505" x2="1339.4" y2="505" stroke="#000" stroke-width="2.6" />
<text x="1326.4" y="511" font-size="16.8" text-anchor="end" fill="#000" font-weight="bold" >60</text>
<line x1="1330.4" y1="448.5" x2="1339.4" y2="448.5" stroke="#000" stroke-width="2.6" />
<text x="1326.4" y="454.5" font-size="16.8" text-anchor="end" fill="#000" font-weight="bold" >90</text>
<line x1="1330.4" y1="392" x2="1339.4" y2="392" stroke="#000" stroke-width="2.6" />
<text x="1326.4" y="398" font-size="16.8" text-anchor="end" fill="#000" font-weight="bold" >120</text>
<line x1="1333.4" y1="599.17" x2="1339.4" y2="599.17" stroke="#000" stroke-width="2.6" />
<line x1="1333.4" y1="580.33" x2="1339.4" y2="580.33" stroke="#000" stroke-width="2.6" />
<line x1="1333.4" y1="542.67" x2="1339.4" y2="542.67" stroke="#000" stroke-width="2.6" />
<line x1="1333.4" y1="523.83" x2="1339.4" y2="523.83" stroke="#000" stroke-width="2.6" />
<line x1="1333.4" y1="486.17" x2="1339.4" y2="486.17" stroke="#000" stroke-width="2.6" />
<line x1="1333.4" y1="467.33" x2="1339.4" y2="467.33" stroke="#000" stroke-width="2.6" />
<line x1="1333.4" y1="429.67" x2="1339.4" y2="429.67" stroke="#000" stroke-width="2.6" />
<line x1="1333.4" y1="410.83" x2="1339.4" y2="410.83" stroke="#000" stroke-width="2.6" />
<line x1="1339.2" y1="618" x2="1339.2" y2="623" stroke="#000" stroke-width="2.4" />
<line x1="1345.91" y1="618" x2="1345.91" y2="623" stroke="#000" stroke-width="2.4" />
<line x1="1351.58" y1="618" x2="1351.58" y2="623" stroke="#000" stroke-width="2.4" />
<line x1="1356.49" y1="618" x2="1356.49" y2="623" stroke="#000" stroke-width="2.4" />
<line x1="1360.82" y1="618" x2="1360.82" y2="623" stroke="#000" stroke-width="2.4" />
<line x1="1364.7" y1="618" x2="1364.7" y2="626" stroke="#000" stroke-width="2.4" />
<line x1="1390.2" y1="618" x2="1390.2" y2="623" stroke="#000" stroke-width="2.4" />
<line x1="1405.11" y1="618" x2="1405.11" y2="623" stroke="#000" stroke-width="2.4" />
<line x1="1415.69" y1="618" x2="1415.69" y2="623" stroke="#000" stroke-width="2.4" />
<line x1="1423.9" y1="618" x2="1423.9" y2="623" stroke="#000" stroke-width="2.4" />
<line x1="1430.61" y1="618" x2="1430.61" y2="623" stroke="#000" stroke-width="2.4" />
<line x1="1436.28" y1="618" x2="1436.28" y2="623" stroke="#000" stroke-width="2.4" />
<line x1="1441.19" y1="618" x2="1441.19" y2="623" stroke="#000" stroke-width="2.4" />
<line x1="1445.52" y1="618" x2="1445.52" y2="623" stroke="#000" stroke-width="2.4" />
<line x1="1449.4" y1="618" x2="1449.4" y2="626" stroke="#000" stroke-width="2.4" />
<line x1="1474.9" y1="618" x2="1474.9" y2="623" stroke="#000" stroke-width="2.4" />
<line x1="1489.81" y1="618" x2="1489.81" y2="623" stroke="#000" stroke-width="2.4" />
<line x1="1500.39" y1="618" x2="1500.39" y2="623" stroke="#000" stroke-width="2.4" />
<line x1="1508.6" y1="618" x2="1508.6" y2="623" stroke="#000" stroke-width="2.4" />
<line x1="1515.31" y1="618" x2="1515.31" y2="623" stroke="#000" stroke-width="2.4" />
<line x1="1520.98" y1="618" x2="1520.98" y2="623" stroke="#000" stroke-width="2.4" />
<line x1="1525.89" y1="618" x2="1525.89" y2="623" stroke="#000" stroke-width="2.4" />
<line x1="1530.22" y1="618" x2="1530.22" y2="623" stroke="#000" stroke-width="2.4" />
<line x1="1534.1" y1="618" x2="1534.1" y2="626" stroke="#000" stroke-width="2.4" />
<line x1="1559.6" y1="618" x2="1559.6" y2="623" stroke="#000" stroke-width="2.4" />
<line x1="1574.51" y1="618" x2="1574.51" y2="623" stroke="#000" stroke-width="2.4" />
<line x1="1585.09" y1="618" x2="1585.09" y2="623" stroke="#000" stroke-width="2.4" />
<line x1="1593.3" y1="618" x2="1593.3" y2="623" stroke="#000" stroke-width="2.4" />
<line x1="1600.01" y1="618" x2="1600.01" y2="623" stroke="#000" stroke-width="2.4" />
<line x1="1605.68" y1="618" x2="1605.68" y2="623" stroke="#000" stroke-width="2.4" />
<line x1="1610.59" y1="618" x2="1610.59" y2="623" stroke="#000" stroke-width="2.4" />
<line x1="1614.92" y1="618" x2="1614.92" y2="623" stroke="#000" stroke-width="2.4" />
<line x1="1618.8" y1="618" x2="1618.8" y2="626" stroke="#000" stroke-width="2.4" />
<line x1="1644.3" y1="618" x2="1644.3" y2="623" stroke="#000" stroke-width="2.4" />
<line x1="1659.21" y1="618" x2="1659.21" y2="623" stroke="#000" stroke-width="2.4" />
<line x1="1669.79" y1="618" x2="1669.79" y2="623" stroke="#000" stroke-width="2.4" />
<line x1="1678" y1="618" x2="1678" y2="623" stroke="#000" stroke-width="2.4" />
<text x="1364.7" y="647.5" font-size="16.5" text-anchor="middle" fill="#000" font-weight="bold" >0.01</text>
<text x="1449.4" y="647.5" font-size="16.5" text-anchor="middle" fill="#000" font-weight="bold" >0.1</text>
<text x="1534.1" y="647.5" font-size="16.5" text-anchor="middle" fill="#000" font-weight="bold" >1</text>
<text x="1618.8" y="647.5" font-size="16.5" text-anchor="middle" fill="#000" font-weight="bold" >10</text>
<text x="1508.9" y="674.5" font-size="18" text-anchor="middle" fill="#000" font-weight="bold" >Inhibitor [μM]</text>
<text transform="translate(1264,505) rotate(-90)" font-size="18.2" text-anchor="middle" fill="#000" font-weight="bold">Cell viability</text>
<text transform="translate(1287,505) rotate(-90)" font-size="18" text-anchor="middle" fill="#000" font-weight="bold">(%, vs Non-treated)</text>
<polyline points="1364.7,434.81 1366.39,434.84 1368.09,434.88 1369.78,434.92 1371.48,434.96 1373.17,435.01 1374.86,435.06 1376.56,435.12 1378.25,435.18 1379.95,435.24 1381.64,435.31 1383.33,435.39 1385.03,435.47 1386.72,435.56 1388.42,435.66 1390.11,435.76 1391.8,435.87 1393.5,435.99 1395.19,436.12 1396.89,436.26 1398.58,436.42 1400.27,436.58 1401.97,436.76 1403.66,436.95 1405.36,437.16 1407.05,437.38 1408.74,437.62 1410.44,437.88 1412.13,438.16 1413.83,438.46 1415.52,438.78 1417.21,439.13 1418.91,439.51 1420.6,439.91 1422.3,440.35 1423.99,440.82 1425.68,441.33 1427.38,441.87 1429.07,442.45 1430.77,443.08 1432.46,443.75 1434.15,444.47 1435.85,445.25 1437.54,446.08 1439.24,446.96 1440.93,447.91 1442.62,448.93 1444.32,450.01 1446.01,451.17 1447.71,452.4 1449.4,453.72 1451.09,455.11 1452.79,456.6 1454.48,458.17 1456.18,459.84 1457.87,461.61 1459.56,463.47 1461.26,465.44 1462.95,467.52 1464.65,469.7 1466.34,471.98 1468.03,474.38 1469.73,476.88 1471.42,479.49 1473.12,482.21 1474.81,485.03 1476.5,487.95 1478.2,490.97 1479.89,494.08 1481.59,497.28 1483.28,500.55 1484.97,503.9 1486.67,507.32 1488.36,510.78 1490.06,514.3 1491.75,517.85 1493.44,521.42 1495.14,525.01 1496.83,528.61 1498.53,532.19 1500.22,535.76 1501.91,539.3 1503.61,542.8 1505.3,546.25 1507,549.64 1508.69,552.96 1510.38,556.21 1512.08,559.38 1513.77,562.46 1515.47,565.44 1517.16,568.33 1518.85,571.12 1520.55,573.8 1522.24,576.37 1523.94,578.84 1525.63,581.19 1527.32,583.44 1529.02,585.59 1530.71,587.62 1532.41,589.56 1534.1,591.39 1535.79,593.12 1537.49,594.76 1539.18,596.3 1540.88,597.75 1542.57,599.12 1544.26,600.41 1545.96,601.61 1547.65,602.75 1549.35,603.81 1551.04,604.8 1552.73,605.73 1554.43,606.59 1556.12,607.4 1557.82,608.16 1559.51,608.86 1561.2,609.52 1562.9,610.13 1564.59,610.7 1566.29,611.23 1567.98,611.72 1569.67,612.18 1571.37,612.6 1573.06,613 1574.76,613.37 1576.45,613.71 1578.14,614.02 1579.84,614.32 1581.53,614.59 1583.23,614.84 1584.92,615.08 1586.61,615.29 1588.31,615.49 1590,615.68 1591.7,615.85 1593.39,616.01 1595.08,616.16 1596.78,616.3 1598.47,616.42 1600.17,616.54 1601.86,616.65 1603.55,616.75 1605.25,616.85 1606.94,616.93 1608.64,617.01 1610.33,617.09 1612.02,617.15 1613.72,617.22 1615.41,617.28 1617.11,617.33 1618.8,617.38 1620.49,617.43 1622.19,617.47 1623.88,617.51 1625.58,617.55 1627.27,617.58 1628.96,617.61 1630.66,617.64 1632.35,617.67 1634.05,617.69 1635.74,617.72 1637.43,617.74 1639.13,617.76" fill="none" stroke="#000" stroke-width="1.8" />
<polyline points="1364.7,431.8 1366.39,431.83 1368.09,431.86 1369.78,431.89 1371.48,431.92 1373.17,431.96 1374.86,432.01 1376.56,432.05 1378.25,432.11 1379.95,432.17 1381.64,432.23 1383.33,432.3 1385.03,432.38 1386.72,432.47 1388.42,432.57 1390.11,432.68 1391.8,432.8 1393.5,432.93 1395.19,433.07 1396.89,433.23 1398.58,433.41 1400.27,433.6 1401.97,433.82 1403.66,434.06 1405.36,434.32 1407.05,434.61 1408.74,434.93 1410.44,435.28 1412.13,435.67 1413.83,436.09 1415.52,436.56 1417.21,437.08 1418.91,437.65 1420.6,438.27 1422.3,438.95 1423.99,439.7 1425.68,440.53 1427.38,441.43 1429.07,442.42 1430.77,443.5 1432.46,444.68 1434.15,445.96 1435.85,447.36 1437.54,448.88 1439.24,450.53 1440.93,452.32 1442.62,454.26 1444.32,456.35 1446.01,458.6 1447.71,461.02 1449.4,463.6 1451.09,466.37 1452.79,469.32 1454.48,472.45 1456.18,475.76 1457.87,479.25 1459.56,482.91 1461.26,486.75 1462.95,490.75 1464.65,494.9 1466.34,499.18 1468.03,503.58 1469.73,508.09 1471.42,512.68 1473.12,517.33 1474.81,522.01 1476.5,526.71 1478.2,531.4 1479.89,536.06 1481.59,540.66 1483.28,545.18 1484.97,549.6 1486.67,553.91 1488.36,558.08 1490.06,562.11 1491.75,565.97 1493.44,569.67 1495.14,573.19 1496.83,576.54 1498.53,579.7 1500.22,582.68 1501.91,585.47 1503.61,588.09 1505.3,590.54 1507,592.82 1508.69,594.94 1510.38,596.9 1512.08,598.71 1513.77,600.39 1515.47,601.93 1517.16,603.35 1518.85,604.66 1520.55,605.85 1522.24,606.95 1523.94,607.95 1525.63,608.87 1527.32,609.71 1529.02,610.47 1530.71,611.17 1532.41,611.8 1534.1,612.38 1535.79,612.9 1537.49,613.38 1539.18,613.81 1540.88,614.21 1542.57,614.56 1544.26,614.89 1545.96,615.18 1547.65,615.45 1549.35,615.69 1551.04,615.91 1552.73,616.11 1554.43,616.29 1556.12,616.45 1557.82,616.6 1559.51,616.73 1561.2,616.85 1562.9,616.96 1564.59,617.06 1566.29,617.15 1567.98,617.23 1569.67,617.31 1571.37,617.37 1573.06,617.43 1574.76,617.49 1576.45,617.54 1578.14,617.58 1579.84,617.62 1581.53,617.66 1583.23,617.69 1584.92,617.72 1586.61,617.75 1588.31,617.77 1590,617.79 1591.7,617.81 1593.39,617.83 1595.08,617.85 1596.78,617.86 1598.47,617.87 1600.17,617.89 1601.86,617.9 1603.55,617.91 1605.25,617.92 1606.94,617.92 1608.64,617.93 1610.33,617.94 1612.02,617.94 1613.72,617.95 1615.41,617.95 1617.11,617.96 1618.8,617.96 1620.49,617.97 1622.19,617.97 1623.88,617.97 1625.58,617.97 1627.27,617.98 1628.96,617.98 1630.66,617.98 1632.35,617.98 1634.05,617.98 1635.74,617.99 1637.43,617.99 1639.13,617.99" fill="none" stroke="#ec3a80" stroke-width="1.8" />
<rect x="1360.5" y="426.41" width="8.4" height="8.4" fill="#ec3a80"/>
<rect x="1400.91" y="430.18" width="8.4" height="8.4" fill="#ec3a80"/>
<rect x="1445.2" y="463.13" width="8.4" height="8.4" fill="#ec3a80"/>
<rect x="1485.61" y="557.3" width="8.4" height="8.4" fill="#ec3a80"/>
<rect x="1529.9" y="608.15" width="8.4" height="8.4" fill="#ec3a80"/>
<rect x="1570.31" y="613.8" width="8.4" height="8.4" fill="#ec3a80"/>
<rect x="1614.6" y="613.8" width="8.4" height="8.4" fill="#ec3a80"/>
<circle cx="1364.7" cy="435.32" r="4.6" fill="#000"/>
<circle cx="1405.11" cy="437.2" r="4.6" fill="#000"/>
<line x1="1449.4" y1="456.03" x2="1449.4" y2="469.22" stroke="#000" stroke-width="2" />
<line x1="1443.4" y1="456.03" x2="1455.4" y2="456.03" stroke="#000" stroke-width="2" />
<line x1="1443.4" y1="469.22" x2="1455.4" y2="469.22" stroke="#000" stroke-width="2" />
<circle cx="1449.4" cy="462.62" r="4.6" fill="#000"/>
<line x1="1489.81" y1="507.82" x2="1489.81" y2="521.01" stroke="#000" stroke-width="2" />
<line x1="1483.81" y1="507.82" x2="1495.81" y2="507.82" stroke="#000" stroke-width="2" />
<line x1="1483.81" y1="521.01" x2="1495.81" y2="521.01" stroke="#000" stroke-width="2" />
<circle cx="1489.81" cy="514.42" r="4.6" fill="#000"/>
<circle cx="1534.1" cy="591.63" r="4.6" fill="#000"/>
<circle cx="1574.51" cy="618" r="4.6" fill="#000"/>
<circle cx="1618.8" cy="618" r="4.6" fill="#000"/>
<text x="1533.7" y="424.6" font-size="20.5">Inhibitor (EC<tspan dy="5" font-size="13">50</tspan><tspan dy="-5">, μM)</tspan></text>
<line x1="1543" y1="449.4" x2="1566.8" y2="449.4" stroke="#000" stroke-width="1.8" />
<circle cx="1555" cy="449.4" r="4.4" fill="#000"/>
<text x="1575" y="455.3" font-size="20.5" text-anchor="start" fill="#000" >iFSP1 (0.32)</text>
<line x1="1543" y1="481.3" x2="1566.8" y2="481.3" stroke="#ec3a80" stroke-width="1.8" />
<rect x="1550.8" y="477.1" width="8.4" height="8.4" fill="#ec3a80"/>
<text x="1575" y="487.2" font-size="20.5" text-anchor="start" fill="#000" >icFSP1 (0.21)</text>
<text x="1390.7" y="566.4" font-size="17.5" text-anchor="start" fill="#000" >P &lt; 0.0001</text>
<text x="1404.8" y="612.5" font-size="17.5" text-anchor="start" fill="#000" >P = 0.0025</text>
<text x="1764" y="367" font-size="33" text-anchor="start" fill="#000" font-weight="bold" >j</text>
<text x="1820.3" y="350.9" font-size="19.5" font-weight="bold" text-anchor="start">Pfa1 <tspan font-style="italic">Gpx4</tspan><tspan dx="2.92" dy="-7.8" font-size="13.26">KO</tspan><tspan dy="7.8"> + FSP1-HA</tspan></text>
<line x1="1841.2" y1="421.8" x2="1841.2" y2="627.6" stroke="#000" stroke-width="2.8" />
<line x1="1834.6" y1="626.4" x2="2047.8" y2="626.4" stroke="#000" stroke-width="2.8" />
<line x1="1834.2" y1="626.4" x2="1841.2" y2="626.4" stroke="#000" stroke-width="2.6" />
<text x="1831.2" y="632.2" font-size="16.5" text-anchor="end" fill="#000" font-weight="bold" >0</text>
<line x1="1834.2" y1="585.48" x2="1841.2" y2="585.48" stroke="#000" stroke-width="2.6" />
<text x="1831.2" y="591.28" font-size="16.5" text-anchor="end" fill="#000" font-weight="bold" >20</text>
<line x1="1834.2" y1="544.56" x2="1841.2" y2="544.56" stroke="#000" stroke-width="2.6" />
<text x="1831.2" y="550.36" font-size="16.5" text-anchor="end" fill="#000" font-weight="bold" >40</text>
<line x1="1834.2" y1="503.64" x2="1841.2" y2="503.64" stroke="#000" stroke-width="2.6" />
<text x="1831.2" y="509.44" font-size="16.5" text-anchor="end" fill="#000" font-weight="bold" >60</text>
<line x1="1834.2" y1="462.72" x2="1841.2" y2="462.72" stroke="#000" stroke-width="2.6" />
<text x="1831.2" y="468.52" font-size="16.5" text-anchor="end" fill="#000" font-weight="bold" >80</text>
<line x1="1834.2" y1="421.8" x2="1841.2" y2="421.8" stroke="#000" stroke-width="2.6" />
<text x="1831.2" y="427.6" font-size="16.5" text-anchor="end" fill="#000" font-weight="bold" >100</text>
<line x1="1869.5" y1="626.4" x2="1869.5" y2="635.4" stroke="#000" stroke-width="2.6" />
<rect x="1858.2" y="595.36" width="22.6" height="31.04" fill="#7f7f7f" stroke="#000" stroke-width="3.4"/>
<line x1="1907.6" y1="626.4" x2="1907.6" y2="635.4" stroke="#000" stroke-width="2.6" />
<rect x="1896.3" y="472.6" width="22.6" height="153.8" fill="#7b8ff6" stroke="#1636e8" stroke-width="3.4"/>
<line x1="1945.9" y1="626.4" x2="1945.9" y2="635.4" stroke="#000" stroke-width="2.6" />
<rect x="1934.6" y="615.82" width="22.6" height="10.58" fill="#b3e1f7" stroke="#7ccaf2" stroke-width="3.4"/>
<line x1="1984.1" y1="626.4" x2="1984.1" y2="635.4" stroke="#000" stroke-width="2.6" />
<rect x="1972.8" y="463.4" width="22.6" height="163" fill="#f690c2" stroke="#ea3f8a" stroke-width="3.4"/>
<line x1="2022.5" y1="626.4" x2="2022.5" y2="635.4" stroke="#000" stroke-width="2.6" />
<rect x="2011.2" y="613.78" width="22.6" height="12.62" fill="#f7b2ea" stroke="#f095e0" stroke-width="3.4"/>
<circle cx="1861.5" cy="592.64" r="4.2" fill="#333"/>
<circle cx="1869.5" cy="591.62" r="4.2" fill="#333"/>
<circle cx="1877.5" cy="593.66" r="4.2" fill="#333"/>
<line x1="1869.5" y1="592.23" x2="1869.5" y2="595.1" stroke="#000" stroke-width="2.2" />
<line x1="1861.5" y1="592.23" x2="1877.5" y2="592.23" stroke="#000" stroke-width="2.2" />
<line x1="1861.5" y1="595.1" x2="1877.5" y2="595.1" stroke="#000" stroke-width="2.2" />
<circle cx="1899.6" cy="466.81" r="4.2" fill="#1636e8"/>
<circle cx="1907.6" cy="471.93" r="4.2" fill="#1636e8"/>
<circle cx="1915.6" cy="471.93" r="4.2" fill="#1636e8"/>
<line x1="1907.6" y1="467.83" x2="1907.6" y2="473.97" stroke="#000" stroke-width="2.2" />
<line x1="1899.6" y1="467.83" x2="1915.6" y2="467.83" stroke="#000" stroke-width="2.2" />
<line x1="1899.6" y1="473.97" x2="1915.6" y2="473.97" stroke="#000" stroke-width="2.2" />
<circle cx="1937.9" cy="603.89" r="4.2" fill="#7ccaf2"/>
<circle cx="1945.9" cy="617.19" r="4.2" fill="#7ccaf2"/>
<circle cx="1953.9" cy="616.17" r="4.2" fill="#7ccaf2"/>
<line x1="1945.9" y1="609.01" x2="1945.9" y2="619.24" stroke="#000" stroke-width="2.2" />
<line x1="1937.9" y1="609.01" x2="1953.9" y2="609.01" stroke="#000" stroke-width="2.2" />
<line x1="1937.9" y1="619.24" x2="1953.9" y2="619.24" stroke="#000" stroke-width="2.2" />
<circle cx="1976.1" cy="454.54" r="4.2" fill="#ea3f8a"/>
<circle cx="1984.1" cy="466.81" r="4.2" fill="#ea3f8a"/>
<circle cx="1992.1" cy="460.67" r="4.2" fill="#ea3f8a"/>
<line x1="1984.1" y1="457.2" x2="1984.1" y2="466.2" stroke="#000" stroke-width="2.2" />
<line x1="1976.1" y1="457.2" x2="1992.1" y2="457.2" stroke="#000" stroke-width="2.2" />
<line x1="1976.1" y1="466.2" x2="1992.1" y2="466.2" stroke="#000" stroke-width="2.2" />
<circle cx="2014.5" cy="599.8" r="4.2" fill="#ee88dd"/>
<circle cx="2022.5" cy="616.17" r="4.2" fill="#ee88dd"/>
<circle cx="2030.5" cy="618.22" r="4.2" fill="#ee88dd"/>
<line x1="2022.5" y1="605.94" x2="2022.5" y2="618.22" stroke="#000" stroke-width="2.2" />
<line x1="2014.5" y1="605.94" x2="2030.5" y2="605.94" stroke="#000" stroke-width="2.2" />
<line x1="2014.5" y1="618.22" x2="2030.5" y2="618.22" stroke="#000" stroke-width="2.2" />
<text transform="translate(1797,524.5) rotate(-90)" font-size="16" text-anchor="middle" fill="#000" font-weight="bold">LDH release (%)</text>
<text transform="translate(1873.5,646) rotate(-45)" font-size="15" text-anchor="end" font-weight="bold">DMSO</text>
<text transform="translate(1911.6,646) rotate(-45)" font-size="15" text-anchor="end" font-weight="bold">iFSP1 (2.5 μM)</text>
<text transform="translate(1949.9,646) rotate(-45)" font-size="15" text-anchor="end" font-weight="bold">+ Lip-1 (0.5 μM)</text>
<text transform="translate(1988.1,646) rotate(-45)" font-size="15" text-anchor="end" font-weight="bold">icFSP1 (2.5 μM)</text>
<text transform="translate(2026.5,646) rotate(-45)" font-size="15" text-anchor="end" font-weight="bold">+ Lip-1 (0.5 μM)</text>
<line x1="1868.8" y1="388.3" x2="1985.6" y2="388.3" stroke="#000" stroke-width="2.6" />
<text x="1926" y="377.3" font-size="16.4" text-anchor="middle" fill="#000" >P &lt; 0.0001</text>
<line x1="1868.8" y1="418.5" x2="1908.5" y2="418.5" stroke="#000" stroke-width="2.6" />
<text x="1887.5" y="407" font-size="16.4" text-anchor="middle" fill="#000" >P &lt; 0.0001</text>
<line x1="1907.4" y1="447.2" x2="1947" y2="447.2" stroke="#000" stroke-width="2.6" />
<text x="1926" y="435.7" font-size="16.4" text-anchor="middle" fill="#000" >P &lt; 0.0001</text>
<line x1="1984" y1="431.3" x2="2023.8" y2="431.3" stroke="#000" stroke-width="2.6" />
<text x="2003.3" y="420.3" font-size="16.4" text-anchor="middle" fill="#000" >P &lt; 0.0001</text>
<text x="10" y="757.7" font-size="33" text-anchor="start" fill="#000" font-weight="bold" >k</text>
<text x="99.3" y="756.3" font-size="24.6" font-weight="bold" text-anchor="start">Pfa1 <tspan font-style="italic">Gpx4</tspan><tspan dx="3.69" dy="-9.84" font-size="13.78">KO</tspan><tspan dy="9.84"> FSP1-HA</tspan></text>
<path d="M58.5,857.5 C59.98,857.5 64.42,857.5 67.38,857.5 C70.33,857.5 73.29,857.5 76.25,857.5 C79.21,857.5 82.17,857.5 85.12,857.5 C88.08,857.5 91.04,857.5 94,857.5 C96.96,857.5 99.92,857.5 102.88,857.5 C105.83,857.5 108.79,857.5 111.75,857.5 C114.71,857.5 117.67,857.5 120.62,857.5 C123.58,857.5 126.54,857.5 129.5,857.5 C132.46,857.5 135.42,857.5 138.38,857.5 C141.33,857.5 144.29,857.5 147.25,857.5 C150.21,857.5 153.17,857.5 156.12,857.5 C159.08,857.5 162.35,857.58 165,857.5 C167.65,857.42 170.17,857.33 172,857 C173.83,856.67 174.67,856.25 176,855.5 C177.33,854.75 178.58,853.83 180,852.5 C181.42,851.17 183.17,850.83 184.5,847.5 C185.83,844.17 186.6,838.33 188,832.5 C189.4,826.67 191.4,818 192.9,812.5 C194.4,807 195.6,803 197,799.5 C198.4,796 199.65,793.67 201.3,791.5 C202.95,789.33 205.45,787 206.9,786.5 C208.35,786 209.07,787.5 210,788.5 C210.93,789.5 211.5,790.17 212.5,792.5 C213.5,794.83 214.83,798.75 216,802.5 C217.17,806.25 218.33,811.17 219.5,815 C220.67,818.83 221.83,822.25 223,825.5 C224.17,828.75 225.33,831.83 226.5,834.5 C227.67,837.17 228.62,839.62 230,841.5 C231.38,843.38 233.3,844.47 234.8,845.8 C236.3,847.13 237.6,848.55 239,849.5 C240.4,850.45 241.37,850.92 243.2,851.5 C245.03,852.08 247.87,852.67 250,853 C252.13,853.33 254,853.5 256,853.5 C258,853.5 259.93,853.13 262,853 C264.07,852.87 266.4,852.53 268.4,852.7 C270.4,852.87 272.07,853.53 274,854 C275.93,854.47 277.67,855.08 280,855.5 C282.33,855.92 284.83,856.17 288,856.5 C291.17,856.83 295.07,857.33 299,857.5 C302.93,857.67 307.4,857.5 311.6,857.5 C315.8,857.5 320,857.5 324.2,857.5 C328.4,857.5 332.6,857.5 336.8,857.5 C341,857.5 345.2,857.5 349.4,857.5 C353.6,857.5 357.8,857.5 362,857.5 C366.2,857.5 370.4,857.5 374.6,857.5 C378.8,857.5 383,857.5 387.2,857.5 C391.4,857.5 395.6,857.5 399.8,857.5 C404,857.5 408.2,857.5 412.4,857.5 C416.6,857.5 420.8,857.5 425,857.5 C429.2,857.5 433.4,857.5 437.6,857.5 C441.8,857.5 448.1,857.5 450.2,857.5 L450.2,857.5 L58.5,857.5 Z" fill="#bebebe" stroke="none"/>
<path d="M58.5,857.5 C59.98,857.5 64.42,857.5 67.38,857.5 C70.33,857.5 73.29,857.5 76.25,857.5 C79.21,857.5 82.17,857.5 85.12,857.5 C88.08,857.5 91.04,857.5 94,857.5 C96.96,857.5 99.92,857.5 102.88,857.5 C105.83,857.5 108.79,857.5 111.75,857.5 C114.71,857.5 117.67,857.5 120.62,857.5 C123.58,857.5 126.54,857.5 129.5,857.5 C132.46,857.5 135.42,857.5 138.38,857.5 C141.33,857.5 144.29,857.5 147.25,857.5 C150.21,857.5 153.17,857.5 156.12,857.5 C159.08,857.5 162.35,857.58 165,857.5 C167.65,857.42 170.17,857.33 172,857 C173.83,856.67 174.67,856.25 176,855.5 C177.33,854.75 178.58,853.83 180,852.5 C181.42,851.17 183.17,850.83 184.5,847.5 C185.83,844.17 186.6,838.33 188,832.5 C189.4,826.67 191.4,818 192.9,812.5 C194.4,807 195.6,803 197,799.5 C198.4,796 199.65,793.67 201.3,791.5 C202.95,789.33 205.45,787 206.9,786.5 C208.35,786 209.07,787.5 210,788.5 C210.93,789.5 211.5,790.17 212.5,792.5 C213.5,794.83 214.83,798.75 216,802.5 C217.17,806.25 218.33,811.17 219.5,815 C220.67,818.83 221.83,822.25 223,825.5 C224.17,828.75 225.33,831.83 226.5,834.5 C227.67,837.17 228.62,839.62 230,841.5 C231.38,843.38 233.3,844.47 234.8,845.8 C236.3,847.13 237.6,848.55 239,849.5 C240.4,850.45 241.37,850.92 243.2,851.5 C245.03,852.08 247.87,852.67 250,853 C252.13,853.33 254,853.5 256,853.5 C258,853.5 259.93,853.13 262,853 C264.07,852.87 266.4,852.53 268.4,852.7 C270.4,852.87 272.07,853.53 274,854 C275.93,854.47 277.67,855.08 280,855.5 C282.33,855.92 284.83,856.17 288,856.5 C291.17,856.83 295.07,857.33 299,857.5 C302.93,857.67 307.4,857.5 311.6,857.5 C315.8,857.5 320,857.5 324.2,857.5 C328.4,857.5 332.6,857.5 336.8,857.5 C341,857.5 345.2,857.5 349.4,857.5 C353.6,857.5 357.8,857.5 362,857.5 C366.2,857.5 370.4,857.5 374.6,857.5 C378.8,857.5 383,857.5 387.2,857.5 C391.4,857.5 395.6,857.5 399.8,857.5 C404,857.5 408.2,857.5 412.4,857.5 C416.6,857.5 420.8,857.5 425,857.5 C429.2,857.5 433.4,857.5 437.6,857.5 C441.8,857.5 448.1,857.5 450.2,857.5" fill="none" stroke="#000" stroke-width="2.3" stroke-linejoin="round"/>
<path d="M58.5,935.8 C60.26,935.8 65.53,935.8 69.04,935.8 C72.56,935.8 76.07,935.8 79.58,935.8 C83.1,935.8 86.61,935.8 90.12,935.8 C93.64,935.8 97.15,935.8 100.67,935.8 C104.18,935.8 107.69,935.8 111.21,935.8 C114.72,935.8 118.24,935.8 121.75,935.8 C125.26,935.8 128.78,935.8 132.29,935.8 C135.81,935.8 139.32,935.8 142.83,935.8 C146.35,935.8 149.86,935.8 153.38,935.8 C156.89,935.8 160.4,935.8 163.92,935.8 C167.43,935.8 170.94,935.8 174.46,935.8 C177.97,935.8 181.91,935.97 185,935.8 C188.09,935.63 190.83,936.13 193,934.8 C195.17,933.47 196.33,931.3 198,927.8 C199.67,924.3 201.33,918.3 203,913.8 C204.67,909.3 206.17,904.63 208,900.8 C209.83,896.97 212.17,893.3 214,890.8 C215.83,888.3 217.33,886.97 219,885.8 C220.67,884.63 222.5,883.8 224,883.8 C225.5,883.8 226.5,884.3 228,885.8 C229.5,887.3 231.33,892.3 233,892.8 C234.67,893.3 236.17,891.3 238,888.8 C239.83,886.3 242.17,880.8 244,877.8 C245.83,874.8 247.33,872.47 249,870.8 C250.67,869.13 252.4,868.97 254,867.8 C255.6,866.63 257.43,863.97 258.6,863.8 C259.77,863.63 260.1,865.3 261,866.8 C261.9,868.3 262.83,870.8 264,872.8 C265.17,874.8 266.67,875.8 268,878.8 C269.33,881.8 270.5,885.97 272,890.8 C273.5,895.63 275.33,902.63 277,907.8 C278.67,912.97 280.17,917.97 282,921.8 C283.83,925.63 286,928.63 288,930.8 C290,932.97 292,933.97 294,934.8 C296,935.63 296.91,935.63 300,935.8 C303.09,935.97 308.34,935.8 312.52,935.8 C316.69,935.8 320.86,935.8 325.03,935.8 C329.21,935.8 333.38,935.8 337.55,935.8 C341.72,935.8 345.89,935.8 350.07,935.8 C354.24,935.8 358.41,935.8 362.58,935.8 C366.76,935.8 370.93,935.8 375.1,935.8 C379.27,935.8 383.44,935.8 387.62,935.8 C391.79,935.8 395.96,935.8 400.13,935.8 C404.31,935.8 408.48,935.8 412.65,935.8 C416.82,935.8 420.99,935.8 425.17,935.8 C429.34,935.8 433.51,935.8 437.68,935.8 C441.86,935.8 448.11,935.8 450.2,935.8 L450.2,935.8 L58.5,935.8 Z" fill="#c5c6f2" stroke="none"/>
<path d="M58.5,935.8 C60.26,935.8 65.53,935.8 69.04,935.8 C72.56,935.8 76.07,935.8 79.58,935.8 C83.1,935.8 86.61,935.8 90.12,935.8 C93.64,935.8 97.15,935.8 100.67,935.8 C104.18,935.8 107.69,935.8 111.21,935.8 C114.72,935.8 118.24,935.8 121.75,935.8 C125.26,935.8 128.78,935.8 132.29,935.8 C135.81,935.8 139.32,935.8 142.83,935.8 C146.35,935.8 149.86,935.8 153.38,935.8 C156.89,935.8 160.4,935.8 163.92,935.8 C167.43,935.8 170.94,935.8 174.46,935.8 C177.97,935.8 181.91,935.97 185,935.8 C188.09,935.63 190.83,936.13 193,934.8 C195.17,933.47 196.33,931.3 198,927.8 C199.67,924.3 201.33,918.3 203,913.8 C204.67,909.3 206.17,904.63 208,900.8 C209.83,896.97 212.17,893.3 214,890.8 C215.83,888.3 217.33,886.97 219,885.8 C220.67,884.63 222.5,883.8 224,883.8 C225.5,883.8 226.5,884.3 228,885.8 C229.5,887.3 231.33,892.3 233,892.8 C234.67,893.3 236.17,891.3 238,888.8 C239.83,886.3 242.17,880.8 244,877.8 C245.83,874.8 247.33,872.47 249,870.8 C250.67,869.13 252.4,868.97 254,867.8 C255.6,866.63 257.43,863.97 258.6,863.8 C259.77,863.63 260.1,865.3 261,866.8 C261.9,868.3 262.83,870.8 264,872.8 C265.17,874.8 266.67,875.8 268,878.8 C269.33,881.8 270.5,885.97 272,890.8 C273.5,895.63 275.33,902.63 277,907.8 C278.67,912.97 280.17,917.97 282,921.8 C283.83,925.63 286,928.63 288,930.8 C290,932.97 292,933.97 294,934.8 C296,935.63 296.91,935.63 300,935.8 C303.09,935.97 308.34,935.8 312.52,935.8 C316.69,935.8 320.86,935.8 325.03,935.8 C329.21,935.8 333.38,935.8 337.55,935.8 C341.72,935.8 345.89,935.8 350.07,935.8 C354.24,935.8 358.41,935.8 362.58,935.8 C366.76,935.8 370.93,935.8 375.1,935.8 C379.27,935.8 383.44,935.8 387.62,935.8 C391.79,935.8 395.96,935.8 400.13,935.8 C404.31,935.8 408.48,935.8 412.65,935.8 C416.82,935.8 420.99,935.8 425.17,935.8 C429.34,935.8 433.51,935.8 437.68,935.8 C441.86,935.8 448.11,935.8 450.2,935.8" fill="none" stroke="#1a2bb0" stroke-width="2.3" stroke-linejoin="round"/>
<path d="M58.5,1014.1 C59.91,1014.1 64.14,1014.1 66.96,1014.1 C69.78,1014.1 72.6,1014.1 75.42,1014.1 C78.24,1014.1 81.06,1014.1 83.88,1014.1 C86.69,1014.1 89.51,1014.1 92.33,1014.1 C95.15,1014.1 97.97,1014.1 100.79,1014.1 C103.61,1014.1 106.43,1014.1 109.25,1014.1 C112.07,1014.1 114.89,1014.1 117.71,1014.1 C120.53,1014.1 123.35,1014.1 126.17,1014.1 C128.99,1014.1 131.81,1014.1 134.62,1014.1 C137.44,1014.1 140.26,1014.1 143.08,1014.1 C145.9,1014.1 148.72,1014.1 151.54,1014.1 C154.36,1014.1 157.26,1014.27 160,1014.1 C162.74,1013.93 165.5,1013.93 168,1013.1 C170.5,1012.27 172.72,1012.27 175,1009.1 C177.28,1005.93 179.87,999.6 181.7,994.1 C183.53,988.6 184.62,981.27 186,976.1 C187.38,970.93 188.5,967.77 190,963.1 C191.5,958.43 193.33,951.43 195,948.1 C196.67,944.77 198.5,943.43 200,943.1 C201.5,942.77 202.67,943.43 204,946.1 C205.33,948.77 206.58,953.93 208,959.1 C209.42,964.27 210.83,971.93 212.5,977.1 C214.17,982.27 216.15,986.27 218,990.1 C219.85,993.93 221.77,997.27 223.6,1000.1 C225.43,1002.93 227.1,1005.27 229,1007.1 C230.9,1008.93 233,1010.1 235,1011.1 C237,1012.1 238.5,1012.6 241,1013.1 C243.5,1013.6 245.72,1013.93 250,1014.1 C254.28,1014.27 261.12,1014.1 266.68,1014.1 C272.24,1014.1 277.81,1014.1 283.37,1014.1 C288.93,1014.1 294.49,1014.1 300.05,1014.1 C305.61,1014.1 311.17,1014.1 316.73,1014.1 C322.29,1014.1 327.86,1014.1 333.42,1014.1 C338.98,1014.1 344.54,1014.1 350.1,1014.1 C355.66,1014.1 361.22,1014.1 366.78,1014.1 C372.34,1014.1 377.91,1014.1 383.47,1014.1 C389.03,1014.1 394.59,1014.1 400.15,1014.1 C405.71,1014.1 411.27,1014.1 416.83,1014.1 C422.39,1014.1 427.96,1014.1 433.52,1014.1 C439.08,1014.1 447.42,1014.1 450.2,1014.1 L450.2,1014.1 L58.5,1014.1 Z" fill="#c9f6f6" stroke="none"/>
<path d="M58.5,1014.1 C59.91,1014.1 64.14,1014.1 66.96,1014.1 C69.78,1014.1 72.6,1014.1 75.42,1014.1 C78.24,1014.1 81.06,1014.1 83.88,1014.1 C86.69,1014.1 89.51,1014.1 92.33,1014.1 C95.15,1014.1 97.97,1014.1 100.79,1014.1 C103.61,1014.1 106.43,1014.1 109.25,1014.1 C112.07,1014.1 114.89,1014.1 117.71,1014.1 C120.53,1014.1 123.35,1014.1 126.17,1014.1 C128.99,1014.1 131.81,1014.1 134.62,1014.1 C137.44,1014.1 140.26,1014.1 143.08,1014.1 C145.9,1014.1 148.72,1014.1 151.54,1014.1 C154.36,1014.1 157.26,1014.27 160,1014.1 C162.74,1013.93 165.5,1013.93 168,1013.1 C170.5,1012.27 172.72,1012.27 175,1009.1 C177.28,1005.93 179.87,999.6 181.7,994.1 C183.53,988.6 184.62,981.27 186,976.1 C187.38,970.93 188.5,967.77 190,963.1 C191.5,958.43 193.33,951.43 195,948.1 C196.67,944.77 198.5,943.43 200,943.1 C201.5,942.77 202.67,943.43 204,946.1 C205.33,948.77 206.58,953.93 208,959.1 C209.42,964.27 210.83,971.93 212.5,977.1 C214.17,982.27 216.15,986.27 218,990.1 C219.85,993.93 221.77,997.27 223.6,1000.1 C225.43,1002.93 227.1,1005.27 229,1007.1 C230.9,1008.93 233,1010.1 235,1011.1 C237,1012.1 238.5,1012.6 241,1013.1 C243.5,1013.6 245.72,1013.93 250,1014.1 C254.28,1014.27 261.12,1014.1 266.68,1014.1 C272.24,1014.1 277.81,1014.1 283.37,1014.1 C288.93,1014.1 294.49,1014.1 300.05,1014.1 C305.61,1014.1 311.17,1014.1 316.73,1014.1 C322.29,1014.1 327.86,1014.1 333.42,1014.1 C338.98,1014.1 344.54,1014.1 350.1,1014.1 C355.66,1014.1 361.22,1014.1 366.78,1014.1 C372.34,1014.1 377.91,1014.1 383.47,1014.1 C389.03,1014.1 394.59,1014.1 400.15,1014.1 C405.71,1014.1 411.27,1014.1 416.83,1014.1 C422.39,1014.1 427.96,1014.1 433.52,1014.1 C439.08,1014.1 447.42,1014.1 450.2,1014.1" fill="none" stroke="#38d9d9" stroke-width="2.3" stroke-linejoin="round"/>
<path d="M58.5,1092.4 C60.22,1092.4 65.36,1092.4 68.79,1092.4 C72.22,1092.4 75.65,1092.4 79.08,1092.4 C82.51,1092.4 85.94,1092.4 89.38,1092.4 C92.81,1092.4 96.24,1092.4 99.67,1092.4 C103.1,1092.4 106.53,1092.4 109.96,1092.4 C113.39,1092.4 116.82,1092.4 120.25,1092.4 C123.68,1092.4 127.11,1092.4 130.54,1092.4 C133.97,1092.4 137.4,1092.4 140.83,1092.4 C144.26,1092.4 147.69,1092.4 151.12,1092.4 C154.56,1092.4 157.99,1092.4 161.42,1092.4 C164.85,1092.4 168.28,1092.4 171.71,1092.4 C175.14,1092.4 178.95,1092.57 182,1092.4 C185.05,1092.23 187.67,1092.4 190,1091.4 C192.33,1090.4 194,1088.9 196,1086.4 C198,1083.9 199.95,1080.07 202,1076.4 C204.05,1072.73 206.47,1067.23 208.3,1064.4 C210.13,1061.57 211.38,1060.73 213,1059.4 C214.62,1058.07 216.45,1057.23 218,1056.4 C219.55,1055.57 220.8,1054.4 222.3,1054.4 C223.8,1054.4 225.38,1055.57 227,1056.4 C228.62,1057.23 230.47,1058.9 232,1059.4 C233.53,1059.9 234.7,1060.57 236.2,1059.4 C237.7,1058.23 239.37,1055.4 241,1052.4 C242.63,1049.4 244.33,1044.73 246,1041.4 C247.67,1038.07 249.33,1035.07 251,1032.4 C252.67,1029.73 254.4,1027.15 256,1025.4 C257.6,1023.65 259.27,1022.23 260.6,1021.9 C261.93,1021.57 262.7,1022.48 264,1023.4 C265.3,1024.32 267.07,1024.57 268.4,1027.4 C269.73,1030.23 270.6,1034.4 272,1040.4 C273.4,1046.4 275.13,1056.9 276.8,1063.4 C278.47,1069.9 280.13,1075.23 282,1079.4 C283.87,1083.57 286,1086.4 288,1088.4 C290,1090.4 292,1090.73 294,1091.4 C296,1092.07 296.91,1092.23 300,1092.4 C303.09,1092.57 308.34,1092.4 312.52,1092.4 C316.69,1092.4 320.86,1092.4 325.03,1092.4 C329.21,1092.4 333.38,1092.4 337.55,1092.4 C341.72,1092.4 345.89,1092.4 350.07,1092.4 C354.24,1092.4 358.41,1092.4 362.58,1092.4 C366.76,1092.4 370.93,1092.4 375.1,1092.4 C379.27,1092.4 383.44,1092.4 387.62,1092.4 C391.79,1092.4 395.96,1092.4 400.13,1092.4 C404.31,1092.4 408.48,1092.4 412.65,1092.4 C416.82,1092.4 420.99,1092.4 425.17,1092.4 C429.34,1092.4 433.51,1092.4 437.68,1092.4 C441.86,1092.4 448.11,1092.4 450.2,1092.4 L450.2,1092.4 L58.5,1092.4 Z" fill="#f7c1d6" stroke="none"/>
<path d="M58.5,1092.4 C60.22,1092.4 65.36,1092.4 68.79,1092.4 C72.22,1092.4 75.65,1092.4 79.08,1092.4 C82.51,1092.4 85.94,1092.4 89.38,1092.4 C92.81,1092.4 96.24,1092.4 99.67,1092.4 C103.1,1092.4 106.53,1092.4 109.96,1092.4 C113.39,1092.4 116.82,1092.4 120.25,1092.4 C123.68,1092.4 127.11,1092.4 130.54,1092.4 C133.97,1092.4 137.4,1092.4 140.83,1092.4 C144.26,1092.4 147.69,1092.4 151.12,1092.4 C154.56,1092.4 157.99,1092.4 161.42,1092.4 C164.85,1092.4 168.28,1092.4 171.71,1092.4 C175.14,1092.4 178.95,1092.57 182,1092.4 C185.05,1092.23 187.67,1092.4 190,1091.4 C192.33,1090.4 194,1088.9 196,1086.4 C198,1083.9 199.95,1080.07 202,1076.4 C204.05,1072.73 206.47,1067.23 208.3,1064.4 C210.13,1061.57 211.38,1060.73 213,1059.4 C214.62,1058.07 216.45,1057.23 218,1056.4 C219.55,1055.57 220.8,1054.4 222.3,1054.4 C223.8,1054.4 225.38,1055.57 227,1056.4 C228.62,1057.23 230.47,1058.9 232,1059.4 C233.53,1059.9 234.7,1060.57 236.2,1059.4 C237.7,1058.23 239.37,1055.4 241,1052.4 C242.63,1049.4 244.33,1044.73 246,1041.4 C247.67,1038.07 249.33,1035.07 251,1032.4 C252.67,1029.73 254.4,1027.15 256,1025.4 C257.6,1023.65 259.27,1022.23 260.6,1021.9 C261.93,1021.57 262.7,1022.48 264,1023.4 C265.3,1024.32 267.07,1024.57 268.4,1027.4 C269.73,1030.23 270.6,1034.4 272,1040.4 C273.4,1046.4 275.13,1056.9 276.8,1063.4 C278.47,1069.9 280.13,1075.23 282,1079.4 C283.87,1083.57 286,1086.4 288,1088.4 C290,1090.4 292,1090.73 294,1091.4 C296,1092.07 296.91,1092.23 300,1092.4 C303.09,1092.57 308.34,1092.4 312.52,1092.4 C316.69,1092.4 320.86,1092.4 325.03,1092.4 C329.21,1092.4 333.38,1092.4 337.55,1092.4 C341.72,1092.4 345.89,1092.4 350.07,1092.4 C354.24,1092.4 358.41,1092.4 362.58,1092.4 C366.76,1092.4 370.93,1092.4 375.1,1092.4 C379.27,1092.4 383.44,1092.4 387.62,1092.4 C391.79,1092.4 395.96,1092.4 400.13,1092.4 C404.31,1092.4 408.48,1092.4 412.65,1092.4 C416.82,1092.4 420.99,1092.4 425.17,1092.4 C429.34,1092.4 433.51,1092.4 437.68,1092.4 C441.86,1092.4 448.11,1092.4 450.2,1092.4" fill="none" stroke="#d21f6c" stroke-width="2.3" stroke-linejoin="round"/>
<path d="M58.5,1170.7 C60.02,1170.7 64.58,1170.7 67.62,1170.7 C70.67,1170.7 73.71,1170.7 76.75,1170.7 C79.79,1170.7 82.83,1170.7 85.88,1170.7 C88.92,1170.7 91.96,1170.7 95,1170.7 C98.04,1170.7 101.08,1170.7 104.12,1170.7 C107.17,1170.7 110.21,1170.7 113.25,1170.7 C116.29,1170.7 119.33,1170.7 122.38,1170.7 C125.42,1170.7 128.46,1170.7 131.5,1170.7 C134.54,1170.7 137.58,1170.7 140.62,1170.7 C143.67,1170.7 146.71,1170.7 149.75,1170.7 C152.79,1170.7 155.83,1170.7 158.88,1170.7 C161.92,1170.7 165.15,1170.87 168,1170.7 C170.85,1170.53 174,1171.03 176,1169.7 C178,1168.37 178.58,1167.7 180,1162.7 C181.42,1157.7 183.17,1146.37 184.5,1139.7 C185.83,1133.03 186.83,1127.87 188,1122.7 C189.17,1117.53 190.33,1112.37 191.5,1108.7 C192.67,1105.03 193.83,1102.37 195,1100.7 C196.17,1099.03 197.33,1098.53 198.5,1098.7 C199.67,1098.87 200.6,1098.7 202,1101.7 C203.4,1104.7 205.4,1111.87 206.9,1116.7 C208.4,1121.53 209.6,1126.45 211,1130.7 C212.4,1134.95 213.97,1138.37 215.3,1142.2 C216.63,1146.03 217.62,1150.45 219,1153.7 C220.38,1156.95 222.1,1159.37 223.6,1161.7 C225.1,1164.03 226.27,1166.28 228,1167.7 C229.73,1169.12 232,1169.7 234,1170.2 C236,1170.7 236.08,1170.62 240,1170.7 C243.92,1170.78 251.68,1170.7 257.52,1170.7 C263.36,1170.7 269.19,1170.7 275.03,1170.7 C280.87,1170.7 286.71,1170.7 292.55,1170.7 C298.39,1170.7 304.23,1170.7 310.07,1170.7 C315.91,1170.7 321.74,1170.7 327.58,1170.7 C333.42,1170.7 339.26,1170.7 345.1,1170.7 C350.94,1170.7 356.78,1170.7 362.62,1170.7 C368.46,1170.7 374.29,1170.7 380.13,1170.7 C385.97,1170.7 391.81,1170.7 397.65,1170.7 C403.49,1170.7 409.33,1170.7 415.17,1170.7 C421.01,1170.7 426.84,1170.7 432.68,1170.7 C438.52,1170.7 447.28,1170.7 450.2,1170.7 L450.2,1170.7 L58.5,1170.7 Z" fill="#f9caf5" stroke="none"/>
<path d="M58.5,1170.7 C60.02,1170.7 64.58,1170.7 67.62,1170.7 C70.67,1170.7 73.71,1170.7 76.75,1170.7 C79.79,1170.7 82.83,1170.7 85.88,1170.7 C88.92,1170.7 91.96,1170.7 95,1170.7 C98.04,1170.7 101.08,1170.7 104.12,1170.7 C107.17,1170.7 110.21,1170.7 113.25,1170.7 C116.29,1170.7 119.33,1170.7 122.38,1170.7 C125.42,1170.7 128.46,1170.7 131.5,1170.7 C134.54,1170.7 137.58,1170.7 140.62,1170.7 C143.67,1170.7 146.71,1170.7 149.75,1170.7 C152.79,1170.7 155.83,1170.7 158.88,1170.7 C161.92,1170.7 165.15,1170.87 168,1170.7 C170.85,1170.53 174,1171.03 176,1169.7 C178,1168.37 178.58,1167.7 180,1162.7 C181.42,1157.7 183.17,1146.37 184.5,1139.7 C185.83,1133.03 186.83,1127.87 188,1122.7 C189.17,1117.53 190.33,1112.37 191.5,1108.7 C192.67,1105.03 193.83,1102.37 195,1100.7 C196.17,1099.03 197.33,1098.53 198.5,1098.7 C199.67,1098.87 200.6,1098.7 202,1101.7 C203.4,1104.7 205.4,1111.87 206.9,1116.7 C208.4,1121.53 209.6,1126.45 211,1130.7 C212.4,1134.95 213.97,1138.37 215.3,1142.2 C216.63,1146.03 217.62,1150.45 219,1153.7 C220.38,1156.95 222.1,1159.37 223.6,1161.7 C225.1,1164.03 226.27,1166.28 228,1167.7 C229.73,1169.12 232,1169.7 234,1170.2 C236,1170.7 236.08,1170.62 240,1170.7 C243.92,1170.78 251.68,1170.7 257.52,1170.7 C263.36,1170.7 269.19,1170.7 275.03,1170.7 C280.87,1170.7 286.71,1170.7 292.55,1170.7 C298.39,1170.7 304.23,1170.7 310.07,1170.7 C315.91,1170.7 321.74,1170.7 327.58,1170.7 C333.42,1170.7 339.26,1170.7 345.1,1170.7 C350.94,1170.7 356.78,1170.7 362.62,1170.7 C368.46,1170.7 374.29,1170.7 380.13,1170.7 C385.97,1170.7 391.81,1170.7 397.65,1170.7 C403.49,1170.7 409.33,1170.7 415.17,1170.7 C421.01,1170.7 426.84,1170.7 432.68,1170.7 C438.52,1170.7 447.28,1170.7 450.2,1170.7" fill="none" stroke="#e25fe0" stroke-width="2.3" stroke-linejoin="round"/>
<rect x="57.9" y="778.2" width="392.8" height="392.5" fill="none" stroke="#000" stroke-width="2.2"/>
<text x="383" y="823.4" font-size="16.4" text-anchor="middle" fill="#111" >DMSO</text>
<text x="383" y="902.3" font-size="16.4" text-anchor="middle" fill="#26309e" >iFSP1 (2.5 μM)</text>
<text x="383" y="981.4" font-size="16.4" text-anchor="middle" fill="#3fd6d8" >+ Lip-1 (0.5 μM)</text>
<text x="383" y="1060.5" font-size="16.4" text-anchor="middle" fill="#cc2a6e" >icFSP1 (2.5 μM)</text>
<text x="383" y="1139.4" font-size="16.4" text-anchor="middle" fill="#e06ad9" >+ Lip-1 (0.5 μM)</text>
<line x1="75.1" y1="1170.7" x2="75.1" y2="1180.7" stroke="#000" stroke-width="2.2" />
<line x1="167.2" y1="1170.7" x2="167.2" y2="1180.7" stroke="#000" stroke-width="2.2" />
<line x1="243.2" y1="1170.7" x2="243.2" y2="1180.7" stroke="#000" stroke-width="2.2" />
<line x1="309" y1="1170.7" x2="309" y2="1180.7" stroke="#000" stroke-width="2.2" />
<line x1="371.8" y1="1170.7" x2="371.8" y2="1180.7" stroke="#000" stroke-width="2.2" />
<line x1="434.7" y1="1170.7" x2="434.7" y2="1180.7" stroke="#000" stroke-width="2.2" />
<line x1="263.01" y1="1170.7" x2="263.01" y2="1175.7" stroke="#000" stroke-width="1.8" />
<line x1="274.59" y1="1170.7" x2="274.59" y2="1175.7" stroke="#000" stroke-width="1.8" />
<line x1="282.82" y1="1170.7" x2="282.82" y2="1175.7" stroke="#000" stroke-width="1.8" />
<line x1="289.19" y1="1170.7" x2="289.19" y2="1175.7" stroke="#000" stroke-width="1.8" />
<line x1="294.4" y1="1170.7" x2="294.4" y2="1175.7" stroke="#000" stroke-width="1.8" />
<line x1="298.81" y1="1170.7" x2="298.81" y2="1175.7" stroke="#000" stroke-width="1.8" />
<line x1="302.62" y1="1170.7" x2="302.62" y2="1175.7" stroke="#000" stroke-width="1.8" />
<line x1="305.99" y1="1170.7" x2="305.99" y2="1175.7" stroke="#000" stroke-width="1.8" />
<line x1="327.9" y1="1170.7" x2="327.9" y2="1175.7" stroke="#000" stroke-width="1.8" />
<line x1="338.96" y1="1170.7" x2="338.96" y2="1175.7" stroke="#000" stroke-width="1.8" />
<line x1="346.81" y1="1170.7" x2="346.81" y2="1175.7" stroke="#000" stroke-width="1.8" />
<line x1="352.9" y1="1170.7" x2="352.9" y2="1175.7" stroke="#000" stroke-width="1.8" />
<line x1="357.87" y1="1170.7" x2="357.87" y2="1175.7" stroke="#000" stroke-width="1.8" />
<line x1="362.07" y1="1170.7" x2="362.07" y2="1175.7" stroke="#000" stroke-width="1.8" />
<line x1="365.71" y1="1170.7" x2="365.71" y2="1175.7" stroke="#000" stroke-width="1.8" />
<line x1="368.93" y1="1170.7" x2="368.93" y2="1175.7" stroke="#000" stroke-width="1.8" />
<line x1="390.73" y1="1170.7" x2="390.73" y2="1175.7" stroke="#000" stroke-width="1.8" />
<line x1="401.81" y1="1170.7" x2="401.81" y2="1175.7" stroke="#000" stroke-width="1.8" />
<line x1="409.67" y1="1170.7" x2="409.67" y2="1175.7" stroke="#000" stroke-width="1.8" />
<line x1="415.77" y1="1170.7" x2="415.77" y2="1175.7" stroke="#000" stroke-width="1.8" />
<line x1="420.75" y1="1170.7" x2="420.75" y2="1175.7" stroke="#000" stroke-width="1.8" />
<line x1="424.96" y1="1170.7" x2="424.96" y2="1175.7" stroke="#000" stroke-width="1.8" />
<line x1="428.6" y1="1170.7" x2="428.6" y2="1175.7" stroke="#000" stroke-width="1.8" />
<line x1="431.82" y1="1170.7" x2="431.82" y2="1175.7" stroke="#000" stroke-width="1.8" />
<line x1="190.08" y1="1170.7" x2="190.08" y2="1175.7" stroke="#000" stroke-width="1.8" />
<line x1="203.46" y1="1170.7" x2="203.46" y2="1175.7" stroke="#000" stroke-width="1.8" />
<line x1="212.96" y1="1170.7" x2="212.96" y2="1175.7" stroke="#000" stroke-width="1.8" />
<line x1="220.32" y1="1170.7" x2="220.32" y2="1175.7" stroke="#000" stroke-width="1.8" />
<line x1="226.34" y1="1170.7" x2="226.34" y2="1175.7" stroke="#000" stroke-width="1.8" />
<line x1="231.43" y1="1170.7" x2="231.43" y2="1175.7" stroke="#000" stroke-width="1.8" />
<line x1="235.83" y1="1170.7" x2="235.83" y2="1175.7" stroke="#000" stroke-width="1.8" />
<line x1="239.72" y1="1170.7" x2="239.72" y2="1175.7" stroke="#000" stroke-width="1.8" />
<line x1="88.62" y1="1170.7" x2="88.62" y2="1175.7" stroke="#000" stroke-width="1.8" />
<line x1="96.52" y1="1170.7" x2="96.52" y2="1175.7" stroke="#000" stroke-width="1.8" />
<line x1="102.13" y1="1170.7" x2="102.13" y2="1175.7" stroke="#000" stroke-width="1.8" />
<line x1="106.48" y1="1170.7" x2="106.48" y2="1175.7" stroke="#000" stroke-width="1.8" />
<line x1="110.04" y1="1170.7" x2="110.04" y2="1175.7" stroke="#000" stroke-width="1.8" />
<line x1="113.04" y1="1170.7" x2="113.04" y2="1175.7" stroke="#000" stroke-width="1.8" />
<line x1="115.65" y1="1170.7" x2="115.65" y2="1175.7" stroke="#000" stroke-width="1.8" />
<line x1="117.95" y1="1170.7" x2="117.95" y2="1175.7" stroke="#000" stroke-width="1.8" />
<line x1="82" y1="1170.7" x2="82" y2="1175.7" stroke="#000" stroke-width="1.8" />
<line x1="88" y1="1170.7" x2="88" y2="1175.7" stroke="#000" stroke-width="1.8" />
<line x1="93" y1="1170.7" x2="93" y2="1175.7" stroke="#000" stroke-width="1.8" />
<line x1="97" y1="1170.7" x2="97" y2="1175.7" stroke="#000" stroke-width="1.8" />
<line x1="101" y1="1170.7" x2="101" y2="1175.7" stroke="#000" stroke-width="1.8" />
<line x1="104" y1="1170.7" x2="104" y2="1175.7" stroke="#000" stroke-width="1.8" />
<line x1="107" y1="1170.7" x2="107" y2="1175.7" stroke="#000" stroke-width="1.8" />
<line x1="110" y1="1170.7" x2="110" y2="1175.7" stroke="#000" stroke-width="1.8" />
<line x1="113" y1="1170.7" x2="113" y2="1175.7" stroke="#000" stroke-width="1.8" />
<line x1="116" y1="1170.7" x2="116" y2="1175.7" stroke="#000" stroke-width="1.8" />
<line x1="118" y1="1170.7" x2="118" y2="1175.7" stroke="#000" stroke-width="1.8" />
<line x1="120" y1="1170.7" x2="120" y2="1175.7" stroke="#000" stroke-width="1.8" />
<line x1="122" y1="1170.7" x2="122" y2="1175.7" stroke="#000" stroke-width="1.8" />
<line x1="124" y1="1170.7" x2="124" y2="1175.7" stroke="#000" stroke-width="1.8" />
<line x1="126" y1="1170.7" x2="126" y2="1175.7" stroke="#000" stroke-width="1.8" />
<line x1="129" y1="1170.7" x2="129" y2="1175.7" stroke="#000" stroke-width="1.8" />
<line x1="132" y1="1170.7" x2="132" y2="1175.7" stroke="#000" stroke-width="1.8" />
<line x1="136" y1="1170.7" x2="136" y2="1175.7" stroke="#000" stroke-width="1.8" />
<line x1="140" y1="1170.7" x2="140" y2="1175.7" stroke="#000" stroke-width="1.8" />
<line x1="145" y1="1170.7" x2="145" y2="1175.7" stroke="#000" stroke-width="1.8" />
<line x1="151" y1="1170.7" x2="151" y2="1175.7" stroke="#000" stroke-width="1.8" />
<line x1="158" y1="1170.7" x2="158" y2="1175.7" stroke="#000" stroke-width="1.8" />
<line x1="114" y1="1170.7" x2="114" y2="1179.7" stroke="#000" stroke-width="2" />
<line x1="116.5" y1="1170.7" x2="116.5" y2="1179.7" stroke="#000" stroke-width="2" />
<line x1="119" y1="1170.7" x2="119" y2="1179.7" stroke="#000" stroke-width="2" />
<line x1="121.5" y1="1170.7" x2="121.5" y2="1179.7" stroke="#000" stroke-width="2" />
<line x1="124" y1="1170.7" x2="124" y2="1179.7" stroke="#000" stroke-width="2" />
<text x="124.4" y="1200" font-size="15" text-anchor="middle" fill="#000" >0</text>
<text x="244.2" y="1200" font-size="15" text-anchor="middle">10<tspan dy="-7" font-size="12">4</tspan></text>
<text x="310" y="1200" font-size="15" text-anchor="middle">10<tspan dy="-7" font-size="12">5</tspan></text>
<text x="372.8" y="1200" font-size="15" text-anchor="middle">10<tspan dy="-7" font-size="12">6</tspan></text>
<text x="435.7" y="1200" font-size="15" text-anchor="middle">10<tspan dy="-7" font-size="12">7</tspan></text>
<text x="254.4" y="1226.5" font-size="19.2" text-anchor="middle" fill="#000" >C11-BODIPY (FITC-A)</text>
<line x1="581" y1="854.2" x2="581" y2="1104.5" stroke="#000" stroke-width="2.8" />
<line x1="570.7" y1="1103.3" x2="830.1" y2="1103.3" stroke="#000" stroke-width="2.8" />
<line x1="573" y1="1103.3" x2="581" y2="1103.3" stroke="#000" stroke-width="2.6" />
<text x="565.5" y="1109.8" font-size="18.7" text-anchor="end" fill="#000" font-weight="bold" >0.00</text>
<line x1="573" y1="1041.03" x2="581" y2="1041.03" stroke="#000" stroke-width="2.6" />
<text x="565.5" y="1047.53" font-size="18.7" text-anchor="end" fill="#000" font-weight="bold" >0.05</text>
<line x1="573" y1="978.75" x2="581" y2="978.75" stroke="#000" stroke-width="2.6" />
<text x="565.5" y="985.25" font-size="18.7" text-anchor="end" fill="#000" font-weight="bold" >0.10</text>
<line x1="573" y1="916.48" x2="581" y2="916.48" stroke="#000" stroke-width="2.6" />
<text x="565.5" y="922.98" font-size="18.7" text-anchor="end" fill="#000" font-weight="bold" >0.15</text>
<line x1="573" y1="854.2" x2="581" y2="854.2" stroke="#000" stroke-width="2.6" />
<text x="565.5" y="860.7" font-size="18.7" text-anchor="end" fill="#000" font-weight="bold" >0.20</text>
<line x1="612" y1="1103.3" x2="612" y2="1112.3" stroke="#000" stroke-width="2.6" />
<rect x="598.2" y="1066.39" width="27.6" height="36.91" fill="#7f7f7f" stroke="#000" stroke-width="3.4"/>
<line x1="658.6" y1="1103.3" x2="658.6" y2="1112.3" stroke="#000" stroke-width="2.6" />
<rect x="644.8" y="979.2" width="27.6" height="124.1" fill="#7b8ff6" stroke="#1636e8" stroke-width="3.4"/>
<line x1="705.2" y1="1103.3" x2="705.2" y2="1112.3" stroke="#000" stroke-width="2.6" />
<rect x="691.4" y="1073.86" width="27.6" height="29.44" fill="#b3e1f7" stroke="#7ccaf2" stroke-width="3.4"/>
<line x1="751.8" y1="1103.3" x2="751.8" y2="1112.3" stroke="#000" stroke-width="2.6" />
<rect x="738" y="939.35" width="27.6" height="163.95" fill="#f690c2" stroke="#ea3f8a" stroke-width="3.4"/>
<line x1="798.4" y1="1103.3" x2="798.4" y2="1112.3" stroke="#000" stroke-width="2.6" />
<rect x="784.6" y="1081.34" width="27.6" height="21.96" fill="#f7b2ea" stroke="#f095e0" stroke-width="3.4"/>
<circle cx="604" cy="1068.43" r="4.6" fill="#333"/>
<circle cx="612" cy="1055.97" r="4.6" fill="#333"/>
<circle cx="620" cy="1067.18" r="4.6" fill="#333"/>
<line x1="612" y1="1059.71" x2="612" y2="1069.67" stroke="#000" stroke-width="2.2" />
<line x1="604" y1="1059.71" x2="620" y2="1059.71" stroke="#000" stroke-width="2.2" />
<line x1="604" y1="1069.67" x2="620" y2="1069.67" stroke="#000" stroke-width="2.2" />
<circle cx="658.6" cy="945.12" r="4.6" fill="#1636e8"/>
<circle cx="658.6" cy="978.75" r="4.6" fill="#1636e8"/>
<circle cx="658.6" cy="1009.89" r="4.6" fill="#1636e8"/>
<line x1="658.6" y1="958.82" x2="658.6" y2="996.19" stroke="#000" stroke-width="2.2" />
<line x1="650.6" y1="958.82" x2="666.6" y2="958.82" stroke="#000" stroke-width="2.2" />
<line x1="650.6" y1="996.19" x2="666.6" y2="996.19" stroke="#000" stroke-width="2.2" />
<circle cx="697.2" cy="1065.93" r="4.6" fill="#7ccaf2"/>
<circle cx="705.2" cy="1075.9" r="4.6" fill="#7ccaf2"/>
<circle cx="713.2" cy="1070.92" r="4.6" fill="#7ccaf2"/>
<line x1="705.2" y1="1067.8" x2="705.2" y2="1076.52" stroke="#000" stroke-width="2.2" />
<line x1="697.2" y1="1067.8" x2="713.2" y2="1067.8" stroke="#000" stroke-width="2.2" />
<line x1="697.2" y1="1076.52" x2="713.2" y2="1076.52" stroke="#000" stroke-width="2.2" />
<circle cx="751.8" cy="895.3" r="4.6" fill="#ea3f8a"/>
<circle cx="751.8" cy="947.61" r="4.6" fill="#ea3f8a"/>
<circle cx="751.8" cy="970.03" r="4.6" fill="#ea3f8a"/>
<line x1="751.8" y1="915.23" x2="751.8" y2="960.07" stroke="#000" stroke-width="2.2" />
<line x1="743.8" y1="915.23" x2="759.8" y2="915.23" stroke="#000" stroke-width="2.2" />
<line x1="743.8" y1="960.07" x2="759.8" y2="960.07" stroke="#000" stroke-width="2.2" />
<circle cx="790.4" cy="1078.39" r="4.6" fill="#ee88dd"/>
<circle cx="798.4" cy="1073.41" r="4.6" fill="#ee88dd"/>
<circle cx="806.4" cy="1080.88" r="4.6" fill="#ee88dd"/>
<line x1="798.4" y1="1076.52" x2="798.4" y2="1082.75" stroke="#000" stroke-width="2.2" />
<line x1="790.4" y1="1076.52" x2="806.4" y2="1076.52" stroke="#000" stroke-width="2.2" />
<line x1="790.4" y1="1082.75" x2="806.4" y2="1082.75" stroke="#000" stroke-width="2.2" />
<text transform="translate(516,979.4) rotate(-90)" font-size="20" text-anchor="middle" font-weight="bold">BODIPY<tspan dy="5" font-size="14">ox</tspan><tspan dy="-5"> / BODIPY</tspan><tspan dy="5" font-size="14">re</tspan></text>
<text transform="translate(616,1122) rotate(-45)" font-size="18.5" text-anchor="end" font-weight="bold">DMSO</text>
<text transform="translate(662.6,1122) rotate(-45)" font-size="18.5" text-anchor="end" font-weight="bold">iFSP1 (2.5 μM)</text>
<text transform="translate(709.2,1122) rotate(-45)" font-size="18.5" text-anchor="end" font-weight="bold">+ Lip-1 (0.5 μM)</text>
<text transform="translate(755.8,1122) rotate(-45)" font-size="18.5" text-anchor="end" font-weight="bold">icFSP1 (2.5 μM)</text>
<text transform="translate(802.4,1122) rotate(-45)" font-size="18.5" text-anchor="end" font-weight="bold">+ Lip-1 (0.5 μM)</text>
<line x1="610.7" y1="812.4" x2="753.2" y2="812.4" stroke="#000" stroke-width="2.6" />
<text x="682.2" y="798.7" font-size="20.3" text-anchor="middle" fill="#000" >P = 0.0004</text>
<line x1="611.5" y1="866.4" x2="654.6" y2="866.4" stroke="#000" stroke-width="2.6" />
<text x="632.6" y="852.4" font-size="20.3" text-anchor="middle" fill="#000" >P = 0.0065</text>
<line x1="663" y1="915.7" x2="706.2" y2="915.7" stroke="#000" stroke-width="2.6" />
<text x="684.3" y="902.5" font-size="20.3" text-anchor="middle" fill="#000" >P = 0.0034</text>
<line x1="751.4" y1="866.4" x2="799.9" y2="866.4" stroke="#000" stroke-width="2.6" />
<text x="774.6" y="852.4" font-size="20.3" text-anchor="middle" fill="#000" >P = 0.0001</text>
<text x="912" y="757.5" font-size="33" text-anchor="start" fill="#000" font-weight="bold" >l</text>
<text x="925.4" y="870" font-size="25" text-anchor="start" fill="#000" >48 h</text>
<line x1="925.4" y1="874.5" x2="975.4" y2="874.5" stroke="#000" stroke-width="1.5"/>
<text transform="translate(1063.06,904) rotate(-90)" font-size="23.5">DMSO</text>
<text transform="translate(1145.26,904) rotate(-90)" font-size="23.5">iFSP1 (5 μM)</text>
<text transform="translate(1225.46,904) rotate(-90)" font-size="23.5">DMSO</text>
<text transform="translate(1307.76,904) rotate(-90)" font-size="23.5">2.5 μM</text>
<text transform="translate(1389.86,904) rotate(-90)" font-size="23.5">5 μM</text>
<text transform="translate(1472.06,904) rotate(-90)" font-size="23.5">10 μM</text>
<text x="1383.2" y="811" font-size="24.5" text-anchor="middle" fill="#000" >icFSP1</text>
<line x1="1270.7" y1="814.6" x2="1497.5" y2="814.6" stroke="#000" stroke-width="1.5" />
<text x="888.6" y="971.8" font-size="25" text-anchor="start" fill="#000" >IB: FSP1</text>
<text x="888.6" y="1059.3" font-size="25" text-anchor="start" fill="#000" >IB: GPX4</text>
<text x="888.6" y="1145" font-size="25" text-anchor="start" fill="#000" >IB: VCP</text>
<text x="898.6" y="1002" font-size="25" text-anchor="start" fill="#000" >(AMID)</text>
<rect x="1016" y="921.8" width="160" height="77.8" fill="#fbfbfb"/>
<rect x="1176" y="921.8" width="326.9" height="77.8" fill="#f2f2f2"/>
<rect x="1014.3" y="1012.9" width="161.7" height="71.4" fill="#f8f8f8"/>
<rect x="1176" y="1012.9" width="326.9" height="71.4" fill="#f1f1f1"/>
<rect x="1014.3" y="1095.7" width="161.7" height="65.3" fill="#fbfbfb"/>
<rect x="1176" y="1095.7" width="326.9" height="65.3" fill="#f8f8f8"/>
<g clip-path="url(#clipL)">
<rect x="1028" y="953.3" width="55" height="4.6" rx="2.3" fill="#222" opacity="1.0" filter="url(#b1)" transform="rotate(1.56 1055.5 955.6)"/>
<rect x="1105" y="955.6" width="58" height="6" rx="3" fill="#0a0a0a" opacity="1.0" filter="url(#b1)"/>
<rect x="1190" y="960.1" width="54" height="4.8" rx="2.4" fill="#2a2a2a" opacity="1.0" filter="url(#b1)" transform="rotate(1.59 1217 962.5)"/>
<rect x="1267" y="960.4" width="57" height="6.2" rx="3.1" fill="#050505" opacity="1.0" filter="url(#b1)" transform="rotate(-1.51 1295.5 963.5)"/>
<rect x="1346" y="954.8" width="58" height="5.4" rx="2.7" fill="#1e1e1e" opacity="1.0" filter="url(#b1)" transform="rotate(-0.99 1375 957.5)"/>
<rect x="1426" y="948.3" width="61" height="5.4" rx="2.7" fill="#1e1e1e" opacity="1.0" filter="url(#b1)" transform="rotate(-3.28 1456.5 951)"/>
<rect x="1027" y="1036.5" width="35" height="13" rx="6.5" fill="#000" opacity="1.0" filter="url(#b3)"/>
<rect x="1050" y="1041" width="40" height="10" rx="5" fill="#555" opacity="1.0" filter="url(#b3)"/>
<rect x="1103" y="1039.5" width="63" height="14" rx="7" fill="#333" opacity="1.0" filter="url(#b3)"/>
<rect x="1185" y="1050.5" width="62" height="14" rx="7" fill="#8a8a8a" opacity="1.0" filter="url(#b3)"/>
<rect x="1263" y="1050" width="62" height="14" rx="7" fill="#7a7a7a" opacity="1.0" filter="url(#b3)"/>
<rect x="1340" y="1044" width="65" height="13" rx="6.5" fill="#8d8d8d" opacity="1.0" filter="url(#b3)"/>
<rect x="1417" y="1039.5" width="69" height="12" rx="6" fill="#9a9a9a" opacity="1.0" filter="url(#b3)"/>
<rect x="1028" y="1124.95" width="65" height="11.5" rx="5.75" fill="#000" opacity="1.0" filter="url(#b2)"/>
<rect x="1104" y="1128.3" width="66" height="12" rx="6" fill="#0a0a0a" opacity="1.0" filter="url(#b2)"/>
<rect x="1185" y="1128.55" width="63" height="11.5" rx="5.75" fill="#050505" opacity="1.0" filter="url(#b2)"/>
<rect x="1260" y="1129.75" width="65" height="12.5" rx="6.25" fill="#000" opacity="1.0" filter="url(#b2)" transform="rotate(-1.32 1292.5 1136)"/>
<rect x="1337" y="1125.4" width="68" height="12" rx="6" fill="#050505" opacity="1.0" filter="url(#b2)" transform="rotate(-0.84 1371 1131.4)"/>
<rect x="1417" y="1121.5" width="76" height="12" rx="6" fill="#000" opacity="1.0" filter="url(#b2)" transform="rotate(-2.26 1455 1127.5)"/>
</g>
<rect x="1018" y="923.8" width="482.9" height="73.8" fill="none" stroke="#1a1a1a" stroke-width="4"/>
<line x1="1176" y1="921.8" x2="1176" y2="999.6" stroke="#1a1a1a" stroke-width="3.2" />
<rect x="1016.3" y="1014.9" width="484.6" height="67.4" fill="none" stroke="#1a1a1a" stroke-width="4"/>
<line x1="1176" y1="1012.9" x2="1176" y2="1084.3" stroke="#1a1a1a" stroke-width="3.2" />
<rect x="1016.3" y="1097.7" width="484.6" height="61.3" fill="none" stroke="#1a1a1a" stroke-width="4"/>
<line x1="1176" y1="1095.7" x2="1176" y2="1161" stroke="#1a1a1a" stroke-width="3.2" />
<line x1="1507" y1="964" x2="1515" y2="964" stroke="#000" stroke-width="2.6" />
<text x="1520.7" y="971.56" font-size="21" text-anchor="start" fill="#000" >40</text>
<line x1="1507" y1="1014.6" x2="1515" y2="1014.6" stroke="#000" stroke-width="2.6" />
<text x="1520.7" y="1022.16" font-size="21" text-anchor="start" fill="#000" >25</text>
<line x1="1507" y1="1137" x2="1515" y2="1137" stroke="#000" stroke-width="2.6" />
<text x="1520.7" y="1144.56" font-size="21" text-anchor="start" fill="#000" >100</text>
<text x="1508" y="1184.3" font-size="19.5" text-anchor="start" fill="#000" >[kDa]</text>
<text x="1210" y="1204" font-size="24.5" text-anchor="middle" fill="#000" font-weight="bold" >H460</text>
<text x="1596" y="758" font-size="33" text-anchor="start" fill="#000" font-weight="bold" >m</text>
<text x="1676.1" y="879.9" font-size="25" text-anchor="start" fill="#000" >48 h</text>
<line x1="1676.1" y1="884.4" x2="1726.1" y2="884.4" stroke="#000" stroke-width="1.5"/>
<text transform="translate(1798.06,932.3) rotate(-90)" font-size="23.5">DMSO</text>
<text transform="translate(1883.76,932.3) rotate(-90)" font-size="23.5">iFSP1 (5 μM)</text>
<text transform="translate(1968.96,932.3) rotate(-90)" font-size="23.5">icFSP1 (5 μM)</text>
<text x="1615.9" y="978.1" font-size="25" text-anchor="start" fill="#000" >IB: FSP1</text>
<text x="1615.9" y="1007" font-size="25" text-anchor="start" fill="#000" >(AMID)</text>
<text x="1615.9" y="1054.9" font-size="25" text-anchor="start" fill="#000" >IB: GPX4</text>
<text x="1615.9" y="1117.8" font-size="25" text-anchor="start" fill="#000" >IB: VCP</text>
<rect x="1744.8" y="942.2" width="255.5" height="57.7" fill="#fafafa"/>
<rect x="1744.8" y="1009" width="255.5" height="64.8" fill="#fafafa"/>
<rect x="1744.8" y="1083" width="255.5" height="49.2" fill="#fafafa"/>
<g clip-path="url(#clipM)">
<rect x="1751" y="965.3" width="67" height="4.4" rx="2.2" fill="#555" opacity="1.0" filter="url(#b1)"/>
<rect x="1840" y="965.1" width="65" height="4.8" rx="2.4" fill="#444" opacity="1.0" filter="url(#b1)"/>
<rect x="1929" y="964.3" width="66" height="5.4" rx="2.7" fill="#222" opacity="1.0" filter="url(#b1)"/>
<rect x="1929" y="964.5" width="16" height="5" rx="2.5" fill="#000" opacity="1.0" filter="url(#b1)"/>
<rect x="1752" y="1035.5" width="70" height="19" rx="9.5" fill="#1e1e1e" opacity="1.0" filter="url(#b3)"/>
<rect x="1837" y="1036.5" width="71" height="19" rx="9.5" fill="#2e2e2e" opacity="1.0" filter="url(#b3)"/>
<rect x="1924" y="1033.5" width="64" height="23" rx="11.5" fill="#000" opacity="1.0" filter="url(#b3)"/>
<rect x="1748" y="1104.75" width="76" height="11.5" rx="5.75" fill="#111" opacity="1.0" filter="url(#b2)"/>
<rect x="1836" y="1104.75" width="76" height="11.5" rx="5.75" fill="#0d0d0d" opacity="1.0" filter="url(#b2)"/>
<rect x="1925" y="1105" width="69" height="11" rx="5.5" fill="#141414" opacity="1.0" filter="url(#b2)"/>
</g>
<rect x="1746.4" y="943.8" width="252.3" height="54.5" fill="none" stroke="#1a1a1a" stroke-width="3.2"/>
<rect x="1746.4" y="1010.6" width="252.3" height="61.6" fill="none" stroke="#1a1a1a" stroke-width="3.2"/>
<rect x="1746.4" y="1084.6" width="252.3" height="46" fill="none" stroke="#1a1a1a" stroke-width="3.2"/>
<line x1="2002.4" y1="972" x2="2010.4" y2="972" stroke="#000" stroke-width="2.6" />
<text x="2015.5" y="979.56" font-size="21" text-anchor="start" fill="#000" >40</text>
<line x1="2002.4" y1="1014.8" x2="2010.4" y2="1014.8" stroke="#000" stroke-width="2.6" />
<text x="2015.5" y="1022.36" font-size="21" text-anchor="start" fill="#000" >25</text>
<line x1="2002.4" y1="1124.4" x2="2010.4" y2="1124.4" stroke="#000" stroke-width="2.6" />
<text x="2015.5" y="1131.96" font-size="21" text-anchor="start" fill="#000" >100</text>
<text x="2003.7" y="1162.9" font-size="20.5" text-anchor="start" fill="#000" >[kDa]</text>
<text x="1863.5" y="1173.4" font-size="24.5" text-anchor="middle" fill="#000" font-weight="bold" >HT-1080</text>
<text x="75" y="1315" font-size="33" text-anchor="start" fill="#000" font-weight="bold" >n</text>
<text x="65.4" y="1419.2" font-size="28" text-anchor="start" fill="#000" >72 h</text>
<line x1="65.4" y1="1423.7" x2="121.4" y2="1423.7" stroke="#000" stroke-width="1.5"/>
<text transform="translate(225.54,1437.5) rotate(-90)" font-size="24">DMSO</text>
<text transform="translate(311.44,1437.5) rotate(-90)" font-size="24">iFSP1 (5 μM)</text>
<text transform="translate(398.74,1437.5) rotate(-90)" font-size="24">icFSP1 (5 μM)</text>
<text x="49.3" y="1495.2" font-size="25" text-anchor="start" fill="#000" >IB: FSP1</text>
<text x="60.6" y="1526.2" font-size="25" text-anchor="start" fill="#000" >(AMID)</text>
<text x="49.3" y="1596.6" font-size="25" text-anchor="start" fill="#000" >IB: GPX4</text>
<text x="49.3" y="1685.9" font-size="25" text-anchor="start" fill="#000" >IB: VCP</text>
<rect x="169.9" y="1450.7" width="252.6" height="80.6" fill="#f8f8f8"/>
<rect x="171" y="1547.3" width="251.5" height="80.3" fill="#f8f8f8"/>
<rect x="170.4" y="1643.1" width="252.7" height="69" fill="#f8f8f8"/>
<g clip-path="url(#clipN)">
<rect x="179" y="1490.7" width="65" height="3.4" rx="1.7" fill="#333" opacity="1.0" filter="url(#b1)" transform="rotate(2.2 211.5 1492.4)"/>
<rect x="266" y="1492.95" width="64" height="4.5" rx="2.25" fill="#1a1a1a" opacity="1.0" filter="url(#b1)" transform="rotate(-0.9 298 1495.2)"/>
<rect x="352" y="1488.5" width="63" height="6" rx="3" fill="#050505" opacity="1.0" filter="url(#b1)"/>
<rect x="181" y="1576.3" width="71" height="21" rx="10.5" fill="#111" opacity="1.0" filter="url(#b3)"/>
<rect x="215" y="1579" width="37" height="18" rx="9" fill="#000" opacity="1.0" filter="url(#b3)"/>
<rect x="265" y="1579.6" width="68" height="20" rx="10" fill="#444" opacity="1.0" filter="url(#b3)"/>
<rect x="348" y="1576.9" width="66" height="17" rx="8.5" fill="#6a6a6a" opacity="1.0" filter="url(#b3)"/>
<rect x="189" y="1674.05" width="66" height="8.5" rx="4.25" fill="#0a0a0a" opacity="1.0" filter="url(#b2)"/>
<rect x="270" y="1675.45" width="65" height="8.5" rx="4.25" fill="#0d0d0d" opacity="1.0" filter="url(#b2)"/>
<rect x="351" y="1675.05" width="62" height="6.5" rx="3.25" fill="#3a3a3a" opacity="1.0" filter="url(#b2)"/>
</g>
<rect x="171.1" y="1451.9" width="250.2" height="78.2" fill="none" stroke="#1a1a1a" stroke-width="2.4"/>
<rect x="172.2" y="1548.5" width="249.1" height="77.9" fill="none" stroke="#1a1a1a" stroke-width="2.4"/>
<rect x="171.6" y="1644.3" width="250.3" height="66.6" fill="none" stroke="#1a1a1a" stroke-width="2.4"/>
<line x1="428.2" y1="1501.7" x2="436.2" y2="1501.7" stroke="#000" stroke-width="2.6" />
<text x="440.8" y="1507.82" font-size="17" text-anchor="start" fill="#000" >40</text>
<line x1="428.2" y1="1555.8" x2="436.2" y2="1555.8" stroke="#000" stroke-width="2.6" />
<text x="440.8" y="1561.92" font-size="17" text-anchor="start" fill="#000" >25</text>
<line x1="428.2" y1="1693.8" x2="436.2" y2="1693.8" stroke="#000" stroke-width="2.6" />
<text x="440.8" y="1699.92" font-size="17" text-anchor="start" fill="#000" >100</text>
<text x="429.6" y="1751.5" font-size="16" text-anchor="start" fill="#000" >[kDa]</text>
<text x="291.5" y="1751.5" font-size="24.5" text-anchor="middle" fill="#000" font-weight="bold" >HT-1080</text>
<text x="552" y="1315" font-size="33" text-anchor="start" fill="#000" font-weight="bold" >o</text>
<text x="763.2" y="1315" font-size="25" text-anchor="middle" fill="#3aa648" >FSP1-EGFP</text>
<text x="962.4" y="1315" font-size="25" text-anchor="middle" fill="#2a6db5" >DAPI</text>
<text x="1160.8" y="1315" font-size="25" text-anchor="middle" fill="#3aa648">MER<tspan fill="#2f7fa0">G</tspan><tspan fill="#2a6db5">E</tspan></text>
<rect x="665.4" y="1320.5" width="193" height="193" fill="#000"/>
<g clip-path="url(#ct665_1320)">
<path d="M681.17,1350.12 C684.55,1345.15 687.2,1338.14 691.14,1336.86 C695.08,1335.59 701.85,1338.92 704.81,1342.45 C707.77,1345.98 708.99,1352.5 708.9,1358.07 C708.81,1363.63 707.34,1371.06 704.26,1375.86 C701.19,1380.66 694.04,1386.55 690.47,1386.86 C686.89,1387.17 686.09,1381.08 682.81,1377.72 C679.53,1374.35 671.08,1371.27 670.81,1366.67 C670.54,1362.07 677.78,1355.09 681.17,1350.12Z" fill="#248024" opacity="0.21" filter="url(#gb2)"/>
<path d="M696.07,1354.09 C698.11,1356.7 699.61,1362.33 699.56,1366.31 C699.5,1370.28 698.24,1376.12 695.74,1377.93 C693.24,1379.75 686.75,1379.6 684.57,1377.18 C682.39,1374.76 682.22,1367.85 682.68,1363.43 C683.14,1359 685.1,1352.18 687.33,1350.63 C689.57,1349.07 694.04,1351.48 696.07,1354.09Z" fill="#3aa83a" opacity="0.1" filter="url(#gb2)"/>
<path d="M725.85,1325.95 C729.52,1325.49 736.81,1328.7 740.86,1330.63 C744.9,1332.56 748.92,1334.61 750.13,1337.53 C751.34,1340.45 750.93,1344.99 748.1,1348.16 C745.28,1351.33 737.76,1355.56 733.15,1356.56 C728.55,1357.57 724.1,1356.9 720.46,1354.2 C716.83,1351.5 711.6,1343.81 711.33,1340.35 C711.06,1336.89 716.42,1335.83 718.84,1333.43 C721.26,1331.03 722.18,1326.42 725.85,1325.95Z" fill="#248024" opacity="0.24" filter="url(#gb2)"/>
<path d="M724.46,1343.66 C722.35,1341.72 720.91,1339.58 721.24,1337.36 C721.56,1335.14 723.5,1330.64 726.44,1330.33 C729.37,1330.02 736.13,1333.44 738.85,1335.49 C741.58,1337.55 743.6,1340.42 742.77,1342.66 C741.94,1344.91 736.93,1348.8 733.87,1348.97 C730.82,1349.13 726.57,1345.59 724.46,1343.66Z" fill="#3aa83a" opacity="0.11" filter="url(#gb2)"/>
<path d="M751.51,1392.19 C750.75,1395.81 745.74,1393.98 742,1395.34 C738.27,1396.7 732.23,1401.67 729.11,1400.35 C725.99,1399.03 723.96,1391.8 723.29,1387.44 C722.62,1383.07 723.89,1378.64 725.11,1374.14 C726.32,1369.65 728.28,1362.21 730.58,1360.48 C732.88,1358.74 736.23,1361.55 738.9,1363.74 C741.56,1365.93 744.45,1368.88 746.55,1373.62 C748.65,1378.36 752.27,1388.57 751.51,1392.19Z" fill="#248024" opacity="0.21" filter="url(#gb2)"/>
<path d="M742.54,1376.29 C743.66,1379.9 744.41,1384.96 743.39,1387.5 C742.38,1390.03 738.54,1391.84 736.43,1391.5 C734.32,1391.16 732.13,1388.68 730.73,1385.47 C729.33,1382.27 727.04,1375.51 728.03,1372.25 C729.02,1368.98 734.25,1365.21 736.67,1365.88 C739.09,1366.55 741.42,1372.69 742.54,1376.29Z" fill="#3aa83a" opacity="0.1" filter="url(#gb2)"/>
<path d="M708.6,1397.1 C711.78,1396.87 715.58,1396.33 718.53,1397.96 C721.49,1399.58 724.87,1402.79 726.35,1406.84 C727.83,1410.9 728.56,1419.3 727.41,1422.3 C726.26,1425.3 721.79,1424.74 719.43,1424.84 C717.07,1424.94 715.68,1424.39 713.25,1422.9 C710.83,1421.41 707.19,1419.83 704.88,1415.9 C702.58,1411.96 698.82,1402.42 699.44,1399.28 C700.06,1396.15 705.42,1397.32 708.6,1397.1Z" fill="#248024" opacity="0.27" filter="url(#gb2)"/>
<path d="M709.71,1397.47 C711.4,1396.09 715.62,1397.68 717.74,1400.28 C719.86,1402.87 722.27,1409.75 722.42,1413.04 C722.58,1416.33 720.73,1419.6 718.66,1420.01 C716.6,1420.42 711.87,1417.42 710.03,1415.51 C708.19,1413.6 707.68,1411.54 707.62,1408.53 C707.57,1405.52 708.02,1398.84 709.71,1397.47Z" fill="#3aa83a" opacity="0.13" filter="url(#gb2)"/>
<path d="M779.04,1405.9 C781.88,1407.98 784.31,1409.69 784.62,1412.07 C784.94,1414.45 782.7,1417.46 780.91,1420.18 C779.12,1422.9 777.3,1427.74 773.88,1428.37 C770.46,1429 762.79,1426.02 760.38,1423.94 C757.96,1421.87 759.1,1418.48 759.38,1415.91 C759.65,1413.34 760.66,1411.25 762.03,1408.54 C763.4,1405.83 764.74,1400.08 767.58,1399.64 C770.41,1399.2 776.2,1403.83 779.04,1405.9Z" fill="#248024" opacity="0.3" filter="url(#gb2)"/>
<path d="M764.94,1412.98 C766.17,1410.4 769.31,1406.43 771.36,1405.98 C773.41,1405.53 775.84,1408.27 777.23,1410.29 C778.62,1412.3 780.45,1416.41 779.69,1418.1 C778.94,1419.78 775.31,1419.85 772.69,1420.41 C770.07,1420.98 765.26,1422.72 763.96,1421.48 C762.67,1420.24 763.71,1415.57 764.94,1412.98Z" fill="#3aa83a" opacity="0.14" filter="url(#gb2)"/>
<path d="M810.21,1383.69 C807.6,1382.93 803.91,1383.21 803.28,1380.95 C802.65,1378.68 804.94,1373.31 806.44,1370.1 C807.95,1366.88 809.76,1362.54 812.31,1361.63 C814.86,1360.73 818.77,1363.59 821.72,1364.66 C824.67,1365.73 829.02,1365.98 830.01,1368.07 C831.01,1370.16 829.54,1374.3 827.69,1377.21 C825.85,1380.13 821.85,1384.47 818.94,1385.55 C816.02,1386.63 812.82,1384.46 810.21,1383.69Z" fill="#248024" opacity="0.3" filter="url(#gb2)"/>
<path d="M821.11,1377.4 C820.42,1379.39 818.51,1381.99 816.6,1382.29 C814.68,1382.58 810.71,1380.83 809.63,1379.2 C808.54,1377.57 809.08,1374.64 810.08,1372.49 C811.08,1370.35 813.83,1366.69 815.6,1366.34 C817.37,1365.98 819.78,1368.52 820.7,1370.36 C821.62,1372.21 821.79,1375.42 821.11,1377.4Z" fill="#3aa83a" opacity="0.14" filter="url(#gb2)"/>
<path d="M857.79,1375.72 C855.63,1376.89 849.53,1376.59 846.37,1376.85 C843.22,1377.12 840.5,1378.12 838.87,1377.29 C837.25,1376.47 837.06,1374.25 836.63,1371.89 C836.19,1369.53 834.56,1365.19 836.27,1363.14 C837.98,1361.09 843.9,1359.48 846.91,1359.58 C849.91,1359.68 852.24,1362.03 854.31,1363.74 C856.38,1365.45 858.74,1367.82 859.32,1369.82 C859.9,1371.82 859.94,1374.55 857.79,1375.72Z" fill="#248024" opacity="0.27" filter="url(#gb2)"/>
<path d="M846.99,1374.88 C844.99,1374.95 842.61,1374.88 841.55,1373.64 C840.48,1372.4 839.61,1369.12 840.61,1367.43 C841.61,1365.74 845.21,1363.56 847.56,1363.49 C849.91,1363.43 853.72,1365.43 854.72,1367.05 C855.71,1368.66 854.83,1371.87 853.54,1373.17 C852.25,1374.48 848.99,1374.8 846.99,1374.88Z" fill="#3aa83a" opacity="0.13" filter="url(#gb2)"/>
<path d="M727.2,1442.28 C729.81,1447.12 732.03,1454.97 730.94,1460.37 C729.84,1465.76 723.76,1471.92 720.64,1474.66 C717.51,1477.39 715.07,1478.04 712.21,1476.77 C709.35,1475.49 705.47,1470.31 703.47,1467 C701.46,1463.69 700.25,1462.29 700.16,1456.89 C700.07,1451.49 700.42,1438.86 702.93,1434.6 C705.44,1430.34 711.19,1430.06 715.23,1431.34 C719.28,1432.62 724.58,1437.44 727.2,1442.28Z" fill="#248024" opacity="0.51" filter="url(#gb2)"/>
<path d="M720.2,1462.17 C719.12,1465.25 716.07,1470.38 713.06,1470.13 C710.04,1469.87 703.35,1463.97 702.13,1460.65 C700.91,1457.33 703.98,1452.62 705.76,1450.2 C707.54,1447.78 710.5,1445.9 712.8,1446.14 C715.1,1446.39 718.31,1449.01 719.55,1451.68 C720.78,1454.35 721.28,1459.1 720.2,1462.17Z" fill="#3aa83a" opacity="0.24" filter="url(#gb2)"/>
<path d="M763.22,1514.19 C759.62,1515.21 756.97,1511.69 753.65,1508.77 C750.34,1505.84 744.71,1500.71 743.34,1496.64 C741.97,1492.58 743.05,1487.97 745.44,1484.37 C747.83,1480.78 753.84,1476.02 757.68,1475.08 C761.52,1474.14 764.93,1476.28 768.47,1478.75 C772.01,1481.22 777.77,1485.93 778.91,1489.91 C780.04,1493.89 777.91,1498.58 775.29,1502.62 C772.68,1506.67 766.83,1513.16 763.22,1514.19Z" fill="#248024" opacity="0.48" filter="url(#gb2)"/>
<path d="M754.18,1504.03 C751.67,1502.49 750.89,1497.55 750.82,1494.43 C750.75,1491.32 751.67,1487.19 753.76,1485.35 C755.86,1483.51 760.98,1482.05 763.41,1483.38 C765.84,1484.71 767.94,1489.95 768.35,1493.33 C768.76,1496.7 768.24,1501.87 765.88,1503.65 C763.52,1505.44 756.69,1505.56 754.18,1504.03Z" fill="#3aa83a" opacity="0.22" filter="url(#gb2)"/>
<path d="M778.95,1450.43 C771.77,1452.72 762.77,1454.94 756.72,1454.37 C750.66,1453.8 746.12,1449.35 742.61,1447.01 C739.1,1444.66 734.9,1442.88 735.64,1440.29 C736.39,1437.71 742.47,1433.56 747.08,1431.51 C751.69,1429.46 756.97,1427.43 763.31,1427.99 C769.64,1428.55 779.01,1432.76 785.09,1434.87 C791.18,1436.97 800.83,1438.03 799.81,1440.63 C798.78,1443.22 786.14,1448.14 778.95,1450.43Z" fill="#248024" opacity="0.09" filter="url(#gb2)"/>
<path d="M751.14,1434.27 C755.45,1433.29 769.42,1432.41 774.12,1433.68 C778.83,1434.95 779.98,1439.72 779.37,1441.91 C778.76,1444.1 775.35,1446.26 770.45,1446.82 C765.56,1447.37 753.67,1446.44 749.97,1445.23 C746.28,1444.02 748.07,1441.4 748.27,1439.57 C748.46,1437.75 746.83,1435.26 751.14,1434.27Z" fill="#3aa83a" opacity="0.04" filter="url(#gb2)"/>
<path d="M797.28,1373.22 C800.84,1371.92 809.59,1372.66 812.74,1373.54 C815.88,1374.41 816.27,1376.56 816.14,1378.46 C816.01,1380.35 814.79,1381.75 811.95,1384.91 C809.11,1388.08 802.51,1395.53 799.11,1397.46 C795.7,1399.38 794.07,1397.68 791.54,1396.47 C789.01,1395.26 783.94,1392.73 783.92,1390.21 C783.89,1387.69 789.15,1384.17 791.38,1381.34 C793.61,1378.51 793.72,1374.52 797.28,1373.22Z" fill="#248024" opacity="0.18" filter="url(#gb2)"/>
<path d="M804.46,1376.89 C806.39,1376.79 807.12,1378.76 807.46,1380.43 C807.8,1382.1 808.09,1385.26 806.51,1386.9 C804.94,1388.54 800.9,1389.84 798,1390.28 C795.1,1390.71 789.48,1391.06 789.13,1389.51 C788.78,1387.97 793.33,1383.09 795.88,1380.99 C798.44,1378.89 802.53,1376.98 804.46,1376.89Z" fill="#3aa83a" opacity="0.08" filter="url(#gb2)"/>
<path d="M710.98,1363.39 C711.2,1357.94 711.44,1350.73 713.47,1347.16 C715.5,1343.58 719.81,1342.67 723.15,1341.95 C726.49,1341.23 731.08,1340 733.52,1342.83 C735.95,1345.67 737.24,1354.57 737.78,1358.98 C738.31,1363.39 738.67,1366.29 736.73,1369.28 C734.8,1372.26 730.27,1375.1 726.17,1376.87 C722.07,1378.63 714.67,1382.11 712.14,1379.87 C709.6,1377.62 710.76,1368.85 710.98,1363.39Z" fill="#248024" opacity="0.15" filter="url(#gb2)"/>
<path d="M730.12,1354.12 C731.61,1356.86 732.98,1361.74 731.4,1364.77 C729.83,1367.8 723.21,1372.68 720.7,1372.29 C718.18,1371.9 716.89,1365.8 716.31,1362.41 C715.74,1359.03 716.22,1354.32 717.26,1351.97 C718.29,1349.62 720.36,1347.96 722.51,1348.32 C724.65,1348.68 728.64,1351.37 730.12,1354.12Z" fill="#3aa83a" opacity="0.07" filter="url(#gb2)"/>
<ellipse cx="695.7" cy="1367.98" rx="11.79" ry="15.05" fill="none" stroke="#46cc46" stroke-width="2.9" opacity="0.11" filter="url(#gb15)"/>
<ellipse cx="733.53" cy="1340.77" rx="11.79" ry="9.79" fill="none" stroke="#46cc46" stroke-width="2.9" opacity="0.12" filter="url(#gb15)"/>
<ellipse cx="744.14" cy="1386.89" rx="11.04" ry="15.05" fill="none" stroke="#46cc46" stroke-width="2.9" opacity="0.11" filter="url(#gb15)" transform="rotate(-20 744.14 1386.89)"/>
<ellipse cx="714.42" cy="1407.35" rx="11.04" ry="13.8" fill="none" stroke="#46cc46" stroke-width="2.9" opacity="0.14" filter="url(#gb15)"/>
<ellipse cx="768.85" cy="1411.98" rx="11.04" ry="11.04" fill="none" stroke="#46cc46" stroke-width="2.9" opacity="0.15" filter="url(#gb15)"/>
<ellipse cx="780.62" cy="1439.77" rx="19.57" ry="13.8" fill="none" stroke="#46cc46" stroke-width="2.9" opacity="0.05" filter="url(#gb15)" transform="rotate(10 780.62 1439.77)"/>
<ellipse cx="714.42" cy="1455.99" rx="11.79" ry="15.05" fill="none" stroke="#46cc46" stroke-width="2.9" opacity="0.26" filter="url(#gb15)"/>
<ellipse cx="761.9" cy="1496.9" rx="13.8" ry="11.79" fill="none" stroke="#46cc46" stroke-width="2.9" opacity="0.24" filter="url(#gb15)" transform="rotate(20 761.9 1496.9)"/>
<ellipse cx="815.17" cy="1368.17" rx="9.79" ry="8.53" fill="none" stroke="#46cc46" stroke-width="2.9" opacity="0.15" filter="url(#gb15)"/>
<ellipse cx="813.62" cy="1381.68" rx="15.05" ry="8.53" fill="none" stroke="#46cc46" stroke-width="2.9" opacity="0.15" filter="url(#gb15)" transform="rotate(-25 813.62 1381.68)"/>
<ellipse cx="851.45" cy="1369.52" rx="9.79" ry="9.79" fill="none" stroke="#46cc46" stroke-width="2.9" opacity="0.14" filter="url(#gb15)"/>
<ellipse cx="674.47" cy="1365.08" rx="8.62" ry="11" fill="#000" opacity="0.42" filter="url(#gb1)"/>
<ellipse cx="695.7" cy="1367.98" rx="8.62" ry="11" fill="#000" opacity="0.42" filter="url(#gb1)"/>
<ellipse cx="733.53" cy="1340.77" rx="8.62" ry="7.15" fill="#000" opacity="0.42" filter="url(#gb1)"/>
<ellipse cx="761.32" cy="1370.1" rx="9.53" ry="8.62" fill="#000" opacity="0.42" filter="url(#gb1)"/>
<ellipse cx="744.14" cy="1386.89" rx="8.07" ry="11" fill="#000" opacity="0.42" filter="url(#gb1)" transform="rotate(-20 744.14 1386.89)"/>
<ellipse cx="714.42" cy="1407.35" rx="8.07" ry="10.08" fill="#000" opacity="0.42" filter="url(#gb1)"/>
<ellipse cx="768.85" cy="1411.98" rx="8.07" ry="8.07" fill="#000" opacity="0.42" filter="url(#gb1)"/>
<ellipse cx="684.7" cy="1427.23" rx="11" ry="8.07" fill="#000" opacity="0.42" filter="url(#gb1)" transform="rotate(25 684.7 1427.23)"/>
<ellipse cx="780.62" cy="1439.77" rx="14.3" ry="10.08" fill="#000" opacity="0.42" filter="url(#gb1)" transform="rotate(10 780.62 1439.77)"/>
<ellipse cx="714.42" cy="1455.99" rx="8.62" ry="11" fill="#000" opacity="0.42" filter="url(#gb1)"/>
<ellipse cx="761.9" cy="1496.9" rx="10.08" ry="8.62" fill="#000" opacity="0.42" filter="url(#gb1)" transform="rotate(20 761.9 1496.9)"/>
<ellipse cx="815.17" cy="1368.17" rx="7.15" ry="6.23" fill="#000" opacity="0.42" filter="url(#gb1)"/>
<ellipse cx="813.62" cy="1381.68" rx="11" ry="6.23" fill="#000" opacity="0.42" filter="url(#gb1)" transform="rotate(-25 813.62 1381.68)"/>
<ellipse cx="851.45" cy="1369.52" rx="7.15" ry="7.15" fill="#000" opacity="0.42" filter="url(#gb1)"/>
<ellipse cx="853" cy="1337.87" rx="5.68" ry="7.15" fill="#000" opacity="0.42" filter="url(#gb1)"/>
<ellipse cx="825.98" cy="1330.15" rx="11.55" ry="10.08" fill="#000" opacity="0.42" filter="url(#gb1)"/>
<ellipse cx="822.89" cy="1490.73" rx="8.62" ry="8.07" fill="#000" opacity="0.42" filter="url(#gb1)"/>
</g>
<line x1="835.24" y1="1504.82" x2="850.68" y2="1504.82" stroke="#ddd" stroke-width="1.2" />
<rect x="866.1" y="1320.5" width="193" height="193" fill="#00000c"/>
<g clip-path="url(#ct866_1320)">
<ellipse cx="875.17" cy="1365.08" rx="9.07" ry="11.58" fill="#1a26d8" opacity="1" filter="url(#gb15)"/>
<ellipse cx="896.4" cy="1367.98" rx="9.07" ry="11.58" fill="#1a26d8" opacity="1" filter="url(#gb15)"/>
<ellipse cx="934.23" cy="1340.77" rx="9.07" ry="7.53" fill="#1a26d8" opacity="0.95" filter="url(#gb15)"/>
<ellipse cx="962.02" cy="1370.1" rx="10.04" ry="9.07" fill="#1a26d8" opacity="0.95" filter="url(#gb15)"/>
<ellipse cx="944.84" cy="1386.89" rx="8.49" ry="11.58" fill="#1a26d8" opacity="1" filter="url(#gb15)" transform="rotate(-20 944.84 1386.89)"/>
<ellipse cx="915.12" cy="1407.35" rx="8.49" ry="10.62" fill="#1a26d8" opacity="1" filter="url(#gb15)"/>
<ellipse cx="969.55" cy="1411.98" rx="8.49" ry="8.49" fill="#1a26d8" opacity="1" filter="url(#gb15)"/>
<ellipse cx="885.4" cy="1427.23" rx="11.58" ry="8.49" fill="#1a26d8" opacity="1" filter="url(#gb15)" transform="rotate(25 885.4 1427.23)"/>
<ellipse cx="981.32" cy="1439.77" rx="15.05" ry="10.62" fill="#1a26d8" opacity="0.85" filter="url(#gb15)" transform="rotate(10 981.32 1439.77)"/>
<ellipse cx="915.12" cy="1455.99" rx="9.07" ry="11.58" fill="#1a26d8" opacity="0.95" filter="url(#gb15)"/>
<ellipse cx="962.6" cy="1496.9" rx="10.62" ry="9.07" fill="#1a26d8" opacity="0.75" filter="url(#gb15)" transform="rotate(20 962.6 1496.9)"/>
<ellipse cx="1015.87" cy="1368.17" rx="7.53" ry="6.56" fill="#1a26d8" opacity="0.85" filter="url(#gb15)"/>
<ellipse cx="1014.32" cy="1381.68" rx="11.58" ry="6.56" fill="#1a26d8" opacity="0.95" filter="url(#gb15)" transform="rotate(-25 1014.32 1381.68)"/>
<ellipse cx="1052.15" cy="1369.52" rx="7.53" ry="7.53" fill="#1a26d8" opacity="0.9" filter="url(#gb15)"/>
<ellipse cx="1053.7" cy="1337.87" rx="5.98" ry="7.53" fill="#1a26d8" opacity="0.9" filter="url(#gb15)"/>
<ellipse cx="1026.68" cy="1330.15" rx="12.16" ry="10.62" fill="#1a26d8" opacity="0.45" filter="url(#gb15)"/>
<ellipse cx="1023.59" cy="1490.73" rx="9.07" ry="8.49" fill="#1a26d8" opacity="0.45" filter="url(#gb15)"/>
</g>
<line x1="1035.94" y1="1504.82" x2="1051.38" y2="1504.82" stroke="#ddd" stroke-width="1.2" />
<rect x="1064.5" y="1320.5" width="193" height="193" fill="#00000a"/>
<g clip-path="url(#ct1064_1320)" style="isolation:isolate">
<path d="M1080.27,1350.12 C1083.65,1345.15 1086.3,1338.14 1090.24,1336.86 C1094.18,1335.59 1100.95,1338.92 1103.91,1342.45 C1106.87,1345.98 1108.09,1352.5 1108,1358.07 C1107.91,1363.63 1106.44,1371.06 1103.36,1375.86 C1100.29,1380.66 1093.14,1386.55 1089.57,1386.86 C1085.99,1387.17 1085.19,1381.08 1081.91,1377.72 C1078.63,1374.35 1070.18,1371.27 1069.91,1366.67 C1069.64,1362.07 1076.88,1355.09 1080.27,1350.12Z" fill="#248024" opacity="0.21" filter="url(#gb2)"/>
<path d="M1095.17,1354.09 C1097.21,1356.7 1098.71,1362.33 1098.66,1366.31 C1098.6,1370.28 1097.34,1376.12 1094.84,1377.93 C1092.34,1379.75 1085.85,1379.6 1083.67,1377.18 C1081.49,1374.76 1081.32,1367.85 1081.78,1363.43 C1082.24,1359 1084.2,1352.18 1086.43,1350.63 C1088.67,1349.07 1093.14,1351.48 1095.17,1354.09Z" fill="#3aa83a" opacity="0.1" filter="url(#gb2)"/>
<path d="M1124.95,1325.95 C1128.62,1325.49 1135.91,1328.7 1139.96,1330.63 C1144,1332.56 1148.02,1334.61 1149.23,1337.53 C1150.44,1340.45 1150.03,1344.99 1147.2,1348.16 C1144.38,1351.33 1136.86,1355.56 1132.25,1356.56 C1127.65,1357.57 1123.2,1356.9 1119.56,1354.2 C1115.93,1351.5 1110.7,1343.81 1110.43,1340.35 C1110.16,1336.89 1115.52,1335.83 1117.94,1333.43 C1120.36,1331.03 1121.28,1326.42 1124.95,1325.95Z" fill="#248024" opacity="0.24" filter="url(#gb2)"/>
<path d="M1123.56,1343.66 C1121.45,1341.72 1120.01,1339.58 1120.34,1337.36 C1120.66,1335.14 1122.6,1330.64 1125.54,1330.33 C1128.47,1330.02 1135.23,1333.44 1137.95,1335.49 C1140.68,1337.55 1142.7,1340.42 1141.87,1342.66 C1141.04,1344.91 1136.03,1348.8 1132.97,1348.97 C1129.92,1349.13 1125.67,1345.59 1123.56,1343.66Z" fill="#3aa83a" opacity="0.11" filter="url(#gb2)"/>
<path d="M1150.61,1392.19 C1149.85,1395.81 1144.84,1393.98 1141.1,1395.34 C1137.37,1396.7 1131.33,1401.67 1128.21,1400.35 C1125.09,1399.03 1123.06,1391.8 1122.39,1387.44 C1121.72,1383.07 1122.99,1378.64 1124.21,1374.14 C1125.42,1369.65 1127.38,1362.21 1129.68,1360.48 C1131.98,1358.74 1135.33,1361.55 1138,1363.74 C1140.66,1365.93 1143.55,1368.88 1145.65,1373.62 C1147.75,1378.36 1151.37,1388.57 1150.61,1392.19Z" fill="#248024" opacity="0.21" filter="url(#gb2)"/>
<path d="M1141.64,1376.29 C1142.76,1379.9 1143.51,1384.96 1142.49,1387.5 C1141.48,1390.03 1137.64,1391.84 1135.53,1391.5 C1133.42,1391.16 1131.23,1388.68 1129.83,1385.47 C1128.43,1382.27 1126.14,1375.51 1127.13,1372.25 C1128.12,1368.98 1133.35,1365.21 1135.77,1365.88 C1138.19,1366.55 1140.52,1372.69 1141.64,1376.29Z" fill="#3aa83a" opacity="0.1" filter="url(#gb2)"/>
<path d="M1107.7,1397.1 C1110.88,1396.87 1114.68,1396.33 1117.63,1397.96 C1120.59,1399.58 1123.97,1402.79 1125.45,1406.84 C1126.93,1410.9 1127.66,1419.3 1126.51,1422.3 C1125.36,1425.3 1120.89,1424.74 1118.53,1424.84 C1116.17,1424.94 1114.78,1424.39 1112.35,1422.9 C1109.93,1421.41 1106.29,1419.83 1103.98,1415.9 C1101.68,1411.96 1097.92,1402.42 1098.54,1399.28 C1099.16,1396.15 1104.52,1397.32 1107.7,1397.1Z" fill="#248024" opacity="0.27" filter="url(#gb2)"/>
<path d="M1108.81,1397.47 C1110.5,1396.09 1114.72,1397.68 1116.84,1400.28 C1118.96,1402.87 1121.37,1409.75 1121.52,1413.04 C1121.68,1416.33 1119.83,1419.6 1117.76,1420.01 C1115.7,1420.42 1110.97,1417.42 1109.13,1415.51 C1107.29,1413.6 1106.78,1411.54 1106.72,1408.53 C1106.67,1405.52 1107.12,1398.84 1108.81,1397.47Z" fill="#3aa83a" opacity="0.13" filter="url(#gb2)"/>
<path d="M1178.14,1405.9 C1180.98,1407.98 1183.41,1409.69 1183.72,1412.07 C1184.04,1414.45 1181.8,1417.46 1180.01,1420.18 C1178.22,1422.9 1176.4,1427.74 1172.98,1428.37 C1169.56,1429 1161.89,1426.02 1159.48,1423.94 C1157.06,1421.87 1158.2,1418.48 1158.48,1415.91 C1158.75,1413.34 1159.76,1411.25 1161.13,1408.54 C1162.5,1405.83 1163.84,1400.08 1166.68,1399.64 C1169.51,1399.2 1175.3,1403.83 1178.14,1405.9Z" fill="#248024" opacity="0.3" filter="url(#gb2)"/>
<path d="M1164.04,1412.98 C1165.27,1410.4 1168.41,1406.43 1170.46,1405.98 C1172.51,1405.53 1174.94,1408.27 1176.33,1410.29 C1177.72,1412.3 1179.55,1416.41 1178.79,1418.1 C1178.04,1419.78 1174.41,1419.85 1171.79,1420.41 C1169.17,1420.98 1164.36,1422.72 1163.06,1421.48 C1161.77,1420.24 1162.81,1415.57 1164.04,1412.98Z" fill="#3aa83a" opacity="0.14" filter="url(#gb2)"/>
<path d="M1209.31,1383.69 C1206.7,1382.93 1203.01,1383.21 1202.38,1380.95 C1201.75,1378.68 1204.04,1373.31 1205.54,1370.1 C1207.05,1366.88 1208.86,1362.54 1211.41,1361.63 C1213.96,1360.73 1217.87,1363.59 1220.82,1364.66 C1223.77,1365.73 1228.12,1365.98 1229.11,1368.07 C1230.11,1370.16 1228.64,1374.3 1226.79,1377.21 C1224.95,1380.13 1220.95,1384.47 1218.04,1385.55 C1215.12,1386.63 1211.92,1384.46 1209.31,1383.69Z" fill="#248024" opacity="0.3" filter="url(#gb2)"/>
<path d="M1220.21,1377.4 C1219.52,1379.39 1217.61,1381.99 1215.7,1382.29 C1213.78,1382.58 1209.81,1380.83 1208.73,1379.2 C1207.64,1377.57 1208.18,1374.64 1209.18,1372.49 C1210.18,1370.35 1212.93,1366.69 1214.7,1366.34 C1216.47,1365.98 1218.88,1368.52 1219.8,1370.36 C1220.72,1372.21 1220.89,1375.42 1220.21,1377.4Z" fill="#3aa83a" opacity="0.14" filter="url(#gb2)"/>
<path d="M1256.89,1375.72 C1254.73,1376.89 1248.63,1376.59 1245.47,1376.85 C1242.32,1377.12 1239.6,1378.12 1237.97,1377.29 C1236.35,1376.47 1236.16,1374.25 1235.73,1371.89 C1235.29,1369.53 1233.66,1365.19 1235.37,1363.14 C1237.08,1361.09 1243,1359.48 1246.01,1359.58 C1249.01,1359.68 1251.34,1362.03 1253.41,1363.74 C1255.48,1365.45 1257.84,1367.82 1258.42,1369.82 C1259,1371.82 1259.04,1374.55 1256.89,1375.72Z" fill="#248024" opacity="0.27" filter="url(#gb2)"/>
<path d="M1246.09,1374.88 C1244.09,1374.95 1241.71,1374.88 1240.65,1373.64 C1239.58,1372.4 1238.71,1369.12 1239.71,1367.43 C1240.71,1365.74 1244.31,1363.56 1246.66,1363.49 C1249.01,1363.43 1252.82,1365.43 1253.82,1367.05 C1254.81,1368.66 1253.93,1371.87 1252.64,1373.17 C1251.35,1374.48 1248.09,1374.8 1246.09,1374.88Z" fill="#3aa83a" opacity="0.13" filter="url(#gb2)"/>
<path d="M1126.3,1442.28 C1128.91,1447.12 1131.13,1454.97 1130.04,1460.37 C1128.94,1465.76 1122.86,1471.92 1119.74,1474.66 C1116.61,1477.39 1114.17,1478.04 1111.31,1476.77 C1108.45,1475.49 1104.57,1470.31 1102.57,1467 C1100.56,1463.69 1099.35,1462.29 1099.26,1456.89 C1099.17,1451.49 1099.52,1438.86 1102.03,1434.6 C1104.54,1430.34 1110.29,1430.06 1114.33,1431.34 C1118.38,1432.62 1123.68,1437.44 1126.3,1442.28Z" fill="#248024" opacity="0.51" filter="url(#gb2)"/>
<path d="M1119.3,1462.17 C1118.22,1465.25 1115.17,1470.38 1112.16,1470.13 C1109.14,1469.87 1102.45,1463.97 1101.23,1460.65 C1100.01,1457.33 1103.08,1452.62 1104.86,1450.2 C1106.64,1447.78 1109.6,1445.9 1111.9,1446.14 C1114.2,1446.39 1117.41,1449.01 1118.65,1451.68 C1119.88,1454.35 1120.38,1459.1 1119.3,1462.17Z" fill="#3aa83a" opacity="0.24" filter="url(#gb2)"/>
<path d="M1162.32,1514.19 C1158.72,1515.21 1156.07,1511.69 1152.75,1508.77 C1149.44,1505.84 1143.81,1500.71 1142.44,1496.64 C1141.07,1492.58 1142.15,1487.97 1144.54,1484.37 C1146.93,1480.78 1152.94,1476.02 1156.78,1475.08 C1160.62,1474.14 1164.03,1476.28 1167.57,1478.75 C1171.11,1481.22 1176.87,1485.93 1178.01,1489.91 C1179.14,1493.89 1177.01,1498.58 1174.39,1502.62 C1171.78,1506.67 1165.93,1513.16 1162.32,1514.19Z" fill="#248024" opacity="0.48" filter="url(#gb2)"/>
<path d="M1153.28,1504.03 C1150.77,1502.49 1149.99,1497.55 1149.92,1494.43 C1149.85,1491.32 1150.77,1487.19 1152.86,1485.35 C1154.96,1483.51 1160.08,1482.05 1162.51,1483.38 C1164.94,1484.71 1167.04,1489.95 1167.45,1493.33 C1167.86,1496.7 1167.34,1501.87 1164.98,1503.65 C1162.62,1505.44 1155.79,1505.56 1153.28,1504.03Z" fill="#3aa83a" opacity="0.22" filter="url(#gb2)"/>
<path d="M1178.05,1450.43 C1170.87,1452.72 1161.87,1454.94 1155.82,1454.37 C1149.76,1453.8 1145.22,1449.35 1141.71,1447.01 C1138.2,1444.66 1134,1442.88 1134.74,1440.29 C1135.49,1437.71 1141.57,1433.56 1146.18,1431.51 C1150.79,1429.46 1156.07,1427.43 1162.41,1427.99 C1168.74,1428.55 1178.11,1432.76 1184.19,1434.87 C1190.28,1436.97 1199.93,1438.03 1198.91,1440.63 C1197.88,1443.22 1185.24,1448.14 1178.05,1450.43Z" fill="#248024" opacity="0.09" filter="url(#gb2)"/>
<path d="M1150.24,1434.27 C1154.55,1433.29 1168.52,1432.41 1173.22,1433.68 C1177.93,1434.95 1179.08,1439.72 1178.47,1441.91 C1177.86,1444.1 1174.45,1446.26 1169.55,1446.82 C1164.66,1447.37 1152.77,1446.44 1149.07,1445.23 C1145.38,1444.02 1147.17,1441.4 1147.37,1439.57 C1147.56,1437.75 1145.93,1435.26 1150.24,1434.27Z" fill="#3aa83a" opacity="0.04" filter="url(#gb2)"/>
<path d="M1196.38,1373.22 C1199.94,1371.92 1208.69,1372.66 1211.84,1373.54 C1214.98,1374.41 1215.37,1376.56 1215.24,1378.46 C1215.11,1380.35 1213.89,1381.75 1211.05,1384.91 C1208.21,1388.08 1201.61,1395.53 1198.21,1397.46 C1194.8,1399.38 1193.17,1397.68 1190.64,1396.47 C1188.11,1395.26 1183.04,1392.73 1183.02,1390.21 C1182.99,1387.69 1188.25,1384.17 1190.48,1381.34 C1192.71,1378.51 1192.82,1374.52 1196.38,1373.22Z" fill="#248024" opacity="0.18" filter="url(#gb2)"/>
<path d="M1203.56,1376.89 C1205.49,1376.79 1206.22,1378.76 1206.56,1380.43 C1206.9,1382.1 1207.19,1385.26 1205.61,1386.9 C1204.04,1388.54 1200,1389.84 1197.1,1390.28 C1194.2,1390.71 1188.58,1391.06 1188.23,1389.51 C1187.88,1387.97 1192.43,1383.09 1194.98,1380.99 C1197.54,1378.89 1201.63,1376.98 1203.56,1376.89Z" fill="#3aa83a" opacity="0.08" filter="url(#gb2)"/>
<path d="M1110.08,1363.39 C1110.3,1357.94 1110.54,1350.73 1112.57,1347.16 C1114.6,1343.58 1118.91,1342.67 1122.25,1341.95 C1125.59,1341.23 1130.18,1340 1132.62,1342.83 C1135.05,1345.67 1136.34,1354.57 1136.88,1358.98 C1137.41,1363.39 1137.77,1366.29 1135.83,1369.28 C1133.9,1372.26 1129.37,1375.1 1125.27,1376.87 C1121.17,1378.63 1113.77,1382.11 1111.24,1379.87 C1108.7,1377.62 1109.86,1368.85 1110.08,1363.39Z" fill="#248024" opacity="0.15" filter="url(#gb2)"/>
<path d="M1129.22,1354.12 C1130.71,1356.86 1132.08,1361.74 1130.5,1364.77 C1128.93,1367.8 1122.31,1372.68 1119.8,1372.29 C1117.28,1371.9 1115.99,1365.8 1115.41,1362.41 C1114.84,1359.03 1115.32,1354.32 1116.36,1351.97 C1117.39,1349.62 1119.46,1347.96 1121.61,1348.32 C1123.75,1348.68 1127.74,1351.37 1129.22,1354.12Z" fill="#3aa83a" opacity="0.07" filter="url(#gb2)"/>
<ellipse cx="1094.8" cy="1367.98" rx="11.79" ry="15.05" fill="none" stroke="#46cc46" stroke-width="2.9" opacity="0.11" filter="url(#gb15)"/>
<ellipse cx="1132.63" cy="1340.77" rx="11.79" ry="9.79" fill="none" stroke="#46cc46" stroke-width="2.9" opacity="0.12" filter="url(#gb15)"/>
<ellipse cx="1143.24" cy="1386.89" rx="11.04" ry="15.05" fill="none" stroke="#46cc46" stroke-width="2.9" opacity="0.11" filter="url(#gb15)" transform="rotate(-20 1143.24 1386.89)"/>
<ellipse cx="1113.52" cy="1407.35" rx="11.04" ry="13.8" fill="none" stroke="#46cc46" stroke-width="2.9" opacity="0.14" filter="url(#gb15)"/>
<ellipse cx="1167.95" cy="1411.98" rx="11.04" ry="11.04" fill="none" stroke="#46cc46" stroke-width="2.9" opacity="0.15" filter="url(#gb15)"/>
<ellipse cx="1179.72" cy="1439.77" rx="19.57" ry="13.8" fill="none" stroke="#46cc46" stroke-width="2.9" opacity="0.05" filter="url(#gb15)" transform="rotate(10 1179.72 1439.77)"/>
<ellipse cx="1113.52" cy="1455.99" rx="11.79" ry="15.05" fill="none" stroke="#46cc46" stroke-width="2.9" opacity="0.26" filter="url(#gb15)"/>
<ellipse cx="1161" cy="1496.9" rx="13.8" ry="11.79" fill="none" stroke="#46cc46" stroke-width="2.9" opacity="0.24" filter="url(#gb15)" transform="rotate(20 1161 1496.9)"/>
<ellipse cx="1214.27" cy="1368.17" rx="9.79" ry="8.53" fill="none" stroke="#46cc46" stroke-width="2.9" opacity="0.15" filter="url(#gb15)"/>
<ellipse cx="1212.72" cy="1381.68" rx="15.05" ry="8.53" fill="none" stroke="#46cc46" stroke-width="2.9" opacity="0.15" filter="url(#gb15)" transform="rotate(-25 1212.72 1381.68)"/>
<ellipse cx="1250.55" cy="1369.52" rx="9.79" ry="9.79" fill="none" stroke="#46cc46" stroke-width="2.9" opacity="0.14" filter="url(#gb15)"/>
<ellipse cx="1073.57" cy="1365.08" rx="8.62" ry="11" fill="#000" opacity="0.42" filter="url(#gb1)"/>
<ellipse cx="1094.8" cy="1367.98" rx="8.62" ry="11" fill="#000" opacity="0.42" filter="url(#gb1)"/>
<ellipse cx="1132.63" cy="1340.77" rx="8.62" ry="7.15" fill="#000" opacity="0.42" filter="url(#gb1)"/>
<ellipse cx="1160.42" cy="1370.1" rx="9.53" ry="8.62" fill="#000" opacity="0.42" filter="url(#gb1)"/>
<ellipse cx="1143.24" cy="1386.89" rx="8.07" ry="11" fill="#000" opacity="0.42" filter="url(#gb1)" transform="rotate(-20 1143.24 1386.89)"/>
<ellipse cx="1113.52" cy="1407.35" rx="8.07" ry="10.08" fill="#000" opacity="0.42" filter="url(#gb1)"/>
<ellipse cx="1167.95" cy="1411.98" rx="8.07" ry="8.07" fill="#000" opacity="0.42" filter="url(#gb1)"/>
<ellipse cx="1083.8" cy="1427.23" rx="11" ry="8.07" fill="#000" opacity="0.42" filter="url(#gb1)" transform="rotate(25 1083.8 1427.23)"/>
<ellipse cx="1179.72" cy="1439.77" rx="14.3" ry="10.08" fill="#000" opacity="0.42" filter="url(#gb1)" transform="rotate(10 1179.72 1439.77)"/>
<ellipse cx="1113.52" cy="1455.99" rx="8.62" ry="11" fill="#000" opacity="0.42" filter="url(#gb1)"/>
<ellipse cx="1161" cy="1496.9" rx="10.08" ry="8.62" fill="#000" opacity="0.42" filter="url(#gb1)" transform="rotate(20 1161 1496.9)"/>
<ellipse cx="1214.27" cy="1368.17" rx="7.15" ry="6.23" fill="#000" opacity="0.42" filter="url(#gb1)"/>
<ellipse cx="1212.72" cy="1381.68" rx="11" ry="6.23" fill="#000" opacity="0.42" filter="url(#gb1)" transform="rotate(-25 1212.72 1381.68)"/>
<ellipse cx="1250.55" cy="1369.52" rx="7.15" ry="7.15" fill="#000" opacity="0.42" filter="url(#gb1)"/>
<ellipse cx="1252.1" cy="1337.87" rx="5.68" ry="7.15" fill="#000" opacity="0.42" filter="url(#gb1)"/>
<ellipse cx="1225.08" cy="1330.15" rx="11.55" ry="10.08" fill="#000" opacity="0.42" filter="url(#gb1)"/>
<ellipse cx="1221.99" cy="1490.73" rx="8.62" ry="8.07" fill="#000" opacity="0.42" filter="url(#gb1)"/>
<g style="mix-blend-mode:screen">
<ellipse cx="1073.57" cy="1365.08" rx="9.07" ry="11.58" fill="#1a26d8" opacity="1" filter="url(#gb15)"/>
<ellipse cx="1094.8" cy="1367.98" rx="9.07" ry="11.58" fill="#1a26d8" opacity="1" filter="url(#gb15)"/>
<ellipse cx="1132.63" cy="1340.77" rx="9.07" ry="7.53" fill="#1a26d8" opacity="0.95" filter="url(#gb15)"/>
<ellipse cx="1160.42" cy="1370.1" rx="10.04" ry="9.07" fill="#1a26d8" opacity="0.95" filter="url(#gb15)"/>
<ellipse cx="1143.24" cy="1386.89" rx="8.49" ry="11.58" fill="#1a26d8" opacity="1" filter="url(#gb15)" transform="rotate(-20 1143.24 1386.89)"/>
<ellipse cx="1113.52" cy="1407.35" rx="8.49" ry="10.62" fill="#1a26d8" opacity="1" filter="url(#gb15)"/>
<ellipse cx="1167.95" cy="1411.98" rx="8.49" ry="8.49" fill="#1a26d8" opacity="1" filter="url(#gb15)"/>
<ellipse cx="1083.8" cy="1427.23" rx="11.58" ry="8.49" fill="#1a26d8" opacity="1" filter="url(#gb15)" transform="rotate(25 1083.8 1427.23)"/>
<ellipse cx="1179.72" cy="1439.77" rx="15.05" ry="10.62" fill="#1a26d8" opacity="0.85" filter="url(#gb15)" transform="rotate(10 1179.72 1439.77)"/>
<ellipse cx="1113.52" cy="1455.99" rx="9.07" ry="11.58" fill="#1a26d8" opacity="0.95" filter="url(#gb15)"/>
<ellipse cx="1161" cy="1496.9" rx="10.62" ry="9.07" fill="#1a26d8" opacity="0.75" filter="url(#gb15)" transform="rotate(20 1161 1496.9)"/>
<ellipse cx="1214.27" cy="1368.17" rx="7.53" ry="6.56" fill="#1a26d8" opacity="0.85" filter="url(#gb15)"/>
<ellipse cx="1212.72" cy="1381.68" rx="11.58" ry="6.56" fill="#1a26d8" opacity="0.95" filter="url(#gb15)" transform="rotate(-25 1212.72 1381.68)"/>
<ellipse cx="1250.55" cy="1369.52" rx="7.53" ry="7.53" fill="#1a26d8" opacity="0.9" filter="url(#gb15)"/>
<ellipse cx="1252.1" cy="1337.87" rx="5.98" ry="7.53" fill="#1a26d8" opacity="0.9" filter="url(#gb15)"/>
<ellipse cx="1225.08" cy="1330.15" rx="12.16" ry="10.62" fill="#1a26d8" opacity="0.45" filter="url(#gb15)"/>
<ellipse cx="1221.99" cy="1490.73" rx="9.07" ry="8.49" fill="#1a26d8" opacity="0.45" filter="url(#gb15)"/>
</g></g>
<line x1="1234.34" y1="1504.82" x2="1249.78" y2="1504.82" stroke="#ddd" stroke-width="1.2" />
<rect x="665.4" y="1518.6" width="193" height="193" fill="#000"/>
<g clip-path="url(#ct665_1518)">
<path d="M701.53,1540.89 C700.33,1544.55 693.65,1548.91 689.28,1551.97 C684.91,1555.03 680.24,1559.1 675.3,1559.27 C670.37,1559.44 662.4,1556.24 659.68,1552.97 C656.95,1549.7 657.61,1545.32 658.95,1539.66 C660.29,1534 663.39,1523.22 667.69,1519.04 C672,1514.85 679.98,1512.71 684.77,1514.54 C689.56,1516.37 693.64,1525.62 696.43,1530.01 C699.22,1534.4 702.72,1537.23 701.53,1540.89Z" fill="#248024" opacity="0.52" filter="url(#gb2)"/>
<path d="M691.8,1534.65 C693.73,1537.47 694.43,1540.5 692.72,1542.71 C691.02,1544.91 685.71,1548.14 681.58,1547.87 C677.44,1547.61 669.72,1544.11 667.89,1541.11 C666.06,1538.12 668.38,1532.43 670.59,1529.88 C672.79,1527.33 677.59,1525.03 681.13,1525.82 C684.67,1526.62 689.87,1531.84 691.8,1534.65Z" fill="#3aa83a" opacity="0.24" filter="url(#gb2)"/>
<path d="M688,1565.35 C685.09,1567.35 686.99,1569.88 683.3,1570.11 C679.61,1570.33 668.87,1569.28 665.88,1566.71 C662.89,1564.14 664.76,1557.88 665.36,1554.66 C665.96,1551.45 666.93,1549.44 669.49,1547.4 C672.06,1545.37 677.12,1541.64 680.75,1542.45 C684.38,1543.26 687.94,1549.67 691.28,1552.28 C694.61,1554.88 701.3,1555.91 700.76,1558.09 C700.21,1560.27 690.91,1563.34 688,1565.35Z" fill="#248024" opacity="0.38" filter="url(#gb2)"/>
<path d="M681.2,1563.17 C678.34,1563.56 674.58,1564.46 673.08,1562.93 C671.59,1561.39 671.26,1555.73 672.24,1553.94 C673.21,1552.14 676.04,1552.48 678.95,1552.16 C681.87,1551.84 687.87,1550.6 689.75,1552.01 C691.63,1553.41 691.64,1558.73 690.22,1560.59 C688.79,1562.45 684.05,1562.78 681.2,1563.17Z" fill="#3aa83a" opacity="0.17" filter="url(#gb2)"/>
<path d="M712.09,1540.96 C705.91,1540.27 704.94,1537.95 702.41,1535.7 C699.88,1533.44 695.36,1529.85 696.92,1527.44 C698.48,1525.02 707.33,1523.08 711.77,1521.2 C716.22,1519.32 718.09,1515.5 723.6,1516.17 C729.1,1516.84 739.86,1522.75 744.81,1525.22 C749.75,1527.69 754.14,1528.54 753.25,1530.97 C752.37,1533.4 746.36,1538.14 739.5,1539.8 C732.64,1541.47 718.27,1541.64 712.09,1540.96Z" fill="#248024" opacity="0.26" filter="url(#gb2)"/>
<path d="M734.5,1526.9 C738.26,1528.46 744.46,1531.84 742.68,1533.5 C740.9,1535.15 729.83,1536.7 723.83,1536.86 C717.83,1537.02 709.11,1536.06 706.69,1534.46 C704.26,1532.85 707.02,1528.93 709.27,1527.21 C711.51,1525.5 715.95,1524.24 720.16,1524.19 C724.37,1524.13 730.75,1525.35 734.5,1526.9Z" fill="#3aa83a" opacity="0.12" filter="url(#gb2)"/>
<path d="M714.68,1586.66 C710.85,1586.27 708.87,1584.29 706.38,1581.74 C703.89,1579.19 700.62,1575.87 699.76,1571.35 C698.89,1566.82 698.3,1557.45 701.2,1554.59 C704.1,1551.73 712.22,1553.85 717.15,1554.2 C722.08,1554.54 727.23,1553.35 730.76,1556.65 C734.29,1559.96 738.57,1569.43 738.34,1574.01 C738.11,1578.58 733.32,1582 729.38,1584.11 C725.44,1586.22 718.51,1587.06 714.68,1586.66Z" fill="#248024" opacity="0.45" filter="url(#gb2)"/>
<path d="M714.55,1578.02 C711.45,1577.51 707.87,1575.29 706.41,1572.97 C704.95,1570.64 703.47,1565.69 705.79,1564.08 C708.1,1562.46 717.2,1562.63 720.29,1563.27 C723.38,1563.91 723.54,1565.81 724.33,1567.93 C725.13,1570.06 726.67,1574.34 725.04,1576.02 C723.41,1577.7 717.66,1578.53 714.55,1578.02Z" fill="#3aa83a" opacity="0.21" filter="url(#gb2)"/>
<path d="M721.25,1577.93 C722.26,1575.13 724.97,1569.84 728.66,1568.67 C732.36,1567.51 740.1,1569.08 743.43,1570.94 C746.77,1572.8 748.36,1576.94 748.65,1579.85 C748.94,1582.77 747.12,1586.35 745.16,1588.42 C743.19,1590.49 739.64,1591.54 736.86,1592.27 C734.07,1593 730.82,1593.92 728.45,1592.79 C726.08,1591.65 723.84,1587.92 722.64,1585.44 C721.44,1582.97 720.25,1580.72 721.25,1577.93Z" fill="#248024" opacity="0.38" filter="url(#gb2)"/>
<path d="M732.06,1590.78 C729.46,1590.41 725.56,1587.49 724.81,1585.38 C724.06,1583.27 725.96,1579.83 727.54,1578.13 C729.11,1576.43 732.29,1574.95 734.26,1575.18 C736.24,1575.4 738.37,1577.41 739.38,1579.48 C740.4,1581.55 741.59,1585.73 740.37,1587.62 C739.14,1589.5 734.65,1591.15 732.06,1590.78Z" fill="#3aa83a" opacity="0.17" filter="url(#gb2)"/>
<path d="M704.01,1616.25 C700.05,1618.09 691.16,1614.19 685.74,1612.67 C680.32,1611.15 673.48,1610.03 671.49,1607.12 C669.49,1604.21 671.48,1598.34 673.75,1595.22 C676.01,1592.11 681.06,1589.91 685.07,1588.41 C689.08,1586.91 693.74,1585.58 697.81,1586.23 C701.87,1586.88 707.5,1589.75 709.45,1592.32 C711.39,1594.9 710.38,1597.69 709.47,1601.68 C708.57,1605.67 707.96,1614.42 704.01,1616.25Z" fill="#248024" opacity="0.41" filter="url(#gb2)"/>
<path d="M691.18,1592.58 C694.65,1592.1 698.71,1591.7 700.38,1593.42 C702.04,1595.15 702.13,1600.39 701.19,1602.93 C700.25,1605.47 697.81,1608.55 694.76,1608.67 C691.7,1608.8 685.4,1605.74 682.88,1603.67 C680.35,1601.61 678.21,1598.12 679.59,1596.27 C680.97,1594.42 687.72,1593.05 691.18,1592.58Z" fill="#3aa83a" opacity="0.19" filter="url(#gb2)"/>
<path d="M775.34,1612.86 C772.96,1616.84 762.85,1620.64 758.5,1621.58 C754.15,1622.52 752.99,1620.48 749.23,1618.49 C745.48,1616.5 737.35,1615.11 735.98,1609.65 C734.61,1604.19 738.14,1590.29 741.04,1585.71 C743.93,1581.13 748.54,1582.65 753.36,1582.17 C758.17,1581.7 766.69,1580.27 769.93,1582.85 C773.17,1585.44 771.89,1592.68 772.79,1597.69 C773.69,1602.69 777.73,1608.88 775.34,1612.86Z" fill="#248024" opacity="0.38" filter="url(#gb2)"/>
<path d="M748.03,1599.1 C748.28,1595.72 751.95,1589.82 754.57,1588.65 C757.19,1587.47 761.37,1589.98 763.74,1592.06 C766.12,1594.13 769.32,1597.48 768.82,1601.12 C768.32,1604.76 763.37,1612.62 760.75,1613.92 C758.12,1615.22 755.19,1611.39 753.07,1608.92 C750.95,1606.45 747.78,1602.48 748.03,1599.1Z" fill="#3aa83a" opacity="0.17" filter="url(#gb2)"/>
<path d="M677.84,1624.87 C683.22,1621.69 699.82,1618.31 708.04,1618.47 C716.25,1618.62 723.19,1622.46 727.15,1625.8 C731.1,1629.15 732.41,1634.71 731.77,1638.52 C731.14,1642.34 728.14,1645.2 723.34,1648.71 C718.54,1652.22 708.76,1659.31 702.97,1659.57 C697.19,1659.83 693.18,1653.93 688.64,1650.27 C684.11,1646.6 677.57,1641.8 675.77,1637.57 C673.97,1633.34 672.46,1628.06 677.84,1624.87Z" fill="#248024" opacity="0.45" filter="url(#gb2)"/>
<path d="M714.49,1629.1 C719.25,1630.73 722.17,1633.91 721.25,1637.24 C720.33,1640.58 712.7,1647.36 708.96,1649.12 C705.23,1650.89 702.93,1649.65 698.84,1647.82 C694.75,1645.99 685.46,1641.54 684.44,1638.14 C683.42,1634.74 687.71,1628.95 692.72,1627.45 C697.72,1625.94 709.74,1627.47 714.49,1629.1Z" fill="#3aa83a" opacity="0.21" filter="url(#gb2)"/>
<path d="M772.91,1657.7 C768.14,1660.11 763.21,1656.95 758.22,1655.06 C753.23,1653.17 747.8,1648.83 743,1646.37 C738.19,1643.91 730.02,1643.88 729.39,1640.3 C728.76,1636.73 734.71,1628.16 739.22,1624.94 C743.73,1621.72 751,1620.41 756.46,1621.01 C761.91,1621.6 766.9,1625.25 771.97,1628.51 C777.03,1631.78 786.68,1635.72 786.83,1640.58 C786.99,1645.45 777.68,1655.28 772.91,1657.7Z" fill="#248024" opacity="0.45" filter="url(#gb2)"/>
<path d="M769.47,1631.33 C771.71,1633.8 773.33,1641.96 771.39,1645.11 C769.45,1648.27 761.86,1650.21 757.81,1650.27 C753.77,1650.32 749.3,1648.83 747.12,1645.45 C744.94,1642.06 742.94,1632.48 744.75,1629.95 C746.56,1627.42 753.85,1630.04 757.97,1630.27 C762.09,1630.5 767.23,1628.85 769.47,1631.33Z" fill="#3aa83a" opacity="0.21" filter="url(#gb2)"/>
<path d="M821.71,1557.38 C819.38,1560.75 819.07,1563.54 815.64,1564.01 C812.22,1564.49 804.35,1562.08 801.18,1560.23 C798.02,1558.37 796.97,1555.92 796.66,1552.9 C796.36,1549.87 797.69,1545.9 799.36,1542.08 C801.03,1538.25 802.23,1530.85 806.69,1529.96 C811.14,1529.06 822.29,1534.39 826.11,1536.69 C829.94,1539 830.35,1540.34 829.61,1543.78 C828.88,1547.23 824.04,1554.01 821.71,1557.38Z" fill="#248024" opacity="0.6" filter="url(#gb2)"/>
<path d="M806.05,1559.36 C803.76,1558.05 801.37,1551.95 801.49,1548.78 C801.6,1545.61 804.22,1541.35 806.76,1540.32 C809.29,1539.3 814.15,1540.82 816.68,1542.66 C819.21,1544.49 822.21,1549 821.95,1551.33 C821.7,1553.66 817.83,1555.29 815.18,1556.63 C812.53,1557.97 808.33,1560.67 806.05,1559.36Z" fill="#3aa83a" opacity="0.28" filter="url(#gb2)"/>
<path d="M816.35,1561.78 C819.69,1562.56 821.29,1563.68 823.84,1566.16 C826.39,1568.65 831.6,1573.06 831.64,1576.67 C831.68,1580.27 827.48,1585.8 824.08,1587.79 C820.69,1589.78 815.33,1590.31 811.26,1588.63 C807.18,1586.95 801.8,1581.47 799.63,1577.72 C797.47,1573.96 797.58,1568.79 798.27,1566.08 C798.96,1563.37 800.74,1562.17 803.75,1561.45 C806.77,1560.74 813,1560.99 816.35,1561.78Z" fill="#248024" opacity="0.6" filter="url(#gb2)"/>
<path d="M814.8,1564.96 C816.98,1564.79 819.6,1566.32 820.89,1568.03 C822.17,1569.73 823.43,1572.85 822.52,1575.21 C821.61,1577.57 817.74,1581.99 815.41,1582.2 C813.09,1582.42 809.86,1578.7 808.59,1576.51 C807.31,1574.32 806.73,1570.97 807.77,1569.05 C808.8,1567.12 812.61,1565.13 814.8,1564.96Z" fill="#3aa83a" opacity="0.28" filter="url(#gb2)"/>
<path d="M779.73,1586.28 C780.78,1584.06 782.5,1582.97 785.06,1581.89 C787.62,1580.82 792.36,1579.23 795.09,1579.81 C797.82,1580.39 799.86,1583.3 801.46,1585.37 C803.06,1587.44 804.94,1590.19 804.68,1592.22 C804.42,1594.26 802.78,1596.52 799.91,1597.59 C797.04,1598.66 790.99,1599.02 787.47,1598.63 C783.94,1598.23 780.04,1597.28 778.75,1595.22 C777.46,1593.16 778.67,1588.5 779.73,1586.28Z" fill="#248024" opacity="0.6" filter="url(#gb2)"/>
<path d="M794.39,1596.68 C792.2,1597.19 789.05,1595.34 787.32,1593.72 C785.58,1592.09 783.44,1588.51 783.98,1586.95 C784.53,1585.38 788.22,1584.44 790.59,1584.33 C792.97,1584.22 796.58,1585.22 798.23,1586.28 C799.87,1587.34 801.11,1588.94 800.47,1590.68 C799.83,1592.41 796.58,1596.17 794.39,1596.68Z" fill="#3aa83a" opacity="0.28" filter="url(#gb2)"/>
<path d="M862.05,1565.73 C861.17,1568.29 859.21,1574.12 856.7,1575.7 C854.19,1577.27 848.9,1576.2 846.98,1575.2 C845.06,1574.2 845.54,1572.14 845.17,1569.69 C844.8,1567.24 844.35,1563.53 844.74,1560.52 C845.14,1557.5 845.61,1553.96 847.53,1551.59 C849.44,1549.22 853.84,1544.83 856.24,1546.29 C858.64,1547.74 860.97,1557.07 861.94,1560.31 C862.9,1563.55 862.92,1563.17 862.05,1565.73Z" fill="#248024" opacity="0.38" filter="url(#gb2)"/>
<path d="M856.8,1560.02 C857.3,1561.77 857.23,1565.39 856.33,1566.87 C855.43,1568.36 853.16,1569 851.41,1568.94 C849.66,1568.87 846.54,1568.32 845.86,1566.49 C845.19,1564.66 846.13,1559.64 847.37,1557.96 C848.62,1556.28 851.75,1556.04 853.32,1556.39 C854.89,1556.73 856.3,1558.27 856.8,1560.02Z" fill="#3aa83a" opacity="0.17" filter="url(#gb2)"/>
<path d="M857.68,1666.45 C855.36,1667.67 853,1661.26 851.25,1658.54 C849.5,1655.82 848.46,1654.75 847.18,1650.12 C845.89,1645.5 843.15,1634.94 843.55,1630.82 C843.95,1626.69 847.03,1625.9 849.57,1625.38 C852.12,1624.87 856.72,1625.75 858.82,1627.72 C860.93,1629.7 861.16,1633.32 862.21,1637.23 C863.27,1641.15 865.92,1646.36 865.17,1651.23 C864.41,1656.1 860,1665.23 857.68,1666.45Z" fill="#248024" opacity="0.45" filter="url(#gb2)"/>
<path d="M855.43,1650.97 C853.78,1652 850.79,1652.42 849.52,1650.5 C848.24,1648.58 847.11,1642.53 847.78,1639.44 C848.46,1636.35 851.81,1632.65 853.58,1631.98 C855.35,1631.31 857.45,1633.37 858.43,1635.42 C859.4,1637.47 859.95,1641.7 859.45,1644.29 C858.95,1646.88 857.09,1649.93 855.43,1650.97Z" fill="#3aa83a" opacity="0.21" filter="url(#gb2)"/>
<path d="M756.03,1565.03 C756.33,1561.42 754.52,1554.04 757.62,1551.34 C760.73,1548.63 768.84,1548.27 774.66,1548.79 C780.48,1549.32 789.65,1551.48 792.54,1554.51 C795.44,1557.54 793.73,1563.1 792.04,1566.99 C790.35,1570.87 786.64,1574.95 782.41,1577.81 C778.18,1580.68 771.09,1584.98 766.65,1584.18 C762.22,1583.37 757.56,1576.18 755.79,1572.99 C754.02,1569.8 755.72,1568.63 756.03,1565.03Z" fill="#248024" opacity="0.26" filter="url(#gb2)"/>
<path d="M759.29,1563.96 C759.16,1561.43 762.78,1558.14 766.1,1556.76 C769.42,1555.38 776.06,1554.07 779.22,1555.68 C782.38,1557.3 784.75,1563.57 785.07,1566.46 C785.38,1569.36 784.16,1572.16 781.13,1573.07 C778.09,1573.99 770.51,1573.46 766.88,1571.94 C763.24,1570.42 759.42,1566.49 759.29,1563.96Z" fill="#3aa83a" opacity="0.12" filter="url(#gb2)"/>
<path d="M763.84,1631.95 C761.42,1640.77 752.97,1649.15 744.22,1651.22 C735.47,1653.3 719.02,1649.91 711.34,1644.42 C703.67,1638.93 701.76,1628.12 698.14,1618.3 C694.52,1608.48 688.2,1593.21 689.65,1585.52 C691.09,1577.82 695.44,1573.48 706.82,1572.13 C718.21,1570.78 749.3,1573.06 757.96,1577.42 C766.62,1581.78 757.8,1589.2 758.78,1598.29 C759.76,1607.38 766.27,1623.13 763.84,1631.95Z" fill="#248024" opacity="0.17" filter="url(#gb2)"/>
<path d="M726.75,1588.68 C733.92,1587.35 741.98,1595.41 746.14,1600.44 C750.31,1605.46 753.32,1613.22 751.73,1618.83 C750.15,1624.44 743.92,1633.27 736.63,1634.12 C729.34,1634.97 713.58,1628.21 707.99,1623.93 C702.41,1619.65 699.97,1614.33 703.1,1608.45 C706.23,1602.58 719.58,1590.02 726.75,1588.68Z" fill="#3aa83a" opacity="0.08" filter="url(#gb2)"/>
<path d="M783.06,1521.23 C787.34,1519.73 790.48,1513.3 793.29,1516.1 C796.09,1518.9 799.12,1531.66 799.87,1538.04 C800.61,1544.41 799.91,1550.39 797.76,1554.34 C795.62,1558.3 790.79,1561.82 786.99,1561.79 C783.2,1561.76 778.47,1557.7 774.99,1554.16 C771.51,1550.61 767.34,1545.36 766.12,1540.52 C764.89,1535.67 764.8,1528.28 767.62,1525.07 C770.44,1521.86 778.78,1522.73 783.06,1521.23Z" fill="#248024" opacity="0.3" filter="url(#gb2)"/>
<path d="M775.44,1538.68 C774.53,1535.19 775.14,1530.38 777.46,1528.69 C779.78,1526.99 786.75,1527.14 789.37,1528.52 C792,1529.89 793.12,1534.1 793.2,1536.95 C793.29,1539.79 791.6,1543.49 789.89,1545.61 C788.17,1547.73 785.32,1550.81 782.92,1549.66 C780.51,1548.5 776.35,1542.18 775.44,1538.68Z" fill="#3aa83a" opacity="0.14" filter="url(#gb2)"/>
<path d="M859.4,1540.7 C858.71,1543.81 856.76,1547.3 854.42,1550.54 C852.07,1553.78 847.84,1561.26 845.33,1560.13 C842.81,1559 840.23,1548.27 839.35,1543.74 C838.48,1539.21 840.02,1537.12 840.09,1532.96 C840.16,1528.8 837.71,1520.88 839.77,1518.78 C841.82,1516.68 849.28,1518.18 852.41,1520.37 C855.54,1522.55 857.38,1528.51 858.54,1531.9 C859.71,1535.29 860.09,1537.59 859.4,1540.7Z" fill="#248024" opacity="0.3" filter="url(#gb2)"/>
<path d="M856.52,1542 C855.65,1545.09 850.47,1550.44 848.08,1550.72 C845.69,1551 842.93,1546.8 842.16,1543.67 C841.39,1540.54 842.47,1534.65 843.45,1531.95 C844.44,1529.24 846.44,1527.4 848.08,1527.44 C849.72,1527.47 851.9,1529.74 853.31,1532.16 C854.71,1534.59 857.39,1538.91 856.52,1542Z" fill="#3aa83a" opacity="0.14" filter="url(#gb2)"/>
<path d="M688.55,1560.76 C694.14,1561.61 696.83,1560.68 700.3,1564.08 C703.77,1567.47 709.45,1576.41 709.38,1581.13 C709.31,1585.86 704.39,1589.86 699.88,1592.42 C695.38,1594.99 687.59,1596.72 682.34,1596.51 C677.09,1596.31 671.29,1594.72 668.38,1591.18 C665.47,1587.64 665.17,1580.62 664.9,1575.26 C664.63,1569.89 662.82,1561.4 666.76,1558.99 C670.7,1556.57 682.96,1559.91 688.55,1560.76Z" fill="#248024" opacity="0.22" filter="url(#gb2)"/>
<path d="M686.22,1563.5 C689.1,1564.89 692.9,1571.72 693.88,1575.71 C694.86,1579.71 694.09,1585.59 692.1,1587.47 C690.11,1589.35 685,1588.52 681.96,1587 C678.92,1585.48 674.75,1581.65 673.85,1578.37 C672.96,1575.1 674.54,1569.85 676.6,1567.37 C678.66,1564.89 683.34,1562.11 686.22,1563.5Z" fill="#3aa83a" opacity="0.1" filter="url(#gb2)"/>
<ellipse cx="741.06" cy="1525.55" rx="15.05" ry="9.79" fill="none" stroke="#46cc46" stroke-width="2.9" opacity="0.13" filter="url(#gb15)"/>
<ellipse cx="680.45" cy="1537.71" rx="15.05" ry="12.55" fill="none" stroke="#46cc46" stroke-width="2.9" opacity="0.27" filter="url(#gb15)"/>
<ellipse cx="680.45" cy="1557.2" rx="11.04" ry="7.78" fill="none" stroke="#46cc46" stroke-width="2.9" opacity="0.19" filter="url(#gb15)"/>
<ellipse cx="713.84" cy="1575.53" rx="13.8" ry="9.79" fill="none" stroke="#46cc46" stroke-width="2.9" opacity="0.23" filter="url(#gb15)"/>
<ellipse cx="727.35" cy="1584.03" rx="8.53" ry="6.02" fill="none" stroke="#46cc46" stroke-width="2.9" opacity="0.19" filter="url(#gb15)" transform="rotate(20 727.35 1584.03)"/>
<ellipse cx="769.81" cy="1564.92" rx="17.56" ry="13.8" fill="none" stroke="#46cc46" stroke-width="2.9" opacity="0.13" filter="url(#gb15)"/>
<ellipse cx="792.39" cy="1589.04" rx="11.79" ry="7.78" fill="none" stroke="#46cc46" stroke-width="2.9" opacity="0.3" filter="url(#gb15)"/>
<ellipse cx="816.13" cy="1551.22" rx="12.55" ry="9.79" fill="none" stroke="#46cc46" stroke-width="2.9" opacity="0.3" filter="url(#gb15)"/>
<ellipse cx="815.17" cy="1573.99" rx="12.55" ry="9.79" fill="none" stroke="#46cc46" stroke-width="2.9" opacity="0.3" filter="url(#gb15)"/>
<ellipse cx="691.07" cy="1595.22" rx="15.05" ry="11.04" fill="none" stroke="#46cc46" stroke-width="2.9" opacity="0.21" filter="url(#gb15)"/>
<ellipse cx="765.18" cy="1607.19" rx="11.04" ry="13.8" fill="none" stroke="#46cc46" stroke-width="2.9" opacity="0.19" filter="url(#gb15)"/>
<ellipse cx="853" cy="1527.09" rx="7.03" ry="8.53" fill="none" stroke="#46cc46" stroke-width="2.9" opacity="0.15" filter="url(#gb15)"/>
<ellipse cx="853" cy="1563.38" rx="6.02" ry="6.02" fill="none" stroke="#46cc46" stroke-width="2.9" opacity="0.19" filter="url(#gb15)"/>
<ellipse cx="701.68" cy="1639.03" rx="18.82" ry="12.55" fill="none" stroke="#46cc46" stroke-width="2.9" opacity="0.23" filter="url(#gb15)"/>
<ellipse cx="759.97" cy="1639.03" rx="15.05" ry="12.55" fill="none" stroke="#46cc46" stroke-width="2.9" opacity="0.23" filter="url(#gb15)"/>
<ellipse cx="853" cy="1642.12" rx="6.02" ry="13.8" fill="none" stroke="#46cc46" stroke-width="2.9" opacity="0.23" filter="url(#gb15)"/>
<ellipse cx="741.06" cy="1525.55" rx="11" ry="7.15" fill="#000" opacity="0.42" filter="url(#gb1)"/>
<ellipse cx="680.45" cy="1537.71" rx="11" ry="9.17" fill="#000" opacity="0.42" filter="url(#gb1)"/>
<ellipse cx="680.45" cy="1557.2" rx="8.07" ry="5.68" fill="#000" opacity="0.42" filter="url(#gb1)"/>
<ellipse cx="713.84" cy="1575.53" rx="10.08" ry="7.15" fill="#000" opacity="0.42" filter="url(#gb1)"/>
<ellipse cx="727.35" cy="1584.03" rx="6.23" ry="4.4" fill="#000" opacity="0.42" filter="url(#gb1)" transform="rotate(20 727.35 1584.03)"/>
<ellipse cx="741.63" cy="1563.38" rx="5.13" ry="4.4" fill="#000" opacity="0.42" filter="url(#gb1)"/>
<ellipse cx="769.81" cy="1564.92" rx="12.83" ry="10.08" fill="#000" opacity="0.42" filter="url(#gb1)"/>
<ellipse cx="792.39" cy="1589.04" rx="8.62" ry="5.68" fill="#000" opacity="0.42" filter="url(#gb1)"/>
<ellipse cx="816.13" cy="1551.22" rx="9.17" ry="7.15" fill="#000" opacity="0.42" filter="url(#gb1)"/>
<ellipse cx="819.61" cy="1531.53" rx="5.68" ry="3.48" fill="#000" opacity="0.42" filter="url(#gb1)"/>
<ellipse cx="815.17" cy="1573.99" rx="9.17" ry="7.15" fill="#000" opacity="0.42" filter="url(#gb1)"/>
<ellipse cx="691.07" cy="1595.22" rx="11" ry="8.07" fill="#000" opacity="0.42" filter="url(#gb1)"/>
<ellipse cx="765.18" cy="1607.19" rx="8.07" ry="10.08" fill="#000" opacity="0.42" filter="url(#gb1)"/>
<ellipse cx="853" cy="1527.09" rx="5.13" ry="6.23" fill="#000" opacity="0.42" filter="url(#gb1)"/>
<ellipse cx="853" cy="1563.38" rx="4.4" ry="4.4" fill="#000" opacity="0.42" filter="url(#gb1)"/>
<ellipse cx="701.68" cy="1639.03" rx="13.75" ry="9.17" fill="#000" opacity="0.42" filter="url(#gb1)"/>
<ellipse cx="759.97" cy="1639.03" rx="11" ry="9.17" fill="#000" opacity="0.42" filter="url(#gb1)"/>
<ellipse cx="853" cy="1642.12" rx="4.4" ry="10.08" fill="#000" opacity="0.42" filter="url(#gb1)"/>
<ellipse cx="730.44" cy="1687.47" rx="10.08" ry="11.55" fill="#000" opacity="0.42" filter="url(#gb1)"/>
<ellipse cx="793.94" cy="1703.88" rx="11.55" ry="8.62" fill="#000" opacity="0.42" filter="url(#gb1)"/>
<ellipse cx="854.54" cy="1696.16" rx="4.4" ry="7.33" fill="#000" opacity="0.42" filter="url(#gb1)"/>
</g>
<line x1="835.24" y1="1702.91" x2="850.68" y2="1702.91" stroke="#ddd" stroke-width="1.2" />
<rect x="866.1" y="1518.6" width="193" height="193" fill="#00000c"/>
<g clip-path="url(#ct866_1518)">
<ellipse cx="941.76" cy="1525.55" rx="11.58" ry="7.53" fill="#1a26d8" opacity="0.9" filter="url(#gb15)"/>
<ellipse cx="881.15" cy="1537.71" rx="11.58" ry="9.65" fill="#1a26d8" opacity="0.9" filter="url(#gb15)"/>
<ellipse cx="881.15" cy="1557.2" rx="8.49" ry="5.98" fill="#1a26d8" opacity="0.9" filter="url(#gb15)"/>
<ellipse cx="914.54" cy="1575.53" rx="10.62" ry="7.53" fill="#1a26d8" opacity="0.9" filter="url(#gb15)"/>
<ellipse cx="928.05" cy="1584.03" rx="6.56" ry="4.63" fill="#1a26d8" opacity="0.9" filter="url(#gb15)" transform="rotate(20 928.05 1584.03)"/>
<ellipse cx="942.34" cy="1563.38" rx="5.4" ry="4.63" fill="#1a26d8" opacity="0.8" filter="url(#gb15)"/>
<ellipse cx="970.51" cy="1564.92" rx="13.51" ry="10.62" fill="#1a26d8" opacity="0.9" filter="url(#gb15)"/>
<ellipse cx="993.09" cy="1589.04" rx="9.07" ry="5.98" fill="#1a26d8" opacity="0.95" filter="url(#gb15)"/>
<ellipse cx="1016.83" cy="1551.22" rx="9.65" ry="7.53" fill="#1a26d8" opacity="0.9" filter="url(#gb15)"/>
<ellipse cx="1020.31" cy="1531.53" rx="5.98" ry="3.67" fill="#1a26d8" opacity="0.9" filter="url(#gb15)"/>
<ellipse cx="1015.87" cy="1573.99" rx="9.65" ry="7.53" fill="#1a26d8" opacity="0.9" filter="url(#gb15)"/>
<ellipse cx="891.77" cy="1595.22" rx="11.58" ry="8.49" fill="#1a26d8" opacity="0.9" filter="url(#gb15)"/>
<ellipse cx="965.88" cy="1607.19" rx="8.49" ry="10.62" fill="#1a26d8" opacity="0.95" filter="url(#gb15)"/>
<ellipse cx="1053.7" cy="1527.09" rx="5.4" ry="6.56" fill="#1a26d8" opacity="0.9" filter="url(#gb15)"/>
<ellipse cx="1053.7" cy="1563.38" rx="4.63" ry="4.63" fill="#1a26d8" opacity="0.9" filter="url(#gb15)"/>
<ellipse cx="902.38" cy="1639.03" rx="14.47" ry="9.65" fill="#1a26d8" opacity="0.8" filter="url(#gb15)"/>
<ellipse cx="960.67" cy="1639.03" rx="11.58" ry="9.65" fill="#1a26d8" opacity="0.85" filter="url(#gb15)"/>
<ellipse cx="1053.7" cy="1642.12" rx="4.63" ry="10.62" fill="#1a26d8" opacity="0.8" filter="url(#gb15)"/>
<ellipse cx="931.14" cy="1687.47" rx="10.62" ry="12.16" fill="#1a26d8" opacity="0.5" filter="url(#gb15)"/>
<ellipse cx="994.64" cy="1703.88" rx="12.16" ry="9.07" fill="#1a26d8" opacity="0.45" filter="url(#gb15)"/>
<ellipse cx="1055.24" cy="1696.16" rx="4.63" ry="7.72" fill="#1a26d8" opacity="0.4" filter="url(#gb15)"/>
</g>
<line x1="1035.94" y1="1702.91" x2="1051.38" y2="1702.91" stroke="#ddd" stroke-width="1.2" />
<rect x="1064.5" y="1518.6" width="193" height="193" fill="#00000a"/>
<g clip-path="url(#ct1064_1518)" style="isolation:isolate">
<path d="M1100.63,1540.89 C1099.43,1544.55 1092.75,1548.91 1088.38,1551.97 C1084.01,1555.03 1079.34,1559.1 1074.4,1559.27 C1069.47,1559.44 1061.5,1556.24 1058.78,1552.97 C1056.05,1549.7 1056.71,1545.32 1058.05,1539.66 C1059.39,1534 1062.49,1523.22 1066.79,1519.04 C1071.1,1514.85 1079.08,1512.71 1083.87,1514.54 C1088.66,1516.37 1092.74,1525.62 1095.53,1530.01 C1098.32,1534.4 1101.82,1537.23 1100.63,1540.89Z" fill="#248024" opacity="0.52" filter="url(#gb2)"/>
<path d="M1090.9,1534.65 C1092.83,1537.47 1093.53,1540.5 1091.82,1542.71 C1090.12,1544.91 1084.81,1548.14 1080.68,1547.87 C1076.54,1547.61 1068.82,1544.11 1066.99,1541.11 C1065.16,1538.12 1067.48,1532.43 1069.69,1529.88 C1071.89,1527.33 1076.69,1525.03 1080.23,1525.82 C1083.77,1526.62 1088.97,1531.84 1090.9,1534.65Z" fill="#3aa83a" opacity="0.24" filter="url(#gb2)"/>
<path d="M1087.1,1565.35 C1084.19,1567.35 1086.09,1569.88 1082.4,1570.11 C1078.71,1570.33 1067.97,1569.28 1064.98,1566.71 C1061.99,1564.14 1063.86,1557.88 1064.46,1554.66 C1065.06,1551.45 1066.03,1549.44 1068.59,1547.4 C1071.16,1545.37 1076.22,1541.64 1079.85,1542.45 C1083.48,1543.26 1087.04,1549.67 1090.38,1552.28 C1093.71,1554.88 1100.4,1555.91 1099.86,1558.09 C1099.31,1560.27 1090.01,1563.34 1087.1,1565.35Z" fill="#248024" opacity="0.38" filter="url(#gb2)"/>
<path d="M1080.3,1563.17 C1077.44,1563.56 1073.68,1564.46 1072.18,1562.93 C1070.69,1561.39 1070.36,1555.73 1071.34,1553.94 C1072.31,1552.14 1075.14,1552.48 1078.05,1552.16 C1080.97,1551.84 1086.97,1550.6 1088.85,1552.01 C1090.73,1553.41 1090.74,1558.73 1089.32,1560.59 C1087.89,1562.45 1083.15,1562.78 1080.3,1563.17Z" fill="#3aa83a" opacity="0.17" filter="url(#gb2)"/>
<path d="M1111.19,1540.96 C1105.01,1540.27 1104.04,1537.95 1101.51,1535.7 C1098.98,1533.44 1094.46,1529.85 1096.02,1527.44 C1097.58,1525.02 1106.43,1523.08 1110.87,1521.2 C1115.32,1519.32 1117.19,1515.5 1122.7,1516.17 C1128.2,1516.84 1138.96,1522.75 1143.91,1525.22 C1148.85,1527.69 1153.24,1528.54 1152.35,1530.97 C1151.47,1533.4 1145.46,1538.14 1138.6,1539.8 C1131.74,1541.47 1117.37,1541.64 1111.19,1540.96Z" fill="#248024" opacity="0.26" filter="url(#gb2)"/>
<path d="M1133.6,1526.9 C1137.36,1528.46 1143.56,1531.84 1141.78,1533.5 C1140,1535.15 1128.93,1536.7 1122.93,1536.86 C1116.93,1537.02 1108.21,1536.06 1105.79,1534.46 C1103.36,1532.85 1106.12,1528.93 1108.37,1527.21 C1110.61,1525.5 1115.05,1524.24 1119.26,1524.19 C1123.47,1524.13 1129.85,1525.35 1133.6,1526.9Z" fill="#3aa83a" opacity="0.12" filter="url(#gb2)"/>
<path d="M1113.78,1586.66 C1109.95,1586.27 1107.97,1584.29 1105.48,1581.74 C1102.99,1579.19 1099.72,1575.87 1098.86,1571.35 C1097.99,1566.82 1097.4,1557.45 1100.3,1554.59 C1103.2,1551.73 1111.32,1553.85 1116.25,1554.2 C1121.18,1554.54 1126.33,1553.35 1129.86,1556.65 C1133.39,1559.96 1137.67,1569.43 1137.44,1574.01 C1137.21,1578.58 1132.42,1582 1128.48,1584.11 C1124.54,1586.22 1117.61,1587.06 1113.78,1586.66Z" fill="#248024" opacity="0.45" filter="url(#gb2)"/>
<path d="M1113.65,1578.02 C1110.55,1577.51 1106.97,1575.29 1105.51,1572.97 C1104.05,1570.64 1102.57,1565.69 1104.89,1564.08 C1107.2,1562.46 1116.3,1562.63 1119.39,1563.27 C1122.48,1563.91 1122.64,1565.81 1123.43,1567.93 C1124.23,1570.06 1125.77,1574.34 1124.14,1576.02 C1122.51,1577.7 1116.76,1578.53 1113.65,1578.02Z" fill="#3aa83a" opacity="0.21" filter="url(#gb2)"/>
<path d="M1120.35,1577.93 C1121.36,1575.13 1124.07,1569.84 1127.76,1568.67 C1131.46,1567.51 1139.2,1569.08 1142.53,1570.94 C1145.87,1572.8 1147.46,1576.94 1147.75,1579.85 C1148.04,1582.77 1146.22,1586.35 1144.26,1588.42 C1142.29,1590.49 1138.74,1591.54 1135.96,1592.27 C1133.17,1593 1129.92,1593.92 1127.55,1592.79 C1125.18,1591.65 1122.94,1587.92 1121.74,1585.44 C1120.54,1582.97 1119.35,1580.72 1120.35,1577.93Z" fill="#248024" opacity="0.38" filter="url(#gb2)"/>
<path d="M1131.16,1590.78 C1128.56,1590.41 1124.66,1587.49 1123.91,1585.38 C1123.16,1583.27 1125.06,1579.83 1126.64,1578.13 C1128.21,1576.43 1131.39,1574.95 1133.36,1575.18 C1135.34,1575.4 1137.47,1577.41 1138.48,1579.48 C1139.5,1581.55 1140.69,1585.73 1139.47,1587.62 C1138.24,1589.5 1133.75,1591.15 1131.16,1590.78Z" fill="#3aa83a" opacity="0.17" filter="url(#gb2)"/>
<path d="M1103.11,1616.25 C1099.15,1618.09 1090.26,1614.19 1084.84,1612.67 C1079.42,1611.15 1072.58,1610.03 1070.59,1607.12 C1068.59,1604.21 1070.58,1598.34 1072.85,1595.22 C1075.11,1592.11 1080.16,1589.91 1084.17,1588.41 C1088.18,1586.91 1092.84,1585.58 1096.91,1586.23 C1100.97,1586.88 1106.6,1589.75 1108.55,1592.32 C1110.49,1594.9 1109.48,1597.69 1108.57,1601.68 C1107.67,1605.67 1107.06,1614.42 1103.11,1616.25Z" fill="#248024" opacity="0.41" filter="url(#gb2)"/>
<path d="M1090.28,1592.58 C1093.75,1592.1 1097.81,1591.7 1099.48,1593.42 C1101.14,1595.15 1101.23,1600.39 1100.29,1602.93 C1099.35,1605.47 1096.91,1608.55 1093.86,1608.67 C1090.8,1608.8 1084.5,1605.74 1081.98,1603.67 C1079.45,1601.61 1077.31,1598.12 1078.69,1596.27 C1080.07,1594.42 1086.82,1593.05 1090.28,1592.58Z" fill="#3aa83a" opacity="0.19" filter="url(#gb2)"/>
<path d="M1174.44,1612.86 C1172.06,1616.84 1161.95,1620.64 1157.6,1621.58 C1153.25,1622.52 1152.09,1620.48 1148.33,1618.49 C1144.58,1616.5 1136.45,1615.11 1135.08,1609.65 C1133.71,1604.19 1137.24,1590.29 1140.14,1585.71 C1143.03,1581.13 1147.64,1582.65 1152.46,1582.17 C1157.27,1581.7 1165.79,1580.27 1169.03,1582.85 C1172.27,1585.44 1170.99,1592.68 1171.89,1597.69 C1172.79,1602.69 1176.83,1608.88 1174.44,1612.86Z" fill="#248024" opacity="0.38" filter="url(#gb2)"/>
<path d="M1147.13,1599.1 C1147.38,1595.72 1151.05,1589.82 1153.67,1588.65 C1156.29,1587.47 1160.47,1589.98 1162.84,1592.06 C1165.22,1594.13 1168.42,1597.48 1167.92,1601.12 C1167.42,1604.76 1162.47,1612.62 1159.85,1613.92 C1157.22,1615.22 1154.29,1611.39 1152.17,1608.92 C1150.05,1606.45 1146.88,1602.48 1147.13,1599.1Z" fill="#3aa83a" opacity="0.17" filter="url(#gb2)"/>
<path d="M1076.94,1624.87 C1082.32,1621.69 1098.92,1618.31 1107.14,1618.47 C1115.35,1618.62 1122.29,1622.46 1126.25,1625.8 C1130.2,1629.15 1131.51,1634.71 1130.87,1638.52 C1130.24,1642.34 1127.24,1645.2 1122.44,1648.71 C1117.64,1652.22 1107.86,1659.31 1102.07,1659.57 C1096.29,1659.83 1092.28,1653.93 1087.74,1650.27 C1083.21,1646.6 1076.67,1641.8 1074.87,1637.57 C1073.07,1633.34 1071.56,1628.06 1076.94,1624.87Z" fill="#248024" opacity="0.45" filter="url(#gb2)"/>
<path d="M1113.59,1629.1 C1118.35,1630.73 1121.27,1633.91 1120.35,1637.24 C1119.43,1640.58 1111.8,1647.36 1108.06,1649.12 C1104.33,1650.89 1102.03,1649.65 1097.94,1647.82 C1093.85,1645.99 1084.56,1641.54 1083.54,1638.14 C1082.52,1634.74 1086.81,1628.95 1091.82,1627.45 C1096.82,1625.94 1108.84,1627.47 1113.59,1629.1Z" fill="#3aa83a" opacity="0.21" filter="url(#gb2)"/>
<path d="M1172.01,1657.7 C1167.24,1660.11 1162.31,1656.95 1157.32,1655.06 C1152.33,1653.17 1146.9,1648.83 1142.1,1646.37 C1137.29,1643.91 1129.12,1643.88 1128.49,1640.3 C1127.86,1636.73 1133.81,1628.16 1138.32,1624.94 C1142.83,1621.72 1150.1,1620.41 1155.56,1621.01 C1161.01,1621.6 1166,1625.25 1171.07,1628.51 C1176.13,1631.78 1185.78,1635.72 1185.93,1640.58 C1186.09,1645.45 1176.78,1655.28 1172.01,1657.7Z" fill="#248024" opacity="0.45" filter="url(#gb2)"/>
<path d="M1168.57,1631.33 C1170.81,1633.8 1172.43,1641.96 1170.49,1645.11 C1168.55,1648.27 1160.96,1650.21 1156.91,1650.27 C1152.87,1650.32 1148.4,1648.83 1146.22,1645.45 C1144.04,1642.06 1142.04,1632.48 1143.85,1629.95 C1145.66,1627.42 1152.95,1630.04 1157.07,1630.27 C1161.19,1630.5 1166.33,1628.85 1168.57,1631.33Z" fill="#3aa83a" opacity="0.21" filter="url(#gb2)"/>
<path d="M1220.81,1557.38 C1218.48,1560.75 1218.17,1563.54 1214.74,1564.01 C1211.32,1564.49 1203.45,1562.08 1200.28,1560.23 C1197.12,1558.37 1196.07,1555.92 1195.76,1552.9 C1195.46,1549.87 1196.79,1545.9 1198.46,1542.08 C1200.13,1538.25 1201.33,1530.85 1205.79,1529.96 C1210.24,1529.06 1221.39,1534.39 1225.21,1536.69 C1229.04,1539 1229.45,1540.34 1228.71,1543.78 C1227.98,1547.23 1223.14,1554.01 1220.81,1557.38Z" fill="#248024" opacity="0.6" filter="url(#gb2)"/>
<path d="M1205.15,1559.36 C1202.86,1558.05 1200.47,1551.95 1200.59,1548.78 C1200.7,1545.61 1203.32,1541.35 1205.86,1540.32 C1208.39,1539.3 1213.25,1540.82 1215.78,1542.66 C1218.31,1544.49 1221.31,1549 1221.05,1551.33 C1220.8,1553.66 1216.93,1555.29 1214.28,1556.63 C1211.63,1557.97 1207.43,1560.67 1205.15,1559.36Z" fill="#3aa83a" opacity="0.28" filter="url(#gb2)"/>
<path d="M1215.45,1561.78 C1218.79,1562.56 1220.39,1563.68 1222.94,1566.16 C1225.49,1568.65 1230.7,1573.06 1230.74,1576.67 C1230.78,1580.27 1226.58,1585.8 1223.18,1587.79 C1219.79,1589.78 1214.43,1590.31 1210.36,1588.63 C1206.28,1586.95 1200.9,1581.47 1198.73,1577.72 C1196.57,1573.96 1196.68,1568.79 1197.37,1566.08 C1198.06,1563.37 1199.84,1562.17 1202.85,1561.45 C1205.87,1560.74 1212.1,1560.99 1215.45,1561.78Z" fill="#248024" opacity="0.6" filter="url(#gb2)"/>
<path d="M1213.9,1564.96 C1216.08,1564.79 1218.7,1566.32 1219.99,1568.03 C1221.27,1569.73 1222.53,1572.85 1221.62,1575.21 C1220.71,1577.57 1216.84,1581.99 1214.51,1582.2 C1212.19,1582.42 1208.96,1578.7 1207.69,1576.51 C1206.41,1574.32 1205.83,1570.97 1206.87,1569.05 C1207.9,1567.12 1211.71,1565.13 1213.9,1564.96Z" fill="#3aa83a" opacity="0.28" filter="url(#gb2)"/>
<path d="M1178.83,1586.28 C1179.88,1584.06 1181.6,1582.97 1184.16,1581.89 C1186.72,1580.82 1191.46,1579.23 1194.19,1579.81 C1196.92,1580.39 1198.96,1583.3 1200.56,1585.37 C1202.16,1587.44 1204.04,1590.19 1203.78,1592.22 C1203.52,1594.26 1201.88,1596.52 1199.01,1597.59 C1196.14,1598.66 1190.09,1599.02 1186.57,1598.63 C1183.04,1598.23 1179.14,1597.28 1177.85,1595.22 C1176.56,1593.16 1177.77,1588.5 1178.83,1586.28Z" fill="#248024" opacity="0.6" filter="url(#gb2)"/>
<path d="M1193.49,1596.68 C1191.3,1597.19 1188.15,1595.34 1186.42,1593.72 C1184.68,1592.09 1182.54,1588.51 1183.08,1586.95 C1183.63,1585.38 1187.32,1584.44 1189.69,1584.33 C1192.07,1584.22 1195.68,1585.22 1197.33,1586.28 C1198.97,1587.34 1200.21,1588.94 1199.57,1590.68 C1198.93,1592.41 1195.68,1596.17 1193.49,1596.68Z" fill="#3aa83a" opacity="0.28" filter="url(#gb2)"/>
<path d="M1261.15,1565.73 C1260.27,1568.29 1258.31,1574.12 1255.8,1575.7 C1253.29,1577.27 1248,1576.2 1246.08,1575.2 C1244.16,1574.2 1244.64,1572.14 1244.27,1569.69 C1243.9,1567.24 1243.45,1563.53 1243.84,1560.52 C1244.24,1557.5 1244.71,1553.96 1246.63,1551.59 C1248.54,1549.22 1252.94,1544.83 1255.34,1546.29 C1257.74,1547.74 1260.07,1557.07 1261.04,1560.31 C1262,1563.55 1262.02,1563.17 1261.15,1565.73Z" fill="#248024" opacity="0.38" filter="url(#gb2)"/>
<path d="M1255.9,1560.02 C1256.4,1561.77 1256.33,1565.39 1255.43,1566.87 C1254.53,1568.36 1252.26,1569 1250.51,1568.94 C1248.76,1568.87 1245.64,1568.32 1244.96,1566.49 C1244.29,1564.66 1245.23,1559.64 1246.47,1557.96 C1247.72,1556.28 1250.85,1556.04 1252.42,1556.39 C1253.99,1556.73 1255.4,1558.27 1255.9,1560.02Z" fill="#3aa83a" opacity="0.17" filter="url(#gb2)"/>
<path d="M1256.78,1666.45 C1254.46,1667.67 1252.1,1661.26 1250.35,1658.54 C1248.6,1655.82 1247.56,1654.75 1246.28,1650.12 C1244.99,1645.5 1242.25,1634.94 1242.65,1630.82 C1243.05,1626.69 1246.13,1625.9 1248.67,1625.38 C1251.22,1624.87 1255.82,1625.75 1257.92,1627.72 C1260.03,1629.7 1260.26,1633.32 1261.31,1637.23 C1262.37,1641.15 1265.02,1646.36 1264.27,1651.23 C1263.51,1656.1 1259.1,1665.23 1256.78,1666.45Z" fill="#248024" opacity="0.45" filter="url(#gb2)"/>
<path d="M1254.53,1650.97 C1252.88,1652 1249.89,1652.42 1248.62,1650.5 C1247.34,1648.58 1246.21,1642.53 1246.88,1639.44 C1247.56,1636.35 1250.91,1632.65 1252.68,1631.98 C1254.45,1631.31 1256.55,1633.37 1257.53,1635.42 C1258.5,1637.47 1259.05,1641.7 1258.55,1644.29 C1258.05,1646.88 1256.19,1649.93 1254.53,1650.97Z" fill="#3aa83a" opacity="0.21" filter="url(#gb2)"/>
<path d="M1155.13,1565.03 C1155.43,1561.42 1153.62,1554.04 1156.72,1551.34 C1159.83,1548.63 1167.94,1548.27 1173.76,1548.79 C1179.58,1549.32 1188.75,1551.48 1191.64,1554.51 C1194.54,1557.54 1192.83,1563.1 1191.14,1566.99 C1189.45,1570.87 1185.74,1574.95 1181.51,1577.81 C1177.28,1580.68 1170.19,1584.98 1165.75,1584.18 C1161.32,1583.37 1156.66,1576.18 1154.89,1572.99 C1153.12,1569.8 1154.82,1568.63 1155.13,1565.03Z" fill="#248024" opacity="0.26" filter="url(#gb2)"/>
<path d="M1158.39,1563.96 C1158.26,1561.43 1161.88,1558.14 1165.2,1556.76 C1168.52,1555.38 1175.16,1554.07 1178.32,1555.68 C1181.48,1557.3 1183.85,1563.57 1184.17,1566.46 C1184.48,1569.36 1183.26,1572.16 1180.23,1573.07 C1177.19,1573.99 1169.61,1573.46 1165.98,1571.94 C1162.34,1570.42 1158.52,1566.49 1158.39,1563.96Z" fill="#3aa83a" opacity="0.12" filter="url(#gb2)"/>
<path d="M1162.94,1631.95 C1160.52,1640.77 1152.07,1649.15 1143.32,1651.22 C1134.57,1653.3 1118.12,1649.91 1110.44,1644.42 C1102.77,1638.93 1100.86,1628.12 1097.24,1618.3 C1093.62,1608.48 1087.3,1593.21 1088.75,1585.52 C1090.19,1577.82 1094.54,1573.48 1105.92,1572.13 C1117.31,1570.78 1148.4,1573.06 1157.06,1577.42 C1165.72,1581.78 1156.9,1589.2 1157.88,1598.29 C1158.86,1607.38 1165.37,1623.13 1162.94,1631.95Z" fill="#248024" opacity="0.17" filter="url(#gb2)"/>
<path d="M1125.85,1588.68 C1133.02,1587.35 1141.08,1595.41 1145.24,1600.44 C1149.41,1605.46 1152.42,1613.22 1150.83,1618.83 C1149.25,1624.44 1143.02,1633.27 1135.73,1634.12 C1128.44,1634.97 1112.68,1628.21 1107.09,1623.93 C1101.51,1619.65 1099.07,1614.33 1102.2,1608.45 C1105.33,1602.58 1118.68,1590.02 1125.85,1588.68Z" fill="#3aa83a" opacity="0.08" filter="url(#gb2)"/>
<path d="M1182.16,1521.23 C1186.44,1519.73 1189.58,1513.3 1192.39,1516.1 C1195.19,1518.9 1198.22,1531.66 1198.97,1538.04 C1199.71,1544.41 1199.01,1550.39 1196.86,1554.34 C1194.72,1558.3 1189.89,1561.82 1186.09,1561.79 C1182.3,1561.76 1177.57,1557.7 1174.09,1554.16 C1170.61,1550.61 1166.44,1545.36 1165.22,1540.52 C1163.99,1535.67 1163.9,1528.28 1166.72,1525.07 C1169.54,1521.86 1177.88,1522.73 1182.16,1521.23Z" fill="#248024" opacity="0.3" filter="url(#gb2)"/>
<path d="M1174.54,1538.68 C1173.63,1535.19 1174.24,1530.38 1176.56,1528.69 C1178.88,1526.99 1185.85,1527.14 1188.47,1528.52 C1191.1,1529.89 1192.22,1534.1 1192.3,1536.95 C1192.39,1539.79 1190.7,1543.49 1188.99,1545.61 C1187.27,1547.73 1184.42,1550.81 1182.02,1549.66 C1179.61,1548.5 1175.45,1542.18 1174.54,1538.68Z" fill="#3aa83a" opacity="0.14" filter="url(#gb2)"/>
<path d="M1258.5,1540.7 C1257.81,1543.81 1255.86,1547.3 1253.52,1550.54 C1251.17,1553.78 1246.94,1561.26 1244.43,1560.13 C1241.91,1559 1239.33,1548.27 1238.45,1543.74 C1237.58,1539.21 1239.12,1537.12 1239.19,1532.96 C1239.26,1528.8 1236.81,1520.88 1238.87,1518.78 C1240.92,1516.68 1248.38,1518.18 1251.51,1520.37 C1254.64,1522.55 1256.48,1528.51 1257.64,1531.9 C1258.81,1535.29 1259.19,1537.59 1258.5,1540.7Z" fill="#248024" opacity="0.3" filter="url(#gb2)"/>
<path d="M1255.62,1542 C1254.75,1545.09 1249.57,1550.44 1247.18,1550.72 C1244.79,1551 1242.03,1546.8 1241.26,1543.67 C1240.49,1540.54 1241.57,1534.65 1242.55,1531.95 C1243.54,1529.24 1245.54,1527.4 1247.18,1527.44 C1248.82,1527.47 1251,1529.74 1252.41,1532.16 C1253.81,1534.59 1256.49,1538.91 1255.62,1542Z" fill="#3aa83a" opacity="0.14" filter="url(#gb2)"/>
<path d="M1087.65,1560.76 C1093.24,1561.61 1095.93,1560.68 1099.4,1564.08 C1102.87,1567.47 1108.55,1576.41 1108.48,1581.13 C1108.41,1585.86 1103.49,1589.86 1098.98,1592.42 C1094.48,1594.99 1086.69,1596.72 1081.44,1596.51 C1076.19,1596.31 1070.39,1594.72 1067.48,1591.18 C1064.57,1587.64 1064.27,1580.62 1064,1575.26 C1063.73,1569.89 1061.92,1561.4 1065.86,1558.99 C1069.8,1556.57 1082.06,1559.91 1087.65,1560.76Z" fill="#248024" opacity="0.22" filter="url(#gb2)"/>
<path d="M1085.32,1563.5 C1088.2,1564.89 1092,1571.72 1092.98,1575.71 C1093.96,1579.71 1093.19,1585.59 1091.2,1587.47 C1089.21,1589.35 1084.1,1588.52 1081.06,1587 C1078.02,1585.48 1073.85,1581.65 1072.95,1578.37 C1072.06,1575.1 1073.64,1569.85 1075.7,1567.37 C1077.76,1564.89 1082.44,1562.11 1085.32,1563.5Z" fill="#3aa83a" opacity="0.1" filter="url(#gb2)"/>
<ellipse cx="1140.16" cy="1525.55" rx="15.05" ry="9.79" fill="none" stroke="#46cc46" stroke-width="2.9" opacity="0.13" filter="url(#gb15)"/>
<ellipse cx="1079.55" cy="1537.71" rx="15.05" ry="12.55" fill="none" stroke="#46cc46" stroke-width="2.9" opacity="0.27" filter="url(#gb15)"/>
<ellipse cx="1079.55" cy="1557.2" rx="11.04" ry="7.78" fill="none" stroke="#46cc46" stroke-width="2.9" opacity="0.19" filter="url(#gb15)"/>
<ellipse cx="1112.94" cy="1575.53" rx="13.8" ry="9.79" fill="none" stroke="#46cc46" stroke-width="2.9" opacity="0.23" filter="url(#gb15)"/>
<ellipse cx="1126.45" cy="1584.03" rx="8.53" ry="6.02" fill="none" stroke="#46cc46" stroke-width="2.9" opacity="0.19" filter="url(#gb15)" transform="rotate(20 1126.45 1584.03)"/>
<ellipse cx="1168.91" cy="1564.92" rx="17.56" ry="13.8" fill="none" stroke="#46cc46" stroke-width="2.9" opacity="0.13" filter="url(#gb15)"/>
<ellipse cx="1191.49" cy="1589.04" rx="11.79" ry="7.78" fill="none" stroke="#46cc46" stroke-width="2.9" opacity="0.3" filter="url(#gb15)"/>
<ellipse cx="1215.23" cy="1551.22" rx="12.55" ry="9.79" fill="none" stroke="#46cc46" stroke-width="2.9" opacity="0.3" filter="url(#gb15)"/>
<ellipse cx="1214.27" cy="1573.99" rx="12.55" ry="9.79" fill="none" stroke="#46cc46" stroke-width="2.9" opacity="0.3" filter="url(#gb15)"/>
<ellipse cx="1090.17" cy="1595.22" rx="15.05" ry="11.04" fill="none" stroke="#46cc46" stroke-width="2.9" opacity="0.21" filter="url(#gb15)"/>
<ellipse cx="1164.28" cy="1607.19" rx="11.04" ry="13.8" fill="none" stroke="#46cc46" stroke-width="2.9" opacity="0.19" filter="url(#gb15)"/>
<ellipse cx="1252.1" cy="1527.09" rx="7.03" ry="8.53" fill="none" stroke="#46cc46" stroke-width="2.9" opacity="0.15" filter="url(#gb15)"/>
<ellipse cx="1252.1" cy="1563.38" rx="6.02" ry="6.02" fill="none" stroke="#46cc46" stroke-width="2.9" opacity="0.19" filter="url(#gb15)"/>
<ellipse cx="1100.78" cy="1639.03" rx="18.82" ry="12.55" fill="none" stroke="#46cc46" stroke-width="2.9" opacity="0.23" filter="url(#gb15)"/>
<ellipse cx="1159.07" cy="1639.03" rx="15.05" ry="12.55" fill="none" stroke="#46cc46" stroke-width="2.9" opacity="0.23" filter="url(#gb15)"/>
<ellipse cx="1252.1" cy="1642.12" rx="6.02" ry="13.8" fill="none" stroke="#46cc46" stroke-width="2.9" opacity="0.23" filter="url(#gb15)"/>
<ellipse cx="1140.16" cy="1525.55" rx="11" ry="7.15" fill="#000" opacity="0.42" filter="url(#gb1)"/>
<ellipse cx="1079.55" cy="1537.71" rx="11" ry="9.17" fill="#000" opacity="0.42" filter="url(#gb1)"/>
<ellipse cx="1079.55" cy="1557.2" rx="8.07" ry="5.68" fill="#000" opacity="0.42" filter="url(#gb1)"/>
<ellipse cx="1112.94" cy="1575.53" rx="10.08" ry="7.15" fill="#000" opacity="0.42" filter="url(#gb1)"/>
<ellipse cx="1126.45" cy="1584.03" rx="6.23" ry="4.4" fill="#000" opacity="0.42" filter="url(#gb1)" transform="rotate(20 1126.45 1584.03)"/>
<ellipse cx="1140.73" cy="1563.38" rx="5.13" ry="4.4" fill="#000" opacity="0.42" filter="url(#gb1)"/>
<ellipse cx="1168.91" cy="1564.92" rx="12.83" ry="10.08" fill="#000" opacity="0.42" filter="url(#gb1)"/>
<ellipse cx="1191.49" cy="1589.04" rx="8.62" ry="5.68" fill="#000" opacity="0.42" filter="url(#gb1)"/>
<ellipse cx="1215.23" cy="1551.22" rx="9.17" ry="7.15" fill="#000" opacity="0.42" filter="url(#gb1)"/>
<ellipse cx="1218.71" cy="1531.53" rx="5.68" ry="3.48" fill="#000" opacity="0.42" filter="url(#gb1)"/>
<ellipse cx="1214.27" cy="1573.99" rx="9.17" ry="7.15" fill="#000" opacity="0.42" filter="url(#gb1)"/>
<ellipse cx="1090.17" cy="1595.22" rx="11" ry="8.07" fill="#000" opacity="0.42" filter="url(#gb1)"/>
<ellipse cx="1164.28" cy="1607.19" rx="8.07" ry="10.08" fill="#000" opacity="0.42" filter="url(#gb1)"/>
<ellipse cx="1252.1" cy="1527.09" rx="5.13" ry="6.23" fill="#000" opacity="0.42" filter="url(#gb1)"/>
<ellipse cx="1252.1" cy="1563.38" rx="4.4" ry="4.4" fill="#000" opacity="0.42" filter="url(#gb1)"/>
<ellipse cx="1100.78" cy="1639.03" rx="13.75" ry="9.17" fill="#000" opacity="0.42" filter="url(#gb1)"/>
<ellipse cx="1159.07" cy="1639.03" rx="11" ry="9.17" fill="#000" opacity="0.42" filter="url(#gb1)"/>
<ellipse cx="1252.1" cy="1642.12" rx="4.4" ry="10.08" fill="#000" opacity="0.42" filter="url(#gb1)"/>
<ellipse cx="1129.54" cy="1687.47" rx="10.08" ry="11.55" fill="#000" opacity="0.42" filter="url(#gb1)"/>
<ellipse cx="1193.04" cy="1703.88" rx="11.55" ry="8.62" fill="#000" opacity="0.42" filter="url(#gb1)"/>
<ellipse cx="1253.64" cy="1696.16" rx="4.4" ry="7.33" fill="#000" opacity="0.42" filter="url(#gb1)"/>
<g style="mix-blend-mode:screen">
<ellipse cx="1140.16" cy="1525.55" rx="11.58" ry="7.53" fill="#1a26d8" opacity="0.9" filter="url(#gb15)"/>
<ellipse cx="1079.55" cy="1537.71" rx="11.58" ry="9.65" fill="#1a26d8" opacity="0.9" filter="url(#gb15)"/>
<ellipse cx="1079.55" cy="1557.2" rx="8.49" ry="5.98" fill="#1a26d8" opacity="0.9" filter="url(#gb15)"/>
<ellipse cx="1112.94" cy="1575.53" rx="10.62" ry="7.53" fill="#1a26d8" opacity="0.9" filter="url(#gb15)"/>
<ellipse cx="1126.45" cy="1584.03" rx="6.56" ry="4.63" fill="#1a26d8" opacity="0.9" filter="url(#gb15)" transform="rotate(20 1126.45 1584.03)"/>
<ellipse cx="1140.73" cy="1563.38" rx="5.4" ry="4.63" fill="#1a26d8" opacity="0.8" filter="url(#gb15)"/>
<ellipse cx="1168.91" cy="1564.92" rx="13.51" ry="10.62" fill="#1a26d8" opacity="0.9" filter="url(#gb15)"/>
<ellipse cx="1191.49" cy="1589.04" rx="9.07" ry="5.98" fill="#1a26d8" opacity="0.95" filter="url(#gb15)"/>
<ellipse cx="1215.23" cy="1551.22" rx="9.65" ry="7.53" fill="#1a26d8" opacity="0.9" filter="url(#gb15)"/>
<ellipse cx="1218.71" cy="1531.53" rx="5.98" ry="3.67" fill="#1a26d8" opacity="0.9" filter="url(#gb15)"/>
<ellipse cx="1214.27" cy="1573.99" rx="9.65" ry="7.53" fill="#1a26d8" opacity="0.9" filter="url(#gb15)"/>
<ellipse cx="1090.17" cy="1595.22" rx="11.58" ry="8.49" fill="#1a26d8" opacity="0.9" filter="url(#gb15)"/>
<ellipse cx="1164.28" cy="1607.19" rx="8.49" ry="10.62" fill="#1a26d8" opacity="0.95" filter="url(#gb15)"/>
<ellipse cx="1252.1" cy="1527.09" rx="5.4" ry="6.56" fill="#1a26d8" opacity="0.9" filter="url(#gb15)"/>
<ellipse cx="1252.1" cy="1563.38" rx="4.63" ry="4.63" fill="#1a26d8" opacity="0.9" filter="url(#gb15)"/>
<ellipse cx="1100.78" cy="1639.03" rx="14.47" ry="9.65" fill="#1a26d8" opacity="0.8" filter="url(#gb15)"/>
<ellipse cx="1159.07" cy="1639.03" rx="11.58" ry="9.65" fill="#1a26d8" opacity="0.85" filter="url(#gb15)"/>
<ellipse cx="1252.1" cy="1642.12" rx="4.63" ry="10.62" fill="#1a26d8" opacity="0.8" filter="url(#gb15)"/>
<ellipse cx="1129.54" cy="1687.47" rx="10.62" ry="12.16" fill="#1a26d8" opacity="0.5" filter="url(#gb15)"/>
<ellipse cx="1193.04" cy="1703.88" rx="12.16" ry="9.07" fill="#1a26d8" opacity="0.45" filter="url(#gb15)"/>
<ellipse cx="1253.64" cy="1696.16" rx="4.63" ry="7.72" fill="#1a26d8" opacity="0.4" filter="url(#gb15)"/>
</g></g>
<line x1="1234.34" y1="1702.91" x2="1249.78" y2="1702.91" stroke="#ddd" stroke-width="1.2" />
<rect x="665.4" y="1716.5" width="193" height="193" fill="#000"/>
<g clip-path="url(#ct665_1716)">
<ellipse cx="768.27" cy="1724.03" rx="12.83" ry="7.15" fill="#000" opacity="0.42" filter="url(#gb1)"/>
<ellipse cx="716.74" cy="1761.86" rx="10.08" ry="8.62" fill="#000" opacity="0.42" filter="url(#gb1)"/>
<ellipse cx="688.17" cy="1784.63" rx="11" ry="9.17" fill="#000" opacity="0.42" filter="url(#gb1)"/>
<ellipse cx="739.51" cy="1792.16" rx="11" ry="9.17" fill="#000" opacity="0.42" filter="url(#gb1)" transform="rotate(-15 739.51 1792.16)"/>
<ellipse cx="795.48" cy="1777.1" rx="15.77" ry="15.77" fill="#000" opacity="0.42" filter="url(#gb1)"/>
<ellipse cx="762.29" cy="1818.02" rx="8.62" ry="9.17" fill="#000" opacity="0.42" filter="url(#gb1)"/>
<ellipse cx="783.32" cy="1813.39" rx="10.08" ry="9.17" fill="#000" opacity="0.42" filter="url(#gb1)"/>
<ellipse cx="751.67" cy="1828.63" rx="7.15" ry="6.23" fill="#000" opacity="0.42" filter="url(#gb1)"/>
<ellipse cx="713.84" cy="1840.79" rx="8.62" ry="14.3" fill="#000" opacity="0.42" filter="url(#gb1)"/>
<ellipse cx="793.94" cy="1839.25" rx="11" ry="8.62" fill="#000" opacity="0.42" filter="url(#gb1)"/>
<ellipse cx="822.69" cy="1830.18" rx="12.83" ry="8.62" fill="#000" opacity="0.42" filter="url(#gb1)"/>
<ellipse cx="739.51" cy="1866.46" rx="11.55" ry="9.17" fill="#000" opacity="0.42" filter="url(#gb1)"/>
<ellipse cx="765.18" cy="1862.02" rx="11" ry="8.62" fill="#000" opacity="0.42" filter="url(#gb1)"/>
<ellipse cx="822.69" cy="1866.46" rx="7.15" ry="9.17" fill="#000" opacity="0.42" filter="url(#gb1)"/>
<ellipse cx="837.75" cy="1856.81" rx="4.4" ry="4.4" fill="#000" opacity="0.42" filter="url(#gb1)"/>
<ellipse cx="849.33" cy="1864.92" rx="3.48" ry="5.13" fill="#000" opacity="0.42" filter="url(#gb1)"/>
<ellipse cx="804.55" cy="1889.24" rx="12.83" ry="8.62" fill="#000" opacity="0.42" filter="url(#gb1)"/>
<ellipse cx="853" cy="1766.49" rx="4.4" ry="8.62" fill="#000" opacity="0.42" filter="url(#gb1)"/>
<ellipse cx="671.19" cy="1903.71" rx="7.33" ry="7.33" fill="#000" opacity="0.42" filter="url(#gb1)"/>
<ellipse cx="837.75" cy="1901.78" rx="11" ry="7.33" fill="#000" opacity="0.42" filter="url(#gb1)"/>
<ellipse cx="705.96" cy="1857.1" rx="0.63" ry="0.65" fill="#3cf03c" opacity="0.9" filter="url(#gb06)"/>
<ellipse cx="703.97" cy="1854.41" rx="0.61" ry="0.58" fill="#3cf03c" opacity="0.9" filter="url(#gb06)"/>
<ellipse cx="702.85" cy="1851.81" rx="1.22" ry="0.94" fill="#3cf03c" opacity="0.9" filter="url(#gb06)"/>
<ellipse cx="702.65" cy="1848.86" rx="1.02" ry="0.96" fill="#3cf03c" opacity="0.9" filter="url(#gb06)"/>
<ellipse cx="701.4" cy="1843.3" rx="0.8" ry="0.63" fill="#3cf03c" opacity="0.9" filter="url(#gb06)"/>
<ellipse cx="701.95" cy="1841.42" rx="0.72" ry="0.75" fill="#3cf03c" opacity="0.9" filter="url(#gb06)"/>
<ellipse cx="703.11" cy="1836.38" rx="0.63" ry="0.46" fill="#3cf03c" opacity="0.9" filter="url(#gb06)"/>
<ellipse cx="704.58" cy="1833.9" rx="0.82" ry="0.86" fill="#3cf03c" opacity="0.9" filter="url(#gb06)"/>
<ellipse cx="705.99" cy="1831.56" rx="1.12" ry="0.95" fill="#3cf03c" opacity="0.9" filter="url(#gb06)"/>
<ellipse cx="708.59" cy="1829.88" rx="1.14" ry="1" fill="#3cf03c" opacity="0.9" filter="url(#gb06)"/>
<ellipse cx="813.04" cy="1779.57" rx="0.7" ry="0.55" fill="#3cf03c" opacity="0.35" filter="url(#gb06)"/>
<ellipse cx="812.22" cy="1783" rx="0.7" ry="0.73" fill="#3cf03c" opacity="0.35" filter="url(#gb06)"/>
<ellipse cx="810.22" cy="1787.91" rx="0.62" ry="0.65" fill="#3cf03c" opacity="0.35" filter="url(#gb06)"/>
<ellipse cx="808.9" cy="1790.83" rx="0.57" ry="0.62" fill="#3cf03c" opacity="0.35" filter="url(#gb06)"/>
<ellipse cx="806.08" cy="1792.51" rx="0.81" ry="0.96" fill="#3cf03c" opacity="0.35" filter="url(#gb06)"/>
<ellipse cx="801.09" cy="1794.76" rx="0.36" ry="0.35" fill="#3cf03c" opacity="0.35" filter="url(#gb06)"/>
<ellipse cx="796.66" cy="1794.67" rx="0.7" ry="0.55" fill="#3cf03c" opacity="0.35" filter="url(#gb06)"/>
<ellipse cx="792.45" cy="1795.79" rx="0.38" ry="0.37" fill="#3cf03c" opacity="0.35" filter="url(#gb06)"/>
<ellipse cx="788.23" cy="1794.17" rx="0.75" ry="0.65" fill="#3cf03c" opacity="0.35" filter="url(#gb06)"/>
<ellipse cx="783.96" cy="1792.13" rx="0.79" ry="0.63" fill="#3cf03c" opacity="0.35" filter="url(#gb06)"/>
<ellipse cx="781.04" cy="1788.49" rx="0.57" ry="0.6" fill="#3cf03c" opacity="0.35" filter="url(#gb06)"/>
<ellipse cx="778.17" cy="1784.87" rx="0.52" ry="0.54" fill="#3cf03c" opacity="0.35" filter="url(#gb06)"/>
<ellipse cx="777.54" cy="1779.02" rx="0.63" ry="0.7" fill="#3cf03c" opacity="0.35" filter="url(#gb06)"/>
<ellipse cx="777.76" cy="1777.39" rx="0.75" ry="0.89" fill="#3cf03c" opacity="0.35" filter="url(#gb06)"/>
<ellipse cx="777.8" cy="1771.1" rx="0.64" ry="0.47" fill="#3cf03c" opacity="0.35" filter="url(#gb06)"/>
<ellipse cx="778.88" cy="1767.9" rx="0.5" ry="0.37" fill="#3cf03c" opacity="0.35" filter="url(#gb06)"/>
<ellipse cx="781.22" cy="1764.33" rx="0.52" ry="0.37" fill="#3cf03c" opacity="0.35" filter="url(#gb06)"/>
<ellipse cx="787.23" cy="1760.27" rx="0.46" ry="0.42" fill="#3cf03c" opacity="0.35" filter="url(#gb06)"/>
<ellipse cx="789.31" cy="1760.18" rx="0.81" ry="0.79" fill="#3cf03c" opacity="0.35" filter="url(#gb06)"/>
<ellipse cx="793.91" cy="1758.18" rx="0.51" ry="0.43" fill="#3cf03c" opacity="0.35" filter="url(#gb06)"/>
<ellipse cx="799.34" cy="1758.56" rx="0.79" ry="0.8" fill="#3cf03c" opacity="0.35" filter="url(#gb06)"/>
<ellipse cx="802.41" cy="1759.37" rx="0.59" ry="0.76" fill="#3cf03c" opacity="0.35" filter="url(#gb06)"/>
<ellipse cx="808" cy="1763.06" rx="0.52" ry="0.41" fill="#3cf03c" opacity="0.35" filter="url(#gb06)"/>
<ellipse cx="810.53" cy="1766.98" rx="0.5" ry="0.42" fill="#3cf03c" opacity="0.35" filter="url(#gb06)"/>
<ellipse cx="813.35" cy="1771.09" rx="0.72" ry="0.86" fill="#3cf03c" opacity="0.35" filter="url(#gb06)"/>
<ellipse cx="813.23" cy="1774.67" rx="0.51" ry="0.37" fill="#3cf03c" opacity="0.35" filter="url(#gb06)"/>
<ellipse cx="840.72" cy="1850.1" rx="1.11" ry="1.42" fill="#3cf03c" opacity="0.9" filter="url(#gb06)"/>
<ellipse cx="843.35" cy="1854.05" rx="1.32" ry="1.21" fill="#3cf03c" opacity="0.9" filter="url(#gb06)"/>
<ellipse cx="842.53" cy="1855.39" rx="0.74" ry="0.79" fill="#3cf03c" opacity="0.9" filter="url(#gb06)"/>
<ellipse cx="842.3" cy="1859.61" rx="1.08" ry="1.28" fill="#3cf03c" opacity="0.9" filter="url(#gb06)"/>
<ellipse cx="841.19" cy="1861.18" rx="1.18" ry="1.36" fill="#3cf03c" opacity="0.9" filter="url(#gb06)"/>
<ellipse cx="838.03" cy="1861.63" rx="0.84" ry="0.99" fill="#3cf03c" opacity="0.9" filter="url(#gb06)"/>
<ellipse cx="836.57" cy="1868.81" rx="1.05" ry="1.19" fill="#3cf03c" opacity="0.5" filter="url(#gb06)"/>
<ellipse cx="835.06" cy="1869.96" rx="1.02" ry="1.21" fill="#3cf03c" opacity="0.5" filter="url(#gb06)"/>
<ellipse cx="832.65" cy="1873.21" rx="0.87" ry="0.79" fill="#3cf03c" opacity="0.5" filter="url(#gb06)"/>
<ellipse cx="826.12" cy="1871.7" rx="1.06" ry="1.16" fill="#3cf03c" opacity="0.5" filter="url(#gb06)"/>
<ellipse cx="823.88" cy="1870.35" rx="1" ry="1.2" fill="#3cf03c" opacity="0.5" filter="url(#gb06)"/>
<ellipse cx="821.44" cy="1867.64" rx="0.61" ry="0.64" fill="#3cf03c" opacity="0.5" filter="url(#gb06)"/>
<ellipse cx="705.69" cy="1778.44" rx="1.03" ry="0.94" fill="#3cf03c" opacity="0.4" filter="url(#gb06)"/>
<ellipse cx="700.09" cy="1782.74" rx="0.72" ry="0.9" fill="#3cf03c" opacity="0.4" filter="url(#gb06)"/>
<ellipse cx="694.58" cy="1779.25" rx="0.47" ry="0.46" fill="#3cf03c" opacity="0.4" filter="url(#gb06)"/>
<ellipse cx="695.2" cy="1776.04" rx="0.57" ry="0.56" fill="#3cf03c" opacity="0.4" filter="url(#gb06)"/>
<ellipse cx="704.62" cy="1775.48" rx="0.78" ry="0.81" fill="#3cf03c" opacity="0.4" filter="url(#gb06)"/>
<ellipse cx="712.64" cy="1840.88" rx="0.62" ry="0.53" fill="#3cf03c" opacity="0.5" filter="url(#gb06)"/>
<ellipse cx="716.52" cy="1843.39" rx="0.93" ry="1.16" fill="#3cf03c" opacity="0.5" filter="url(#gb06)"/>
<ellipse cx="718.55" cy="1846.33" rx="0.78" ry="0.87" fill="#3cf03c" opacity="0.5" filter="url(#gb06)"/>
<ellipse cx="719.47" cy="1850.83" rx="1.04" ry="1.17" fill="#3cf03c" opacity="0.5" filter="url(#gb06)"/>
<ellipse cx="719.18" cy="1856.23" rx="0.81" ry="1.02" fill="#3cf03c" opacity="0.5" filter="url(#gb06)"/>
<ellipse cx="715.63" cy="1859.68" rx="0.74" ry="0.55" fill="#3cf03c" opacity="0.5" filter="url(#gb06)"/>
<ellipse cx="755.92" cy="1725.57" rx="5.52" ry="1.51" fill="#45ff45" opacity="1" filter="url(#gb06)" transform="rotate(60 755.92 1725.57)"/>
<ellipse cx="752.25" cy="1722.29" rx="1.51" ry="1.25" fill="#45ff45" opacity="1" filter="url(#gb06)"/>
<ellipse cx="777.34" cy="1725.57" rx="2.51" ry="1.25" fill="#45ff45" opacity="1" filter="url(#gb06)"/>
<ellipse cx="781.2" cy="1727.12" rx="1.51" ry="1" fill="#45ff45" opacity="1" filter="url(#gb06)"/>
<ellipse cx="707.86" cy="1718.43" rx="2.51" ry="1.51" fill="#45ff45" opacity="1" filter="url(#gb06)"/>
<ellipse cx="669.07" cy="1734.64" rx="1.51" ry="2.51" fill="#45ff45" opacity="1" filter="url(#gb06)"/>
<ellipse cx="724.46" cy="1764.75" rx="4.52" ry="1.51" fill="#45ff45" opacity="1" filter="url(#gb06)" transform="rotate(-50 724.46 1764.75)"/>
<ellipse cx="722.91" cy="1767.07" rx="1.51" ry="1" fill="#45ff45" opacity="1" filter="url(#gb06)"/>
<ellipse cx="746.85" cy="1783.09" rx="2.01" ry="1.51" fill="#45ff45" opacity="1" filter="url(#gb06)"/>
<ellipse cx="748.39" cy="1785.98" rx="1.51" ry="1.51" fill="#45ff45" opacity="1" filter="url(#gb06)"/>
<ellipse cx="791.81" cy="1810.49" rx="4.01" ry="6.27" fill="#45ff45" opacity="1" filter="url(#gb06)"/>
<ellipse cx="789.88" cy="1807.21" rx="2.51" ry="2.01" fill="#45ff45" opacity="1" filter="url(#gb06)"/>
<ellipse cx="794.32" cy="1813" rx="2.01" ry="2.51" fill="#45ff45" opacity="1" filter="url(#gb06)"/>
<ellipse cx="792.78" cy="1805.28" rx="1.51" ry="1.51" fill="#45ff45" opacity="1" filter="url(#gb06)"/>
<ellipse cx="745.5" cy="1818.02" rx="2.51" ry="2.01" fill="#45ff45" opacity="1" filter="url(#gb06)"/>
<ellipse cx="783.13" cy="1840.98" rx="6.02" ry="1.76" fill="#45ff45" opacity="1" filter="url(#gb06)" transform="rotate(60 783.13 1840.98)"/>
<ellipse cx="786.02" cy="1847.74" rx="2.01" ry="1.51" fill="#45ff45" opacity="1" filter="url(#gb06)"/>
<ellipse cx="787.95" cy="1849.67" rx="3.01" ry="1.51" fill="#45ff45" opacity="1" filter="url(#gb06)"/>
<ellipse cx="730.44" cy="1873.99" rx="3.01" ry="6.27" fill="#45ff45" opacity="1" filter="url(#gb06)"/>
<ellipse cx="734.88" cy="1876.69" rx="2.51" ry="1.76" fill="#45ff45" opacity="1" filter="url(#gb06)"/>
<ellipse cx="732.95" cy="1870.9" rx="1.51" ry="1.51" fill="#45ff45" opacity="1" filter="url(#gb06)"/>
<ellipse cx="761.9" cy="1870.9" rx="5.52" ry="1.51" fill="#45ff45" opacity="1" filter="url(#gb06)" transform="rotate(40 761.9 1870.9)"/>
<ellipse cx="767.69" cy="1873.8" rx="2.51" ry="1.51" fill="#45ff45" opacity="1" filter="url(#gb06)"/>
<ellipse cx="770.59" cy="1872.83" rx="1.51" ry="1.25" fill="#45ff45" opacity="1" filter="url(#gb06)"/>
<ellipse cx="854.73" cy="1781.54" rx="2.01" ry="3.01" fill="#45ff45" opacity="1" filter="url(#gb06)"/>
<ellipse cx="683.93" cy="1905.64" rx="2.01" ry="2.01" fill="#45ff45" opacity="1" filter="url(#gb06)"/>
<ellipse cx="665.98" cy="1894.06" rx="1.51" ry="1.51" fill="#45ff45" opacity="1" filter="url(#gb06)"/>
</g>
<line x1="835.24" y1="1900.82" x2="850.68" y2="1900.82" stroke="#ddd" stroke-width="1.2" />
<rect x="866.1" y="1716.5" width="193" height="193" fill="#00000c"/>
<g clip-path="url(#ct866_1716)">
<ellipse cx="968.97" cy="1724.03" rx="13.51" ry="7.53" fill="#1a26d8" opacity="0.55" filter="url(#gb15)"/>
<ellipse cx="917.44" cy="1761.86" rx="10.62" ry="9.07" fill="#1a26d8" opacity="0.6" filter="url(#gb15)"/>
<ellipse cx="888.87" cy="1784.63" rx="11.58" ry="9.65" fill="#1a26d8" opacity="0.7" filter="url(#gb15)"/>
<ellipse cx="940.21" cy="1792.16" rx="11.58" ry="9.65" fill="#1a26d8" opacity="0.7" filter="url(#gb15)" transform="rotate(-15 940.21 1792.16)"/>
<ellipse cx="996.18" cy="1777.1" rx="16.6" ry="16.6" fill="#1a26d8" opacity="0.5" filter="url(#gb15)"/>
<ellipse cx="962.99" cy="1818.02" rx="9.07" ry="9.65" fill="#1a26d8" opacity="0.65" filter="url(#gb15)"/>
<ellipse cx="984.02" cy="1813.39" rx="10.62" ry="9.65" fill="#1a26d8" opacity="0.65" filter="url(#gb15)"/>
<ellipse cx="952.37" cy="1828.63" rx="7.53" ry="6.56" fill="#1a26d8" opacity="0.6" filter="url(#gb15)"/>
<ellipse cx="914.54" cy="1840.79" rx="9.07" ry="15.05" fill="#1a26d8" opacity="0.55" filter="url(#gb15)"/>
<ellipse cx="994.64" cy="1839.25" rx="11.58" ry="9.07" fill="#1a26d8" opacity="0.6" filter="url(#gb15)"/>
<ellipse cx="1023.39" cy="1830.18" rx="13.51" ry="9.07" fill="#1a26d8" opacity="0.55" filter="url(#gb15)"/>
<ellipse cx="940.21" cy="1866.46" rx="12.16" ry="9.65" fill="#1a26d8" opacity="0.5" filter="url(#gb15)"/>
<ellipse cx="965.88" cy="1862.02" rx="11.58" ry="9.07" fill="#1a26d8" opacity="0.55" filter="url(#gb15)"/>
<ellipse cx="1023.39" cy="1866.46" rx="7.53" ry="9.65" fill="#1a26d8" opacity="0.5" filter="url(#gb15)"/>
<ellipse cx="1038.45" cy="1856.81" rx="4.63" ry="4.63" fill="#1a26d8" opacity="0.95" filter="url(#gb15)"/>
<ellipse cx="1050.03" cy="1864.92" rx="3.67" ry="5.4" fill="#1a26d8" opacity="0.95" filter="url(#gb15)"/>
<ellipse cx="1005.25" cy="1889.24" rx="13.51" ry="9.07" fill="#1a26d8" opacity="0.45" filter="url(#gb15)"/>
<ellipse cx="1053.7" cy="1766.49" rx="4.63" ry="9.07" fill="#1a26d8" opacity="0.45" filter="url(#gb15)"/>
<ellipse cx="871.89" cy="1903.71" rx="7.72" ry="7.72" fill="#1a26d8" opacity="0.4" filter="url(#gb15)"/>
<ellipse cx="1038.45" cy="1901.78" rx="11.58" ry="7.72" fill="#1a26d8" opacity="0.4" filter="url(#gb15)"/>
</g>
<line x1="1035.94" y1="1900.82" x2="1051.38" y2="1900.82" stroke="#ddd" stroke-width="1.2" />
<rect x="1064.5" y="1716.5" width="193" height="193" fill="#00000a"/>
<g clip-path="url(#ct1064_1716)" style="isolation:isolate">
<ellipse cx="1167.37" cy="1724.03" rx="12.83" ry="7.15" fill="#000" opacity="0.42" filter="url(#gb1)"/>
<ellipse cx="1115.84" cy="1761.86" rx="10.08" ry="8.62" fill="#000" opacity="0.42" filter="url(#gb1)"/>
<ellipse cx="1087.27" cy="1784.63" rx="11" ry="9.17" fill="#000" opacity="0.42" filter="url(#gb1)"/>
<ellipse cx="1138.61" cy="1792.16" rx="11" ry="9.17" fill="#000" opacity="0.42" filter="url(#gb1)" transform="rotate(-15 1138.61 1792.16)"/>
<ellipse cx="1194.58" cy="1777.1" rx="15.77" ry="15.77" fill="#000" opacity="0.42" filter="url(#gb1)"/>
<ellipse cx="1161.39" cy="1818.02" rx="8.62" ry="9.17" fill="#000" opacity="0.42" filter="url(#gb1)"/>
<ellipse cx="1182.42" cy="1813.39" rx="10.08" ry="9.17" fill="#000" opacity="0.42" filter="url(#gb1)"/>
<ellipse cx="1150.77" cy="1828.63" rx="7.15" ry="6.23" fill="#000" opacity="0.42" filter="url(#gb1)"/>
<ellipse cx="1112.94" cy="1840.79" rx="8.62" ry="14.3" fill="#000" opacity="0.42" filter="url(#gb1)"/>
<ellipse cx="1193.04" cy="1839.25" rx="11" ry="8.62" fill="#000" opacity="0.42" filter="url(#gb1)"/>
<ellipse cx="1221.8" cy="1830.18" rx="12.83" ry="8.62" fill="#000" opacity="0.42" filter="url(#gb1)"/>
<ellipse cx="1138.61" cy="1866.46" rx="11.55" ry="9.17" fill="#000" opacity="0.42" filter="url(#gb1)"/>
<ellipse cx="1164.28" cy="1862.02" rx="11" ry="8.62" fill="#000" opacity="0.42" filter="url(#gb1)"/>
<ellipse cx="1221.8" cy="1866.46" rx="7.15" ry="9.17" fill="#000" opacity="0.42" filter="url(#gb1)"/>
<ellipse cx="1236.85" cy="1856.81" rx="4.4" ry="4.4" fill="#000" opacity="0.42" filter="url(#gb1)"/>
<ellipse cx="1248.43" cy="1864.92" rx="3.48" ry="5.13" fill="#000" opacity="0.42" filter="url(#gb1)"/>
<ellipse cx="1203.65" cy="1889.24" rx="12.83" ry="8.62" fill="#000" opacity="0.42" filter="url(#gb1)"/>
<ellipse cx="1252.1" cy="1766.49" rx="4.4" ry="8.62" fill="#000" opacity="0.42" filter="url(#gb1)"/>
<ellipse cx="1070.29" cy="1903.71" rx="7.33" ry="7.33" fill="#000" opacity="0.42" filter="url(#gb1)"/>
<ellipse cx="1236.85" cy="1901.78" rx="11" ry="7.33" fill="#000" opacity="0.42" filter="url(#gb1)"/>
<ellipse cx="1105.06" cy="1857.1" rx="0.63" ry="0.65" fill="#3cf03c" opacity="0.9" filter="url(#gb06)"/>
<ellipse cx="1103.07" cy="1854.41" rx="0.61" ry="0.58" fill="#3cf03c" opacity="0.9" filter="url(#gb06)"/>
<ellipse cx="1101.95" cy="1851.81" rx="1.22" ry="0.94" fill="#3cf03c" opacity="0.9" filter="url(#gb06)"/>
<ellipse cx="1101.75" cy="1848.86" rx="1.02" ry="0.96" fill="#3cf03c" opacity="0.9" filter="url(#gb06)"/>
<ellipse cx="1100.5" cy="1843.3" rx="0.8" ry="0.63" fill="#3cf03c" opacity="0.9" filter="url(#gb06)"/>
<ellipse cx="1101.05" cy="1841.42" rx="0.72" ry="0.75" fill="#3cf03c" opacity="0.9" filter="url(#gb06)"/>
<ellipse cx="1102.21" cy="1836.38" rx="0.63" ry="0.46" fill="#3cf03c" opacity="0.9" filter="url(#gb06)"/>
<ellipse cx="1103.68" cy="1833.9" rx="0.82" ry="0.86" fill="#3cf03c" opacity="0.9" filter="url(#gb06)"/>
<ellipse cx="1105.09" cy="1831.56" rx="1.12" ry="0.95" fill="#3cf03c" opacity="0.9" filter="url(#gb06)"/>
<ellipse cx="1107.69" cy="1829.88" rx="1.14" ry="1" fill="#3cf03c" opacity="0.9" filter="url(#gb06)"/>
<ellipse cx="1212.14" cy="1779.57" rx="0.7" ry="0.55" fill="#3cf03c" opacity="0.35" filter="url(#gb06)"/>
<ellipse cx="1211.32" cy="1783" rx="0.7" ry="0.73" fill="#3cf03c" opacity="0.35" filter="url(#gb06)"/>
<ellipse cx="1209.32" cy="1787.91" rx="0.62" ry="0.65" fill="#3cf03c" opacity="0.35" filter="url(#gb06)"/>
<ellipse cx="1208" cy="1790.83" rx="0.57" ry="0.62" fill="#3cf03c" opacity="0.35" filter="url(#gb06)"/>
<ellipse cx="1205.18" cy="1792.51" rx="0.81" ry="0.96" fill="#3cf03c" opacity="0.35" filter="url(#gb06)"/>
<ellipse cx="1200.19" cy="1794.76" rx="0.36" ry="0.35" fill="#3cf03c" opacity="0.35" filter="url(#gb06)"/>
<ellipse cx="1195.76" cy="1794.67" rx="0.7" ry="0.55" fill="#3cf03c" opacity="0.35" filter="url(#gb06)"/>
<ellipse cx="1191.55" cy="1795.79" rx="0.38" ry="0.37" fill="#3cf03c" opacity="0.35" filter="url(#gb06)"/>
<ellipse cx="1187.33" cy="1794.17" rx="0.75" ry="0.65" fill="#3cf03c" opacity="0.35" filter="url(#gb06)"/>
<ellipse cx="1183.06" cy="1792.13" rx="0.79" ry="0.63" fill="#3cf03c" opacity="0.35" filter="url(#gb06)"/>
<ellipse cx="1180.14" cy="1788.49" rx="0.57" ry="0.6" fill="#3cf03c" opacity="0.35" filter="url(#gb06)"/>
<ellipse cx="1177.27" cy="1784.87" rx="0.52" ry="0.54" fill="#3cf03c" opacity="0.35" filter="url(#gb06)"/>
<ellipse cx="1176.64" cy="1779.02" rx="0.63" ry="0.7" fill="#3cf03c" opacity="0.35" filter="url(#gb06)"/>
<ellipse cx="1176.86" cy="1777.39" rx="0.75" ry="0.89" fill="#3cf03c" opacity="0.35" filter="url(#gb06)"/>
<ellipse cx="1176.9" cy="1771.1" rx="0.64" ry="0.47" fill="#3cf03c" opacity="0.35" filter="url(#gb06)"/>
<ellipse cx="1177.98" cy="1767.9" rx="0.5" ry="0.37" fill="#3cf03c" opacity="0.35" filter="url(#gb06)"/>
<ellipse cx="1180.32" cy="1764.33" rx="0.52" ry="0.37" fill="#3cf03c" opacity="0.35" filter="url(#gb06)"/>
<ellipse cx="1186.33" cy="1760.27" rx="0.46" ry="0.42" fill="#3cf03c" opacity="0.35" filter="url(#gb06)"/>
<ellipse cx="1188.41" cy="1760.18" rx="0.81" ry="0.79" fill="#3cf03c" opacity="0.35" filter="url(#gb06)"/>
<ellipse cx="1193.01" cy="1758.18" rx="0.51" ry="0.43" fill="#3cf03c" opacity="0.35" filter="url(#gb06)"/>
<ellipse cx="1198.44" cy="1758.56" rx="0.79" ry="0.8" fill="#3cf03c" opacity="0.35" filter="url(#gb06)"/>
<ellipse cx="1201.51" cy="1759.37" rx="0.59" ry="0.76" fill="#3cf03c" opacity="0.35" filter="url(#gb06)"/>
<ellipse cx="1207.1" cy="1763.06" rx="0.52" ry="0.41" fill="#3cf03c" opacity="0.35" filter="url(#gb06)"/>
<ellipse cx="1209.63" cy="1766.98" rx="0.5" ry="0.42" fill="#3cf03c" opacity="0.35" filter="url(#gb06)"/>
<ellipse cx="1212.45" cy="1771.09" rx="0.72" ry="0.86" fill="#3cf03c" opacity="0.35" filter="url(#gb06)"/>
<ellipse cx="1212.33" cy="1774.67" rx="0.51" ry="0.37" fill="#3cf03c" opacity="0.35" filter="url(#gb06)"/>
<ellipse cx="1239.82" cy="1850.1" rx="1.11" ry="1.42" fill="#3cf03c" opacity="0.9" filter="url(#gb06)"/>
<ellipse cx="1242.45" cy="1854.05" rx="1.32" ry="1.21" fill="#3cf03c" opacity="0.9" filter="url(#gb06)"/>
<ellipse cx="1241.63" cy="1855.39" rx="0.74" ry="0.79" fill="#3cf03c" opacity="0.9" filter="url(#gb06)"/>
<ellipse cx="1241.4" cy="1859.61" rx="1.08" ry="1.28" fill="#3cf03c" opacity="0.9" filter="url(#gb06)"/>
<ellipse cx="1240.29" cy="1861.18" rx="1.18" ry="1.36" fill="#3cf03c" opacity="0.9" filter="url(#gb06)"/>
<ellipse cx="1237.13" cy="1861.63" rx="0.84" ry="0.99" fill="#3cf03c" opacity="0.9" filter="url(#gb06)"/>
<ellipse cx="1235.67" cy="1868.81" rx="1.05" ry="1.19" fill="#3cf03c" opacity="0.5" filter="url(#gb06)"/>
<ellipse cx="1234.16" cy="1869.96" rx="1.02" ry="1.21" fill="#3cf03c" opacity="0.5" filter="url(#gb06)"/>
<ellipse cx="1231.75" cy="1873.21" rx="0.87" ry="0.79" fill="#3cf03c" opacity="0.5" filter="url(#gb06)"/>
<ellipse cx="1225.22" cy="1871.7" rx="1.06" ry="1.16" fill="#3cf03c" opacity="0.5" filter="url(#gb06)"/>
<ellipse cx="1222.98" cy="1870.35" rx="1" ry="1.2" fill="#3cf03c" opacity="0.5" filter="url(#gb06)"/>
<ellipse cx="1220.54" cy="1867.64" rx="0.61" ry="0.64" fill="#3cf03c" opacity="0.5" filter="url(#gb06)"/>
<ellipse cx="1104.79" cy="1778.44" rx="1.03" ry="0.94" fill="#3cf03c" opacity="0.4" filter="url(#gb06)"/>
<ellipse cx="1099.19" cy="1782.74" rx="0.72" ry="0.9" fill="#3cf03c" opacity="0.4" filter="url(#gb06)"/>
<ellipse cx="1093.68" cy="1779.25" rx="0.47" ry="0.46" fill="#3cf03c" opacity="0.4" filter="url(#gb06)"/>
<ellipse cx="1094.3" cy="1776.04" rx="0.57" ry="0.56" fill="#3cf03c" opacity="0.4" filter="url(#gb06)"/>
<ellipse cx="1103.72" cy="1775.48" rx="0.78" ry="0.81" fill="#3cf03c" opacity="0.4" filter="url(#gb06)"/>
<ellipse cx="1111.74" cy="1840.88" rx="0.62" ry="0.53" fill="#3cf03c" opacity="0.5" filter="url(#gb06)"/>
<ellipse cx="1115.62" cy="1843.39" rx="0.93" ry="1.16" fill="#3cf03c" opacity="0.5" filter="url(#gb06)"/>
<ellipse cx="1117.65" cy="1846.33" rx="0.78" ry="0.87" fill="#3cf03c" opacity="0.5" filter="url(#gb06)"/>
<ellipse cx="1118.57" cy="1850.83" rx="1.04" ry="1.17" fill="#3cf03c" opacity="0.5" filter="url(#gb06)"/>
<ellipse cx="1118.28" cy="1856.23" rx="0.81" ry="1.02" fill="#3cf03c" opacity="0.5" filter="url(#gb06)"/>
<ellipse cx="1114.73" cy="1859.68" rx="0.74" ry="0.55" fill="#3cf03c" opacity="0.5" filter="url(#gb06)"/>
<ellipse cx="1155.02" cy="1725.57" rx="5.52" ry="1.51" fill="#45ff45" opacity="1" filter="url(#gb06)" transform="rotate(60 1155.02 1725.57)"/>
<ellipse cx="1151.35" cy="1722.29" rx="1.51" ry="1.25" fill="#45ff45" opacity="1" filter="url(#gb06)"/>
<ellipse cx="1176.44" cy="1725.57" rx="2.51" ry="1.25" fill="#45ff45" opacity="1" filter="url(#gb06)"/>
<ellipse cx="1180.3" cy="1727.12" rx="1.51" ry="1" fill="#45ff45" opacity="1" filter="url(#gb06)"/>
<ellipse cx="1106.96" cy="1718.43" rx="2.51" ry="1.51" fill="#45ff45" opacity="1" filter="url(#gb06)"/>
<ellipse cx="1068.17" cy="1734.64" rx="1.51" ry="2.51" fill="#45ff45" opacity="1" filter="url(#gb06)"/>
<ellipse cx="1123.56" cy="1764.75" rx="4.52" ry="1.51" fill="#45ff45" opacity="1" filter="url(#gb06)" transform="rotate(-50 1123.56 1764.75)"/>
<ellipse cx="1122.01" cy="1767.07" rx="1.51" ry="1" fill="#45ff45" opacity="1" filter="url(#gb06)"/>
<ellipse cx="1145.95" cy="1783.09" rx="2.01" ry="1.51" fill="#45ff45" opacity="1" filter="url(#gb06)"/>
<ellipse cx="1147.49" cy="1785.98" rx="1.51" ry="1.51" fill="#45ff45" opacity="1" filter="url(#gb06)"/>
<ellipse cx="1190.91" cy="1810.49" rx="4.01" ry="6.27" fill="#45ff45" opacity="1" filter="url(#gb06)"/>
<ellipse cx="1188.98" cy="1807.21" rx="2.51" ry="2.01" fill="#45ff45" opacity="1" filter="url(#gb06)"/>
<ellipse cx="1193.42" cy="1813" rx="2.01" ry="2.51" fill="#45ff45" opacity="1" filter="url(#gb06)"/>
<ellipse cx="1191.88" cy="1805.28" rx="1.51" ry="1.51" fill="#45ff45" opacity="1" filter="url(#gb06)"/>
<ellipse cx="1144.6" cy="1818.02" rx="2.51" ry="2.01" fill="#45ff45" opacity="1" filter="url(#gb06)"/>
<ellipse cx="1182.23" cy="1840.98" rx="6.02" ry="1.76" fill="#45ff45" opacity="1" filter="url(#gb06)" transform="rotate(60 1182.23 1840.98)"/>
<ellipse cx="1185.12" cy="1847.74" rx="2.01" ry="1.51" fill="#45ff45" opacity="1" filter="url(#gb06)"/>
<ellipse cx="1187.06" cy="1849.67" rx="3.01" ry="1.51" fill="#45ff45" opacity="1" filter="url(#gb06)"/>
<ellipse cx="1129.54" cy="1873.99" rx="3.01" ry="6.27" fill="#45ff45" opacity="1" filter="url(#gb06)"/>
<ellipse cx="1133.98" cy="1876.69" rx="2.51" ry="1.76" fill="#45ff45" opacity="1" filter="url(#gb06)"/>
<ellipse cx="1132.05" cy="1870.9" rx="1.51" ry="1.51" fill="#45ff45" opacity="1" filter="url(#gb06)"/>
<ellipse cx="1161" cy="1870.9" rx="5.52" ry="1.51" fill="#45ff45" opacity="1" filter="url(#gb06)" transform="rotate(40 1161 1870.9)"/>
<ellipse cx="1166.79" cy="1873.8" rx="2.51" ry="1.51" fill="#45ff45" opacity="1" filter="url(#gb06)"/>
<ellipse cx="1169.68" cy="1872.83" rx="1.51" ry="1.25" fill="#45ff45" opacity="1" filter="url(#gb06)"/>
<ellipse cx="1253.83" cy="1781.54" rx="2.01" ry="3.01" fill="#45ff45" opacity="1" filter="url(#gb06)"/>
<ellipse cx="1083.03" cy="1905.64" rx="2.01" ry="2.01" fill="#45ff45" opacity="1" filter="url(#gb06)"/>
<ellipse cx="1065.08" cy="1894.06" rx="1.51" ry="1.51" fill="#45ff45" opacity="1" filter="url(#gb06)"/>
<g style="mix-blend-mode:screen">
<ellipse cx="1167.37" cy="1724.03" rx="13.51" ry="7.53" fill="#1a26d8" opacity="0.55" filter="url(#gb15)"/>
<ellipse cx="1115.84" cy="1761.86" rx="10.62" ry="9.07" fill="#1a26d8" opacity="0.6" filter="url(#gb15)"/>
<ellipse cx="1087.27" cy="1784.63" rx="11.58" ry="9.65" fill="#1a26d8" opacity="0.7" filter="url(#gb15)"/>
<ellipse cx="1138.61" cy="1792.16" rx="11.58" ry="9.65" fill="#1a26d8" opacity="0.7" filter="url(#gb15)" transform="rotate(-15 1138.61 1792.16)"/>
<ellipse cx="1194.58" cy="1777.1" rx="16.6" ry="16.6" fill="#1a26d8" opacity="0.5" filter="url(#gb15)"/>
<ellipse cx="1161.39" cy="1818.02" rx="9.07" ry="9.65" fill="#1a26d8" opacity="0.65" filter="url(#gb15)"/>
<ellipse cx="1182.42" cy="1813.39" rx="10.62" ry="9.65" fill="#1a26d8" opacity="0.65" filter="url(#gb15)"/>
<ellipse cx="1150.77" cy="1828.63" rx="7.53" ry="6.56" fill="#1a26d8" opacity="0.6" filter="url(#gb15)"/>
<ellipse cx="1112.94" cy="1840.79" rx="9.07" ry="15.05" fill="#1a26d8" opacity="0.55" filter="url(#gb15)"/>
<ellipse cx="1193.04" cy="1839.25" rx="11.58" ry="9.07" fill="#1a26d8" opacity="0.6" filter="url(#gb15)"/>
<ellipse cx="1221.8" cy="1830.18" rx="13.51" ry="9.07" fill="#1a26d8" opacity="0.55" filter="url(#gb15)"/>
<ellipse cx="1138.61" cy="1866.46" rx="12.16" ry="9.65" fill="#1a26d8" opacity="0.5" filter="url(#gb15)"/>
<ellipse cx="1164.28" cy="1862.02" rx="11.58" ry="9.07" fill="#1a26d8" opacity="0.55" filter="url(#gb15)"/>
<ellipse cx="1221.8" cy="1866.46" rx="7.53" ry="9.65" fill="#1a26d8" opacity="0.5" filter="url(#gb15)"/>
<ellipse cx="1236.85" cy="1856.81" rx="4.63" ry="4.63" fill="#1a26d8" opacity="0.95" filter="url(#gb15)"/>
<ellipse cx="1248.43" cy="1864.92" rx="3.67" ry="5.4" fill="#1a26d8" opacity="0.95" filter="url(#gb15)"/>
<ellipse cx="1203.65" cy="1889.24" rx="13.51" ry="9.07" fill="#1a26d8" opacity="0.45" filter="url(#gb15)"/>
<ellipse cx="1252.1" cy="1766.49" rx="4.63" ry="9.07" fill="#1a26d8" opacity="0.45" filter="url(#gb15)"/>
<ellipse cx="1070.29" cy="1903.71" rx="7.72" ry="7.72" fill="#1a26d8" opacity="0.4" filter="url(#gb15)"/>
<ellipse cx="1236.85" cy="1901.78" rx="11.58" ry="7.72" fill="#1a26d8" opacity="0.4" filter="url(#gb15)"/>
</g></g>
<line x1="1234.34" y1="1900.82" x2="1249.78" y2="1900.82" stroke="#ddd" stroke-width="1.2" />
<text transform="translate(651.5,1417.5) rotate(-90)" font-size="24" text-anchor="middle" fill="#000">DMSO</text>
<text transform="translate(651.5,1616.7) rotate(-90)" font-size="24" text-anchor="middle" fill="#000">iFSP1</text>
<text transform="translate(651.5,1814) rotate(-90)" font-size="24" text-anchor="middle" fill="#000">icFSP1</text>
<text x="923.6" y="1946.5" font-size="25" font-weight="bold" text-anchor="middle">Pfa1 <tspan font-style="italic">Gpx4</tspan><tspan dx="3.75" dy="-10" font-size="14.5">WT</tspan><tspan dy="10"> FSP1-EGFP-Strep</tspan></text>
<text x="1350" y="1314.2" font-size="33" text-anchor="start" fill="#000" font-weight="bold" >p</text>
<text x="1432.3" y="1331" font-size="24.7" text-anchor="start" fill="#000" >+ icFSP1</text>
<text x="1532" y="1367.5" font-size="25" text-anchor="middle" fill="#3aa648" >FSP1-EGFP</text>
<text x="1705.3" y="1367.5" font-size="25" text-anchor="middle" fill="#2a6db5" >DAPI</text>
<text x="1891.9" y="1367.5" font-size="25" text-anchor="middle" fill="#3aa648">MER<tspan fill="#2f7fa0">G</tspan><tspan fill="#2a6db5">E</tspan></text>
<rect x="1440.6" y="1377.2" width="174" height="174" fill="#000"/>
<g clip-path="url(#ct1440_1377)">
<path d="M1486.23,1466.23 C1484.79,1471.02 1482.96,1478.33 1480.18,1481.06 C1477.4,1483.8 1472,1484.69 1469.56,1482.65 C1467.13,1480.61 1466.4,1472.48 1465.55,1468.84 C1464.69,1465.2 1463.37,1463.77 1464.44,1460.81 C1465.51,1457.85 1469.48,1453.64 1471.98,1451.07 C1474.47,1448.5 1476.58,1445.17 1479.38,1445.37 C1482.19,1445.58 1487.67,1448.82 1488.81,1452.3 C1489.95,1455.78 1487.67,1461.44 1486.23,1466.23Z" fill="#248024" opacity="0.09" filter="url(#gb2)"/>
<path d="M1468.74,1464.23 C1468.96,1461.31 1471.06,1454.58 1472.96,1453.39 C1474.86,1452.21 1478.49,1454.96 1480.13,1457.13 C1481.77,1459.31 1482.93,1463.35 1482.78,1466.44 C1482.63,1469.52 1481.09,1474.9 1479.23,1475.64 C1477.37,1476.39 1473.38,1472.82 1471.63,1470.92 C1469.88,1469.02 1468.52,1467.15 1468.74,1464.23Z" fill="#3aa83a" opacity="0.04" filter="url(#gb2)"/>
<path d="M1526.03,1419.4 C1524.35,1416.86 1523.34,1411.44 1523.07,1407.61 C1522.79,1403.78 1523.24,1400.25 1524.38,1396.42 C1525.51,1392.59 1527.65,1386.29 1529.87,1384.64 C1532.09,1382.99 1535.75,1383.66 1537.7,1386.52 C1539.65,1389.37 1541.38,1397.17 1541.57,1401.75 C1541.76,1406.32 1540.25,1410.45 1538.84,1413.96 C1537.43,1417.48 1535.25,1421.93 1533.12,1422.84 C1530.98,1423.75 1527.7,1421.94 1526.03,1419.4Z" fill="#248024" opacity="0.11" filter="url(#gb2)"/>
<path d="M1531.66,1416.84 C1530.07,1416.76 1527.9,1414.02 1526.96,1411.6 C1526.02,1409.17 1525.23,1405.36 1526.01,1402.28 C1526.8,1399.2 1530,1393.65 1531.68,1393.13 C1533.37,1392.61 1535.32,1396 1536.13,1399.15 C1536.94,1402.3 1537.27,1409.09 1536.52,1412.04 C1535.78,1414.99 1533.26,1416.91 1531.66,1416.84Z" fill="#3aa83a" opacity="0.05" filter="url(#gb2)"/>
<path d="M1570.11,1541.35 C1567.65,1544.34 1564.45,1551.51 1561.61,1550.35 C1558.76,1549.19 1554.24,1539.16 1553.06,1534.4 C1551.87,1529.64 1553.09,1526.33 1554.49,1521.8 C1555.88,1517.27 1558.86,1509.32 1561.44,1507.21 C1564.01,1505.1 1567.85,1507.69 1569.93,1509.15 C1572,1510.61 1572.82,1512.1 1573.9,1515.97 C1574.98,1519.84 1577.01,1528.14 1576.38,1532.37 C1575.75,1536.6 1572.57,1538.35 1570.11,1541.35Z" fill="#248024" opacity="0.11" filter="url(#gb2)"/>
<path d="M1560.84,1522.27 C1561.37,1518.74 1562.4,1514.38 1564.01,1513.21 C1565.62,1512.04 1569.49,1512.53 1570.53,1515.25 C1571.56,1517.97 1570.87,1526.12 1570.23,1529.53 C1569.59,1532.95 1568.25,1534.92 1566.68,1535.72 C1565.12,1536.53 1561.81,1536.62 1560.84,1534.37 C1559.86,1532.13 1560.31,1525.8 1560.84,1522.27Z" fill="#3aa83a" opacity="0.05" filter="url(#gb2)"/>
<path d="M1592.11,1460.02 C1594.76,1458.02 1597.78,1462.45 1601.15,1463.69 C1604.53,1464.92 1609.92,1465.88 1612.36,1467.43 C1614.8,1468.98 1616.14,1470.29 1615.8,1472.97 C1615.46,1475.64 1612.68,1481.1 1610.34,1483.47 C1608.01,1485.83 1604.43,1487.31 1601.81,1487.17 C1599.19,1487.03 1597.39,1484.53 1594.63,1482.61 C1591.87,1480.69 1585.66,1479.41 1585.24,1475.65 C1584.82,1471.88 1589.46,1462.01 1592.11,1460.02Z" fill="#248024" opacity="0.14" filter="url(#gb2)"/>
<path d="M1609.2,1472.95 C1609.92,1474.87 1608.99,1476.08 1607.85,1478.06 C1606.71,1480.04 1604.15,1484.84 1602.34,1484.85 C1600.52,1484.87 1597.83,1480.46 1596.97,1478.16 C1596.11,1475.86 1596.11,1473.01 1597.2,1471.07 C1598.28,1469.13 1601.5,1466.22 1603.5,1466.54 C1605.5,1466.85 1608.47,1471.03 1609.2,1472.95Z" fill="#3aa83a" opacity="0.06" filter="url(#gb2)"/>
<path d="M1520.61,1491.91 C1519.15,1496 1512.1,1501.26 1508.41,1502.98 C1504.71,1504.7 1501.13,1504.38 1498.45,1502.24 C1495.78,1500.1 1493.45,1494.09 1492.35,1490.14 C1491.24,1486.18 1491.04,1481.37 1491.81,1478.5 C1492.59,1475.64 1494.69,1474.25 1497.01,1472.94 C1499.33,1471.63 1502.38,1469.74 1505.75,1470.65 C1509.11,1471.56 1514.72,1474.88 1517.2,1478.42 C1519.68,1481.96 1522.08,1487.81 1520.61,1491.91Z" fill="#248024" opacity="0.09" filter="url(#gb2)"/>
<path d="M1498.48,1493.37 C1497,1492.07 1496.26,1487.76 1496.59,1484.9 C1496.93,1482.04 1498.17,1477.38 1500.48,1476.2 C1502.8,1475.02 1508.85,1475.9 1510.47,1477.82 C1512.09,1479.74 1511.02,1485.23 1510.19,1487.72 C1509.36,1490.2 1507.42,1491.77 1505.47,1492.71 C1503.52,1493.65 1499.96,1494.68 1498.48,1493.37Z" fill="#3aa83a" opacity="0.04" filter="url(#gb2)"/>
<path d="M1468.98,1519.01 C1470.59,1522.86 1472,1531.65 1470.47,1534.76 C1468.94,1537.86 1463.18,1536.04 1459.82,1537.65 C1456.45,1539.27 1452.89,1545.05 1450.28,1544.45 C1447.68,1543.86 1445.72,1538.04 1444.19,1534.07 C1442.66,1530.1 1440.4,1523.89 1441.08,1520.66 C1441.77,1517.42 1445.02,1516.18 1448.31,1514.68 C1451.6,1513.17 1457.39,1510.9 1460.84,1511.62 C1464.28,1512.35 1467.38,1515.15 1468.98,1519.01Z" fill="#248024" opacity="0.14" filter="url(#gb2)"/>
<path d="M1461.68,1528.64 C1461.1,1531.05 1458.91,1534.64 1456.85,1535.17 C1454.79,1535.7 1450.68,1533.68 1449.3,1531.85 C1447.93,1530.01 1448.01,1526.06 1448.61,1524.14 C1449.21,1522.21 1450.96,1520.86 1452.91,1520.29 C1454.86,1519.71 1458.85,1519.3 1460.32,1520.7 C1461.78,1522.09 1462.25,1526.23 1461.68,1528.64Z" fill="#3aa83a" opacity="0.06" filter="url(#gb2)"/>
<path d="M1449.23,1446.59 C1451.3,1444.91 1451.76,1441.73 1454.52,1440.9 C1457.27,1440.07 1463.39,1440.38 1465.74,1441.63 C1468.09,1442.89 1468.02,1445.9 1468.6,1448.44 C1469.18,1450.98 1470.8,1454.32 1469.23,1456.87 C1467.66,1459.42 1462.1,1463.27 1459.16,1463.73 C1456.22,1464.19 1454.43,1461.78 1451.59,1459.65 C1448.74,1457.53 1442.47,1453.15 1442.08,1450.98 C1441.68,1448.8 1447.16,1448.27 1449.23,1446.59Z" fill="#248024" opacity="0.09" filter="url(#gb2)"/>
<path d="M1451.73,1446.45 C1452.86,1445.09 1456.12,1443.07 1458.1,1443.5 C1460.08,1443.92 1462.68,1447.3 1463.6,1449 C1464.52,1450.7 1464.58,1452.64 1463.62,1453.7 C1462.67,1454.76 1459.89,1455.69 1457.85,1455.35 C1455.8,1455.02 1452.37,1453.16 1451.35,1451.68 C1450.33,1450.19 1450.61,1447.82 1451.73,1446.45Z" fill="#3aa83a" opacity="0.04" filter="url(#gb2)"/>
<path d="M1555.13,1464.3 C1552.22,1461.81 1550.13,1458.55 1550.32,1455.31 C1550.51,1452.08 1552.73,1447.33 1556.27,1444.89 C1559.8,1442.45 1566.78,1440.18 1571.51,1440.67 C1576.25,1441.16 1582.35,1444.87 1584.68,1447.82 C1587.02,1450.77 1585.78,1455.62 1585.53,1458.37 C1585.28,1461.11 1586.13,1462.32 1583.17,1464.3 C1580.22,1466.27 1572.47,1470.21 1567.8,1470.21 C1563.13,1470.21 1558.05,1466.78 1555.13,1464.3Z" fill="#248024" opacity="0.08" filter="url(#gb2)"/>
<path d="M1581.01,1452.46 C1582.55,1454.13 1582.21,1458.41 1580.29,1460.03 C1578.37,1461.64 1572.18,1462.41 1569.49,1462.17 C1566.79,1461.93 1565.03,1460.48 1564.12,1458.57 C1563.21,1456.66 1562.87,1452.15 1564.03,1450.72 C1565.19,1449.29 1568.24,1449.7 1571.07,1449.99 C1573.9,1450.28 1579.47,1450.79 1581.01,1452.46Z" fill="#3aa83a" opacity="0.03" filter="url(#gb2)"/>
<path d="M1502.18,1380.08 C1502.79,1381.53 1501.37,1381.82 1500.61,1382.96 C1499.86,1384.09 1499.63,1386.44 1497.65,1386.89 C1495.66,1387.34 1491.27,1386.31 1488.72,1385.66 C1486.17,1385.01 1483.64,1384.25 1482.34,1382.99 C1481.05,1381.74 1479.82,1379.38 1480.98,1378.11 C1482.14,1376.85 1486.66,1376.06 1489.32,1375.42 C1491.98,1374.77 1494.79,1373.44 1496.94,1374.22 C1499.08,1375 1501.56,1378.62 1502.18,1380.08Z" fill="#248024" opacity="0.15" filter="url(#gb2)"/>
<path d="M1496.54,1378.58 C1497.52,1379.54 1499.56,1381.68 1499.14,1382.6 C1498.71,1383.52 1495.8,1384.09 1493.97,1384.1 C1492.15,1384.11 1489.61,1383.39 1488.17,1382.67 C1486.72,1381.94 1484.44,1380.74 1485.29,1379.77 C1486.14,1378.81 1491.37,1377.07 1493.25,1376.88 C1495.12,1376.68 1495.55,1377.63 1496.54,1378.58Z" fill="#3aa83a" opacity="0.07" filter="url(#gb2)"/>
<ellipse cx="1494.97" cy="1379.98" rx="8.82" ry="4.3" fill="none" stroke="#46cc46" stroke-width="2.61" opacity="0.08" filter="url(#gb15)"/>
<ellipse cx="1530.38" cy="1404.34" rx="8.82" ry="12.44" fill="none" stroke="#46cc46" stroke-width="2.61" opacity="0.06" filter="url(#gb15)" transform="rotate(-10 1530.38 1404.34)"/>
<ellipse cx="1458.35" cy="1450.63" rx="11.31" ry="8.82" fill="none" stroke="#46cc46" stroke-width="2.61" opacity="0.05" filter="url(#gb15)"/>
<ellipse cx="1475.4" cy="1466.98" rx="12.44" ry="14.93" fill="none" stroke="#46cc46" stroke-width="2.61" opacity="0.05" filter="url(#gb15)"/>
<ellipse cx="1503.07" cy="1480.56" rx="12.44" ry="14.93" fill="none" stroke="#46cc46" stroke-width="2.61" opacity="0.05" filter="url(#gb15)"/>
<ellipse cx="1569.71" cy="1456.02" rx="12.44" ry="8.82" fill="none" stroke="#46cc46" stroke-width="2.61" opacity="0.04" filter="url(#gb15)"/>
<ellipse cx="1599.64" cy="1476.38" rx="10.63" ry="10.63" fill="none" stroke="#46cc46" stroke-width="2.61" opacity="0.07" filter="url(#gb15)"/>
<ellipse cx="1455.56" cy="1524.06" rx="13.57" ry="12.44" fill="none" stroke="#46cc46" stroke-width="2.61" opacity="0.07" filter="url(#gb15)" transform="rotate(-15 1455.56 1524.06)"/>
<ellipse cx="1565.88" cy="1530.84" rx="8.82" ry="13.57" fill="none" stroke="#46cc46" stroke-width="2.61" opacity="0.06" filter="url(#gb15)"/>
<ellipse cx="1458.35" cy="1390.77" rx="7.77" ry="9.09" fill="#000" opacity="0.42" filter="url(#gb1)"/>
<ellipse cx="1494.97" cy="1379.98" rx="6.45" ry="3.14" fill="#000" opacity="0.42" filter="url(#gb1)"/>
<ellipse cx="1475.4" cy="1416.7" rx="6.45" ry="9.09" fill="#000" opacity="0.42" filter="url(#gb1)"/>
<ellipse cx="1530.38" cy="1404.34" rx="6.45" ry="9.09" fill="#000" opacity="0.42" filter="url(#gb1)" transform="rotate(-10 1530.38 1404.34)"/>
<ellipse cx="1605.03" cy="1409.91" rx="5.62" ry="9.09" fill="#000" opacity="0.42" filter="url(#gb1)"/>
<ellipse cx="1458.35" cy="1450.63" rx="8.27" ry="6.45" fill="#000" opacity="0.42" filter="url(#gb1)"/>
<ellipse cx="1475.4" cy="1466.98" rx="9.09" ry="10.91" fill="#000" opacity="0.42" filter="url(#gb1)"/>
<ellipse cx="1503.07" cy="1480.56" rx="9.09" ry="10.91" fill="#000" opacity="0.42" filter="url(#gb1)"/>
<ellipse cx="1523.6" cy="1476.38" rx="8.27" ry="9.09" fill="#000" opacity="0.42" filter="url(#gb1)" transform="rotate(-20 1523.6 1476.38)"/>
<ellipse cx="1569.71" cy="1456.02" rx="9.09" ry="6.45" fill="#000" opacity="0.42" filter="url(#gb1)"/>
<ellipse cx="1598.24" cy="1446.45" rx="9.09" ry="6.45" fill="#000" opacity="0.42" filter="url(#gb1)" transform="rotate(15 1598.24 1446.45)"/>
<ellipse cx="1599.64" cy="1476.38" rx="7.77" ry="7.77" fill="#000" opacity="0.42" filter="url(#gb1)"/>
<ellipse cx="1455.56" cy="1524.06" rx="9.92" ry="9.09" fill="#000" opacity="0.42" filter="url(#gb1)" transform="rotate(-15 1455.56 1524.06)"/>
<ellipse cx="1565.88" cy="1530.84" rx="6.45" ry="9.92" fill="#000" opacity="0.42" filter="url(#gb1)"/>
<ellipse cx="1453.83" cy="1401.53" rx="0.92" ry="0.94" fill="#3cf03c" opacity="1" filter="url(#gb06)"/>
<ellipse cx="1451.52" cy="1400.43" rx="0.88" ry="0.84" fill="#3cf03c" opacity="1" filter="url(#gb06)"/>
<ellipse cx="1450.03" cy="1399.15" rx="1.76" ry="1.36" fill="#3cf03c" opacity="1" filter="url(#gb06)"/>
<ellipse cx="1449.14" cy="1397.82" rx="1.48" ry="1.39" fill="#3cf03c" opacity="1" filter="url(#gb06)"/>
<ellipse cx="1447.09" cy="1394.35" rx="1.16" ry="0.91" fill="#3cf03c" opacity="1" filter="url(#gb06)"/>
<ellipse cx="1447.31" cy="1393.09" rx="1.04" ry="1.09" fill="#3cf03c" opacity="1" filter="url(#gb06)"/>
<ellipse cx="1447.71" cy="1389.46" rx="0.91" ry="0.67" fill="#3cf03c" opacity="1" filter="url(#gb06)"/>
<ellipse cx="1448.75" cy="1387.57" rx="1.19" ry="1.25" fill="#3cf03c" opacity="1" filter="url(#gb06)"/>
<ellipse cx="1449.73" cy="1385.74" rx="1.61" ry="1.37" fill="#3cf03c" opacity="1" filter="url(#gb06)"/>
<ellipse cx="1451.97" cy="1384.21" rx="1.65" ry="1.44" fill="#3cf03c" opacity="1" filter="url(#gb06)"/>
<ellipse cx="1468.37" cy="1411.44" rx="1.47" ry="1.16" fill="#3cf03c" opacity="1" filter="url(#gb06)"/>
<ellipse cx="1469.01" cy="1410.55" rx="1.48" ry="1.54" fill="#3cf03c" opacity="1" filter="url(#gb06)"/>
<ellipse cx="1471.39" cy="1408.88" rx="1.31" ry="1.37" fill="#3cf03c" opacity="1" filter="url(#gb06)"/>
<ellipse cx="1473.65" cy="1408.59" rx="1.19" ry="1.31" fill="#3cf03c" opacity="1" filter="url(#gb06)"/>
<ellipse cx="1475.16" cy="1407.87" rx="1.7" ry="2.03" fill="#3cf03c" opacity="1" filter="url(#gb06)"/>
<ellipse cx="1477.27" cy="1408.15" rx="0.75" ry="0.74" fill="#3cf03c" opacity="1" filter="url(#gb06)"/>
<ellipse cx="1478.8" cy="1408.1" rx="1.48" ry="1.15" fill="#3cf03c" opacity="1" filter="url(#gb06)"/>
<ellipse cx="1480.88" cy="1410.68" rx="0.81" ry="0.78" fill="#3cf03c" opacity="1" filter="url(#gb06)"/>
<ellipse cx="1468" cy="1453.62" rx="1.35" ry="1.17" fill="#3cf03c" opacity="0.9" filter="url(#gb06)"/>
<ellipse cx="1465.91" cy="1456.72" rx="1.43" ry="1.13" fill="#3cf03c" opacity="0.9" filter="url(#gb06)"/>
<ellipse cx="1463.23" cy="1458" rx="1.03" ry="1.09" fill="#3cf03c" opacity="0.9" filter="url(#gb06)"/>
<ellipse cx="1458.77" cy="1459.64" rx="0.93" ry="0.97" fill="#3cf03c" opacity="0.9" filter="url(#gb06)"/>
<ellipse cx="1453.84" cy="1458.98" rx="1.14" ry="1.26" fill="#3cf03c" opacity="0.9" filter="url(#gb06)"/>
<ellipse cx="1452.48" cy="1458.46" rx="1.36" ry="1.6" fill="#3cf03c" opacity="0.9" filter="url(#gb06)"/>
<ellipse cx="1448.85" cy="1454.1" rx="1.16" ry="0.85" fill="#3cf03c" opacity="0.9" filter="url(#gb06)"/>
<ellipse cx="1448.03" cy="1451.41" rx="0.91" ry="0.67" fill="#3cf03c" opacity="0.9" filter="url(#gb06)"/>
<ellipse cx="1448.89" cy="1448.07" rx="0.93" ry="0.67" fill="#3cf03c" opacity="0.9" filter="url(#gb06)"/>
<ellipse cx="1454.1" cy="1444.44" rx="0.84" ry="0.76" fill="#3cf03c" opacity="0.9" filter="url(#gb06)"/>
<ellipse cx="1456.27" cy="1444.74" rx="1.46" ry="1.43" fill="#3cf03c" opacity="0.9" filter="url(#gb06)"/>
<ellipse cx="1460.75" cy="1444.12" rx="0.91" ry="0.78" fill="#3cf03c" opacity="0.9" filter="url(#gb06)"/>
<ellipse cx="1465" cy="1446.47" rx="1.42" ry="1.44" fill="#3cf03c" opacity="0.9" filter="url(#gb06)"/>
<ellipse cx="1466.84" cy="1448.25" rx="1.07" ry="1.37" fill="#3cf03c" opacity="0.9" filter="url(#gb06)"/>
<ellipse cx="1464.6" cy="1457.56" rx="1.24" ry="1" fill="#3cf03c" opacity="1" filter="url(#gb06)"/>
<ellipse cx="1462.18" cy="1459.47" rx="1.2" ry="1" fill="#3cf03c" opacity="1" filter="url(#gb06)"/>
<ellipse cx="1460.1" cy="1460.25" rx="1.73" ry="2.06" fill="#3cf03c" opacity="1" filter="url(#gb06)"/>
<ellipse cx="1456.39" cy="1459.81" rx="1.23" ry="0.88" fill="#3cf03c" opacity="1" filter="url(#gb06)"/>
<ellipse cx="1454.9" cy="1459.17" rx="1.61" ry="2.05" fill="#3cf03c" opacity="1" filter="url(#gb06)"/>
<ellipse cx="1452.74" cy="1458.89" rx="1.9" ry="1.74" fill="#3cf03c" opacity="1" filter="url(#gb06)"/>
<ellipse cx="1514.16" cy="1481.77" rx="0.8" ry="0.86" fill="#3cf03c" opacity="0.85" filter="url(#gb06)"/>
<ellipse cx="1513.95" cy="1488.24" rx="1.17" ry="1.38" fill="#3cf03c" opacity="0.85" filter="url(#gb06)"/>
<ellipse cx="1512.89" cy="1490.83" rx="1.28" ry="1.47" fill="#3cf03c" opacity="0.85" filter="url(#gb06)"/>
<ellipse cx="1509.47" cy="1494.64" rx="0.9" ry="1.07" fill="#3cf03c" opacity="0.85" filter="url(#gb06)"/>
<ellipse cx="1506.02" cy="1496.59" rx="1.42" ry="1.61" fill="#3cf03c" opacity="0.85" filter="url(#gb06)"/>
<ellipse cx="1504" cy="1496.67" rx="1.38" ry="1.64" fill="#3cf03c" opacity="0.85" filter="url(#gb06)"/>
<ellipse cx="1501.81" cy="1497.71" rx="1.18" ry="1.07" fill="#3cf03c" opacity="0.85" filter="url(#gb06)"/>
<ellipse cx="1497.08" cy="1494.5" rx="1.44" ry="1.57" fill="#3cf03c" opacity="0.85" filter="url(#gb06)"/>
<ellipse cx="1495.7" cy="1492.37" rx="1.35" ry="1.62" fill="#3cf03c" opacity="0.85" filter="url(#gb06)"/>
<ellipse cx="1493.17" cy="1489.3" rx="0.83" ry="0.87" fill="#3cf03c" opacity="0.85" filter="url(#gb06)"/>
<ellipse cx="1492.14" cy="1484.83" rx="1.39" ry="1.26" fill="#3cf03c" opacity="0.85" filter="url(#gb06)"/>
<ellipse cx="1492.08" cy="1480.93" rx="0.98" ry="1.22" fill="#3cf03c" opacity="0.85" filter="url(#gb06)"/>
<ellipse cx="1492.75" cy="1475.95" rx="0.64" ry="0.62" fill="#3cf03c" opacity="0.85" filter="url(#gb06)"/>
<ellipse cx="1493.23" cy="1473.14" rx="0.77" ry="0.76" fill="#3cf03c" opacity="0.85" filter="url(#gb06)"/>
<ellipse cx="1497.03" cy="1468.34" rx="1.06" ry="1.09" fill="#3cf03c" opacity="0.85" filter="url(#gb06)"/>
<ellipse cx="1499.41" cy="1466.7" rx="0.83" ry="0.72" fill="#3cf03c" opacity="0.85" filter="url(#gb06)"/>
<ellipse cx="1503.13" cy="1466.03" rx="1.26" ry="1.57" fill="#3cf03c" opacity="0.85" filter="url(#gb06)"/>
<ellipse cx="1505.85" cy="1466.32" rx="1.05" ry="1.18" fill="#3cf03c" opacity="0.85" filter="url(#gb06)"/>
<ellipse cx="1508.77" cy="1467.87" rx="1.41" ry="1.58" fill="#3cf03c" opacity="0.85" filter="url(#gb06)"/>
<ellipse cx="1512.46" cy="1471.1" rx="1.09" ry="1.38" fill="#3cf03c" opacity="0.85" filter="url(#gb06)"/>
<ellipse cx="1513.03" cy="1474.58" rx="1" ry="0.74" fill="#3cf03c" opacity="0.85" filter="url(#gb06)"/>
<ellipse cx="1513.62" cy="1478.05" rx="1.28" ry="1.59" fill="#3cf03c" opacity="0.85" filter="url(#gb06)"/>
<ellipse cx="1509" cy="1495.53" rx="1.24" ry="1.53" fill="#3cf03c" opacity="1" filter="url(#gb06)"/>
<ellipse cx="1505.01" cy="1497.6" rx="1.6" ry="1.59" fill="#3cf03c" opacity="1" filter="url(#gb06)"/>
<ellipse cx="1503.48" cy="1496.79" rx="1.64" ry="1.66" fill="#3cf03c" opacity="1" filter="url(#gb06)"/>
<ellipse cx="1501.16" cy="1496.84" rx="2.05" ry="1.46" fill="#3cf03c" opacity="1" filter="url(#gb06)"/>
<ellipse cx="1498.92" cy="1495.45" rx="1.51" ry="1.62" fill="#3cf03c" opacity="1" filter="url(#gb06)"/>
<ellipse cx="1491.39" cy="1484" rx="1.93" ry="2.47" fill="#3cf03c" opacity="1" filter="url(#gb06)"/>
<ellipse cx="1491.62" cy="1480.21" rx="1.92" ry="1.65" fill="#3cf03c" opacity="1" filter="url(#gb06)"/>
<ellipse cx="1492.2" cy="1478.14" rx="1.97" ry="1.68" fill="#3cf03c" opacity="1" filter="url(#gb06)"/>
<ellipse cx="1493.75" cy="1474.57" rx="1.82" ry="1.37" fill="#3cf03c" opacity="1" filter="url(#gb06)"/>
<ellipse cx="1494.64" cy="1471.77" rx="1.03" ry="1.3" fill="#3cf03c" opacity="1" filter="url(#gb06)"/>
<ellipse cx="1607.91" cy="1413.11" rx="1.12" ry="0.83" fill="#3cf03c" opacity="0.9" filter="url(#gb06)"/>
<ellipse cx="1605.38" cy="1415.48" rx="0.91" ry="1.14" fill="#3cf03c" opacity="0.9" filter="url(#gb06)"/>
<ellipse cx="1603.01" cy="1416.31" rx="0.69" ry="0.53" fill="#3cf03c" opacity="0.9" filter="url(#gb06)"/>
<ellipse cx="1599.88" cy="1415.69" rx="0.74" ry="0.65" fill="#3cf03c" opacity="0.9" filter="url(#gb06)"/>
<ellipse cx="1597.21" cy="1414.04" rx="0.65" ry="0.59" fill="#3cf03c" opacity="0.9" filter="url(#gb06)"/>
<ellipse cx="1603.83" cy="1469.81" rx="1.65" ry="1.7" fill="#3cf03c" opacity="1" filter="url(#gb06)"/>
<ellipse cx="1606.11" cy="1472.49" rx="0.95" ry="1.14" fill="#3cf03c" opacity="1" filter="url(#gb06)"/>
<ellipse cx="1607.62" cy="1474.27" rx="1.27" ry="1.28" fill="#3cf03c" opacity="1" filter="url(#gb06)"/>
<ellipse cx="1609.08" cy="1475.83" rx="1.76" ry="1.98" fill="#3cf03c" opacity="1" filter="url(#gb06)"/>
<ellipse cx="1608.33" cy="1477.82" rx="0.9" ry="0.7" fill="#3cf03c" opacity="1" filter="url(#gb06)"/>
<ellipse cx="1608.52" cy="1479.02" rx="1.02" ry="0.76" fill="#3cf03c" opacity="1" filter="url(#gb06)"/>
<ellipse cx="1607.22" cy="1482.26" rx="1.15" ry="0.97" fill="#3cf03c" opacity="1" filter="url(#gb06)"/>
<ellipse cx="1605.62" cy="1482.56" rx="1.33" ry="1.14" fill="#3cf03c" opacity="1" filter="url(#gb06)"/>
<ellipse cx="1557.13" cy="1519.78" rx="1.11" ry="1.42" fill="#3cf03c" opacity="1" filter="url(#gb06)"/>
<ellipse cx="1557.17" cy="1517.86" rx="1.26" ry="1.24" fill="#3cf03c" opacity="1" filter="url(#gb06)"/>
<ellipse cx="1559.16" cy="1517.01" rx="0.84" ry="0.72" fill="#3cf03c" opacity="1" filter="url(#gb06)"/>
<ellipse cx="1561.18" cy="1515.85" rx="0.86" ry="0.76" fill="#3cf03c" opacity="1" filter="url(#gb06)"/>
<ellipse cx="1564.06" cy="1516.61" rx="1.67" ry="1.83" fill="#3cf03c" opacity="1" filter="url(#gb06)"/>
<ellipse cx="1567.27" cy="1517.77" rx="1.2" ry="1.55" fill="#3cf03c" opacity="1" filter="url(#gb06)"/>
<ellipse cx="1465.26" cy="1523.94" rx="0.55" ry="0.66" fill="#3cf03c" opacity="0.8" filter="url(#gb06)"/>
<ellipse cx="1462.76" cy="1529.77" rx="1.09" ry="0.85" fill="#3cf03c" opacity="0.8" filter="url(#gb06)"/>
<ellipse cx="1459.82" cy="1532.07" rx="1.08" ry="1.29" fill="#3cf03c" opacity="0.8" filter="url(#gb06)"/>
<ellipse cx="1455.77" cy="1533.16" rx="1" ry="0.84" fill="#3cf03c" opacity="0.8" filter="url(#gb06)"/>
<ellipse cx="1451.6" cy="1532.48" rx="0.6" ry="0.71" fill="#3cf03c" opacity="0.8" filter="url(#gb06)"/>
<ellipse cx="1447.04" cy="1530.04" rx="1" ry="0.99" fill="#3cf03c" opacity="0.8" filter="url(#gb06)"/>
<ellipse cx="1445.52" cy="1527.85" rx="0.87" ry="0.89" fill="#3cf03c" opacity="0.8" filter="url(#gb06)"/>
<ellipse cx="1443.64" cy="1522" rx="0.7" ry="0.52" fill="#3cf03c" opacity="0.8" filter="url(#gb06)"/>
<ellipse cx="1445.78" cy="1518.19" rx="1.04" ry="1.33" fill="#3cf03c" opacity="0.8" filter="url(#gb06)"/>
<ellipse cx="1448.99" cy="1515.12" rx="1" ry="1.16" fill="#3cf03c" opacity="0.8" filter="url(#gb06)"/>
<ellipse cx="1454.11" cy="1513.22" rx="0.62" ry="0.53" fill="#3cf03c" opacity="0.8" filter="url(#gb06)"/>
<ellipse cx="1458.55" cy="1514.73" rx="0.53" ry="0.39" fill="#3cf03c" opacity="0.8" filter="url(#gb06)"/>
<ellipse cx="1461.84" cy="1516.6" rx="0.99" ry="0.87" fill="#3cf03c" opacity="0.8" filter="url(#gb06)"/>
<ellipse cx="1464.41" cy="1520.4" rx="0.6" ry="0.75" fill="#3cf03c" opacity="0.8" filter="url(#gb06)"/>
<ellipse cx="1481.84" cy="1453.76" rx="1.81" ry="6.79" fill="#45ff45" opacity="1" filter="url(#gb06)"/>
<ellipse cx="1609.38" cy="1478.99" rx="3.17" ry="7.24" fill="#45ff45" opacity="1" filter="url(#gb06)"/>
<ellipse cx="1559.79" cy="1518.14" rx="4.52" ry="3.62" fill="#45ff45" opacity="1" filter="url(#gb06)"/>
<ellipse cx="1503.24" cy="1497.26" rx="5.66" ry="2.26" fill="#45ff45" opacity="1" filter="url(#gb06)"/>
<ellipse cx="1453.65" cy="1398.08" rx="4.52" ry="2.26" fill="#45ff45" opacity="1" filter="url(#gb06)" transform="rotate(30 1453.65 1398.08)"/>
</g>
<line x1="1593.72" y1="1543.37" x2="1607.64" y2="1543.37" stroke="#ddd" stroke-width="1.2" />
<rect x="1617.3" y="1377.2" width="174" height="174" fill="#00000c"/>
<g clip-path="url(#ct1617_1377)">
<ellipse cx="1635.05" cy="1390.77" rx="8.18" ry="9.57" fill="#1a26d8" opacity="0.72" filter="url(#gb15)"/>
<ellipse cx="1671.67" cy="1379.98" rx="6.79" ry="3.31" fill="#1a26d8" opacity="0.72" filter="url(#gb15)"/>
<ellipse cx="1652.1" cy="1416.7" rx="6.79" ry="9.57" fill="#1a26d8" opacity="0.72" filter="url(#gb15)"/>
<ellipse cx="1707.08" cy="1404.34" rx="6.79" ry="9.57" fill="#1a26d8" opacity="0.64" filter="url(#gb15)" transform="rotate(-10 1707.08 1404.34)"/>
<ellipse cx="1781.73" cy="1409.91" rx="5.92" ry="9.57" fill="#1a26d8" opacity="0.51" filter="url(#gb15)"/>
<ellipse cx="1635.05" cy="1450.63" rx="8.7" ry="6.79" fill="#1a26d8" opacity="0.77" filter="url(#gb15)"/>
<ellipse cx="1652.1" cy="1466.98" rx="9.57" ry="11.48" fill="#1a26d8" opacity="0.72" filter="url(#gb15)"/>
<ellipse cx="1679.77" cy="1480.56" rx="9.57" ry="11.48" fill="#1a26d8" opacity="0.72" filter="url(#gb15)"/>
<ellipse cx="1700.3" cy="1476.38" rx="8.7" ry="9.57" fill="#1a26d8" opacity="0.68" filter="url(#gb15)" transform="rotate(-20 1700.3 1476.38)"/>
<ellipse cx="1746.41" cy="1456.02" rx="9.57" ry="6.79" fill="#1a26d8" opacity="0.68" filter="url(#gb15)"/>
<ellipse cx="1774.94" cy="1446.45" rx="9.57" ry="6.79" fill="#1a26d8" opacity="0.68" filter="url(#gb15)" transform="rotate(15 1774.94 1446.45)"/>
<ellipse cx="1776.34" cy="1476.38" rx="8.18" ry="8.18" fill="#1a26d8" opacity="0.64" filter="url(#gb15)"/>
<ellipse cx="1632.26" cy="1524.06" rx="10.44" ry="9.57" fill="#1a26d8" opacity="0.72" filter="url(#gb15)" transform="rotate(-15 1632.26 1524.06)"/>
<ellipse cx="1742.58" cy="1530.84" rx="6.79" ry="10.44" fill="#1a26d8" opacity="0.51" filter="url(#gb15)"/>
</g>
<line x1="1770.42" y1="1543.37" x2="1784.34" y2="1543.37" stroke="#ddd" stroke-width="1.2" />
<rect x="1795.6" y="1377.2" width="174" height="174" fill="#00000a"/>
<g clip-path="url(#ct1795_1377)" style="isolation:isolate">
<path d="M1841.23,1466.23 C1839.79,1471.02 1837.96,1478.33 1835.18,1481.06 C1832.4,1483.8 1827,1484.69 1824.56,1482.65 C1822.13,1480.61 1821.4,1472.48 1820.55,1468.84 C1819.69,1465.2 1818.37,1463.77 1819.44,1460.81 C1820.51,1457.85 1824.48,1453.64 1826.98,1451.07 C1829.47,1448.5 1831.58,1445.17 1834.38,1445.37 C1837.19,1445.58 1842.67,1448.82 1843.81,1452.3 C1844.95,1455.78 1842.67,1461.44 1841.23,1466.23Z" fill="#248024" opacity="0.09" filter="url(#gb2)"/>
<path d="M1823.74,1464.23 C1823.96,1461.31 1826.06,1454.58 1827.96,1453.39 C1829.86,1452.21 1833.49,1454.96 1835.13,1457.13 C1836.77,1459.31 1837.93,1463.35 1837.78,1466.44 C1837.63,1469.52 1836.09,1474.9 1834.23,1475.64 C1832.37,1476.39 1828.38,1472.82 1826.63,1470.92 C1824.88,1469.02 1823.52,1467.15 1823.74,1464.23Z" fill="#3aa83a" opacity="0.04" filter="url(#gb2)"/>
<path d="M1881.03,1419.4 C1879.35,1416.86 1878.34,1411.44 1878.07,1407.61 C1877.79,1403.78 1878.24,1400.25 1879.38,1396.42 C1880.51,1392.59 1882.65,1386.29 1884.87,1384.64 C1887.09,1382.99 1890.75,1383.66 1892.7,1386.52 C1894.65,1389.37 1896.38,1397.17 1896.57,1401.75 C1896.76,1406.32 1895.25,1410.45 1893.84,1413.96 C1892.43,1417.48 1890.25,1421.93 1888.12,1422.84 C1885.98,1423.75 1882.7,1421.94 1881.03,1419.4Z" fill="#248024" opacity="0.11" filter="url(#gb2)"/>
<path d="M1886.66,1416.84 C1885.07,1416.76 1882.9,1414.02 1881.96,1411.6 C1881.02,1409.17 1880.23,1405.36 1881.01,1402.28 C1881.8,1399.2 1885,1393.65 1886.68,1393.13 C1888.37,1392.61 1890.32,1396 1891.13,1399.15 C1891.94,1402.3 1892.27,1409.09 1891.52,1412.04 C1890.78,1414.99 1888.26,1416.91 1886.66,1416.84Z" fill="#3aa83a" opacity="0.05" filter="url(#gb2)"/>
<path d="M1925.11,1541.35 C1922.65,1544.34 1919.45,1551.51 1916.61,1550.35 C1913.76,1549.19 1909.24,1539.16 1908.06,1534.4 C1906.87,1529.64 1908.09,1526.33 1909.49,1521.8 C1910.88,1517.27 1913.86,1509.32 1916.44,1507.21 C1919.01,1505.1 1922.85,1507.69 1924.93,1509.15 C1927,1510.61 1927.82,1512.1 1928.9,1515.97 C1929.98,1519.84 1932.01,1528.14 1931.38,1532.37 C1930.75,1536.6 1927.57,1538.35 1925.11,1541.35Z" fill="#248024" opacity="0.11" filter="url(#gb2)"/>
<path d="M1915.84,1522.27 C1916.37,1518.74 1917.4,1514.38 1919.01,1513.21 C1920.62,1512.04 1924.49,1512.53 1925.53,1515.25 C1926.56,1517.97 1925.87,1526.12 1925.23,1529.53 C1924.59,1532.95 1923.25,1534.92 1921.68,1535.72 C1920.12,1536.53 1916.81,1536.62 1915.84,1534.37 C1914.86,1532.13 1915.31,1525.8 1915.84,1522.27Z" fill="#3aa83a" opacity="0.05" filter="url(#gb2)"/>
<path d="M1947.11,1460.02 C1949.76,1458.02 1952.78,1462.45 1956.15,1463.69 C1959.53,1464.92 1964.92,1465.88 1967.36,1467.43 C1969.8,1468.98 1971.14,1470.29 1970.8,1472.97 C1970.46,1475.64 1967.68,1481.1 1965.34,1483.47 C1963.01,1485.83 1959.43,1487.31 1956.81,1487.17 C1954.19,1487.03 1952.39,1484.53 1949.63,1482.61 C1946.87,1480.69 1940.66,1479.41 1940.24,1475.65 C1939.82,1471.88 1944.46,1462.01 1947.11,1460.02Z" fill="#248024" opacity="0.14" filter="url(#gb2)"/>
<path d="M1964.2,1472.95 C1964.92,1474.87 1963.99,1476.08 1962.85,1478.06 C1961.71,1480.04 1959.15,1484.84 1957.34,1484.85 C1955.52,1484.87 1952.83,1480.46 1951.97,1478.16 C1951.11,1475.86 1951.11,1473.01 1952.2,1471.07 C1953.28,1469.13 1956.5,1466.22 1958.5,1466.54 C1960.5,1466.85 1963.47,1471.03 1964.2,1472.95Z" fill="#3aa83a" opacity="0.06" filter="url(#gb2)"/>
<path d="M1875.61,1491.91 C1874.15,1496 1867.1,1501.26 1863.41,1502.98 C1859.71,1504.7 1856.13,1504.38 1853.45,1502.24 C1850.78,1500.1 1848.45,1494.09 1847.35,1490.14 C1846.24,1486.18 1846.04,1481.37 1846.81,1478.5 C1847.59,1475.64 1849.69,1474.25 1852.01,1472.94 C1854.33,1471.63 1857.38,1469.74 1860.75,1470.65 C1864.11,1471.56 1869.72,1474.88 1872.2,1478.42 C1874.68,1481.96 1877.08,1487.81 1875.61,1491.91Z" fill="#248024" opacity="0.09" filter="url(#gb2)"/>
<path d="M1853.48,1493.37 C1852,1492.07 1851.26,1487.76 1851.59,1484.9 C1851.93,1482.04 1853.17,1477.38 1855.48,1476.2 C1857.8,1475.02 1863.85,1475.9 1865.47,1477.82 C1867.09,1479.74 1866.02,1485.23 1865.19,1487.72 C1864.36,1490.2 1862.42,1491.77 1860.47,1492.71 C1858.52,1493.65 1854.96,1494.68 1853.48,1493.37Z" fill="#3aa83a" opacity="0.04" filter="url(#gb2)"/>
<path d="M1823.98,1519.01 C1825.59,1522.86 1827,1531.65 1825.47,1534.76 C1823.94,1537.86 1818.18,1536.04 1814.82,1537.65 C1811.45,1539.27 1807.89,1545.05 1805.28,1544.45 C1802.68,1543.86 1800.72,1538.04 1799.19,1534.07 C1797.66,1530.1 1795.4,1523.89 1796.08,1520.66 C1796.77,1517.42 1800.02,1516.18 1803.31,1514.68 C1806.6,1513.17 1812.39,1510.9 1815.84,1511.62 C1819.28,1512.35 1822.38,1515.15 1823.98,1519.01Z" fill="#248024" opacity="0.14" filter="url(#gb2)"/>
<path d="M1816.68,1528.64 C1816.1,1531.05 1813.91,1534.64 1811.85,1535.17 C1809.79,1535.7 1805.68,1533.68 1804.3,1531.85 C1802.93,1530.01 1803.01,1526.06 1803.61,1524.14 C1804.21,1522.21 1805.96,1520.86 1807.91,1520.29 C1809.86,1519.71 1813.85,1519.3 1815.32,1520.7 C1816.78,1522.09 1817.25,1526.23 1816.68,1528.64Z" fill="#3aa83a" opacity="0.06" filter="url(#gb2)"/>
<path d="M1804.23,1446.59 C1806.3,1444.91 1806.76,1441.73 1809.52,1440.9 C1812.27,1440.07 1818.39,1440.38 1820.74,1441.63 C1823.09,1442.89 1823.02,1445.9 1823.6,1448.44 C1824.18,1450.98 1825.8,1454.32 1824.23,1456.87 C1822.66,1459.42 1817.1,1463.27 1814.16,1463.73 C1811.22,1464.19 1809.43,1461.78 1806.59,1459.65 C1803.74,1457.53 1797.47,1453.15 1797.08,1450.98 C1796.68,1448.8 1802.16,1448.27 1804.23,1446.59Z" fill="#248024" opacity="0.09" filter="url(#gb2)"/>
<path d="M1806.73,1446.45 C1807.86,1445.09 1811.12,1443.07 1813.1,1443.5 C1815.08,1443.92 1817.68,1447.3 1818.6,1449 C1819.52,1450.7 1819.58,1452.64 1818.62,1453.7 C1817.67,1454.76 1814.89,1455.69 1812.85,1455.35 C1810.8,1455.02 1807.37,1453.16 1806.35,1451.68 C1805.33,1450.19 1805.61,1447.82 1806.73,1446.45Z" fill="#3aa83a" opacity="0.04" filter="url(#gb2)"/>
<path d="M1910.13,1464.3 C1907.22,1461.81 1905.13,1458.55 1905.32,1455.31 C1905.51,1452.08 1907.73,1447.33 1911.27,1444.89 C1914.8,1442.45 1921.78,1440.18 1926.51,1440.67 C1931.25,1441.16 1937.35,1444.87 1939.68,1447.82 C1942.02,1450.77 1940.78,1455.62 1940.53,1458.37 C1940.28,1461.11 1941.13,1462.32 1938.17,1464.3 C1935.22,1466.27 1927.47,1470.21 1922.8,1470.21 C1918.13,1470.21 1913.05,1466.78 1910.13,1464.3Z" fill="#248024" opacity="0.08" filter="url(#gb2)"/>
<path d="M1936.01,1452.46 C1937.55,1454.13 1937.21,1458.41 1935.29,1460.03 C1933.37,1461.64 1927.18,1462.41 1924.49,1462.17 C1921.79,1461.93 1920.03,1460.48 1919.12,1458.57 C1918.21,1456.66 1917.87,1452.15 1919.03,1450.72 C1920.19,1449.29 1923.24,1449.7 1926.07,1449.99 C1928.9,1450.28 1934.47,1450.79 1936.01,1452.46Z" fill="#3aa83a" opacity="0.03" filter="url(#gb2)"/>
<path d="M1857.18,1380.08 C1857.79,1381.53 1856.37,1381.82 1855.61,1382.96 C1854.86,1384.09 1854.63,1386.44 1852.65,1386.89 C1850.66,1387.34 1846.27,1386.31 1843.72,1385.66 C1841.17,1385.01 1838.64,1384.25 1837.34,1382.99 C1836.05,1381.74 1834.82,1379.38 1835.98,1378.11 C1837.14,1376.85 1841.66,1376.06 1844.32,1375.42 C1846.98,1374.77 1849.79,1373.44 1851.94,1374.22 C1854.08,1375 1856.56,1378.62 1857.18,1380.08Z" fill="#248024" opacity="0.15" filter="url(#gb2)"/>
<path d="M1851.54,1378.58 C1852.52,1379.54 1854.56,1381.68 1854.14,1382.6 C1853.71,1383.52 1850.8,1384.09 1848.97,1384.1 C1847.15,1384.11 1844.61,1383.39 1843.17,1382.67 C1841.72,1381.94 1839.44,1380.74 1840.29,1379.77 C1841.14,1378.81 1846.37,1377.07 1848.25,1376.88 C1850.12,1376.68 1850.55,1377.63 1851.54,1378.58Z" fill="#3aa83a" opacity="0.07" filter="url(#gb2)"/>
<ellipse cx="1849.97" cy="1379.98" rx="8.82" ry="4.3" fill="none" stroke="#46cc46" stroke-width="2.61" opacity="0.08" filter="url(#gb15)"/>
<ellipse cx="1885.38" cy="1404.34" rx="8.82" ry="12.44" fill="none" stroke="#46cc46" stroke-width="2.61" opacity="0.06" filter="url(#gb15)" transform="rotate(-10 1885.38 1404.34)"/>
<ellipse cx="1813.35" cy="1450.63" rx="11.31" ry="8.82" fill="none" stroke="#46cc46" stroke-width="2.61" opacity="0.05" filter="url(#gb15)"/>
<ellipse cx="1830.4" cy="1466.98" rx="12.44" ry="14.93" fill="none" stroke="#46cc46" stroke-width="2.61" opacity="0.05" filter="url(#gb15)"/>
<ellipse cx="1858.07" cy="1480.56" rx="12.44" ry="14.93" fill="none" stroke="#46cc46" stroke-width="2.61" opacity="0.05" filter="url(#gb15)"/>
<ellipse cx="1924.71" cy="1456.02" rx="12.44" ry="8.82" fill="none" stroke="#46cc46" stroke-width="2.61" opacity="0.04" filter="url(#gb15)"/>
<ellipse cx="1954.64" cy="1476.38" rx="10.63" ry="10.63" fill="none" stroke="#46cc46" stroke-width="2.61" opacity="0.07" filter="url(#gb15)"/>
<ellipse cx="1810.56" cy="1524.06" rx="13.57" ry="12.44" fill="none" stroke="#46cc46" stroke-width="2.61" opacity="0.07" filter="url(#gb15)" transform="rotate(-15 1810.56 1524.06)"/>
<ellipse cx="1920.88" cy="1530.84" rx="8.82" ry="13.57" fill="none" stroke="#46cc46" stroke-width="2.61" opacity="0.06" filter="url(#gb15)"/>
<ellipse cx="1813.35" cy="1390.77" rx="7.77" ry="9.09" fill="#000" opacity="0.42" filter="url(#gb1)"/>
<ellipse cx="1849.97" cy="1379.98" rx="6.45" ry="3.14" fill="#000" opacity="0.42" filter="url(#gb1)"/>
<ellipse cx="1830.4" cy="1416.7" rx="6.45" ry="9.09" fill="#000" opacity="0.42" filter="url(#gb1)"/>
<ellipse cx="1885.38" cy="1404.34" rx="6.45" ry="9.09" fill="#000" opacity="0.42" filter="url(#gb1)" transform="rotate(-10 1885.38 1404.34)"/>
<ellipse cx="1960.03" cy="1409.91" rx="5.62" ry="9.09" fill="#000" opacity="0.42" filter="url(#gb1)"/>
<ellipse cx="1813.35" cy="1450.63" rx="8.27" ry="6.45" fill="#000" opacity="0.42" filter="url(#gb1)"/>
<ellipse cx="1830.4" cy="1466.98" rx="9.09" ry="10.91" fill="#000" opacity="0.42" filter="url(#gb1)"/>
<ellipse cx="1858.07" cy="1480.56" rx="9.09" ry="10.91" fill="#000" opacity="0.42" filter="url(#gb1)"/>
<ellipse cx="1878.6" cy="1476.38" rx="8.27" ry="9.09" fill="#000" opacity="0.42" filter="url(#gb1)" transform="rotate(-20 1878.6 1476.38)"/>
<ellipse cx="1924.71" cy="1456.02" rx="9.09" ry="6.45" fill="#000" opacity="0.42" filter="url(#gb1)"/>
<ellipse cx="1953.24" cy="1446.45" rx="9.09" ry="6.45" fill="#000" opacity="0.42" filter="url(#gb1)" transform="rotate(15 1953.24 1446.45)"/>
<ellipse cx="1954.64" cy="1476.38" rx="7.77" ry="7.77" fill="#000" opacity="0.42" filter="url(#gb1)"/>
<ellipse cx="1810.56" cy="1524.06" rx="9.92" ry="9.09" fill="#000" opacity="0.42" filter="url(#gb1)" transform="rotate(-15 1810.56 1524.06)"/>
<ellipse cx="1920.88" cy="1530.84" rx="6.45" ry="9.92" fill="#000" opacity="0.42" filter="url(#gb1)"/>
<ellipse cx="1808.83" cy="1401.53" rx="0.92" ry="0.94" fill="#3cf03c" opacity="1" filter="url(#gb06)"/>
<ellipse cx="1806.52" cy="1400.43" rx="0.88" ry="0.84" fill="#3cf03c" opacity="1" filter="url(#gb06)"/>
<ellipse cx="1805.03" cy="1399.15" rx="1.76" ry="1.36" fill="#3cf03c" opacity="1" filter="url(#gb06)"/>
<ellipse cx="1804.14" cy="1397.82" rx="1.48" ry="1.39" fill="#3cf03c" opacity="1" filter="url(#gb06)"/>
<ellipse cx="1802.09" cy="1394.35" rx="1.16" ry="0.91" fill="#3cf03c" opacity="1" filter="url(#gb06)"/>
<ellipse cx="1802.31" cy="1393.09" rx="1.04" ry="1.09" fill="#3cf03c" opacity="1" filter="url(#gb06)"/>
<ellipse cx="1802.71" cy="1389.46" rx="0.91" ry="0.67" fill="#3cf03c" opacity="1" filter="url(#gb06)"/>
<ellipse cx="1803.75" cy="1387.57" rx="1.19" ry="1.25" fill="#3cf03c" opacity="1" filter="url(#gb06)"/>
<ellipse cx="1804.73" cy="1385.74" rx="1.61" ry="1.37" fill="#3cf03c" opacity="1" filter="url(#gb06)"/>
<ellipse cx="1806.97" cy="1384.21" rx="1.65" ry="1.44" fill="#3cf03c" opacity="1" filter="url(#gb06)"/>
<ellipse cx="1823.37" cy="1411.44" rx="1.47" ry="1.16" fill="#3cf03c" opacity="1" filter="url(#gb06)"/>
<ellipse cx="1824.01" cy="1410.55" rx="1.48" ry="1.54" fill="#3cf03c" opacity="1" filter="url(#gb06)"/>
<ellipse cx="1826.39" cy="1408.88" rx="1.31" ry="1.37" fill="#3cf03c" opacity="1" filter="url(#gb06)"/>
<ellipse cx="1828.65" cy="1408.59" rx="1.19" ry="1.31" fill="#3cf03c" opacity="1" filter="url(#gb06)"/>
<ellipse cx="1830.16" cy="1407.87" rx="1.7" ry="2.03" fill="#3cf03c" opacity="1" filter="url(#gb06)"/>
<ellipse cx="1832.27" cy="1408.15" rx="0.75" ry="0.74" fill="#3cf03c" opacity="1" filter="url(#gb06)"/>
<ellipse cx="1833.8" cy="1408.1" rx="1.48" ry="1.15" fill="#3cf03c" opacity="1" filter="url(#gb06)"/>
<ellipse cx="1835.88" cy="1410.68" rx="0.81" ry="0.78" fill="#3cf03c" opacity="1" filter="url(#gb06)"/>
<ellipse cx="1823" cy="1453.62" rx="1.35" ry="1.17" fill="#3cf03c" opacity="0.9" filter="url(#gb06)"/>
<ellipse cx="1820.91" cy="1456.72" rx="1.43" ry="1.13" fill="#3cf03c" opacity="0.9" filter="url(#gb06)"/>
<ellipse cx="1818.23" cy="1458" rx="1.03" ry="1.09" fill="#3cf03c" opacity="0.9" filter="url(#gb06)"/>
<ellipse cx="1813.77" cy="1459.64" rx="0.93" ry="0.97" fill="#3cf03c" opacity="0.9" filter="url(#gb06)"/>
<ellipse cx="1808.84" cy="1458.98" rx="1.14" ry="1.26" fill="#3cf03c" opacity="0.9" filter="url(#gb06)"/>
<ellipse cx="1807.48" cy="1458.46" rx="1.36" ry="1.6" fill="#3cf03c" opacity="0.9" filter="url(#gb06)"/>
<ellipse cx="1803.85" cy="1454.1" rx="1.16" ry="0.85" fill="#3cf03c" opacity="0.9" filter="url(#gb06)"/>
<ellipse cx="1803.03" cy="1451.41" rx="0.91" ry="0.67" fill="#3cf03c" opacity="0.9" filter="url(#gb06)"/>
<ellipse cx="1803.89" cy="1448.07" rx="0.93" ry="0.67" fill="#3cf03c" opacity="0.9" filter="url(#gb06)"/>
<ellipse cx="1809.1" cy="1444.44" rx="0.84" ry="0.76" fill="#3cf03c" opacity="0.9" filter="url(#gb06)"/>
<ellipse cx="1811.27" cy="1444.74" rx="1.46" ry="1.43" fill="#3cf03c" opacity="0.9" filter="url(#gb06)"/>
<ellipse cx="1815.75" cy="1444.12" rx="0.91" ry="0.78" fill="#3cf03c" opacity="0.9" filter="url(#gb06)"/>
<ellipse cx="1820" cy="1446.47" rx="1.42" ry="1.44" fill="#3cf03c" opacity="0.9" filter="url(#gb06)"/>
<ellipse cx="1821.84" cy="1448.25" rx="1.07" ry="1.37" fill="#3cf03c" opacity="0.9" filter="url(#gb06)"/>
<ellipse cx="1819.6" cy="1457.56" rx="1.24" ry="1" fill="#3cf03c" opacity="1" filter="url(#gb06)"/>
<ellipse cx="1817.18" cy="1459.47" rx="1.2" ry="1" fill="#3cf03c" opacity="1" filter="url(#gb06)"/>
<ellipse cx="1815.1" cy="1460.25" rx="1.73" ry="2.06" fill="#3cf03c" opacity="1" filter="url(#gb06)"/>
<ellipse cx="1811.39" cy="1459.81" rx="1.23" ry="0.88" fill="#3cf03c" opacity="1" filter="url(#gb06)"/>
<ellipse cx="1809.9" cy="1459.17" rx="1.61" ry="2.05" fill="#3cf03c" opacity="1" filter="url(#gb06)"/>
<ellipse cx="1807.74" cy="1458.89" rx="1.9" ry="1.74" fill="#3cf03c" opacity="1" filter="url(#gb06)"/>
<ellipse cx="1869.16" cy="1481.77" rx="0.8" ry="0.86" fill="#3cf03c" opacity="0.85" filter="url(#gb06)"/>
<ellipse cx="1868.95" cy="1488.24" rx="1.17" ry="1.38" fill="#3cf03c" opacity="0.85" filter="url(#gb06)"/>
<ellipse cx="1867.89" cy="1490.83" rx="1.28" ry="1.47" fill="#3cf03c" opacity="0.85" filter="url(#gb06)"/>
<ellipse cx="1864.47" cy="1494.64" rx="0.9" ry="1.07" fill="#3cf03c" opacity="0.85" filter="url(#gb06)"/>
<ellipse cx="1861.02" cy="1496.59" rx="1.42" ry="1.61" fill="#3cf03c" opacity="0.85" filter="url(#gb06)"/>
<ellipse cx="1859" cy="1496.67" rx="1.38" ry="1.64" fill="#3cf03c" opacity="0.85" filter="url(#gb06)"/>
<ellipse cx="1856.81" cy="1497.71" rx="1.18" ry="1.07" fill="#3cf03c" opacity="0.85" filter="url(#gb06)"/>
<ellipse cx="1852.08" cy="1494.5" rx="1.44" ry="1.57" fill="#3cf03c" opacity="0.85" filter="url(#gb06)"/>
<ellipse cx="1850.7" cy="1492.37" rx="1.35" ry="1.62" fill="#3cf03c" opacity="0.85" filter="url(#gb06)"/>
<ellipse cx="1848.17" cy="1489.3" rx="0.83" ry="0.87" fill="#3cf03c" opacity="0.85" filter="url(#gb06)"/>
<ellipse cx="1847.14" cy="1484.83" rx="1.39" ry="1.26" fill="#3cf03c" opacity="0.85" filter="url(#gb06)"/>
<ellipse cx="1847.08" cy="1480.93" rx="0.98" ry="1.22" fill="#3cf03c" opacity="0.85" filter="url(#gb06)"/>
<ellipse cx="1847.75" cy="1475.95" rx="0.64" ry="0.62" fill="#3cf03c" opacity="0.85" filter="url(#gb06)"/>
<ellipse cx="1848.23" cy="1473.14" rx="0.77" ry="0.76" fill="#3cf03c" opacity="0.85" filter="url(#gb06)"/>
<ellipse cx="1852.03" cy="1468.34" rx="1.06" ry="1.09" fill="#3cf03c" opacity="0.85" filter="url(#gb06)"/>
<ellipse cx="1854.41" cy="1466.7" rx="0.83" ry="0.72" fill="#3cf03c" opacity="0.85" filter="url(#gb06)"/>
<ellipse cx="1858.13" cy="1466.03" rx="1.26" ry="1.57" fill="#3cf03c" opacity="0.85" filter="url(#gb06)"/>
<ellipse cx="1860.85" cy="1466.32" rx="1.05" ry="1.18" fill="#3cf03c" opacity="0.85" filter="url(#gb06)"/>
<ellipse cx="1863.77" cy="1467.87" rx="1.41" ry="1.58" fill="#3cf03c" opacity="0.85" filter="url(#gb06)"/>
<ellipse cx="1867.46" cy="1471.1" rx="1.09" ry="1.38" fill="#3cf03c" opacity="0.85" filter="url(#gb06)"/>
<ellipse cx="1868.03" cy="1474.58" rx="1" ry="0.74" fill="#3cf03c" opacity="0.85" filter="url(#gb06)"/>
<ellipse cx="1868.62" cy="1478.05" rx="1.28" ry="1.59" fill="#3cf03c" opacity="0.85" filter="url(#gb06)"/>
<ellipse cx="1864" cy="1495.53" rx="1.24" ry="1.53" fill="#3cf03c" opacity="1" filter="url(#gb06)"/>
<ellipse cx="1860.01" cy="1497.6" rx="1.6" ry="1.59" fill="#3cf03c" opacity="1" filter="url(#gb06)"/>
<ellipse cx="1858.48" cy="1496.79" rx="1.64" ry="1.66" fill="#3cf03c" opacity="1" filter="url(#gb06)"/>
<ellipse cx="1856.16" cy="1496.84" rx="2.05" ry="1.46" fill="#3cf03c" opacity="1" filter="url(#gb06)"/>
<ellipse cx="1853.92" cy="1495.45" rx="1.51" ry="1.62" fill="#3cf03c" opacity="1" filter="url(#gb06)"/>
<ellipse cx="1846.39" cy="1484" rx="1.93" ry="2.47" fill="#3cf03c" opacity="1" filter="url(#gb06)"/>
<ellipse cx="1846.62" cy="1480.21" rx="1.92" ry="1.65" fill="#3cf03c" opacity="1" filter="url(#gb06)"/>
<ellipse cx="1847.2" cy="1478.14" rx="1.97" ry="1.68" fill="#3cf03c" opacity="1" filter="url(#gb06)"/>
<ellipse cx="1848.75" cy="1474.57" rx="1.82" ry="1.37" fill="#3cf03c" opacity="1" filter="url(#gb06)"/>
<ellipse cx="1849.64" cy="1471.77" rx="1.03" ry="1.3" fill="#3cf03c" opacity="1" filter="url(#gb06)"/>
<ellipse cx="1962.91" cy="1413.11" rx="1.12" ry="0.83" fill="#3cf03c" opacity="0.9" filter="url(#gb06)"/>
<ellipse cx="1960.38" cy="1415.48" rx="0.91" ry="1.14" fill="#3cf03c" opacity="0.9" filter="url(#gb06)"/>
<ellipse cx="1958.01" cy="1416.31" rx="0.69" ry="0.53" fill="#3cf03c" opacity="0.9" filter="url(#gb06)"/>
<ellipse cx="1954.88" cy="1415.69" rx="0.74" ry="0.65" fill="#3cf03c" opacity="0.9" filter="url(#gb06)"/>
<ellipse cx="1952.21" cy="1414.04" rx="0.65" ry="0.59" fill="#3cf03c" opacity="0.9" filter="url(#gb06)"/>
<ellipse cx="1958.83" cy="1469.81" rx="1.65" ry="1.7" fill="#3cf03c" opacity="1" filter="url(#gb06)"/>
<ellipse cx="1961.11" cy="1472.49" rx="0.95" ry="1.14" fill="#3cf03c" opacity="1" filter="url(#gb06)"/>
<ellipse cx="1962.62" cy="1474.27" rx="1.27" ry="1.28" fill="#3cf03c" opacity="1" filter="url(#gb06)"/>
<ellipse cx="1964.08" cy="1475.83" rx="1.76" ry="1.98" fill="#3cf03c" opacity="1" filter="url(#gb06)"/>
<ellipse cx="1963.33" cy="1477.82" rx="0.9" ry="0.7" fill="#3cf03c" opacity="1" filter="url(#gb06)"/>
<ellipse cx="1963.52" cy="1479.02" rx="1.02" ry="0.76" fill="#3cf03c" opacity="1" filter="url(#gb06)"/>
<ellipse cx="1962.22" cy="1482.26" rx="1.15" ry="0.97" fill="#3cf03c" opacity="1" filter="url(#gb06)"/>
<ellipse cx="1960.62" cy="1482.56" rx="1.33" ry="1.14" fill="#3cf03c" opacity="1" filter="url(#gb06)"/>
<ellipse cx="1912.13" cy="1519.78" rx="1.11" ry="1.42" fill="#3cf03c" opacity="1" filter="url(#gb06)"/>
<ellipse cx="1912.17" cy="1517.86" rx="1.26" ry="1.24" fill="#3cf03c" opacity="1" filter="url(#gb06)"/>
<ellipse cx="1914.16" cy="1517.01" rx="0.84" ry="0.72" fill="#3cf03c" opacity="1" filter="url(#gb06)"/>
<ellipse cx="1916.18" cy="1515.85" rx="0.86" ry="0.76" fill="#3cf03c" opacity="1" filter="url(#gb06)"/>
<ellipse cx="1919.06" cy="1516.61" rx="1.67" ry="1.83" fill="#3cf03c" opacity="1" filter="url(#gb06)"/>
<ellipse cx="1922.27" cy="1517.77" rx="1.2" ry="1.55" fill="#3cf03c" opacity="1" filter="url(#gb06)"/>
<ellipse cx="1820.26" cy="1523.94" rx="0.55" ry="0.66" fill="#3cf03c" opacity="0.8" filter="url(#gb06)"/>
<ellipse cx="1817.76" cy="1529.77" rx="1.09" ry="0.85" fill="#3cf03c" opacity="0.8" filter="url(#gb06)"/>
<ellipse cx="1814.82" cy="1532.07" rx="1.08" ry="1.29" fill="#3cf03c" opacity="0.8" filter="url(#gb06)"/>
<ellipse cx="1810.77" cy="1533.16" rx="1" ry="0.84" fill="#3cf03c" opacity="0.8" filter="url(#gb06)"/>
<ellipse cx="1806.6" cy="1532.48" rx="0.6" ry="0.71" fill="#3cf03c" opacity="0.8" filter="url(#gb06)"/>
<ellipse cx="1802.04" cy="1530.04" rx="1" ry="0.99" fill="#3cf03c" opacity="0.8" filter="url(#gb06)"/>
<ellipse cx="1800.52" cy="1527.85" rx="0.87" ry="0.89" fill="#3cf03c" opacity="0.8" filter="url(#gb06)"/>
<ellipse cx="1798.64" cy="1522" rx="0.7" ry="0.52" fill="#3cf03c" opacity="0.8" filter="url(#gb06)"/>
<ellipse cx="1800.78" cy="1518.19" rx="1.04" ry="1.33" fill="#3cf03c" opacity="0.8" filter="url(#gb06)"/>
<ellipse cx="1803.99" cy="1515.12" rx="1" ry="1.16" fill="#3cf03c" opacity="0.8" filter="url(#gb06)"/>
<ellipse cx="1809.11" cy="1513.22" rx="0.62" ry="0.53" fill="#3cf03c" opacity="0.8" filter="url(#gb06)"/>
<ellipse cx="1813.55" cy="1514.73" rx="0.53" ry="0.39" fill="#3cf03c" opacity="0.8" filter="url(#gb06)"/>
<ellipse cx="1816.84" cy="1516.6" rx="0.99" ry="0.87" fill="#3cf03c" opacity="0.8" filter="url(#gb06)"/>
<ellipse cx="1819.41" cy="1520.4" rx="0.6" ry="0.75" fill="#3cf03c" opacity="0.8" filter="url(#gb06)"/>
<ellipse cx="1836.84" cy="1453.76" rx="1.81" ry="6.79" fill="#45ff45" opacity="1" filter="url(#gb06)"/>
<ellipse cx="1964.38" cy="1478.99" rx="3.17" ry="7.24" fill="#45ff45" opacity="1" filter="url(#gb06)"/>
<ellipse cx="1914.79" cy="1518.14" rx="4.52" ry="3.62" fill="#45ff45" opacity="1" filter="url(#gb06)"/>
<ellipse cx="1858.24" cy="1497.26" rx="5.66" ry="2.26" fill="#45ff45" opacity="1" filter="url(#gb06)"/>
<ellipse cx="1808.65" cy="1398.08" rx="4.52" ry="2.26" fill="#45ff45" opacity="1" filter="url(#gb06)" transform="rotate(30 1808.65 1398.08)"/>
<g style="mix-blend-mode:screen">
<ellipse cx="1813.35" cy="1390.77" rx="8.18" ry="9.57" fill="#1a26d8" opacity="0.72" filter="url(#gb15)"/>
<ellipse cx="1849.97" cy="1379.98" rx="6.79" ry="3.31" fill="#1a26d8" opacity="0.72" filter="url(#gb15)"/>
<ellipse cx="1830.4" cy="1416.7" rx="6.79" ry="9.57" fill="#1a26d8" opacity="0.72" filter="url(#gb15)"/>
<ellipse cx="1885.38" cy="1404.34" rx="6.79" ry="9.57" fill="#1a26d8" opacity="0.64" filter="url(#gb15)" transform="rotate(-10 1885.38 1404.34)"/>
<ellipse cx="1960.03" cy="1409.91" rx="5.92" ry="9.57" fill="#1a26d8" opacity="0.51" filter="url(#gb15)"/>
<ellipse cx="1813.35" cy="1450.63" rx="8.7" ry="6.79" fill="#1a26d8" opacity="0.77" filter="url(#gb15)"/>
<ellipse cx="1830.4" cy="1466.98" rx="9.57" ry="11.48" fill="#1a26d8" opacity="0.72" filter="url(#gb15)"/>
<ellipse cx="1858.07" cy="1480.56" rx="9.57" ry="11.48" fill="#1a26d8" opacity="0.72" filter="url(#gb15)"/>
<ellipse cx="1878.6" cy="1476.38" rx="8.7" ry="9.57" fill="#1a26d8" opacity="0.68" filter="url(#gb15)" transform="rotate(-20 1878.6 1476.38)"/>
<ellipse cx="1924.71" cy="1456.02" rx="9.57" ry="6.79" fill="#1a26d8" opacity="0.68" filter="url(#gb15)"/>
<ellipse cx="1953.24" cy="1446.45" rx="9.57" ry="6.79" fill="#1a26d8" opacity="0.68" filter="url(#gb15)" transform="rotate(15 1953.24 1446.45)"/>
<ellipse cx="1954.64" cy="1476.38" rx="8.18" ry="8.18" fill="#1a26d8" opacity="0.64" filter="url(#gb15)"/>
<ellipse cx="1810.56" cy="1524.06" rx="10.44" ry="9.57" fill="#1a26d8" opacity="0.72" filter="url(#gb15)" transform="rotate(-15 1810.56 1524.06)"/>
<ellipse cx="1920.88" cy="1530.84" rx="6.79" ry="10.44" fill="#1a26d8" opacity="0.51" filter="url(#gb15)"/>
</g></g>
<line x1="1948.72" y1="1543.37" x2="1962.64" y2="1543.37" stroke="#ddd" stroke-width="1.2" />
<rect x="1440.6" y="1555.4" width="174" height="174" fill="#000"/>
<g clip-path="url(#ct1440_1555)">
<path d="M1453.73,1554.83 C1457.12,1555.29 1465.24,1560.03 1467.49,1562.39 C1469.75,1564.76 1467.51,1565.86 1467.27,1569.02 C1467.04,1572.19 1467.97,1578.86 1466.07,1581.39 C1464.17,1583.92 1459.44,1583.57 1455.87,1584.2 C1452.29,1584.82 1446.67,1587.55 1444.62,1585.14 C1442.57,1582.72 1443.13,1573.97 1443.56,1569.72 C1443.99,1565.46 1445.48,1562.1 1447.18,1559.62 C1448.87,1557.13 1450.35,1554.36 1453.73,1554.83Z" fill="#248024" opacity="0.26" filter="url(#gb2)"/>
<path d="M1461.91,1578.62 C1459.76,1580.05 1454.76,1581.72 1452.47,1580.62 C1450.17,1579.52 1447.99,1574.7 1448.12,1572.01 C1448.24,1569.32 1451.57,1565.76 1453.2,1564.46 C1454.84,1563.16 1455.91,1562.94 1457.94,1564.2 C1459.96,1565.46 1464.69,1569.62 1465.35,1572.03 C1466.01,1574.43 1464.06,1577.19 1461.91,1578.62Z" fill="#3aa83a" opacity="0.12" filter="url(#gb2)"/>
<path d="M1477.6,1588.63 C1476.43,1584.63 1479.42,1581.46 1481.78,1578.37 C1484.15,1575.28 1487.26,1569.95 1491.78,1570.1 C1496.3,1570.25 1504.52,1576.08 1508.89,1579.28 C1513.27,1582.47 1517.88,1585.81 1518.03,1589.27 C1518.19,1592.73 1512.81,1597.35 1509.83,1600.03 C1506.85,1602.71 1503.65,1604.95 1500.15,1605.34 C1496.65,1605.73 1492.57,1605.15 1488.81,1602.36 C1485.05,1599.58 1478.77,1592.63 1477.6,1588.63Z" fill="#248024" opacity="0.26" filter="url(#gb2)"/>
<path d="M1488.68,1596.28 C1486.62,1594.05 1485.38,1590.75 1486.06,1588.34 C1486.74,1585.93 1489.99,1582.53 1492.75,1581.8 C1495.52,1581.07 1500.01,1581.95 1502.63,1583.94 C1505.25,1585.94 1509.17,1590.81 1508.47,1593.77 C1507.77,1596.72 1501.71,1601.27 1498.42,1601.68 C1495.12,1602.1 1490.74,1598.5 1488.68,1596.28Z" fill="#3aa83a" opacity="0.12" filter="url(#gb2)"/>
<path d="M1573.94,1606.83 C1571.95,1611.23 1564.22,1609.46 1560.31,1611.64 C1556.39,1613.83 1553.58,1621.14 1550.46,1619.91 C1547.35,1618.69 1542.62,1609.11 1541.63,1604.29 C1540.63,1599.47 1543.85,1594.63 1544.51,1590.97 C1545.17,1587.32 1542.77,1584.2 1545.58,1582.36 C1548.4,1580.52 1556.96,1579.46 1561.41,1579.93 C1565.85,1580.41 1570.17,1580.74 1572.25,1585.22 C1574.34,1589.7 1575.93,1602.42 1573.94,1606.83Z" fill="#248024" opacity="0.38" filter="url(#gb2)"/>
<path d="M1554.84,1609.6 C1551.96,1609.39 1547.94,1605.29 1546.39,1602.7 C1544.84,1600.11 1544.39,1596.53 1545.52,1594.06 C1546.66,1591.6 1550.06,1588.37 1553.21,1587.92 C1556.35,1587.47 1562.67,1588.69 1564.41,1591.36 C1566.14,1594.03 1565.21,1600.91 1563.61,1603.95 C1562.02,1606.99 1557.71,1609.81 1554.84,1609.6Z" fill="#3aa83a" opacity="0.18" filter="url(#gb2)"/>
<path d="M1511.44,1605.32 C1513.95,1603.12 1517.96,1600.2 1522,1599.79 C1526.03,1599.39 1533.22,1600.57 1535.65,1602.91 C1538.08,1605.25 1537.38,1610.36 1536.58,1613.83 C1535.79,1617.3 1533.36,1621.47 1530.87,1623.72 C1528.38,1625.97 1525.4,1627.85 1521.65,1627.35 C1517.9,1626.86 1510.84,1623.14 1508.39,1620.75 C1505.94,1618.35 1506.44,1615.56 1506.94,1612.99 C1507.45,1610.42 1508.93,1607.51 1511.44,1605.32Z" fill="#248024" opacity="0.35" filter="url(#gb2)"/>
<path d="M1524.24,1605.16 C1526.39,1605.4 1528.52,1607.51 1528.89,1609.54 C1529.26,1611.57 1528.26,1615.65 1526.45,1617.34 C1524.64,1619.03 1520.04,1619.99 1518.01,1619.67 C1515.98,1619.36 1514.6,1617.4 1514.26,1615.47 C1513.92,1613.55 1514.3,1609.85 1515.97,1608.13 C1517.63,1606.41 1522.08,1604.93 1524.24,1605.16Z" fill="#3aa83a" opacity="0.16" filter="url(#gb2)"/>
<path d="M1503.72,1654.36 C1499.93,1653.45 1498.47,1651.28 1496.03,1648.15 C1493.58,1645.03 1488.64,1639.45 1489.05,1635.61 C1489.47,1631.77 1495.54,1627.03 1498.53,1625.1 C1501.52,1623.17 1503.75,1624.29 1506.98,1624.04 C1510.2,1623.8 1515.4,1620.54 1517.89,1623.61 C1520.38,1626.68 1521.76,1637.47 1521.91,1642.47 C1522.05,1647.47 1521.8,1651.61 1518.77,1653.59 C1515.74,1655.58 1507.51,1655.27 1503.72,1654.36Z" fill="#248024" opacity="0.29" filter="url(#gb2)"/>
<path d="M1506,1629.3 C1508.64,1629.44 1513.57,1631.07 1514.86,1633.5 C1516.15,1635.93 1515.33,1641.1 1513.74,1643.88 C1512.15,1646.66 1507.86,1650.47 1505.32,1650.18 C1502.77,1649.89 1499.54,1645.05 1498.49,1642.14 C1497.44,1639.22 1497.78,1634.84 1499.03,1632.7 C1500.28,1630.56 1503.36,1629.17 1506,1629.3Z" fill="#3aa83a" opacity="0.13" filter="url(#gb2)"/>
<path d="M1615.17,1615.36 C1615.96,1620.54 1615.36,1632.23 1613.16,1636.99 C1610.96,1641.76 1605.96,1643.49 1601.98,1643.95 C1598,1644.42 1591.38,1642.35 1589.3,1639.79 C1587.21,1637.24 1590,1633.72 1589.47,1628.61 C1588.93,1623.5 1585.21,1613.81 1586.07,1609.12 C1586.94,1604.43 1590.93,1600.99 1594.66,1600.45 C1598.38,1599.92 1605,1603.43 1608.42,1605.92 C1611.84,1608.4 1614.38,1610.18 1615.17,1615.36Z" fill="#248024" opacity="0.29" filter="url(#gb2)"/>
<path d="M1603.35,1634.2 C1600.7,1635.39 1596.78,1634.78 1594.61,1632.62 C1592.43,1630.46 1590.01,1625.23 1590.31,1621.23 C1590.61,1617.23 1594.14,1610.25 1596.43,1608.62 C1598.71,1607 1601.69,1608.68 1604.03,1611.49 C1606.37,1614.3 1610.58,1621.7 1610.47,1625.49 C1610.36,1629.27 1605.99,1633.01 1603.35,1634.2Z" fill="#3aa83a" opacity="0.13" filter="url(#gb2)"/>
<path d="M1589.84,1636.23 C1592.76,1633.39 1596.8,1631.95 1600.14,1632.13 C1603.49,1632.32 1607.82,1633.13 1609.92,1637.32 C1612.02,1641.51 1613.33,1652.09 1612.73,1657.27 C1612.13,1662.45 1608.85,1666.44 1606.33,1668.41 C1603.81,1670.38 1601.22,1669.77 1597.63,1669.06 C1594.03,1668.36 1587.26,1667.51 1584.76,1664.19 C1582.26,1660.87 1581.77,1653.79 1582.62,1649.13 C1583.46,1644.47 1586.92,1639.06 1589.84,1636.23Z" fill="#248024" opacity="0.26" filter="url(#gb2)"/>
<path d="M1589.95,1658.73 C1588.7,1656.88 1589.36,1650 1590.07,1647.21 C1590.79,1644.42 1592.18,1642.35 1594.23,1641.98 C1596.28,1641.61 1600.55,1642.65 1602.38,1644.99 C1604.21,1647.34 1606.02,1653.83 1605.22,1656.04 C1604.42,1658.25 1600.13,1657.81 1597.59,1658.26 C1595.04,1658.71 1591.2,1660.57 1589.95,1658.73Z" fill="#3aa83a" opacity="0.12" filter="url(#gb2)"/>
<path d="M1473.03,1670.59 C1476.63,1669.15 1486.26,1664.6 1489.4,1666.47 C1492.53,1668.35 1490.75,1677.16 1491.83,1681.84 C1492.9,1686.51 1497.15,1690.89 1495.84,1694.54 C1494.52,1698.19 1488.69,1703.05 1483.93,1703.75 C1479.18,1704.44 1471.41,1701.29 1467.31,1698.7 C1463.21,1696.12 1459.27,1692.17 1459.35,1688.24 C1459.43,1684.31 1465.52,1678.05 1467.8,1675.11 C1470.08,1672.16 1469.43,1672.02 1473.03,1670.59Z" fill="#248024" opacity="0.41" filter="url(#gb2)"/>
<path d="M1476.68,1692.09 C1473.25,1692.14 1469.09,1692.21 1467.83,1689.77 C1466.57,1687.33 1467.19,1679.98 1469.11,1677.45 C1471.02,1674.92 1476.45,1674.23 1479.32,1674.61 C1482.18,1674.98 1484.77,1677.24 1486.28,1679.72 C1487.79,1682.2 1489.99,1687.4 1488.39,1689.47 C1486.79,1691.53 1480.11,1692.04 1476.68,1692.09Z" fill="#3aa83a" opacity="0.19" filter="url(#gb2)"/>
<path d="M1506.5,1699.2 C1503.5,1696.36 1503.21,1688.91 1501.65,1683.43 C1500.09,1677.94 1495.25,1670.46 1497.15,1666.27 C1499.05,1662.08 1508.67,1659.1 1513.06,1658.29 C1517.44,1657.48 1519.51,1658.29 1523.45,1661.41 C1527.38,1664.52 1534.8,1671.82 1536.67,1676.99 C1538.55,1682.15 1537.53,1688.5 1534.7,1692.41 C1531.87,1696.32 1524.39,1699.31 1519.69,1700.45 C1514.99,1701.58 1509.51,1702.04 1506.5,1699.2Z" fill="#248024" opacity="0.51" filter="url(#gb2)"/>
<path d="M1512.07,1668.4 C1515.73,1667.59 1522.4,1667.21 1524.88,1669.72 C1527.37,1672.23 1527.7,1679.59 1526.99,1683.45 C1526.27,1687.31 1523.39,1691.85 1520.59,1692.89 C1517.79,1693.93 1513.13,1692.75 1510.18,1689.7 C1507.24,1686.64 1502.62,1678.13 1502.94,1674.58 C1503.25,1671.03 1508.42,1669.21 1512.07,1668.4Z" fill="#3aa83a" opacity="0.24" filter="url(#gb2)"/>
<path d="M1458.11,1694.22 C1455.92,1696.04 1450.5,1695.61 1447.97,1695.38 C1445.45,1695.15 1444.34,1694.86 1442.98,1692.84 C1441.61,1690.82 1440.28,1685.91 1439.78,1683.27 C1439.27,1680.63 1438.73,1679.71 1439.96,1677 C1441.19,1674.3 1444.59,1667.51 1447.17,1667.04 C1449.74,1666.57 1453.09,1671.29 1455.41,1674.18 C1457.74,1677.08 1460.68,1681.07 1461.13,1684.41 C1461.58,1687.75 1460.31,1692.39 1458.11,1694.22Z" fill="#248024" opacity="0.35" filter="url(#gb2)"/>
<path d="M1449.41,1692.62 C1447.43,1693.02 1444.36,1692.09 1443.21,1690.21 C1442.05,1688.34 1441.75,1683.55 1442.49,1681.35 C1443.23,1679.16 1446.03,1677.55 1447.65,1677.02 C1449.26,1676.5 1450.93,1676.42 1452.17,1678.21 C1453.41,1680.01 1455.54,1685.4 1455.08,1687.8 C1454.62,1690.21 1451.39,1692.22 1449.41,1692.62Z" fill="#3aa83a" opacity="0.16" filter="url(#gb2)"/>
<path d="M1481.91,1697.48 C1487.17,1696.7 1492.24,1695.07 1495.99,1696.51 C1499.75,1697.96 1504.51,1702.68 1504.44,1706.17 C1504.38,1709.65 1498.48,1714.79 1495.61,1717.41 C1492.73,1720.03 1491.06,1721.11 1487.2,1721.89 C1483.34,1722.66 1476.51,1723.75 1472.43,1722.07 C1468.36,1720.39 1464.08,1715.29 1462.75,1711.81 C1461.41,1708.34 1461.23,1703.6 1464.42,1701.21 C1467.62,1698.82 1476.65,1698.26 1481.91,1697.48Z" fill="#248024" opacity="0.29" filter="url(#gb2)"/>
<path d="M1471.56,1710.45 C1472,1707.51 1476.75,1702.29 1479.62,1700.95 C1482.49,1699.6 1486.38,1700.67 1488.78,1702.4 C1491.17,1704.13 1494.32,1708.74 1493.99,1711.32 C1493.65,1713.91 1489.58,1716.71 1486.75,1717.91 C1483.92,1719.12 1479.53,1719.81 1477,1718.57 C1474.47,1717.33 1471.13,1713.39 1471.56,1710.45Z" fill="#3aa83a" opacity="0.13" filter="url(#gb2)"/>
<path d="M1615.26,1693.02 C1617.4,1696.84 1617.47,1704.2 1616.07,1708.5 C1614.66,1712.81 1611.85,1717.11 1606.84,1718.87 C1601.82,1720.63 1591.19,1720.04 1585.98,1719.06 C1580.76,1718.07 1577.02,1715.14 1575.53,1712.96 C1574.04,1710.79 1574.88,1709.93 1577.03,1706.02 C1579.19,1702.11 1584.11,1692.92 1588.47,1689.51 C1592.84,1686.11 1598.78,1684.98 1603.24,1685.57 C1607.7,1686.15 1613.12,1689.2 1615.26,1693.02Z" fill="#248024" opacity="0.38" filter="url(#gb2)"/>
<path d="M1586.61,1708.39 C1585.46,1705.57 1585.3,1700.84 1587.51,1698.64 C1589.73,1696.45 1596.75,1694.62 1599.91,1695.22 C1603.07,1695.82 1605.61,1699.81 1606.48,1702.26 C1607.34,1704.71 1607.13,1707.73 1605.11,1709.94 C1603.1,1712.16 1597.48,1715.82 1594.39,1715.56 C1591.31,1715.3 1587.76,1711.21 1586.61,1708.39Z" fill="#3aa83a" opacity="0.18" filter="url(#gb2)"/>
<path d="M1577.71,1668.59 C1580.35,1672.32 1581.1,1677.07 1580.27,1681.53 C1579.44,1686 1576.73,1693.06 1572.73,1695.38 C1568.73,1697.7 1561.2,1696.1 1556.29,1695.48 C1551.38,1694.86 1545.5,1694.22 1543.27,1691.64 C1541.04,1689.07 1541.85,1684.57 1542.9,1680.03 C1543.95,1675.48 1545.98,1667.85 1549.57,1664.36 C1553.16,1660.88 1559.76,1658.43 1564.45,1659.14 C1569.14,1659.84 1575.08,1664.86 1577.71,1668.59Z" fill="#248024" opacity="0.19" filter="url(#gb2)"/>
<path d="M1559.12,1693.07 C1555.71,1692.56 1551.29,1688.35 1550.78,1685.08 C1550.27,1681.82 1553.43,1675.34 1556.06,1673.48 C1558.68,1671.62 1563.4,1673.15 1566.52,1673.93 C1569.65,1674.71 1574.01,1675.8 1574.79,1678.17 C1575.58,1680.54 1573.85,1685.66 1571.23,1688.15 C1568.62,1690.63 1562.52,1693.59 1559.12,1693.07Z" fill="#3aa83a" opacity="0.09" filter="url(#gb2)"/>
<path d="M1445.19,1613.02 C1443.84,1608.11 1444.59,1598.8 1448.18,1594.28 C1451.76,1589.77 1461.3,1585.86 1466.69,1585.94 C1472.08,1586.02 1476.6,1590.95 1480.52,1594.77 C1484.44,1598.58 1489.17,1604.71 1490.23,1608.83 C1491.3,1612.96 1490.32,1615.72 1486.91,1619.5 C1483.49,1623.27 1474.86,1630.78 1469.76,1631.49 C1464.66,1632.19 1460.4,1626.83 1456.3,1623.75 C1452.21,1620.67 1446.55,1617.93 1445.19,1613.02Z" fill="#248024" opacity="0.13" filter="url(#gb2)"/>
<path d="M1475.37,1617.23 C1471.56,1619.25 1462.21,1620.8 1458.51,1619.18 C1454.81,1617.56 1452.91,1610.86 1453.18,1607.5 C1453.44,1604.14 1456.95,1600.3 1460.1,1599 C1463.25,1597.71 1468.52,1598.39 1472.06,1599.73 C1475.6,1601.08 1480.79,1604.16 1481.34,1607.08 C1481.89,1610 1479.17,1615.21 1475.37,1617.23Z" fill="#3aa83a" opacity="0.06" filter="url(#gb2)"/>
<path d="M1517.74,1643.59 C1518.84,1642.34 1523.42,1644.45 1527,1646.2 C1530.58,1647.95 1535.93,1650.88 1539.23,1654.08 C1542.52,1657.28 1546.12,1662.16 1546.78,1665.41 C1547.44,1668.65 1545.35,1672.45 1543.18,1673.57 C1541.01,1674.69 1537.33,1673.46 1533.77,1672.12 C1530.21,1670.77 1524.05,1668.58 1521.81,1665.5 C1519.57,1662.43 1521.03,1657.35 1520.35,1653.69 C1519.67,1650.04 1516.63,1644.84 1517.74,1643.59Z" fill="#248024" opacity="0.32" filter="url(#gb2)"/>
<path d="M1540,1666.14 C1539.7,1668.02 1535.5,1667.6 1533.2,1666.86 C1530.9,1666.12 1528.1,1663.83 1526.2,1661.71 C1524.3,1659.59 1521.75,1655.89 1521.81,1654.15 C1521.86,1652.42 1524.34,1651.06 1526.54,1651.3 C1528.73,1651.54 1532.72,1653.11 1534.96,1655.58 C1537.2,1658.06 1540.29,1664.26 1540,1666.14Z" fill="#3aa83a" opacity="0.15" filter="url(#gb2)"/>
<ellipse cx="1456.96" cy="1566.19" rx="10.63" ry="8.82" fill="none" stroke="#46cc46" stroke-width="2.61" opacity="0.13" filter="url(#gb15)"/>
<ellipse cx="1494.97" cy="1587.94" rx="13.35" ry="13.35" fill="none" stroke="#46cc46" stroke-width="2.61" opacity="0.13" filter="url(#gb15)"/>
<ellipse cx="1554.74" cy="1600.12" rx="12.44" ry="10.63" fill="none" stroke="#46cc46" stroke-width="2.61" opacity="0.19" filter="url(#gb15)"/>
<ellipse cx="1465.13" cy="1615.08" rx="12.44" ry="10.63" fill="none" stroke="#46cc46" stroke-width="2.61" opacity="0.06" filter="url(#gb15)"/>
<ellipse cx="1520.81" cy="1613.69" rx="11.31" ry="10.63" fill="none" stroke="#46cc46" stroke-width="2.61" opacity="0.18" filter="url(#gb15)"/>
<ellipse cx="1606.42" cy="1621.87" rx="8.82" ry="12.44" fill="none" stroke="#46cc46" stroke-width="2.61" opacity="0.15" filter="url(#gb15)"/>
<ellipse cx="1507.24" cy="1639.44" rx="13.35" ry="14.93" fill="none" stroke="#46cc46" stroke-width="2.61" opacity="0.15" filter="url(#gb15)"/>
<ellipse cx="1605.03" cy="1657.02" rx="10.63" ry="12.44" fill="none" stroke="#46cc46" stroke-width="2.61" opacity="0.13" filter="url(#gb15)"/>
<ellipse cx="1448.78" cy="1681.38" rx="8.82" ry="8.82" fill="none" stroke="#46cc46" stroke-width="2.61" opacity="0.18" filter="url(#gb15)"/>
<ellipse cx="1480.1" cy="1684.16" rx="12.44" ry="11.31" fill="none" stroke="#46cc46" stroke-width="2.61" opacity="0.21" filter="url(#gb15)"/>
<ellipse cx="1509.85" cy="1682.77" rx="11.31" ry="12.44" fill="none" stroke="#46cc46" stroke-width="2.61" opacity="0.26" filter="url(#gb15)"/>
<ellipse cx="1571.1" cy="1678.77" rx="11.31" ry="12.44" fill="none" stroke="#46cc46" stroke-width="2.61" opacity="0.1" filter="url(#gb15)"/>
<ellipse cx="1603.81" cy="1704.52" rx="12.44" ry="12.44" fill="none" stroke="#46cc46" stroke-width="2.61" opacity="0.19" filter="url(#gb15)"/>
<ellipse cx="1484.1" cy="1712.52" rx="10.63" ry="10.63" fill="none" stroke="#46cc46" stroke-width="2.61" opacity="0.15" filter="url(#gb15)"/>
<ellipse cx="1456.96" cy="1566.19" rx="7.77" ry="6.45" fill="#000" opacity="0.42" filter="url(#gb1)"/>
<ellipse cx="1475.92" cy="1559.4" rx="5.12" ry="3.14" fill="#000" opacity="0.42" filter="url(#gb1)"/>
<ellipse cx="1494.97" cy="1587.94" rx="9.75" ry="9.75" fill="#000" opacity="0.42" filter="url(#gb1)"/>
<ellipse cx="1554.74" cy="1600.12" rx="9.09" ry="7.77" fill="#000" opacity="0.42" filter="url(#gb1)"/>
<ellipse cx="1465.13" cy="1615.08" rx="9.09" ry="7.77" fill="#000" opacity="0.42" filter="url(#gb1)"/>
<ellipse cx="1520.81" cy="1613.69" rx="8.27" ry="7.77" fill="#000" opacity="0.42" filter="url(#gb1)"/>
<ellipse cx="1445.99" cy="1629.87" rx="5.62" ry="7.27" fill="#000" opacity="0.42" filter="url(#gb1)"/>
<ellipse cx="1606.42" cy="1621.87" rx="6.45" ry="9.09" fill="#000" opacity="0.42" filter="url(#gb1)"/>
<ellipse cx="1507.24" cy="1639.44" rx="9.75" ry="10.91" fill="#000" opacity="0.42" filter="url(#gb1)"/>
<ellipse cx="1541.17" cy="1632.66" rx="8.27" ry="7.77" fill="#000" opacity="0.42" filter="url(#gb1)"/>
<ellipse cx="1571.1" cy="1638.05" rx="9.09" ry="8.27" fill="#000" opacity="0.42" filter="url(#gb1)"/>
<ellipse cx="1467.74" cy="1653.01" rx="8.27" ry="9.09" fill="#000" opacity="0.42" filter="url(#gb1)"/>
<ellipse cx="1605.03" cy="1657.02" rx="7.77" ry="9.09" fill="#000" opacity="0.42" filter="url(#gb1)"/>
<ellipse cx="1584.67" cy="1666.59" rx="7.27" ry="6.45" fill="#000" opacity="0.42" filter="url(#gb1)"/>
<ellipse cx="1448.78" cy="1681.38" rx="6.45" ry="6.45" fill="#000" opacity="0.42" filter="url(#gb1)"/>
<ellipse cx="1480.1" cy="1684.16" rx="9.09" ry="8.27" fill="#000" opacity="0.42" filter="url(#gb1)"/>
<ellipse cx="1509.85" cy="1682.77" rx="8.27" ry="9.09" fill="#000" opacity="0.42" filter="url(#gb1)"/>
<ellipse cx="1571.1" cy="1678.77" rx="8.27" ry="9.09" fill="#000" opacity="0.42" filter="url(#gb1)"/>
<ellipse cx="1539.78" cy="1701.73" rx="10.41" ry="8.27" fill="#000" opacity="0.42" filter="url(#gb1)"/>
<ellipse cx="1603.81" cy="1704.52" rx="9.09" ry="9.09" fill="#000" opacity="0.42" filter="url(#gb1)"/>
<ellipse cx="1484.1" cy="1712.52" rx="7.77" ry="7.77" fill="#000" opacity="0.42" filter="url(#gb1)"/>
</g>
<line x1="1593.72" y1="1721.57" x2="1607.64" y2="1721.57" stroke="#ddd" stroke-width="1.2" />
<rect x="1617.3" y="1555.4" width="174" height="174" fill="#00000c"/>
<g clip-path="url(#ct1617_1555)">
<ellipse cx="1633.66" cy="1566.19" rx="8.18" ry="6.79" fill="#1a26d8" opacity="0.47" filter="url(#gb15)"/>
<ellipse cx="1652.62" cy="1559.4" rx="5.39" ry="3.31" fill="#1a26d8" opacity="0.43" filter="url(#gb15)"/>
<ellipse cx="1671.67" cy="1587.94" rx="10.27" ry="10.27" fill="#1a26d8" opacity="0.47" filter="url(#gb15)"/>
<ellipse cx="1731.44" cy="1600.12" rx="9.57" ry="8.18" fill="#1a26d8" opacity="0.51" filter="url(#gb15)"/>
<ellipse cx="1641.83" cy="1615.08" rx="9.57" ry="8.18" fill="#1a26d8" opacity="0.62" filter="url(#gb15)"/>
<ellipse cx="1697.51" cy="1613.69" rx="8.7" ry="8.18" fill="#1a26d8" opacity="0.55" filter="url(#gb15)"/>
<ellipse cx="1622.69" cy="1629.87" rx="5.92" ry="7.66" fill="#1a26d8" opacity="0.66" filter="url(#gb15)"/>
<ellipse cx="1783.12" cy="1621.87" rx="6.79" ry="9.57" fill="#1a26d8" opacity="0.39" filter="url(#gb15)"/>
<ellipse cx="1683.94" cy="1639.44" rx="10.27" ry="11.48" fill="#1a26d8" opacity="0.66" filter="url(#gb15)"/>
<ellipse cx="1717.87" cy="1632.66" rx="8.7" ry="8.18" fill="#1a26d8" opacity="0.66" filter="url(#gb15)"/>
<ellipse cx="1747.8" cy="1638.05" rx="9.57" ry="8.7" fill="#1a26d8" opacity="0.62" filter="url(#gb15)"/>
<ellipse cx="1644.44" cy="1653.01" rx="8.7" ry="9.57" fill="#1a26d8" opacity="0.62" filter="url(#gb15)"/>
<ellipse cx="1781.73" cy="1657.02" rx="8.18" ry="9.57" fill="#1a26d8" opacity="0.47" filter="url(#gb15)"/>
<ellipse cx="1761.37" cy="1666.59" rx="7.66" ry="6.79" fill="#1a26d8" opacity="0.62" filter="url(#gb15)"/>
<ellipse cx="1625.48" cy="1681.38" rx="6.79" ry="6.79" fill="#1a26d8" opacity="0.66" filter="url(#gb15)"/>
<ellipse cx="1656.8" cy="1684.16" rx="9.57" ry="8.7" fill="#1a26d8" opacity="0.55" filter="url(#gb15)"/>
<ellipse cx="1686.55" cy="1682.77" rx="8.7" ry="9.57" fill="#1a26d8" opacity="0.58" filter="url(#gb15)"/>
<ellipse cx="1747.8" cy="1678.77" rx="8.7" ry="9.57" fill="#1a26d8" opacity="0.51" filter="url(#gb15)"/>
<ellipse cx="1716.48" cy="1701.73" rx="10.96" ry="8.7" fill="#1a26d8" opacity="0.51" filter="url(#gb15)"/>
<ellipse cx="1780.51" cy="1704.52" rx="9.57" ry="9.57" fill="#1a26d8" opacity="0.43" filter="url(#gb15)"/>
<ellipse cx="1660.8" cy="1712.52" rx="8.18" ry="8.18" fill="#1a26d8" opacity="0.43" filter="url(#gb15)"/>
</g>
<line x1="1770.42" y1="1721.57" x2="1784.34" y2="1721.57" stroke="#ddd" stroke-width="1.2" />
<rect x="1795.6" y="1555.4" width="174" height="174" fill="#00000a"/>
<g clip-path="url(#ct1795_1555)" style="isolation:isolate">
<path d="M1808.73,1554.83 C1812.12,1555.29 1820.24,1560.03 1822.49,1562.39 C1824.75,1564.76 1822.51,1565.86 1822.27,1569.02 C1822.04,1572.19 1822.97,1578.86 1821.07,1581.39 C1819.17,1583.92 1814.44,1583.57 1810.87,1584.2 C1807.29,1584.82 1801.67,1587.55 1799.62,1585.14 C1797.57,1582.72 1798.13,1573.97 1798.56,1569.72 C1798.99,1565.46 1800.48,1562.1 1802.18,1559.62 C1803.87,1557.13 1805.35,1554.36 1808.73,1554.83Z" fill="#248024" opacity="0.26" filter="url(#gb2)"/>
<path d="M1816.91,1578.62 C1814.76,1580.05 1809.76,1581.72 1807.47,1580.62 C1805.17,1579.52 1802.99,1574.7 1803.12,1572.01 C1803.24,1569.32 1806.57,1565.76 1808.2,1564.46 C1809.84,1563.16 1810.91,1562.94 1812.94,1564.2 C1814.96,1565.46 1819.69,1569.62 1820.35,1572.03 C1821.01,1574.43 1819.06,1577.19 1816.91,1578.62Z" fill="#3aa83a" opacity="0.12" filter="url(#gb2)"/>
<path d="M1832.6,1588.63 C1831.43,1584.63 1834.42,1581.46 1836.78,1578.37 C1839.15,1575.28 1842.26,1569.95 1846.78,1570.1 C1851.3,1570.25 1859.52,1576.08 1863.89,1579.28 C1868.27,1582.47 1872.88,1585.81 1873.03,1589.27 C1873.19,1592.73 1867.81,1597.35 1864.83,1600.03 C1861.85,1602.71 1858.65,1604.95 1855.15,1605.34 C1851.65,1605.73 1847.57,1605.15 1843.81,1602.36 C1840.05,1599.58 1833.77,1592.63 1832.6,1588.63Z" fill="#248024" opacity="0.26" filter="url(#gb2)"/>
<path d="M1843.68,1596.28 C1841.62,1594.05 1840.38,1590.75 1841.06,1588.34 C1841.74,1585.93 1844.99,1582.53 1847.75,1581.8 C1850.52,1581.07 1855.01,1581.95 1857.63,1583.94 C1860.25,1585.94 1864.17,1590.81 1863.47,1593.77 C1862.77,1596.72 1856.71,1601.27 1853.42,1601.68 C1850.12,1602.1 1845.74,1598.5 1843.68,1596.28Z" fill="#3aa83a" opacity="0.12" filter="url(#gb2)"/>
<path d="M1928.94,1606.83 C1926.95,1611.23 1919.22,1609.46 1915.31,1611.64 C1911.39,1613.83 1908.58,1621.14 1905.46,1619.91 C1902.35,1618.69 1897.62,1609.11 1896.63,1604.29 C1895.63,1599.47 1898.85,1594.63 1899.51,1590.97 C1900.17,1587.32 1897.77,1584.2 1900.58,1582.36 C1903.4,1580.52 1911.96,1579.46 1916.41,1579.93 C1920.85,1580.41 1925.17,1580.74 1927.25,1585.22 C1929.34,1589.7 1930.93,1602.42 1928.94,1606.83Z" fill="#248024" opacity="0.38" filter="url(#gb2)"/>
<path d="M1909.84,1609.6 C1906.96,1609.39 1902.94,1605.29 1901.39,1602.7 C1899.84,1600.11 1899.39,1596.53 1900.52,1594.06 C1901.66,1591.6 1905.06,1588.37 1908.21,1587.92 C1911.35,1587.47 1917.67,1588.69 1919.41,1591.36 C1921.14,1594.03 1920.21,1600.91 1918.61,1603.95 C1917.02,1606.99 1912.71,1609.81 1909.84,1609.6Z" fill="#3aa83a" opacity="0.18" filter="url(#gb2)"/>
<path d="M1866.44,1605.32 C1868.95,1603.12 1872.96,1600.2 1877,1599.79 C1881.03,1599.39 1888.22,1600.57 1890.65,1602.91 C1893.08,1605.25 1892.38,1610.36 1891.58,1613.83 C1890.79,1617.3 1888.36,1621.47 1885.87,1623.72 C1883.38,1625.97 1880.4,1627.85 1876.65,1627.35 C1872.9,1626.86 1865.84,1623.14 1863.39,1620.75 C1860.94,1618.35 1861.44,1615.56 1861.94,1612.99 C1862.45,1610.42 1863.93,1607.51 1866.44,1605.32Z" fill="#248024" opacity="0.35" filter="url(#gb2)"/>
<path d="M1879.24,1605.16 C1881.39,1605.4 1883.52,1607.51 1883.89,1609.54 C1884.26,1611.57 1883.26,1615.65 1881.45,1617.34 C1879.64,1619.03 1875.04,1619.99 1873.01,1619.67 C1870.98,1619.36 1869.6,1617.4 1869.26,1615.47 C1868.92,1613.55 1869.3,1609.85 1870.97,1608.13 C1872.63,1606.41 1877.08,1604.93 1879.24,1605.16Z" fill="#3aa83a" opacity="0.16" filter="url(#gb2)"/>
<path d="M1858.72,1654.36 C1854.93,1653.45 1853.47,1651.28 1851.03,1648.15 C1848.58,1645.03 1843.64,1639.45 1844.05,1635.61 C1844.47,1631.77 1850.54,1627.03 1853.53,1625.1 C1856.52,1623.17 1858.75,1624.29 1861.98,1624.04 C1865.2,1623.8 1870.4,1620.54 1872.89,1623.61 C1875.38,1626.68 1876.76,1637.47 1876.91,1642.47 C1877.05,1647.47 1876.8,1651.61 1873.77,1653.59 C1870.74,1655.58 1862.51,1655.27 1858.72,1654.36Z" fill="#248024" opacity="0.29" filter="url(#gb2)"/>
<path d="M1861,1629.3 C1863.64,1629.44 1868.57,1631.07 1869.86,1633.5 C1871.15,1635.93 1870.33,1641.1 1868.74,1643.88 C1867.15,1646.66 1862.86,1650.47 1860.32,1650.18 C1857.77,1649.89 1854.54,1645.05 1853.49,1642.14 C1852.44,1639.22 1852.78,1634.84 1854.03,1632.7 C1855.28,1630.56 1858.36,1629.17 1861,1629.3Z" fill="#3aa83a" opacity="0.13" filter="url(#gb2)"/>
<path d="M1970.17,1615.36 C1970.96,1620.54 1970.36,1632.23 1968.16,1636.99 C1965.96,1641.76 1960.96,1643.49 1956.98,1643.95 C1953,1644.42 1946.38,1642.35 1944.3,1639.79 C1942.21,1637.24 1945,1633.72 1944.47,1628.61 C1943.93,1623.5 1940.21,1613.81 1941.07,1609.12 C1941.94,1604.43 1945.93,1600.99 1949.66,1600.45 C1953.38,1599.92 1960,1603.43 1963.42,1605.92 C1966.84,1608.4 1969.38,1610.18 1970.17,1615.36Z" fill="#248024" opacity="0.29" filter="url(#gb2)"/>
<path d="M1958.35,1634.2 C1955.7,1635.39 1951.78,1634.78 1949.61,1632.62 C1947.43,1630.46 1945.01,1625.23 1945.31,1621.23 C1945.61,1617.23 1949.14,1610.25 1951.43,1608.62 C1953.71,1607 1956.69,1608.68 1959.03,1611.49 C1961.37,1614.3 1965.58,1621.7 1965.47,1625.49 C1965.36,1629.27 1960.99,1633.01 1958.35,1634.2Z" fill="#3aa83a" opacity="0.13" filter="url(#gb2)"/>
<path d="M1944.84,1636.23 C1947.76,1633.39 1951.8,1631.95 1955.14,1632.13 C1958.49,1632.32 1962.82,1633.13 1964.92,1637.32 C1967.02,1641.51 1968.33,1652.09 1967.73,1657.27 C1967.13,1662.45 1963.85,1666.44 1961.33,1668.41 C1958.81,1670.38 1956.22,1669.77 1952.63,1669.06 C1949.03,1668.36 1942.26,1667.51 1939.76,1664.19 C1937.26,1660.87 1936.77,1653.79 1937.62,1649.13 C1938.46,1644.47 1941.92,1639.06 1944.84,1636.23Z" fill="#248024" opacity="0.26" filter="url(#gb2)"/>
<path d="M1944.95,1658.73 C1943.7,1656.88 1944.36,1650 1945.07,1647.21 C1945.79,1644.42 1947.18,1642.35 1949.23,1641.98 C1951.28,1641.61 1955.55,1642.65 1957.38,1644.99 C1959.21,1647.34 1961.02,1653.83 1960.22,1656.04 C1959.42,1658.25 1955.13,1657.81 1952.59,1658.26 C1950.04,1658.71 1946.2,1660.57 1944.95,1658.73Z" fill="#3aa83a" opacity="0.12" filter="url(#gb2)"/>
<path d="M1828.03,1670.59 C1831.63,1669.15 1841.26,1664.6 1844.4,1666.47 C1847.53,1668.35 1845.75,1677.16 1846.83,1681.84 C1847.9,1686.51 1852.15,1690.89 1850.84,1694.54 C1849.52,1698.19 1843.69,1703.05 1838.93,1703.75 C1834.18,1704.44 1826.41,1701.29 1822.31,1698.7 C1818.21,1696.12 1814.27,1692.17 1814.35,1688.24 C1814.43,1684.31 1820.52,1678.05 1822.8,1675.11 C1825.08,1672.16 1824.43,1672.02 1828.03,1670.59Z" fill="#248024" opacity="0.41" filter="url(#gb2)"/>
<path d="M1831.68,1692.09 C1828.25,1692.14 1824.09,1692.21 1822.83,1689.77 C1821.57,1687.33 1822.19,1679.98 1824.11,1677.45 C1826.02,1674.92 1831.45,1674.23 1834.32,1674.61 C1837.18,1674.98 1839.77,1677.24 1841.28,1679.72 C1842.79,1682.2 1844.99,1687.4 1843.39,1689.47 C1841.79,1691.53 1835.11,1692.04 1831.68,1692.09Z" fill="#3aa83a" opacity="0.19" filter="url(#gb2)"/>
<path d="M1861.5,1699.2 C1858.5,1696.36 1858.21,1688.91 1856.65,1683.43 C1855.09,1677.94 1850.25,1670.46 1852.15,1666.27 C1854.05,1662.08 1863.67,1659.1 1868.06,1658.29 C1872.44,1657.48 1874.51,1658.29 1878.45,1661.41 C1882.38,1664.52 1889.8,1671.82 1891.67,1676.99 C1893.55,1682.15 1892.53,1688.5 1889.7,1692.41 C1886.87,1696.32 1879.39,1699.31 1874.69,1700.45 C1869.99,1701.58 1864.51,1702.04 1861.5,1699.2Z" fill="#248024" opacity="0.51" filter="url(#gb2)"/>
<path d="M1867.07,1668.4 C1870.73,1667.59 1877.4,1667.21 1879.88,1669.72 C1882.37,1672.23 1882.7,1679.59 1881.99,1683.45 C1881.27,1687.31 1878.39,1691.85 1875.59,1692.89 C1872.79,1693.93 1868.13,1692.75 1865.18,1689.7 C1862.24,1686.64 1857.62,1678.13 1857.94,1674.58 C1858.25,1671.03 1863.42,1669.21 1867.07,1668.4Z" fill="#3aa83a" opacity="0.24" filter="url(#gb2)"/>
<path d="M1813.11,1694.22 C1810.92,1696.04 1805.5,1695.61 1802.97,1695.38 C1800.45,1695.15 1799.34,1694.86 1797.98,1692.84 C1796.61,1690.82 1795.28,1685.91 1794.78,1683.27 C1794.27,1680.63 1793.73,1679.71 1794.96,1677 C1796.19,1674.3 1799.59,1667.51 1802.17,1667.04 C1804.74,1666.57 1808.09,1671.29 1810.41,1674.18 C1812.74,1677.08 1815.68,1681.07 1816.13,1684.41 C1816.58,1687.75 1815.31,1692.39 1813.11,1694.22Z" fill="#248024" opacity="0.35" filter="url(#gb2)"/>
<path d="M1804.41,1692.62 C1802.43,1693.02 1799.36,1692.09 1798.21,1690.21 C1797.05,1688.34 1796.75,1683.55 1797.49,1681.35 C1798.23,1679.16 1801.03,1677.55 1802.65,1677.02 C1804.26,1676.5 1805.93,1676.42 1807.17,1678.21 C1808.41,1680.01 1810.54,1685.4 1810.08,1687.8 C1809.62,1690.21 1806.39,1692.22 1804.41,1692.62Z" fill="#3aa83a" opacity="0.16" filter="url(#gb2)"/>
<path d="M1836.91,1697.48 C1842.17,1696.7 1847.24,1695.07 1850.99,1696.51 C1854.75,1697.96 1859.51,1702.68 1859.44,1706.17 C1859.38,1709.65 1853.48,1714.79 1850.61,1717.41 C1847.73,1720.03 1846.06,1721.11 1842.2,1721.89 C1838.34,1722.66 1831.51,1723.75 1827.43,1722.07 C1823.36,1720.39 1819.08,1715.29 1817.75,1711.81 C1816.41,1708.34 1816.23,1703.6 1819.42,1701.21 C1822.62,1698.82 1831.65,1698.26 1836.91,1697.48Z" fill="#248024" opacity="0.29" filter="url(#gb2)"/>
<path d="M1826.56,1710.45 C1827,1707.51 1831.75,1702.29 1834.62,1700.95 C1837.49,1699.6 1841.38,1700.67 1843.78,1702.4 C1846.17,1704.13 1849.32,1708.74 1848.99,1711.32 C1848.65,1713.91 1844.58,1716.71 1841.75,1717.91 C1838.92,1719.12 1834.53,1719.81 1832,1718.57 C1829.47,1717.33 1826.13,1713.39 1826.56,1710.45Z" fill="#3aa83a" opacity="0.13" filter="url(#gb2)"/>
<path d="M1970.26,1693.02 C1972.4,1696.84 1972.47,1704.2 1971.07,1708.5 C1969.66,1712.81 1966.85,1717.11 1961.84,1718.87 C1956.82,1720.63 1946.19,1720.04 1940.98,1719.06 C1935.76,1718.07 1932.02,1715.14 1930.53,1712.96 C1929.04,1710.79 1929.88,1709.93 1932.03,1706.02 C1934.19,1702.11 1939.11,1692.92 1943.47,1689.51 C1947.84,1686.11 1953.78,1684.98 1958.24,1685.57 C1962.7,1686.15 1968.12,1689.2 1970.26,1693.02Z" fill="#248024" opacity="0.38" filter="url(#gb2)"/>
<path d="M1941.61,1708.39 C1940.46,1705.57 1940.3,1700.84 1942.51,1698.64 C1944.73,1696.45 1951.75,1694.62 1954.91,1695.22 C1958.07,1695.82 1960.61,1699.81 1961.48,1702.26 C1962.34,1704.71 1962.13,1707.73 1960.11,1709.94 C1958.1,1712.16 1952.48,1715.82 1949.39,1715.56 C1946.31,1715.3 1942.76,1711.21 1941.61,1708.39Z" fill="#3aa83a" opacity="0.18" filter="url(#gb2)"/>
<path d="M1932.71,1668.59 C1935.35,1672.32 1936.1,1677.07 1935.27,1681.53 C1934.44,1686 1931.73,1693.06 1927.73,1695.38 C1923.73,1697.7 1916.2,1696.1 1911.29,1695.48 C1906.38,1694.86 1900.5,1694.22 1898.27,1691.64 C1896.04,1689.07 1896.85,1684.57 1897.9,1680.03 C1898.95,1675.48 1900.98,1667.85 1904.57,1664.36 C1908.16,1660.88 1914.76,1658.43 1919.45,1659.14 C1924.14,1659.84 1930.08,1664.86 1932.71,1668.59Z" fill="#248024" opacity="0.19" filter="url(#gb2)"/>
<path d="M1914.12,1693.07 C1910.71,1692.56 1906.29,1688.35 1905.78,1685.08 C1905.27,1681.82 1908.43,1675.34 1911.06,1673.48 C1913.68,1671.62 1918.4,1673.15 1921.52,1673.93 C1924.65,1674.71 1929.01,1675.8 1929.79,1678.17 C1930.58,1680.54 1928.85,1685.66 1926.23,1688.15 C1923.62,1690.63 1917.52,1693.59 1914.12,1693.07Z" fill="#3aa83a" opacity="0.09" filter="url(#gb2)"/>
<path d="M1800.19,1613.02 C1798.84,1608.11 1799.59,1598.8 1803.18,1594.28 C1806.76,1589.77 1816.3,1585.86 1821.69,1585.94 C1827.08,1586.02 1831.6,1590.95 1835.52,1594.77 C1839.44,1598.58 1844.17,1604.71 1845.23,1608.83 C1846.3,1612.96 1845.32,1615.72 1841.91,1619.5 C1838.49,1623.27 1829.86,1630.78 1824.76,1631.49 C1819.66,1632.19 1815.4,1626.83 1811.3,1623.75 C1807.21,1620.67 1801.55,1617.93 1800.19,1613.02Z" fill="#248024" opacity="0.13" filter="url(#gb2)"/>
<path d="M1830.37,1617.23 C1826.56,1619.25 1817.21,1620.8 1813.51,1619.18 C1809.81,1617.56 1807.91,1610.86 1808.18,1607.5 C1808.44,1604.14 1811.95,1600.3 1815.1,1599 C1818.25,1597.71 1823.52,1598.39 1827.06,1599.73 C1830.6,1601.08 1835.79,1604.16 1836.34,1607.08 C1836.89,1610 1834.17,1615.21 1830.37,1617.23Z" fill="#3aa83a" opacity="0.06" filter="url(#gb2)"/>
<path d="M1872.74,1643.59 C1873.84,1642.34 1878.42,1644.45 1882,1646.2 C1885.58,1647.95 1890.93,1650.88 1894.23,1654.08 C1897.52,1657.28 1901.12,1662.16 1901.78,1665.41 C1902.44,1668.65 1900.35,1672.45 1898.18,1673.57 C1896.01,1674.69 1892.33,1673.46 1888.77,1672.12 C1885.21,1670.77 1879.05,1668.58 1876.81,1665.5 C1874.57,1662.43 1876.03,1657.35 1875.35,1653.69 C1874.67,1650.04 1871.63,1644.84 1872.74,1643.59Z" fill="#248024" opacity="0.32" filter="url(#gb2)"/>
<path d="M1895,1666.14 C1894.7,1668.02 1890.5,1667.6 1888.2,1666.86 C1885.9,1666.12 1883.1,1663.83 1881.2,1661.71 C1879.3,1659.59 1876.75,1655.89 1876.81,1654.15 C1876.86,1652.42 1879.34,1651.06 1881.54,1651.3 C1883.73,1651.54 1887.72,1653.11 1889.96,1655.58 C1892.2,1658.06 1895.29,1664.26 1895,1666.14Z" fill="#3aa83a" opacity="0.15" filter="url(#gb2)"/>
<ellipse cx="1811.96" cy="1566.19" rx="10.63" ry="8.82" fill="none" stroke="#46cc46" stroke-width="2.61" opacity="0.13" filter="url(#gb15)"/>
<ellipse cx="1849.97" cy="1587.94" rx="13.35" ry="13.35" fill="none" stroke="#46cc46" stroke-width="2.61" opacity="0.13" filter="url(#gb15)"/>
<ellipse cx="1909.74" cy="1600.12" rx="12.44" ry="10.63" fill="none" stroke="#46cc46" stroke-width="2.61" opacity="0.19" filter="url(#gb15)"/>
<ellipse cx="1820.13" cy="1615.08" rx="12.44" ry="10.63" fill="none" stroke="#46cc46" stroke-width="2.61" opacity="0.06" filter="url(#gb15)"/>
<ellipse cx="1875.81" cy="1613.69" rx="11.31" ry="10.63" fill="none" stroke="#46cc46" stroke-width="2.61" opacity="0.18" filter="url(#gb15)"/>
<ellipse cx="1961.42" cy="1621.87" rx="8.82" ry="12.44" fill="none" stroke="#46cc46" stroke-width="2.61" opacity="0.15" filter="url(#gb15)"/>
<ellipse cx="1862.24" cy="1639.44" rx="13.35" ry="14.93" fill="none" stroke="#46cc46" stroke-width="2.61" opacity="0.15" filter="url(#gb15)"/>
<ellipse cx="1960.03" cy="1657.02" rx="10.63" ry="12.44" fill="none" stroke="#46cc46" stroke-width="2.61" opacity="0.13" filter="url(#gb15)"/>
<ellipse cx="1803.78" cy="1681.38" rx="8.82" ry="8.82" fill="none" stroke="#46cc46" stroke-width="2.61" opacity="0.18" filter="url(#gb15)"/>
<ellipse cx="1835.1" cy="1684.16" rx="12.44" ry="11.31" fill="none" stroke="#46cc46" stroke-width="2.61" opacity="0.21" filter="url(#gb15)"/>
<ellipse cx="1864.85" cy="1682.77" rx="11.31" ry="12.44" fill="none" stroke="#46cc46" stroke-width="2.61" opacity="0.26" filter="url(#gb15)"/>
<ellipse cx="1926.1" cy="1678.77" rx="11.31" ry="12.44" fill="none" stroke="#46cc46" stroke-width="2.61" opacity="0.1" filter="url(#gb15)"/>
<ellipse cx="1958.81" cy="1704.52" rx="12.44" ry="12.44" fill="none" stroke="#46cc46" stroke-width="2.61" opacity="0.19" filter="url(#gb15)"/>
<ellipse cx="1839.1" cy="1712.52" rx="10.63" ry="10.63" fill="none" stroke="#46cc46" stroke-width="2.61" opacity="0.15" filter="url(#gb15)"/>
<ellipse cx="1811.96" cy="1566.19" rx="7.77" ry="6.45" fill="#000" opacity="0.42" filter="url(#gb1)"/>
<ellipse cx="1830.92" cy="1559.4" rx="5.12" ry="3.14" fill="#000" opacity="0.42" filter="url(#gb1)"/>
<ellipse cx="1849.97" cy="1587.94" rx="9.75" ry="9.75" fill="#000" opacity="0.42" filter="url(#gb1)"/>
<ellipse cx="1909.74" cy="1600.12" rx="9.09" ry="7.77" fill="#000" opacity="0.42" filter="url(#gb1)"/>
<ellipse cx="1820.13" cy="1615.08" rx="9.09" ry="7.77" fill="#000" opacity="0.42" filter="url(#gb1)"/>
<ellipse cx="1875.81" cy="1613.69" rx="8.27" ry="7.77" fill="#000" opacity="0.42" filter="url(#gb1)"/>
<ellipse cx="1800.99" cy="1629.87" rx="5.62" ry="7.27" fill="#000" opacity="0.42" filter="url(#gb1)"/>
<ellipse cx="1961.42" cy="1621.87" rx="6.45" ry="9.09" fill="#000" opacity="0.42" filter="url(#gb1)"/>
<ellipse cx="1862.24" cy="1639.44" rx="9.75" ry="10.91" fill="#000" opacity="0.42" filter="url(#gb1)"/>
<ellipse cx="1896.17" cy="1632.66" rx="8.27" ry="7.77" fill="#000" opacity="0.42" filter="url(#gb1)"/>
<ellipse cx="1926.1" cy="1638.05" rx="9.09" ry="8.27" fill="#000" opacity="0.42" filter="url(#gb1)"/>
<ellipse cx="1822.74" cy="1653.01" rx="8.27" ry="9.09" fill="#000" opacity="0.42" filter="url(#gb1)"/>
<ellipse cx="1960.03" cy="1657.02" rx="7.77" ry="9.09" fill="#000" opacity="0.42" filter="url(#gb1)"/>
<ellipse cx="1939.67" cy="1666.59" rx="7.27" ry="6.45" fill="#000" opacity="0.42" filter="url(#gb1)"/>
<ellipse cx="1803.78" cy="1681.38" rx="6.45" ry="6.45" fill="#000" opacity="0.42" filter="url(#gb1)"/>
<ellipse cx="1835.1" cy="1684.16" rx="9.09" ry="8.27" fill="#000" opacity="0.42" filter="url(#gb1)"/>
<ellipse cx="1864.85" cy="1682.77" rx="8.27" ry="9.09" fill="#000" opacity="0.42" filter="url(#gb1)"/>
<ellipse cx="1926.1" cy="1678.77" rx="8.27" ry="9.09" fill="#000" opacity="0.42" filter="url(#gb1)"/>
<ellipse cx="1894.78" cy="1701.73" rx="10.41" ry="8.27" fill="#000" opacity="0.42" filter="url(#gb1)"/>
<ellipse cx="1958.81" cy="1704.52" rx="9.09" ry="9.09" fill="#000" opacity="0.42" filter="url(#gb1)"/>
<ellipse cx="1839.1" cy="1712.52" rx="7.77" ry="7.77" fill="#000" opacity="0.42" filter="url(#gb1)"/>
<g style="mix-blend-mode:screen">
<ellipse cx="1811.96" cy="1566.19" rx="8.18" ry="6.79" fill="#1a26d8" opacity="0.47" filter="url(#gb15)"/>
<ellipse cx="1830.92" cy="1559.4" rx="5.39" ry="3.31" fill="#1a26d8" opacity="0.43" filter="url(#gb15)"/>
<ellipse cx="1849.97" cy="1587.94" rx="10.27" ry="10.27" fill="#1a26d8" opacity="0.47" filter="url(#gb15)"/>
<ellipse cx="1909.74" cy="1600.12" rx="9.57" ry="8.18" fill="#1a26d8" opacity="0.51" filter="url(#gb15)"/>
<ellipse cx="1820.13" cy="1615.08" rx="9.57" ry="8.18" fill="#1a26d8" opacity="0.62" filter="url(#gb15)"/>
<ellipse cx="1875.81" cy="1613.69" rx="8.7" ry="8.18" fill="#1a26d8" opacity="0.55" filter="url(#gb15)"/>
<ellipse cx="1800.99" cy="1629.87" rx="5.92" ry="7.66" fill="#1a26d8" opacity="0.66" filter="url(#gb15)"/>
<ellipse cx="1961.42" cy="1621.87" rx="6.79" ry="9.57" fill="#1a26d8" opacity="0.39" filter="url(#gb15)"/>
<ellipse cx="1862.24" cy="1639.44" rx="10.27" ry="11.48" fill="#1a26d8" opacity="0.66" filter="url(#gb15)"/>
<ellipse cx="1896.17" cy="1632.66" rx="8.7" ry="8.18" fill="#1a26d8" opacity="0.66" filter="url(#gb15)"/>
<ellipse cx="1926.1" cy="1638.05" rx="9.57" ry="8.7" fill="#1a26d8" opacity="0.62" filter="url(#gb15)"/>
<ellipse cx="1822.74" cy="1653.01" rx="8.7" ry="9.57" fill="#1a26d8" opacity="0.62" filter="url(#gb15)"/>
<ellipse cx="1960.03" cy="1657.02" rx="8.18" ry="9.57" fill="#1a26d8" opacity="0.47" filter="url(#gb15)"/>
<ellipse cx="1939.67" cy="1666.59" rx="7.66" ry="6.79" fill="#1a26d8" opacity="0.62" filter="url(#gb15)"/>
<ellipse cx="1803.78" cy="1681.38" rx="6.79" ry="6.79" fill="#1a26d8" opacity="0.66" filter="url(#gb15)"/>
<ellipse cx="1835.1" cy="1684.16" rx="9.57" ry="8.7" fill="#1a26d8" opacity="0.55" filter="url(#gb15)"/>
<ellipse cx="1864.85" cy="1682.77" rx="8.7" ry="9.57" fill="#1a26d8" opacity="0.58" filter="url(#gb15)"/>
<ellipse cx="1926.1" cy="1678.77" rx="8.7" ry="9.57" fill="#1a26d8" opacity="0.51" filter="url(#gb15)"/>
<ellipse cx="1894.78" cy="1701.73" rx="10.96" ry="8.7" fill="#1a26d8" opacity="0.51" filter="url(#gb15)"/>
<ellipse cx="1958.81" cy="1704.52" rx="9.57" ry="9.57" fill="#1a26d8" opacity="0.43" filter="url(#gb15)"/>
<ellipse cx="1839.1" cy="1712.52" rx="8.18" ry="8.18" fill="#1a26d8" opacity="0.43" filter="url(#gb15)"/>
</g></g>
<line x1="1948.72" y1="1721.57" x2="1962.64" y2="1721.57" stroke="#ddd" stroke-width="1.2" />
<text transform="translate(1427.5,1463.5) rotate(-90)" font-size="24" text-anchor="middle" fill="#000">hFSP1</text>
<text transform="translate(1427.5,1639.9) rotate(-90)" font-size="24" text-anchor="middle" fill="#000">mFsp1</text>
<text x="1691.6" y="1764.9" font-size="25" font-weight="bold" text-anchor="middle">Pfa1 <tspan font-style="italic">Gpx4</tspan><tspan dx="3.75" dy="-10" font-size="14.5">WT</tspan><tspan dy="10"></tspan></text>
</svg>
</body></html>
